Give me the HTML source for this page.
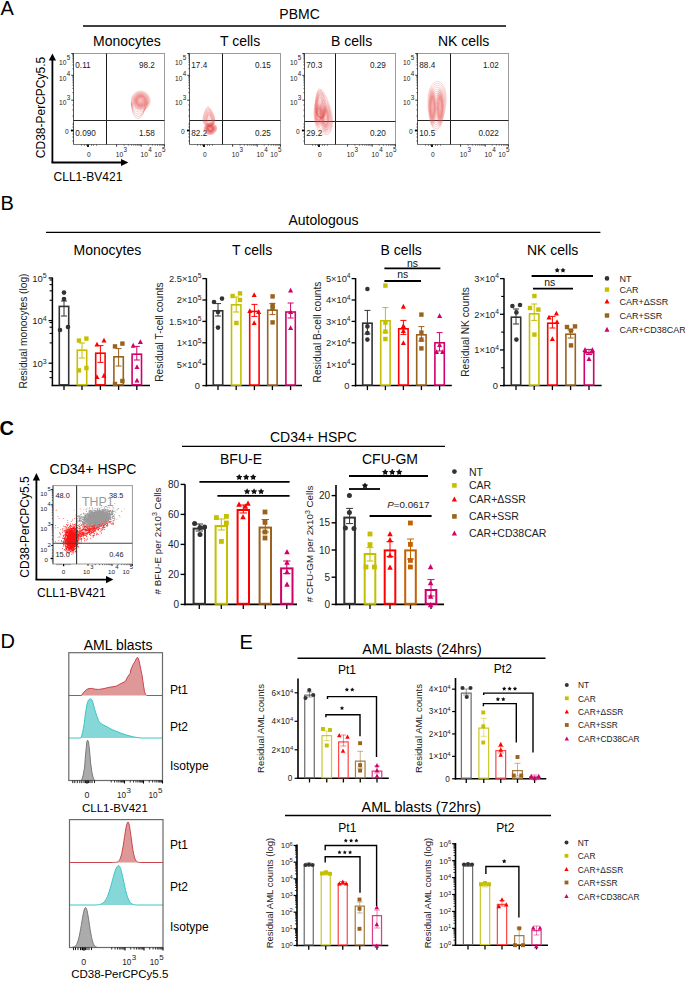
<!DOCTYPE html>
<html><head><meta charset="utf-8"><style>
html,body{margin:0;padding:0;background:#fff;overflow:hidden;}
svg{display:block;}
text{font-family:"Liberation Sans", sans-serif;}
</style></head><body>
<svg width="685" height="981" viewBox="0 0 685 981">
<defs><radialGradient id="cg"><stop offset="0" stop-color="#e04848" stop-opacity="0.9"/><stop offset="0.6" stop-color="#e86060" stop-opacity="0.55"/><stop offset="1" stop-color="#f09090" stop-opacity="0.15"/></radialGradient>
<radialGradient id="dg"><stop offset="0" stop-color="#ffffff" stop-opacity="0.9"/><stop offset="0.12" stop-color="#f07070" stop-opacity="0.25"/><stop offset="0.5" stop-color="#e04848" stop-opacity="0.5"/><stop offset="0.8" stop-color="#e86868" stop-opacity="0.28"/><stop offset="1" stop-color="#f49a9a" stop-opacity="0.06"/></radialGradient></defs>
<rect x="0" y="0" width="685" height="981" fill="#fff"/>
<text x="0.5" y="14.8" font-size="20" text-anchor="start" font-weight="normal" fill="#000">A</text>
<text x="299.6" y="19" font-size="14" text-anchor="middle" font-weight="normal" fill="#000">PBMC</text>
<line x1="83" y1="26" x2="506" y2="26" stroke="#000" stroke-width="1.4"/>
<text x="93" y="45.6" font-size="14" text-anchor="start" font-weight="normal" fill="#000">Monocytes</text>
<text x="220" y="45.6" font-size="14" text-anchor="start" font-weight="normal" fill="#000">T cells</text>
<text x="331" y="45.6" font-size="14" text-anchor="start" font-weight="normal" fill="#000">B cells</text>
<text x="438" y="45.6" font-size="14" text-anchor="start" font-weight="normal" fill="#000">NK cells</text>
<rect x="73.5" y="53.5" width="91" height="91" stroke="#9a9a9a" fill="none" stroke-width="1"/>
<line x1="73.5" y1="53.5" x2="73.5" y2="144.5" stroke="#555" stroke-width="1"/>
<line x1="73.5" y1="144.5" x2="164.5" y2="144.5" stroke="#777" stroke-width="1"/>
<line x1="106.5" y1="53.5" x2="106.5" y2="144.5" stroke="#1a1a1a" stroke-width="1"/>
<line x1="73.5" y1="120.5" x2="164.5" y2="120.5" stroke="#262626" stroke-width="1"/>
<line x1="71.3" y1="100.2" x2="73.5" y2="100.2" stroke="#000" stroke-width="0.8"/>
<line x1="71.3" y1="75.3" x2="73.5" y2="75.3" stroke="#000" stroke-width="0.8"/>
<line x1="71.3" y1="53.5" x2="73.5" y2="53.5" stroke="#000" stroke-width="0.8"/>
<line x1="72.2" y1="92.7" x2="73.5" y2="92.7" stroke="#000" stroke-width="0.5"/>
<line x1="72.2" y1="88.32" x2="73.5" y2="88.32" stroke="#000" stroke-width="0.5"/>
<line x1="72.2" y1="85.21" x2="73.5" y2="85.21" stroke="#000" stroke-width="0.5"/>
<line x1="72.2" y1="82.8" x2="73.5" y2="82.8" stroke="#000" stroke-width="0.5"/>
<line x1="72.2" y1="80.82" x2="73.5" y2="80.82" stroke="#000" stroke-width="0.5"/>
<line x1="72.2" y1="79.16" x2="73.5" y2="79.16" stroke="#000" stroke-width="0.5"/>
<line x1="72.2" y1="77.71" x2="73.5" y2="77.71" stroke="#000" stroke-width="0.5"/>
<line x1="72.2" y1="76.44" x2="73.5" y2="76.44" stroke="#000" stroke-width="0.5"/>
<line x1="72.2" y1="68.74" x2="73.5" y2="68.74" stroke="#000" stroke-width="0.5"/>
<line x1="72.2" y1="64.9" x2="73.5" y2="64.9" stroke="#000" stroke-width="0.5"/>
<line x1="72.2" y1="62.18" x2="73.5" y2="62.18" stroke="#000" stroke-width="0.5"/>
<line x1="72.2" y1="60.06" x2="73.5" y2="60.06" stroke="#000" stroke-width="0.5"/>
<line x1="72.2" y1="58.34" x2="73.5" y2="58.34" stroke="#000" stroke-width="0.5"/>
<line x1="72.2" y1="56.88" x2="73.5" y2="56.88" stroke="#000" stroke-width="0.5"/>
<line x1="72.2" y1="55.61" x2="73.5" y2="55.61" stroke="#000" stroke-width="0.5"/>
<line x1="72.2" y1="54.5" x2="73.5" y2="54.5" stroke="#000" stroke-width="0.5"/>
<line x1="72.2" y1="105" x2="73.5" y2="105" stroke="#000" stroke-width="0.5"/>
<line x1="72.2" y1="110" x2="73.5" y2="110" stroke="#000" stroke-width="0.5"/>
<line x1="72.2" y1="116" x2="73.5" y2="116" stroke="#000" stroke-width="0.5"/>
<line x1="72.2" y1="124" x2="73.5" y2="124" stroke="#000" stroke-width="0.5"/>
<line x1="72.2" y1="127" x2="73.5" y2="127" stroke="#000" stroke-width="0.5"/>
<line x1="72.2" y1="134" x2="73.5" y2="134" stroke="#000" stroke-width="0.5"/>
<line x1="72.2" y1="137" x2="73.5" y2="137" stroke="#000" stroke-width="0.5"/>
<line x1="72.2" y1="141" x2="73.5" y2="141" stroke="#000" stroke-width="0.5"/>
<line x1="70.9" y1="130.5" x2="73.5" y2="130.5" stroke="#000" stroke-width="1.8"/>
<text x="59.1" y="64.8" font-size="6.6" fill="#222">10<tspan font-size="6.27" dx="0.3" dy="-5">5</tspan></text>
<text x="59.1" y="80.6" font-size="6.6" fill="#222">10<tspan font-size="6.27" dx="0.3" dy="-5">4</tspan></text>
<text x="59.1" y="105" font-size="6.6" fill="#222">10<tspan font-size="6.27" dx="0.3" dy="-5">3</tspan></text>
<text x="64.9" y="134.3" font-size="6.6" text-anchor="start" font-weight="normal" fill="#222">0</text>
<line x1="88" y1="144.5" x2="88" y2="146.9" stroke="#000" stroke-width="1.8"/>
<line x1="81.5" y1="144.5" x2="81.5" y2="145.8" stroke="#000" stroke-width="0.5"/>
<line x1="84.5" y1="144.5" x2="84.5" y2="145.8" stroke="#000" stroke-width="0.5"/>
<line x1="86.5" y1="144.5" x2="86.5" y2="145.8" stroke="#000" stroke-width="0.5"/>
<line x1="91.5" y1="144.5" x2="91.5" y2="145.8" stroke="#000" stroke-width="0.5"/>
<line x1="93.5" y1="144.5" x2="93.5" y2="145.8" stroke="#000" stroke-width="0.5"/>
<line x1="96.5" y1="144.5" x2="96.5" y2="145.8" stroke="#000" stroke-width="0.5"/>
<line x1="116.6" y1="144.5" x2="116.6" y2="146.7" stroke="#000" stroke-width="0.8"/>
<line x1="141.2" y1="144.5" x2="141.2" y2="146.7" stroke="#000" stroke-width="0.8"/>
<line x1="164.5" y1="144.5" x2="164.5" y2="146.7" stroke="#000" stroke-width="0.8"/>
<line x1="124.01" y1="144.5" x2="124.01" y2="145.8" stroke="#000" stroke-width="0.5"/>
<line x1="128.34" y1="144.5" x2="128.34" y2="145.8" stroke="#000" stroke-width="0.5"/>
<line x1="131.41" y1="144.5" x2="131.41" y2="145.8" stroke="#000" stroke-width="0.5"/>
<line x1="133.79" y1="144.5" x2="133.79" y2="145.8" stroke="#000" stroke-width="0.5"/>
<line x1="135.74" y1="144.5" x2="135.74" y2="145.8" stroke="#000" stroke-width="0.5"/>
<line x1="137.39" y1="144.5" x2="137.39" y2="145.8" stroke="#000" stroke-width="0.5"/>
<line x1="138.82" y1="144.5" x2="138.82" y2="145.8" stroke="#000" stroke-width="0.5"/>
<line x1="140.07" y1="144.5" x2="140.07" y2="145.8" stroke="#000" stroke-width="0.5"/>
<line x1="148.21" y1="144.5" x2="148.21" y2="145.8" stroke="#000" stroke-width="0.5"/>
<line x1="152.32" y1="144.5" x2="152.32" y2="145.8" stroke="#000" stroke-width="0.5"/>
<line x1="155.23" y1="144.5" x2="155.23" y2="145.8" stroke="#000" stroke-width="0.5"/>
<line x1="157.49" y1="144.5" x2="157.49" y2="145.8" stroke="#000" stroke-width="0.5"/>
<line x1="159.33" y1="144.5" x2="159.33" y2="145.8" stroke="#000" stroke-width="0.5"/>
<line x1="160.89" y1="144.5" x2="160.89" y2="145.8" stroke="#000" stroke-width="0.5"/>
<line x1="162.24" y1="144.5" x2="162.24" y2="145.8" stroke="#000" stroke-width="0.5"/>
<line x1="163.43" y1="144.5" x2="163.43" y2="145.8" stroke="#000" stroke-width="0.5"/>
<text x="88.8" y="156.8" font-size="6.6" text-anchor="middle" font-weight="normal" fill="#222">0</text>
<text x="115.8" y="156.8" font-size="6.6" fill="#222">10<tspan font-size="6.27" dx="0.3" dy="-5">3</tspan></text>
<text x="140.5" y="156.8" font-size="6.6" fill="#222">10<tspan font-size="6.27" dx="0.3" dy="-5">4</tspan></text>
<text x="154.3" y="156.8" font-size="6.6" fill="#222">10<tspan font-size="6.27" dx="0.3" dy="-5">5</tspan></text>
<text x="75.3" y="67.6" font-size="8.2" text-anchor="start" font-weight="normal" fill="#222">0.11</text>
<text x="154.9" y="67.6" font-size="8.2" text-anchor="end" font-weight="normal" fill="#222">98.2</text>
<text x="75.3" y="136.2" font-size="8.2" text-anchor="start" font-weight="normal" fill="#222">0.090</text>
<text x="154.9" y="136.2" font-size="8.2" text-anchor="end" font-weight="normal" fill="#222">1.58</text>
<rect x="189.5" y="53.5" width="91" height="91" stroke="#9a9a9a" fill="none" stroke-width="1"/>
<line x1="189.5" y1="53.5" x2="189.5" y2="144.5" stroke="#555" stroke-width="1"/>
<line x1="189.5" y1="144.5" x2="280.5" y2="144.5" stroke="#777" stroke-width="1"/>
<line x1="222.5" y1="53.5" x2="222.5" y2="144.5" stroke="#1a1a1a" stroke-width="1"/>
<line x1="189.5" y1="120.5" x2="280.5" y2="120.5" stroke="#262626" stroke-width="1"/>
<line x1="187.3" y1="100.2" x2="189.5" y2="100.2" stroke="#000" stroke-width="0.8"/>
<line x1="187.3" y1="75.3" x2="189.5" y2="75.3" stroke="#000" stroke-width="0.8"/>
<line x1="187.3" y1="53.5" x2="189.5" y2="53.5" stroke="#000" stroke-width="0.8"/>
<line x1="188.2" y1="92.7" x2="189.5" y2="92.7" stroke="#000" stroke-width="0.5"/>
<line x1="188.2" y1="88.32" x2="189.5" y2="88.32" stroke="#000" stroke-width="0.5"/>
<line x1="188.2" y1="85.21" x2="189.5" y2="85.21" stroke="#000" stroke-width="0.5"/>
<line x1="188.2" y1="82.8" x2="189.5" y2="82.8" stroke="#000" stroke-width="0.5"/>
<line x1="188.2" y1="80.82" x2="189.5" y2="80.82" stroke="#000" stroke-width="0.5"/>
<line x1="188.2" y1="79.16" x2="189.5" y2="79.16" stroke="#000" stroke-width="0.5"/>
<line x1="188.2" y1="77.71" x2="189.5" y2="77.71" stroke="#000" stroke-width="0.5"/>
<line x1="188.2" y1="76.44" x2="189.5" y2="76.44" stroke="#000" stroke-width="0.5"/>
<line x1="188.2" y1="68.74" x2="189.5" y2="68.74" stroke="#000" stroke-width="0.5"/>
<line x1="188.2" y1="64.9" x2="189.5" y2="64.9" stroke="#000" stroke-width="0.5"/>
<line x1="188.2" y1="62.18" x2="189.5" y2="62.18" stroke="#000" stroke-width="0.5"/>
<line x1="188.2" y1="60.06" x2="189.5" y2="60.06" stroke="#000" stroke-width="0.5"/>
<line x1="188.2" y1="58.34" x2="189.5" y2="58.34" stroke="#000" stroke-width="0.5"/>
<line x1="188.2" y1="56.88" x2="189.5" y2="56.88" stroke="#000" stroke-width="0.5"/>
<line x1="188.2" y1="55.61" x2="189.5" y2="55.61" stroke="#000" stroke-width="0.5"/>
<line x1="188.2" y1="54.5" x2="189.5" y2="54.5" stroke="#000" stroke-width="0.5"/>
<line x1="188.2" y1="105" x2="189.5" y2="105" stroke="#000" stroke-width="0.5"/>
<line x1="188.2" y1="110" x2="189.5" y2="110" stroke="#000" stroke-width="0.5"/>
<line x1="188.2" y1="116" x2="189.5" y2="116" stroke="#000" stroke-width="0.5"/>
<line x1="188.2" y1="124" x2="189.5" y2="124" stroke="#000" stroke-width="0.5"/>
<line x1="188.2" y1="127" x2="189.5" y2="127" stroke="#000" stroke-width="0.5"/>
<line x1="188.2" y1="134" x2="189.5" y2="134" stroke="#000" stroke-width="0.5"/>
<line x1="188.2" y1="137" x2="189.5" y2="137" stroke="#000" stroke-width="0.5"/>
<line x1="188.2" y1="141" x2="189.5" y2="141" stroke="#000" stroke-width="0.5"/>
<line x1="186.9" y1="130.5" x2="189.5" y2="130.5" stroke="#000" stroke-width="1.8"/>
<text x="175.1" y="64.8" font-size="6.6" fill="#222">10<tspan font-size="6.27" dx="0.3" dy="-5">5</tspan></text>
<text x="175.1" y="80.6" font-size="6.6" fill="#222">10<tspan font-size="6.27" dx="0.3" dy="-5">4</tspan></text>
<text x="175.1" y="105" font-size="6.6" fill="#222">10<tspan font-size="6.27" dx="0.3" dy="-5">3</tspan></text>
<text x="180.9" y="134.3" font-size="6.6" text-anchor="start" font-weight="normal" fill="#222">0</text>
<line x1="204" y1="144.5" x2="204" y2="146.9" stroke="#000" stroke-width="1.8"/>
<line x1="197.5" y1="144.5" x2="197.5" y2="145.8" stroke="#000" stroke-width="0.5"/>
<line x1="200.5" y1="144.5" x2="200.5" y2="145.8" stroke="#000" stroke-width="0.5"/>
<line x1="202.5" y1="144.5" x2="202.5" y2="145.8" stroke="#000" stroke-width="0.5"/>
<line x1="207.5" y1="144.5" x2="207.5" y2="145.8" stroke="#000" stroke-width="0.5"/>
<line x1="209.5" y1="144.5" x2="209.5" y2="145.8" stroke="#000" stroke-width="0.5"/>
<line x1="212.5" y1="144.5" x2="212.5" y2="145.8" stroke="#000" stroke-width="0.5"/>
<line x1="232.6" y1="144.5" x2="232.6" y2="146.7" stroke="#000" stroke-width="0.8"/>
<line x1="257.2" y1="144.5" x2="257.2" y2="146.7" stroke="#000" stroke-width="0.8"/>
<line x1="280.5" y1="144.5" x2="280.5" y2="146.7" stroke="#000" stroke-width="0.8"/>
<line x1="240.01" y1="144.5" x2="240.01" y2="145.8" stroke="#000" stroke-width="0.5"/>
<line x1="244.34" y1="144.5" x2="244.34" y2="145.8" stroke="#000" stroke-width="0.5"/>
<line x1="247.41" y1="144.5" x2="247.41" y2="145.8" stroke="#000" stroke-width="0.5"/>
<line x1="249.79" y1="144.5" x2="249.79" y2="145.8" stroke="#000" stroke-width="0.5"/>
<line x1="251.74" y1="144.5" x2="251.74" y2="145.8" stroke="#000" stroke-width="0.5"/>
<line x1="253.39" y1="144.5" x2="253.39" y2="145.8" stroke="#000" stroke-width="0.5"/>
<line x1="254.82" y1="144.5" x2="254.82" y2="145.8" stroke="#000" stroke-width="0.5"/>
<line x1="256.07" y1="144.5" x2="256.07" y2="145.8" stroke="#000" stroke-width="0.5"/>
<line x1="264.21" y1="144.5" x2="264.21" y2="145.8" stroke="#000" stroke-width="0.5"/>
<line x1="268.32" y1="144.5" x2="268.32" y2="145.8" stroke="#000" stroke-width="0.5"/>
<line x1="271.23" y1="144.5" x2="271.23" y2="145.8" stroke="#000" stroke-width="0.5"/>
<line x1="273.49" y1="144.5" x2="273.49" y2="145.8" stroke="#000" stroke-width="0.5"/>
<line x1="275.33" y1="144.5" x2="275.33" y2="145.8" stroke="#000" stroke-width="0.5"/>
<line x1="276.89" y1="144.5" x2="276.89" y2="145.8" stroke="#000" stroke-width="0.5"/>
<line x1="278.24" y1="144.5" x2="278.24" y2="145.8" stroke="#000" stroke-width="0.5"/>
<line x1="279.43" y1="144.5" x2="279.43" y2="145.8" stroke="#000" stroke-width="0.5"/>
<text x="204.8" y="156.8" font-size="6.6" text-anchor="middle" font-weight="normal" fill="#222">0</text>
<text x="231.8" y="156.8" font-size="6.6" fill="#222">10<tspan font-size="6.27" dx="0.3" dy="-5">3</tspan></text>
<text x="256.5" y="156.8" font-size="6.6" fill="#222">10<tspan font-size="6.27" dx="0.3" dy="-5">4</tspan></text>
<text x="270.3" y="156.8" font-size="6.6" fill="#222">10<tspan font-size="6.27" dx="0.3" dy="-5">5</tspan></text>
<text x="191.3" y="67.6" font-size="8.2" text-anchor="start" font-weight="normal" fill="#222">17.4</text>
<text x="270.9" y="67.6" font-size="8.2" text-anchor="end" font-weight="normal" fill="#222">0.15</text>
<text x="191.3" y="136.2" font-size="8.2" text-anchor="start" font-weight="normal" fill="#222">82.2</text>
<text x="270.9" y="136.2" font-size="8.2" text-anchor="end" font-weight="normal" fill="#222">0.25</text>
<rect x="304.5" y="53.5" width="91" height="91" stroke="#9a9a9a" fill="none" stroke-width="1"/>
<line x1="304.5" y1="53.5" x2="304.5" y2="144.5" stroke="#555" stroke-width="1"/>
<line x1="304.5" y1="144.5" x2="395.5" y2="144.5" stroke="#777" stroke-width="1"/>
<line x1="335.5" y1="53.5" x2="335.5" y2="144.5" stroke="#1a1a1a" stroke-width="1"/>
<line x1="304.5" y1="121.5" x2="395.5" y2="121.5" stroke="#262626" stroke-width="1"/>
<line x1="302.3" y1="100.2" x2="304.5" y2="100.2" stroke="#000" stroke-width="0.8"/>
<line x1="302.3" y1="75.3" x2="304.5" y2="75.3" stroke="#000" stroke-width="0.8"/>
<line x1="302.3" y1="53.5" x2="304.5" y2="53.5" stroke="#000" stroke-width="0.8"/>
<line x1="303.2" y1="92.7" x2="304.5" y2="92.7" stroke="#000" stroke-width="0.5"/>
<line x1="303.2" y1="88.32" x2="304.5" y2="88.32" stroke="#000" stroke-width="0.5"/>
<line x1="303.2" y1="85.21" x2="304.5" y2="85.21" stroke="#000" stroke-width="0.5"/>
<line x1="303.2" y1="82.8" x2="304.5" y2="82.8" stroke="#000" stroke-width="0.5"/>
<line x1="303.2" y1="80.82" x2="304.5" y2="80.82" stroke="#000" stroke-width="0.5"/>
<line x1="303.2" y1="79.16" x2="304.5" y2="79.16" stroke="#000" stroke-width="0.5"/>
<line x1="303.2" y1="77.71" x2="304.5" y2="77.71" stroke="#000" stroke-width="0.5"/>
<line x1="303.2" y1="76.44" x2="304.5" y2="76.44" stroke="#000" stroke-width="0.5"/>
<line x1="303.2" y1="68.74" x2="304.5" y2="68.74" stroke="#000" stroke-width="0.5"/>
<line x1="303.2" y1="64.9" x2="304.5" y2="64.9" stroke="#000" stroke-width="0.5"/>
<line x1="303.2" y1="62.18" x2="304.5" y2="62.18" stroke="#000" stroke-width="0.5"/>
<line x1="303.2" y1="60.06" x2="304.5" y2="60.06" stroke="#000" stroke-width="0.5"/>
<line x1="303.2" y1="58.34" x2="304.5" y2="58.34" stroke="#000" stroke-width="0.5"/>
<line x1="303.2" y1="56.88" x2="304.5" y2="56.88" stroke="#000" stroke-width="0.5"/>
<line x1="303.2" y1="55.61" x2="304.5" y2="55.61" stroke="#000" stroke-width="0.5"/>
<line x1="303.2" y1="54.5" x2="304.5" y2="54.5" stroke="#000" stroke-width="0.5"/>
<line x1="303.2" y1="105" x2="304.5" y2="105" stroke="#000" stroke-width="0.5"/>
<line x1="303.2" y1="110" x2="304.5" y2="110" stroke="#000" stroke-width="0.5"/>
<line x1="303.2" y1="116" x2="304.5" y2="116" stroke="#000" stroke-width="0.5"/>
<line x1="303.2" y1="124" x2="304.5" y2="124" stroke="#000" stroke-width="0.5"/>
<line x1="303.2" y1="127" x2="304.5" y2="127" stroke="#000" stroke-width="0.5"/>
<line x1="303.2" y1="134" x2="304.5" y2="134" stroke="#000" stroke-width="0.5"/>
<line x1="303.2" y1="137" x2="304.5" y2="137" stroke="#000" stroke-width="0.5"/>
<line x1="303.2" y1="141" x2="304.5" y2="141" stroke="#000" stroke-width="0.5"/>
<line x1="301.9" y1="130.5" x2="304.5" y2="130.5" stroke="#000" stroke-width="1.8"/>
<text x="290.1" y="64.8" font-size="6.6" fill="#222">10<tspan font-size="6.27" dx="0.3" dy="-5">5</tspan></text>
<text x="290.1" y="80.6" font-size="6.6" fill="#222">10<tspan font-size="6.27" dx="0.3" dy="-5">4</tspan></text>
<text x="290.1" y="105" font-size="6.6" fill="#222">10<tspan font-size="6.27" dx="0.3" dy="-5">3</tspan></text>
<text x="295.9" y="134.3" font-size="6.6" text-anchor="start" font-weight="normal" fill="#222">0</text>
<line x1="319" y1="144.5" x2="319" y2="146.9" stroke="#000" stroke-width="1.8"/>
<line x1="312.5" y1="144.5" x2="312.5" y2="145.8" stroke="#000" stroke-width="0.5"/>
<line x1="315.5" y1="144.5" x2="315.5" y2="145.8" stroke="#000" stroke-width="0.5"/>
<line x1="317.5" y1="144.5" x2="317.5" y2="145.8" stroke="#000" stroke-width="0.5"/>
<line x1="322.5" y1="144.5" x2="322.5" y2="145.8" stroke="#000" stroke-width="0.5"/>
<line x1="324.5" y1="144.5" x2="324.5" y2="145.8" stroke="#000" stroke-width="0.5"/>
<line x1="327.5" y1="144.5" x2="327.5" y2="145.8" stroke="#000" stroke-width="0.5"/>
<line x1="347.6" y1="144.5" x2="347.6" y2="146.7" stroke="#000" stroke-width="0.8"/>
<line x1="372.2" y1="144.5" x2="372.2" y2="146.7" stroke="#000" stroke-width="0.8"/>
<line x1="395.5" y1="144.5" x2="395.5" y2="146.7" stroke="#000" stroke-width="0.8"/>
<line x1="355.01" y1="144.5" x2="355.01" y2="145.8" stroke="#000" stroke-width="0.5"/>
<line x1="359.34" y1="144.5" x2="359.34" y2="145.8" stroke="#000" stroke-width="0.5"/>
<line x1="362.41" y1="144.5" x2="362.41" y2="145.8" stroke="#000" stroke-width="0.5"/>
<line x1="364.79" y1="144.5" x2="364.79" y2="145.8" stroke="#000" stroke-width="0.5"/>
<line x1="366.74" y1="144.5" x2="366.74" y2="145.8" stroke="#000" stroke-width="0.5"/>
<line x1="368.39" y1="144.5" x2="368.39" y2="145.8" stroke="#000" stroke-width="0.5"/>
<line x1="369.82" y1="144.5" x2="369.82" y2="145.8" stroke="#000" stroke-width="0.5"/>
<line x1="371.07" y1="144.5" x2="371.07" y2="145.8" stroke="#000" stroke-width="0.5"/>
<line x1="379.21" y1="144.5" x2="379.21" y2="145.8" stroke="#000" stroke-width="0.5"/>
<line x1="383.32" y1="144.5" x2="383.32" y2="145.8" stroke="#000" stroke-width="0.5"/>
<line x1="386.23" y1="144.5" x2="386.23" y2="145.8" stroke="#000" stroke-width="0.5"/>
<line x1="388.49" y1="144.5" x2="388.49" y2="145.8" stroke="#000" stroke-width="0.5"/>
<line x1="390.33" y1="144.5" x2="390.33" y2="145.8" stroke="#000" stroke-width="0.5"/>
<line x1="391.89" y1="144.5" x2="391.89" y2="145.8" stroke="#000" stroke-width="0.5"/>
<line x1="393.24" y1="144.5" x2="393.24" y2="145.8" stroke="#000" stroke-width="0.5"/>
<line x1="394.43" y1="144.5" x2="394.43" y2="145.8" stroke="#000" stroke-width="0.5"/>
<text x="319.8" y="156.8" font-size="6.6" text-anchor="middle" font-weight="normal" fill="#222">0</text>
<text x="346.8" y="156.8" font-size="6.6" fill="#222">10<tspan font-size="6.27" dx="0.3" dy="-5">3</tspan></text>
<text x="371.5" y="156.8" font-size="6.6" fill="#222">10<tspan font-size="6.27" dx="0.3" dy="-5">4</tspan></text>
<text x="385.3" y="156.8" font-size="6.6" fill="#222">10<tspan font-size="6.27" dx="0.3" dy="-5">5</tspan></text>
<text x="306.3" y="67.6" font-size="8.2" text-anchor="start" font-weight="normal" fill="#222">70.3</text>
<text x="385.9" y="67.6" font-size="8.2" text-anchor="end" font-weight="normal" fill="#222">0.29</text>
<text x="306.3" y="136.2" font-size="8.2" text-anchor="start" font-weight="normal" fill="#222">29.2</text>
<text x="385.9" y="136.2" font-size="8.2" text-anchor="end" font-weight="normal" fill="#222">0.20</text>
<rect x="417.5" y="53.5" width="91" height="91" stroke="#9a9a9a" fill="none" stroke-width="1"/>
<line x1="417.5" y1="53.5" x2="417.5" y2="144.5" stroke="#555" stroke-width="1"/>
<line x1="417.5" y1="144.5" x2="508.5" y2="144.5" stroke="#777" stroke-width="1"/>
<line x1="450.5" y1="53.5" x2="450.5" y2="144.5" stroke="#1a1a1a" stroke-width="1"/>
<line x1="417.5" y1="120.5" x2="508.5" y2="120.5" stroke="#262626" stroke-width="1"/>
<line x1="415.3" y1="100.2" x2="417.5" y2="100.2" stroke="#000" stroke-width="0.8"/>
<line x1="415.3" y1="75.3" x2="417.5" y2="75.3" stroke="#000" stroke-width="0.8"/>
<line x1="415.3" y1="53.5" x2="417.5" y2="53.5" stroke="#000" stroke-width="0.8"/>
<line x1="416.2" y1="92.7" x2="417.5" y2="92.7" stroke="#000" stroke-width="0.5"/>
<line x1="416.2" y1="88.32" x2="417.5" y2="88.32" stroke="#000" stroke-width="0.5"/>
<line x1="416.2" y1="85.21" x2="417.5" y2="85.21" stroke="#000" stroke-width="0.5"/>
<line x1="416.2" y1="82.8" x2="417.5" y2="82.8" stroke="#000" stroke-width="0.5"/>
<line x1="416.2" y1="80.82" x2="417.5" y2="80.82" stroke="#000" stroke-width="0.5"/>
<line x1="416.2" y1="79.16" x2="417.5" y2="79.16" stroke="#000" stroke-width="0.5"/>
<line x1="416.2" y1="77.71" x2="417.5" y2="77.71" stroke="#000" stroke-width="0.5"/>
<line x1="416.2" y1="76.44" x2="417.5" y2="76.44" stroke="#000" stroke-width="0.5"/>
<line x1="416.2" y1="68.74" x2="417.5" y2="68.74" stroke="#000" stroke-width="0.5"/>
<line x1="416.2" y1="64.9" x2="417.5" y2="64.9" stroke="#000" stroke-width="0.5"/>
<line x1="416.2" y1="62.18" x2="417.5" y2="62.18" stroke="#000" stroke-width="0.5"/>
<line x1="416.2" y1="60.06" x2="417.5" y2="60.06" stroke="#000" stroke-width="0.5"/>
<line x1="416.2" y1="58.34" x2="417.5" y2="58.34" stroke="#000" stroke-width="0.5"/>
<line x1="416.2" y1="56.88" x2="417.5" y2="56.88" stroke="#000" stroke-width="0.5"/>
<line x1="416.2" y1="55.61" x2="417.5" y2="55.61" stroke="#000" stroke-width="0.5"/>
<line x1="416.2" y1="54.5" x2="417.5" y2="54.5" stroke="#000" stroke-width="0.5"/>
<line x1="416.2" y1="105" x2="417.5" y2="105" stroke="#000" stroke-width="0.5"/>
<line x1="416.2" y1="110" x2="417.5" y2="110" stroke="#000" stroke-width="0.5"/>
<line x1="416.2" y1="116" x2="417.5" y2="116" stroke="#000" stroke-width="0.5"/>
<line x1="416.2" y1="124" x2="417.5" y2="124" stroke="#000" stroke-width="0.5"/>
<line x1="416.2" y1="127" x2="417.5" y2="127" stroke="#000" stroke-width="0.5"/>
<line x1="416.2" y1="134" x2="417.5" y2="134" stroke="#000" stroke-width="0.5"/>
<line x1="416.2" y1="137" x2="417.5" y2="137" stroke="#000" stroke-width="0.5"/>
<line x1="416.2" y1="141" x2="417.5" y2="141" stroke="#000" stroke-width="0.5"/>
<line x1="414.9" y1="130.5" x2="417.5" y2="130.5" stroke="#000" stroke-width="1.8"/>
<text x="403.1" y="64.8" font-size="6.6" fill="#222">10<tspan font-size="6.27" dx="0.3" dy="-5">5</tspan></text>
<text x="403.1" y="80.6" font-size="6.6" fill="#222">10<tspan font-size="6.27" dx="0.3" dy="-5">4</tspan></text>
<text x="403.1" y="105" font-size="6.6" fill="#222">10<tspan font-size="6.27" dx="0.3" dy="-5">3</tspan></text>
<text x="408.9" y="134.3" font-size="6.6" text-anchor="start" font-weight="normal" fill="#222">0</text>
<line x1="432" y1="144.5" x2="432" y2="146.9" stroke="#000" stroke-width="1.8"/>
<line x1="425.5" y1="144.5" x2="425.5" y2="145.8" stroke="#000" stroke-width="0.5"/>
<line x1="428.5" y1="144.5" x2="428.5" y2="145.8" stroke="#000" stroke-width="0.5"/>
<line x1="430.5" y1="144.5" x2="430.5" y2="145.8" stroke="#000" stroke-width="0.5"/>
<line x1="435.5" y1="144.5" x2="435.5" y2="145.8" stroke="#000" stroke-width="0.5"/>
<line x1="437.5" y1="144.5" x2="437.5" y2="145.8" stroke="#000" stroke-width="0.5"/>
<line x1="440.5" y1="144.5" x2="440.5" y2="145.8" stroke="#000" stroke-width="0.5"/>
<line x1="460.6" y1="144.5" x2="460.6" y2="146.7" stroke="#000" stroke-width="0.8"/>
<line x1="485.2" y1="144.5" x2="485.2" y2="146.7" stroke="#000" stroke-width="0.8"/>
<line x1="508.5" y1="144.5" x2="508.5" y2="146.7" stroke="#000" stroke-width="0.8"/>
<line x1="468.01" y1="144.5" x2="468.01" y2="145.8" stroke="#000" stroke-width="0.5"/>
<line x1="472.34" y1="144.5" x2="472.34" y2="145.8" stroke="#000" stroke-width="0.5"/>
<line x1="475.41" y1="144.5" x2="475.41" y2="145.8" stroke="#000" stroke-width="0.5"/>
<line x1="477.79" y1="144.5" x2="477.79" y2="145.8" stroke="#000" stroke-width="0.5"/>
<line x1="479.74" y1="144.5" x2="479.74" y2="145.8" stroke="#000" stroke-width="0.5"/>
<line x1="481.39" y1="144.5" x2="481.39" y2="145.8" stroke="#000" stroke-width="0.5"/>
<line x1="482.82" y1="144.5" x2="482.82" y2="145.8" stroke="#000" stroke-width="0.5"/>
<line x1="484.07" y1="144.5" x2="484.07" y2="145.8" stroke="#000" stroke-width="0.5"/>
<line x1="492.21" y1="144.5" x2="492.21" y2="145.8" stroke="#000" stroke-width="0.5"/>
<line x1="496.32" y1="144.5" x2="496.32" y2="145.8" stroke="#000" stroke-width="0.5"/>
<line x1="499.23" y1="144.5" x2="499.23" y2="145.8" stroke="#000" stroke-width="0.5"/>
<line x1="501.49" y1="144.5" x2="501.49" y2="145.8" stroke="#000" stroke-width="0.5"/>
<line x1="503.33" y1="144.5" x2="503.33" y2="145.8" stroke="#000" stroke-width="0.5"/>
<line x1="504.89" y1="144.5" x2="504.89" y2="145.8" stroke="#000" stroke-width="0.5"/>
<line x1="506.24" y1="144.5" x2="506.24" y2="145.8" stroke="#000" stroke-width="0.5"/>
<line x1="507.43" y1="144.5" x2="507.43" y2="145.8" stroke="#000" stroke-width="0.5"/>
<text x="432.8" y="156.8" font-size="6.6" text-anchor="middle" font-weight="normal" fill="#222">0</text>
<text x="459.8" y="156.8" font-size="6.6" fill="#222">10<tspan font-size="6.27" dx="0.3" dy="-5">3</tspan></text>
<text x="484.5" y="156.8" font-size="6.6" fill="#222">10<tspan font-size="6.27" dx="0.3" dy="-5">4</tspan></text>
<text x="498.3" y="156.8" font-size="6.6" fill="#222">10<tspan font-size="6.27" dx="0.3" dy="-5">5</tspan></text>
<text x="419.3" y="67.6" font-size="8.2" text-anchor="start" font-weight="normal" fill="#222">88.4</text>
<text x="498.9" y="67.6" font-size="8.2" text-anchor="end" font-weight="normal" fill="#222">1.02</text>
<text x="419.3" y="136.2" font-size="8.2" text-anchor="start" font-weight="normal" fill="#222">10.5</text>
<text x="498.9" y="136.2" font-size="8.2" text-anchor="end" font-weight="normal" fill="#222">0.022</text>
<path d="M131.4 101.5 A8.2 10.7 0 0 0 147.8 101.5" fill="none" stroke="#e23c3c" stroke-opacity="0.5" stroke-width="0.5"/>
<path d="M131.45 102.3 A7.65 12 0 0 0 146.75 102.3" fill="none" stroke="#e23c3c" stroke-opacity="0.5" stroke-width="0.5"/>
<path d="M131.5 103.1 A7.1 13.3 0 0 0 145.7 103.1" fill="none" stroke="#e23c3c" stroke-opacity="0.5" stroke-width="0.5"/>
<path d="M131.55 103.9 A6.55 14.6 0 0 0 144.65 103.9" fill="none" stroke="#e23c3c" stroke-opacity="0.5" stroke-width="0.5"/>
<ellipse cx="140.7" cy="100.7" rx="9.2" ry="9.3" fill="url(#dg)" transform="rotate(0 140.7 100.7)"/>
<path d="M140.7 91.1 L142.33 91.25 L143.91 91.68 L145.4 92.39 L146.74 93.35 L147.9 94.53 L148.84 95.9 L149.53 97.42 L149.96 99.03 L150.1 100.7 L149.96 102.37 L149.53 103.98 L148.84 105.5 L147.9 106.87 L146.74 108.05 L145.4 109.01 L143.91 109.72 L142.33 110.15 L140.7 110.3 L139.07 110.15 L137.49 109.72 L136 109.01 L134.66 108.05 L133.5 106.87 L132.56 105.5 L131.87 103.98 L131.44 102.37 L131.3 100.7 L131.44 99.03 L131.87 97.42 L132.56 95.9 L133.5 94.53 L134.66 93.35 L136 92.39 L137.49 91.68 L139.07 91.25 Z" fill="#e23c3c" fill-opacity="0" stroke="#e23c3c" stroke-opacity="0.45" stroke-width="0.5"/><path d="M140.7 91.96 L142.19 92.1 L143.63 92.49 L144.98 93.13 L146.2 94.01 L147.25 95.08 L148.11 96.33 L148.74 97.71 L149.12 99.18 L149.25 100.7 L149.12 102.22 L148.74 103.69 L148.11 105.07 L147.25 106.32 L146.2 107.39 L144.98 108.27 L143.63 108.91 L142.19 109.3 L140.7 109.44 L139.21 109.3 L137.77 108.91 L136.42 108.27 L135.2 107.39 L134.15 106.32 L133.29 105.07 L132.66 103.69 L132.28 102.22 L132.15 100.7 L132.28 99.18 L132.66 97.71 L133.29 96.33 L134.15 95.08 L135.2 94.01 L136.42 93.13 L137.77 92.49 L139.21 92.1 Z" fill="#e23c3c" fill-opacity="0" stroke="#e23c3c" stroke-opacity="0.45" stroke-width="0.5"/><path d="M140.7 92.83 L142.04 92.95 L143.34 93.3 L144.55 93.88 L145.65 94.67 L146.6 95.64 L147.38 96.76 L147.94 98.01 L148.29 99.33 L148.41 100.7 L148.29 102.07 L147.94 103.39 L147.38 104.64 L146.6 105.76 L145.65 106.73 L144.55 107.52 L143.34 108.1 L142.04 108.45 L140.7 108.57 L139.36 108.45 L138.06 108.1 L136.85 107.52 L135.75 106.73 L134.8 105.76 L134.02 104.64 L133.46 103.39 L133.11 102.07 L132.99 100.7 L133.11 99.33 L133.46 98.01 L134.02 96.76 L134.8 95.64 L135.75 94.67 L136.85 93.88 L138.06 93.3 L139.36 92.95 Z" fill="#e23c3c" fill-opacity="0" stroke="#e23c3c" stroke-opacity="0.45" stroke-width="0.5"/><path d="M140.7 93.69 L141.89 93.8 L143.05 94.11 L144.13 94.63 L145.11 95.33 L145.96 96.2 L146.64 97.2 L147.15 98.3 L147.46 99.48 L147.56 100.7 L147.46 101.92 L147.15 103.1 L146.64 104.2 L145.96 105.2 L145.11 106.07 L144.13 106.77 L143.05 107.29 L141.89 107.6 L140.7 107.71 L139.51 107.6 L138.35 107.29 L137.27 106.77 L136.29 106.07 L135.44 105.2 L134.76 104.2 L134.25 103.1 L133.94 101.92 L133.84 100.7 L133.94 99.48 L134.25 98.3 L134.76 97.2 L135.44 96.2 L136.29 95.33 L137.27 94.63 L138.35 94.11 L139.51 93.8 Z" fill="#e23c3c" fill-opacity="0" stroke="#e23c3c" stroke-opacity="0.45" stroke-width="0.5"/><path d="M140.7 94.56 L141.74 94.65 L142.76 94.93 L143.71 95.38 L144.57 95.99 L145.31 96.75 L145.91 97.63 L146.35 98.6 L146.62 99.63 L146.72 100.7 L146.62 101.77 L146.35 102.8 L145.91 103.77 L145.31 104.65 L144.57 105.41 L143.71 106.02 L142.76 106.47 L141.74 106.75 L140.7 106.84 L139.66 106.75 L138.64 106.47 L137.69 106.02 L136.83 105.41 L136.09 104.65 L135.49 103.77 L135.05 102.8 L134.78 101.77 L134.68 100.7 L134.78 99.63 L135.05 98.6 L135.49 97.63 L136.09 96.75 L136.83 95.99 L137.69 95.38 L138.64 94.93 L139.66 94.65 Z" fill="#e23c3c" fill-opacity="0" stroke="#e23c3c" stroke-opacity="0.45" stroke-width="0.5"/><path d="M140.7 95.42 L141.6 95.5 L142.47 95.74 L143.28 96.13 L144.02 96.66 L144.66 97.31 L145.18 98.06 L145.56 98.89 L145.79 99.78 L145.87 100.7 L145.79 101.62 L145.56 102.51 L145.18 103.34 L144.66 104.09 L144.02 104.74 L143.28 105.27 L142.47 105.66 L141.6 105.9 L140.7 105.98 L139.8 105.9 L138.93 105.66 L138.11 105.27 L137.38 104.74 L136.74 104.09 L136.22 103.34 L135.84 102.51 L135.61 101.62 L135.53 100.7 L135.61 99.78 L135.84 98.89 L136.22 98.06 L136.74 97.31 L137.38 96.66 L138.11 96.13 L138.93 95.74 L139.8 95.5 Z" fill="#e23c3c" fill-opacity="0" stroke="#e23c3c" stroke-opacity="0.45" stroke-width="0.5"/><path d="M140.7 96.28 L141.45 96.35 L142.18 96.55 L142.86 96.88 L143.48 97.32 L144.01 97.86 L144.44 98.49 L144.76 99.19 L144.96 99.93 L145.02 100.7 L144.96 101.47 L144.76 102.21 L144.44 102.91 L144.01 103.54 L143.48 104.08 L142.86 104.52 L142.18 104.85 L141.45 105.05 L140.7 105.12 L139.95 105.05 L139.22 104.85 L138.54 104.52 L137.92 104.08 L137.39 103.54 L136.96 102.91 L136.64 102.21 L136.44 101.47 L136.38 100.7 L136.44 99.93 L136.64 99.19 L136.96 98.49 L137.39 97.86 L137.92 97.32 L138.54 96.88 L139.22 96.55 L139.95 96.35 Z" fill="#e23c3c" fill-opacity="0" stroke="#e23c3c" stroke-opacity="0.45" stroke-width="0.5"/><path d="M140.7 97.15 L141.3 97.2 L141.89 97.36 L142.44 97.62 L142.94 97.98 L143.36 98.42 L143.71 98.92 L143.97 99.49 L144.13 100.08 L144.18 100.7 L144.13 101.32 L143.97 101.91 L143.71 102.48 L143.36 102.98 L142.94 103.42 L142.44 103.78 L141.89 104.04 L141.3 104.2 L140.7 104.25 L140.1 104.2 L139.51 104.04 L138.96 103.78 L138.46 103.42 L138.04 102.98 L137.69 102.48 L137.43 101.91 L137.27 101.32 L137.22 100.7 L137.27 100.08 L137.43 99.49 L137.69 98.92 L138.04 98.42 L138.46 97.98 L138.96 97.62 L139.51 97.36 L140.1 97.2 Z" fill="#e23c3c" fill-opacity="0" stroke="#e23c3c" stroke-opacity="0.45" stroke-width="0.5"/><path d="M140.7 98.01 L141.16 98.05 L141.6 98.17 L142.02 98.37 L142.39 98.64 L142.72 98.97 L142.98 99.36 L143.17 99.78 L143.29 100.23 L143.33 100.7 L143.29 101.17 L143.17 101.62 L142.98 102.04 L142.72 102.43 L142.39 102.76 L142.02 103.03 L141.6 103.23 L141.16 103.35 L140.7 103.39 L140.24 103.35 L139.8 103.23 L139.38 103.03 L139.01 102.76 L138.68 102.43 L138.42 102.04 L138.23 101.62 L138.11 101.17 L138.07 100.7 L138.11 100.23 L138.23 99.78 L138.42 99.36 L138.68 98.97 L139.01 98.64 L139.38 98.37 L139.8 98.17 L140.24 98.05 Z" fill="#e23c3c" fill-opacity="0" stroke="#e23c3c" stroke-opacity="0.45" stroke-width="0.5"/><path d="M140.7 98.88 L141.01 98.9 L141.31 98.99 L141.59 99.12 L141.85 99.3 L142.07 99.53 L142.25 99.79 L142.38 100.08 L142.46 100.38 L142.49 100.7 L142.46 101.02 L142.38 101.32 L142.25 101.61 L142.07 101.87 L141.85 102.1 L141.59 102.28 L141.31 102.41 L141.01 102.5 L140.7 102.52 L140.39 102.5 L140.09 102.41 L139.81 102.28 L139.55 102.1 L139.33 101.87 L139.15 101.61 L139.02 101.32 L138.94 101.02 L138.91 100.7 L138.94 100.38 L139.02 100.08 L139.15 99.79 L139.33 99.53 L139.55 99.3 L139.81 99.12 L140.09 98.99 L140.39 98.9 Z" fill="#e23c3c" fill-opacity="0" stroke="#e23c3c" stroke-opacity="0.45" stroke-width="0.5"/><path d="M140.7 99.74 L140.86 99.75 L141.02 99.8 L141.17 99.87 L141.3 99.96 L141.42 100.08 L141.51 100.22 L141.58 100.37 L141.63 100.53 L141.64 100.7 L141.63 100.87 L141.58 101.03 L141.51 101.18 L141.42 101.32 L141.3 101.44 L141.17 101.53 L141.02 101.6 L140.86 101.65 L140.7 101.66 L140.54 101.65 L140.38 101.6 L140.23 101.53 L140.1 101.44 L139.98 101.32 L139.89 101.18 L139.82 101.03 L139.77 100.87 L139.76 100.7 L139.77 100.53 L139.82 100.37 L139.89 100.22 L139.98 100.08 L140.1 99.96 L140.23 99.87 L140.38 99.8 L140.54 99.75 Z" fill="#e23c3c" fill-opacity="0" stroke="#e23c3c" stroke-opacity="0.45" stroke-width="0.5"/>
<path d="M208.02 107.02 L208.55 107.14 L209.12 107.54 L209.75 108.21 L210.45 109.14 L211.2 110.29 L211.98 111.63 L212.75 113.12 L213.47 114.72 L214.09 116.37 L214.54 118.04 L214.77 119.67 L214.75 121.21 L214.46 122.63 L213.88 123.88 L213.03 124.91 L211.96 125.71 L210.72 126.23 L209.38 126.48 L208.02 126.42 L206.72 126.07 L205.55 125.43 L204.56 124.53 L203.82 123.37 L203.33 122.01 L203.09 120.49 L203.1 118.84 L203.31 117.13 L203.69 115.4 L204.18 113.72 L204.74 112.14 L205.33 110.7 L205.91 109.46 L206.47 108.44 L207 107.68 L207.51 107.21 Z" fill="#e45050" fill-opacity="0.04" stroke="#e23c3c" stroke-opacity="0.6" stroke-width="0.55"/>
<path d="M208.24 108.72 L208.7 108.82 L209.2 109.18 L209.74 109.78 L210.34 110.62 L210.99 111.64 L211.66 112.84 L212.33 114.17 L212.96 115.6 L213.49 117.08 L213.88 118.56 L214.09 120.02 L214.07 121.4 L213.82 122.66 L213.32 123.77 L212.6 124.69 L211.68 125.4 L210.61 125.87 L209.46 126.08 L208.29 126.03 L207.16 125.71 L206.15 125.14 L205.31 124.33 L204.66 123.3 L204.23 122.08 L204.03 120.72 L204.03 119.25 L204.21 117.72 L204.53 116.19 L204.95 114.69 L205.43 113.28 L205.93 112 L206.43 110.89 L206.91 109.98 L207.36 109.31 L207.8 108.88 Z" fill="#e45050" fill-opacity="0.04" stroke="#e23c3c" stroke-opacity="0.6" stroke-width="0.55"/>
<path d="M208.47 110.42 L208.85 110.51 L209.27 110.83 L209.73 111.36 L210.23 112.09 L210.78 113 L211.34 114.05 L211.91 115.22 L212.44 116.48 L212.89 117.78 L213.22 119.09 L213.4 120.37 L213.39 121.58 L213.19 122.69 L212.77 123.66 L212.17 124.47 L211.39 125.09 L210.5 125.5 L209.53 125.68 L208.55 125.63 L207.61 125.35 L206.76 124.85 L206.05 124.13 L205.5 123.22 L205.14 122.15 L204.96 120.96 L204.96 119.66 L205.11 118.32 L205.38 116.97 L205.72 115.66 L206.12 114.42 L206.54 113.29 L206.95 112.32 L207.35 111.52 L207.73 110.93 L208.1 110.56 Z" fill="#e45050" fill-opacity="0.04" stroke="#e23c3c" stroke-opacity="0.6" stroke-width="0.55"/>
<path d="M208.69 112.12 L209 112.19 L209.34 112.47 L209.71 112.93 L210.12 113.56 L210.56 114.35 L211.03 115.26 L211.49 116.27 L211.92 117.36 L212.29 118.48 L212.57 119.61 L212.71 120.71 L212.71 121.76 L212.55 122.72 L212.22 123.55 L211.73 124.25 L211.11 124.78 L210.39 125.13 L209.61 125.28 L208.82 125.24 L208.05 124.99 L207.37 124.55 L206.79 123.93 L206.34 123.15 L206.05 122.23 L205.9 121.19 L205.89 120.08 L206.01 118.92 L206.22 117.76 L206.49 116.62 L206.81 115.56 L207.14 114.59 L207.47 113.75 L207.79 113.07 L208.1 112.56 L208.39 112.24 Z" fill="#e45050" fill-opacity="0.04" stroke="#e23c3c" stroke-opacity="0.6" stroke-width="0.55"/>
<path d="M208.91 113.81 L209.15 113.88 L209.41 114.11 L209.7 114.5 L210.01 115.04 L210.35 115.7 L210.71 116.47 L211.07 117.32 L211.41 118.24 L211.69 119.18 L211.91 120.13 L212.03 121.06 L212.03 121.94 L211.91 122.74 L211.67 123.45 L211.3 124.03 L210.83 124.47 L210.28 124.76 L209.69 124.89 L209.08 124.84 L208.5 124.63 L207.97 124.26 L207.53 123.74 L207.18 123.07 L206.95 122.3 L206.84 121.43 L206.83 120.49 L206.91 119.52 L207.06 118.54 L207.26 117.59 L207.5 116.69 L207.75 115.88 L207.99 115.18 L208.23 114.61 L208.46 114.18 L208.69 113.91 Z" fill="#e45050" fill-opacity="0.04" stroke="#e23c3c" stroke-opacity="0.6" stroke-width="0.55"/>
<ellipse cx="210.3" cy="128.6" rx="6" ry="5.6" fill="url(#dg)" transform="rotate(0 210.3 128.6)"/>
<ellipse cx="210.3" cy="128.6" rx="5" ry="4.6" fill="url(#dg)" transform="rotate(0 210.3 128.6)"/>
<path d="M208.32 123.15 L209.32 122.88 L210.37 122.78 L211.41 122.85 L212.44 123.09 L213.41 123.5 L214.31 124.06 L215.09 124.75 L215.74 125.55 L216.22 126.45 L216.53 127.41 L216.64 128.4 L216.55 129.41 L216.26 130.4 L215.77 131.34 L215.11 132.2 L214.28 132.95 L213.33 133.57 L212.28 134.05 L211.17 134.36 L210.04 134.49 L208.93 134.44 L207.87 134.21 L206.89 133.81 L206.04 133.24 L205.32 132.52 L204.76 131.69 L204.38 130.75 L204.18 129.76 L204.15 128.73 L204.31 127.69 L204.64 126.69 L205.12 125.76 L205.75 124.91 L206.51 124.18 L207.37 123.59 Z" fill="#e23c3c" fill-opacity="0" stroke="#e23c3c" stroke-opacity="0.6" stroke-width="0.5"/><path d="M208.51 123.68 L209.42 123.44 L210.36 123.35 L211.3 123.41 L212.23 123.63 L213.11 124 L213.92 124.5 L214.62 125.12 L215.2 125.85 L215.64 126.66 L215.92 127.52 L216.02 128.42 L215.94 129.33 L215.67 130.22 L215.24 131.07 L214.64 131.84 L213.89 132.52 L213.04 133.09 L212.09 133.52 L211.09 133.8 L210.07 133.92 L209.06 133.87 L208.11 133.66 L207.23 133.3 L206.45 132.78 L205.81 132.14 L205.31 131.39 L204.96 130.54 L204.77 129.64 L204.75 128.71 L204.9 127.78 L205.19 126.88 L205.63 126.03 L206.2 125.27 L206.88 124.61 L207.66 124.08 Z" fill="#e23c3c" fill-opacity="0" stroke="#e23c3c" stroke-opacity="0.6" stroke-width="0.5"/><path d="M208.7 124.22 L209.51 124 L210.35 123.92 L211.2 123.97 L212.02 124.17 L212.81 124.5 L213.52 124.94 L214.15 125.5 L214.67 126.15 L215.06 126.87 L215.31 127.64 L215.4 128.44 L215.33 129.25 L215.09 130.05 L214.7 130.8 L214.17 131.49 L213.5 132.1 L212.74 132.6 L211.9 132.98 L211 133.23 L210.09 133.34 L209.2 133.3 L208.34 133.12 L207.56 132.79 L206.87 132.33 L206.29 131.76 L205.85 131.08 L205.54 130.33 L205.37 129.53 L205.36 128.7 L205.48 127.87 L205.74 127.07 L206.13 126.31 L206.64 125.63 L207.25 125.05 L207.94 124.57 Z" fill="#e23c3c" fill-opacity="0" stroke="#e23c3c" stroke-opacity="0.6" stroke-width="0.5"/><path d="M208.9 124.75 L209.61 124.56 L210.35 124.48 L211.09 124.54 L211.81 124.71 L212.5 125 L213.13 125.39 L213.68 125.88 L214.14 126.44 L214.48 127.08 L214.7 127.76 L214.78 128.46 L214.71 129.17 L214.51 129.87 L214.17 130.53 L213.7 131.14 L213.12 131.67 L212.44 132.12 L211.7 132.45 L210.92 132.67 L210.12 132.76 L209.33 132.73 L208.58 132.57 L207.89 132.28 L207.29 131.88 L206.78 131.37 L206.39 130.78 L206.12 130.12 L205.97 129.42 L205.96 128.69 L206.07 127.96 L206.3 127.25 L206.64 126.59 L207.08 125.99 L207.62 125.48 L208.23 125.06 Z" fill="#e23c3c" fill-opacity="0" stroke="#e23c3c" stroke-opacity="0.6" stroke-width="0.5"/><path d="M209.09 125.28 L209.71 125.12 L210.34 125.05 L210.98 125.1 L211.6 125.25 L212.2 125.49 L212.74 125.83 L213.22 126.25 L213.61 126.74 L213.9 127.29 L214.09 127.87 L214.16 128.48 L214.1 129.09 L213.93 129.7 L213.63 130.27 L213.23 130.79 L212.73 131.25 L212.15 131.63 L211.51 131.92 L210.83 132.11 L210.14 132.19 L209.47 132.16 L208.82 132.02 L208.23 131.77 L207.7 131.42 L207.27 130.99 L206.93 130.48 L206.7 129.91 L206.57 129.3 L206.56 128.68 L206.65 128.05 L206.85 127.44 L207.15 126.87 L207.53 126.35 L207.99 125.91 L208.52 125.55 Z" fill="#e23c3c" fill-opacity="0" stroke="#e23c3c" stroke-opacity="0.6" stroke-width="0.5"/><path d="M209.29 125.81 L209.8 125.67 L210.33 125.62 L210.87 125.66 L211.39 125.79 L211.89 125.99 L212.35 126.28 L212.75 126.63 L213.08 127.04 L213.33 127.5 L213.48 127.99 L213.54 128.5 L213.49 129.02 L213.34 129.52 L213.1 130 L212.76 130.44 L212.34 130.82 L211.85 131.14 L211.31 131.39 L210.75 131.54 L210.17 131.61 L209.6 131.59 L209.06 131.47 L208.56 131.26 L208.12 130.97 L207.75 130.61 L207.47 130.18 L207.27 129.7 L207.17 129.19 L207.16 128.66 L207.24 128.14 L207.4 127.63 L207.65 127.15 L207.97 126.71 L208.36 126.34 L208.8 126.04 Z" fill="#e23c3c" fill-opacity="0" stroke="#e23c3c" stroke-opacity="0.6" stroke-width="0.5"/><path d="M209.48 126.35 L209.9 126.23 L210.33 126.19 L210.76 126.22 L211.18 126.32 L211.59 126.49 L211.96 126.72 L212.28 127.01 L212.55 127.34 L212.75 127.71 L212.87 128.11 L212.92 128.52 L212.88 128.94 L212.76 129.34 L212.56 129.73 L212.29 130.09 L211.95 130.4 L211.55 130.66 L211.12 130.85 L210.66 130.98 L210.19 131.04 L209.73 131.02 L209.29 130.92 L208.89 130.75 L208.54 130.52 L208.24 130.22 L208.01 129.88 L207.85 129.49 L207.77 129.08 L207.76 128.65 L207.82 128.23 L207.96 127.81 L208.16 127.42 L208.42 127.08 L208.73 126.77 L209.09 126.53 Z" fill="#e23c3c" fill-opacity="0" stroke="#e23c3c" stroke-opacity="0.6" stroke-width="0.5"/><path d="M209.67 126.88 L209.99 126.79 L210.32 126.76 L210.65 126.79 L210.98 126.86 L211.28 126.99 L211.56 127.17 L211.81 127.38 L212.02 127.64 L212.17 127.92 L212.26 128.22 L212.3 128.54 L212.27 128.86 L212.18 129.17 L212.03 129.46 L211.82 129.73 L211.56 129.97 L211.26 130.17 L210.93 130.32 L210.58 130.42 L210.22 130.46 L209.87 130.44 L209.53 130.37 L209.23 130.24 L208.95 130.06 L208.73 129.84 L208.55 129.57 L208.43 129.28 L208.37 128.97 L208.36 128.64 L208.41 128.31 L208.51 128 L208.67 127.7 L208.86 127.44 L209.1 127.21 L209.38 127.02 Z" fill="#e23c3c" fill-opacity="0" stroke="#e23c3c" stroke-opacity="0.6" stroke-width="0.5"/><path d="M209.87 127.41 L210.09 127.35 L210.31 127.33 L210.54 127.35 L210.77 127.4 L210.98 127.49 L211.17 127.61 L211.34 127.76 L211.48 127.94 L211.59 128.13 L211.66 128.34 L211.68 128.56 L211.66 128.78 L211.6 128.99 L211.49 129.2 L211.35 129.38 L211.17 129.55 L210.96 129.68 L210.73 129.79 L210.49 129.85 L210.24 129.88 L210 129.87 L209.77 129.82 L209.56 129.73 L209.37 129.61 L209.22 129.45 L209.09 129.27 L209.01 129.07 L208.97 128.85 L208.96 128.63 L209 128.4 L209.07 128.18 L209.17 127.98 L209.31 127.8 L209.47 127.64 L209.66 127.51 Z" fill="#e23c3c" fill-opacity="0" stroke="#e23c3c" stroke-opacity="0.6" stroke-width="0.5"/><path d="M210.06 127.95 L210.18 127.91 L210.31 127.9 L210.43 127.91 L210.56 127.94 L210.67 127.99 L210.78 128.05 L210.87 128.14 L210.95 128.23 L211.01 128.34 L211.05 128.46 L211.06 128.58 L211.05 128.7 L211.01 128.82 L210.96 128.93 L210.88 129.03 L210.78 129.12 L210.66 129.2 L210.54 129.25 L210.4 129.29 L210.27 129.31 L210.14 129.3 L210.01 129.27 L209.89 129.22 L209.79 129.16 L209.7 129.07 L209.64 128.97 L209.59 128.86 L209.57 128.74 L209.56 128.62 L209.58 128.49 L209.62 128.37 L209.68 128.26 L209.75 128.16 L209.84 128.07 L209.95 128 Z" fill="#e23c3c" fill-opacity="0" stroke="#e23c3c" stroke-opacity="0.6" stroke-width="0.5"/>
<path d="M319.39 89.14 L320.04 89.31 L320.73 89.92 L321.45 90.93 L322.2 92.33 L322.96 94.06 L323.71 96.08 L324.43 98.31 L325.07 100.71 L325.59 103.19 L325.95 105.68 L326.12 108.1 L326.07 110.4 L325.79 112.48 L325.27 114.31 L324.54 115.81 L323.62 116.94 L322.56 117.66 L321.41 117.96 L320.23 117.83 L319.07 117.25 L318.01 116.26 L317.07 114.88 L316.31 113.15 L315.74 111.12 L315.37 108.86 L315.2 106.43 L315.21 103.91 L315.38 101.39 L315.68 98.93 L316.08 96.61 L316.54 94.51 L317.06 92.69 L317.61 91.2 L318.18 90.09 L318.77 89.4 Z" fill="#e45050" fill-opacity="0.03" stroke="#e23c3c" stroke-opacity="0.5" stroke-width="0.5"/>
<path d="M319.46 91.13 L320.04 91.3 L320.65 91.86 L321.29 92.81 L321.95 94.11 L322.63 95.73 L323.31 97.61 L323.95 99.69 L324.52 101.92 L324.99 104.23 L325.32 106.55 L325.48 108.81 L325.44 110.94 L325.2 112.88 L324.75 114.57 L324.1 115.97 L323.29 117.02 L322.36 117.69 L321.34 117.97 L320.29 117.84 L319.27 117.3 L318.32 116.37 L317.49 115.08 L316.81 113.47 L316.3 111.58 L315.97 109.47 L315.81 107.21 L315.81 104.87 L315.95 102.52 L316.21 100.23 L316.55 98.08 L316.96 96.12 L317.41 94.43 L317.89 93.05 L318.39 92.02 L318.91 91.38 Z" fill="#e45050" fill-opacity="0.03" stroke="#e23c3c" stroke-opacity="0.5" stroke-width="0.5"/>
<path d="M319.53 93.13 L320.03 93.28 L320.56 93.81 L321.12 94.69 L321.71 95.9 L322.31 97.39 L322.9 99.13 L323.47 101.07 L323.97 103.13 L324.39 105.27 L324.69 107.42 L324.83 109.51 L324.81 111.48 L324.6 113.28 L324.22 114.84 L323.67 116.13 L322.97 117.1 L322.15 117.72 L321.27 117.97 L320.36 117.84 L319.47 117.34 L318.64 116.48 L317.91 115.28 L317.31 113.79 L316.86 112.04 L316.56 110.09 L316.42 108 L316.41 105.83 L316.52 103.65 L316.74 101.54 L317.03 99.55 L317.37 97.74 L317.76 96.17 L318.17 94.9 L318.6 93.95 L319.06 93.35 Z" fill="#e45050" fill-opacity="0.03" stroke="#e23c3c" stroke-opacity="0.5" stroke-width="0.5"/>
<path d="M319.6 95.13 L320.03 95.27 L320.48 95.76 L320.96 96.57 L321.47 97.68 L321.98 99.06 L322.5 100.66 L322.99 102.44 L323.43 104.35 L323.79 106.31 L324.05 108.29 L324.19 110.21 L324.18 112.02 L324.01 113.68 L323.69 115.11 L323.23 116.29 L322.64 117.18 L321.95 117.75 L321.2 117.97 L320.42 117.85 L319.66 117.39 L318.96 116.59 L318.33 115.49 L317.81 114.11 L317.42 112.5 L317.16 110.7 L317.02 108.78 L317.01 106.79 L317.1 104.79 L317.27 102.84 L317.5 101.01 L317.79 99.35 L318.11 97.92 L318.45 96.75 L318.82 95.87 L319.2 95.33 Z" fill="#e45050" fill-opacity="0.03" stroke="#e23c3c" stroke-opacity="0.5" stroke-width="0.5"/>
<path d="M319.67 97.13 L320.02 97.26 L320.4 97.71 L320.8 98.45 L321.22 99.47 L321.66 100.73 L322.09 102.19 L322.51 103.82 L322.88 105.56 L323.19 107.35 L323.42 109.16 L323.54 110.91 L323.55 112.57 L323.42 114.07 L323.17 115.38 L322.79 116.45 L322.31 117.26 L321.75 117.77 L321.13 117.97 L320.49 117.86 L319.86 117.43 L319.27 116.7 L318.75 115.69 L318.32 114.43 L317.98 112.96 L317.76 111.32 L317.63 109.56 L317.61 107.75 L317.67 105.92 L317.8 104.15 L317.98 102.48 L318.2 100.97 L318.46 99.66 L318.73 98.59 L319.03 97.8 L319.34 97.31 Z" fill="#e45050" fill-opacity="0.03" stroke="#e23c3c" stroke-opacity="0.5" stroke-width="0.5"/>
<ellipse cx="318.8" cy="114.5" rx="4.6" ry="12.5" fill="url(#dg)" transform="rotate(0 318.8 114.5)"/>
<ellipse cx="325.6" cy="118" rx="5" ry="15" fill="url(#dg)" transform="rotate(0 325.6 118)"/>
<path d="M318.09 100.02 L318.9 100.18 L319.71 100.75 L320.48 101.7 L321.21 103.02 L321.86 104.65 L322.42 106.55 L322.88 108.66 L323.2 110.92 L323.39 113.26 L323.45 115.6 L323.36 117.88 L323.13 120.03 L322.77 121.98 L322.29 123.67 L321.71 125.05 L321.04 126.09 L320.29 126.73 L319.51 126.98 L318.7 126.82 L317.89 126.25 L317.12 125.3 L316.39 123.98 L315.74 122.35 L315.18 120.45 L314.72 118.34 L314.4 116.08 L314.21 113.74 L314.15 111.4 L314.24 109.12 L314.47 106.97 L314.83 105.02 L315.31 103.33 L315.89 101.95 L316.56 100.91 L317.31 100.27 Z" fill="#e23c3c" fill-opacity="0" stroke="#e23c3c" stroke-opacity="0.35" stroke-width="0.5"/><path d="M318.21 102.31 L318.88 102.45 L319.55 102.92 L320.2 103.71 L320.8 104.8 L321.34 106.15 L321.81 107.73 L322.18 109.49 L322.45 111.36 L322.61 113.3 L322.66 115.25 L322.58 117.14 L322.4 118.92 L322.1 120.54 L321.7 121.94 L321.21 123.09 L320.66 123.95 L320.04 124.48 L319.39 124.69 L318.72 124.55 L318.05 124.08 L317.4 123.29 L316.8 122.2 L316.26 120.85 L315.79 119.27 L315.42 117.51 L315.15 115.64 L314.99 113.7 L314.94 111.75 L315.02 109.86 L315.2 108.08 L315.5 106.46 L315.9 105.06 L316.39 103.91 L316.94 103.05 L317.56 102.52 Z" fill="#e23c3c" fill-opacity="0" stroke="#e23c3c" stroke-opacity="0.35" stroke-width="0.5"/><path d="M318.33 104.6 L318.87 104.71 L319.4 105.08 L319.91 105.71 L320.39 106.58 L320.82 107.66 L321.19 108.91 L321.49 110.31 L321.7 111.8 L321.83 113.34 L321.87 114.89 L321.81 116.39 L321.66 117.81 L321.42 119.1 L321.11 120.21 L320.72 121.13 L320.28 121.81 L319.79 122.24 L319.27 122.4 L318.73 122.29 L318.2 121.92 L317.69 121.29 L317.21 120.42 L316.78 119.34 L316.41 118.09 L316.11 116.69 L315.9 115.2 L315.77 113.66 L315.73 112.11 L315.79 110.61 L315.94 109.19 L316.18 107.9 L316.49 106.79 L316.88 105.87 L317.32 105.19 L317.81 104.76 Z" fill="#e23c3c" fill-opacity="0" stroke="#e23c3c" stroke-opacity="0.35" stroke-width="0.5"/><path d="M318.45 106.89 L318.85 106.97 L319.24 107.25 L319.63 107.72 L319.98 108.36 L320.3 109.16 L320.58 110.09 L320.8 111.13 L320.96 112.24 L321.05 113.38 L321.08 114.53 L321.03 115.65 L320.92 116.7 L320.75 117.66 L320.51 118.48 L320.23 119.16 L319.9 119.67 L319.53 119.99 L319.15 120.11 L318.75 120.03 L318.36 119.75 L317.97 119.28 L317.62 118.64 L317.3 117.84 L317.02 116.91 L316.8 115.87 L316.64 114.76 L316.55 113.62 L316.52 112.47 L316.57 111.35 L316.68 110.3 L316.85 109.34 L317.09 108.52 L317.37 107.84 L317.7 107.33 L318.07 107.01 Z" fill="#e23c3c" fill-opacity="0" stroke="#e23c3c" stroke-opacity="0.35" stroke-width="0.5"/><path d="M318.57 109.19 L318.83 109.24 L319.09 109.42 L319.34 109.73 L319.57 110.15 L319.78 110.67 L319.96 111.28 L320.1 111.95 L320.21 112.67 L320.27 113.42 L320.29 114.17 L320.26 114.9 L320.19 115.59 L320.07 116.21 L319.92 116.76 L319.73 117.2 L319.52 117.53 L319.28 117.74 L319.03 117.81 L318.77 117.76 L318.51 117.58 L318.26 117.27 L318.03 116.85 L317.82 116.33 L317.64 115.72 L317.5 115.05 L317.39 114.33 L317.33 113.58 L317.31 112.83 L317.34 112.1 L317.41 111.41 L317.53 110.79 L317.68 110.24 L317.87 109.8 L318.08 109.47 L318.32 109.26 Z" fill="#e23c3c" fill-opacity="0" stroke="#e23c3c" stroke-opacity="0.35" stroke-width="0.5"/><path d="M318.69 111.48 L318.82 111.5 L318.94 111.59 L319.05 111.73 L319.16 111.93 L319.26 112.17 L319.34 112.46 L319.41 112.77 L319.46 113.11 L319.49 113.46 L319.5 113.82 L319.48 114.16 L319.45 114.48 L319.4 114.77 L319.32 115.03 L319.24 115.23 L319.14 115.39 L319.02 115.49 L318.91 115.52 L318.78 115.5 L318.66 115.41 L318.55 115.27 L318.44 115.07 L318.34 114.83 L318.26 114.54 L318.19 114.23 L318.14 113.89 L318.11 113.54 L318.1 113.18 L318.12 112.84 L318.15 112.52 L318.2 112.23 L318.28 111.97 L318.36 111.77 L318.46 111.61 L318.58 111.51 Z" fill="#e23c3c" fill-opacity="0" stroke="#e23c3c" stroke-opacity="0.35" stroke-width="0.5"/>
<path d="M323.8 100.39 L324.7 100.56 L325.64 101.24 L326.59 102.42 L327.53 104.05 L328.44 106.09 L329.28 108.47 L330.04 111.12 L330.68 113.96 L331.17 116.91 L331.49 119.88 L331.63 122.78 L331.56 125.52 L331.3 128.02 L330.83 130.2 L330.18 132 L329.37 133.36 L328.43 134.23 L327.4 134.61 L326.31 134.46 L325.21 133.79 L324.13 132.63 L323.12 131.01 L322.22 128.97 L321.43 126.59 L320.8 123.92 L320.33 121.06 L320.03 118.09 L319.9 115.1 L319.93 112.18 L320.12 109.43 L320.45 106.92 L320.92 104.74 L321.5 102.95 L322.18 101.61 L322.96 100.75 Z" fill="#e23c3c" fill-opacity="0" stroke="#e23c3c" stroke-opacity="0.35" stroke-width="0.5"/><path d="M324.06 102.82 L324.83 102.96 L325.63 103.55 L326.45 104.56 L327.26 105.95 L328.03 107.7 L328.76 109.75 L329.41 112.02 L329.96 114.46 L330.38 117 L330.66 119.55 L330.77 122.03 L330.72 124.38 L330.49 126.53 L330.09 128.4 L329.53 129.94 L328.84 131.11 L328.03 131.86 L327.14 132.18 L326.21 132.06 L325.26 131.48 L324.34 130.49 L323.47 129.1 L322.69 127.35 L322.02 125.3 L321.48 123.01 L321.08 120.55 L320.82 118 L320.71 115.44 L320.73 112.93 L320.9 110.57 L321.18 108.42 L321.58 106.55 L322.08 105.01 L322.67 103.86 L323.33 103.12 Z" fill="#e23c3c" fill-opacity="0" stroke="#e23c3c" stroke-opacity="0.35" stroke-width="0.5"/><path d="M324.31 105.24 L324.96 105.36 L325.63 105.85 L326.31 106.69 L326.98 107.86 L327.63 109.32 L328.24 111.03 L328.78 112.93 L329.24 114.97 L329.59 117.08 L329.82 119.21 L329.92 121.29 L329.87 123.25 L329.68 125.04 L329.35 126.6 L328.88 127.89 L328.3 128.86 L327.63 129.49 L326.89 129.76 L326.11 129.65 L325.32 129.18 L324.55 128.34 L323.82 127.18 L323.17 125.72 L322.61 124.01 L322.16 122.1 L321.82 120.05 L321.61 117.92 L321.51 115.78 L321.54 113.69 L321.67 111.72 L321.91 109.92 L322.24 108.36 L322.66 107.07 L323.15 106.11 L323.71 105.49 Z" fill="#e23c3c" fill-opacity="0" stroke="#e23c3c" stroke-opacity="0.35" stroke-width="0.5"/><path d="M324.57 107.66 L325.08 107.76 L325.62 108.15 L326.17 108.83 L326.71 109.77 L327.23 110.94 L327.72 112.31 L328.15 113.83 L328.52 115.47 L328.8 117.16 L328.99 118.87 L329.07 120.54 L329.03 122.11 L328.88 123.55 L328.61 124.8 L328.24 125.84 L327.77 126.62 L327.23 127.12 L326.63 127.34 L326.01 127.25 L325.37 126.87 L324.76 126.2 L324.18 125.27 L323.65 124.1 L323.2 122.72 L322.84 121.19 L322.57 119.55 L322.4 117.84 L322.32 116.12 L322.34 114.44 L322.45 112.86 L322.64 111.42 L322.91 110.17 L323.24 109.14 L323.64 108.36 L324.08 107.87 Z" fill="#e23c3c" fill-opacity="0" stroke="#e23c3c" stroke-opacity="0.35" stroke-width="0.5"/><path d="M324.82 110.09 L325.21 110.16 L325.62 110.46 L326.03 110.96 L326.44 111.67 L326.83 112.55 L327.2 113.59 L327.52 114.73 L327.8 115.97 L328.01 117.25 L328.15 118.53 L328.21 119.79 L328.18 120.98 L328.07 122.06 L327.87 123 L327.59 123.78 L327.24 124.37 L326.83 124.75 L326.38 124.91 L325.91 124.85 L325.43 124.56 L324.96 124.06 L324.53 123.35 L324.13 122.47 L323.79 121.44 L323.52 120.28 L323.32 119.04 L323.19 117.75 L323.13 116.46 L323.14 115.19 L323.22 114 L323.37 112.92 L323.57 111.97 L323.82 111.2 L324.12 110.61 L324.45 110.24 Z" fill="#e23c3c" fill-opacity="0" stroke="#e23c3c" stroke-opacity="0.35" stroke-width="0.5"/><path d="M325.08 112.51 L325.34 112.56 L325.61 112.76 L325.89 113.1 L326.16 113.58 L326.43 114.17 L326.67 114.86 L326.89 115.64 L327.08 116.47 L327.22 117.33 L327.32 118.2 L327.36 119.04 L327.34 119.84 L327.26 120.57 L327.13 121.2 L326.94 121.73 L326.7 122.12 L326.43 122.38 L326.12 122.49 L325.81 122.45 L325.48 122.25 L325.17 121.91 L324.88 121.44 L324.61 120.85 L324.39 120.15 L324.2 119.37 L324.06 118.54 L323.98 117.67 L323.94 116.8 L323.95 115.95 L324 115.15 L324.1 114.42 L324.23 113.78 L324.4 113.26 L324.6 112.86 L324.83 112.61 Z" fill="#e23c3c" fill-opacity="0" stroke="#e23c3c" stroke-opacity="0.35" stroke-width="0.5"/><path d="M325.33 114.93 L325.47 114.96 L325.61 115.06 L325.75 115.24 L325.89 115.48 L326.03 115.79 L326.15 116.14 L326.27 116.54 L326.36 116.97 L326.44 117.41 L326.48 117.86 L326.5 118.29 L326.49 118.7 L326.45 119.08 L326.38 119.4 L326.29 119.67 L326.17 119.88 L326.02 120.01 L325.87 120.07 L325.71 120.04 L325.54 119.94 L325.38 119.77 L325.23 119.53 L325.09 119.22 L324.98 118.86 L324.88 118.46 L324.81 118.03 L324.76 117.59 L324.74 117.14 L324.75 116.7 L324.78 116.29 L324.83 115.91 L324.9 115.59 L324.98 115.32 L325.09 115.12 L325.2 114.99 Z" fill="#e23c3c" fill-opacity="0" stroke="#e23c3c" stroke-opacity="0.35" stroke-width="0.5"/>
<path d="M320.42 89.32 L321.43 89.57 L322.52 90.49 L323.72 92.05 L325 94.21 L326.35 96.89 L327.72 100.02 L329.06 103.5 L330.3 107.23 L331.35 111.1 L332.15 115 L332.61 118.81 L332.69 122.42 L332.36 125.73 L331.6 128.64 L330.44 131.05 L328.93 132.9 L327.14 134.12 L325.18 134.68 L323.15 134.54 L321.15 133.72 L319.29 132.22 L317.65 130.1 L316.31 127.42 L315.29 124.25 L314.62 120.7 L314.28 116.88 L314.25 112.9 L314.48 108.89 L314.91 104.99 L315.5 101.3 L316.19 97.96 L316.95 95.05 L317.76 92.68 L318.6 90.9 L319.48 89.77 Z" fill="#e23c3c" fill-opacity="0" stroke="#e23c3c" stroke-opacity="0.3" stroke-width="0.5"/><path d="M320.58 90.84 L321.52 91.06 L322.54 91.92 L323.66 93.38 L324.85 95.39 L326.11 97.9 L327.39 100.82 L328.64 104.07 L329.8 107.55 L330.78 111.16 L331.53 114.8 L331.96 118.36 L332.04 121.73 L331.72 124.82 L331.01 127.53 L329.93 129.78 L328.52 131.51 L326.85 132.65 L325.02 133.16 L323.13 133.04 L321.26 132.27 L319.53 130.87 L318 128.9 L316.74 126.39 L315.79 123.44 L315.16 120.12 L314.85 116.55 L314.82 112.84 L315.03 109.1 L315.44 105.46 L315.98 102.02 L316.63 98.89 L317.34 96.18 L318.09 93.96 L318.88 92.31 L319.7 91.25 Z" fill="#e23c3c" fill-opacity="0" stroke="#e23c3c" stroke-opacity="0.3" stroke-width="0.5"/><path d="M320.73 92.35 L321.61 92.56 L322.56 93.35 L323.59 94.71 L324.7 96.58 L325.87 98.91 L327.06 101.62 L328.23 104.63 L329.3 107.87 L330.21 111.22 L330.9 114.6 L331.31 117.9 L331.38 121.03 L331.08 123.9 L330.42 126.42 L329.42 128.51 L328.11 130.11 L326.56 131.17 L324.87 131.65 L323.1 131.54 L321.37 130.82 L319.76 129.53 L318.34 127.69 L317.17 125.36 L316.29 122.62 L315.71 119.54 L315.42 116.23 L315.39 112.78 L315.59 109.31 L315.96 105.92 L316.47 102.73 L317.07 99.83 L317.73 97.31 L318.43 95.25 L319.16 93.71 L319.92 92.74 Z" fill="#e23c3c" fill-opacity="0" stroke="#e23c3c" stroke-opacity="0.3" stroke-width="0.5"/><path d="M320.89 93.86 L321.7 94.05 L322.58 94.79 L323.53 96.04 L324.56 97.77 L325.64 99.91 L326.74 102.42 L327.81 105.2 L328.8 108.18 L329.64 111.28 L330.28 114.4 L330.65 117.45 L330.72 120.34 L330.45 122.99 L329.84 125.31 L328.91 127.24 L327.7 128.72 L326.28 129.7 L324.71 130.14 L323.08 130.03 L321.48 129.37 L319.99 128.18 L318.68 126.48 L317.6 124.34 L316.79 121.8 L316.25 118.96 L315.98 115.9 L315.96 112.72 L316.14 109.52 L316.49 106.39 L316.96 103.44 L317.51 100.77 L318.12 98.44 L318.76 96.54 L319.44 95.12 L320.14 94.22 Z" fill="#e23c3c" fill-opacity="0" stroke="#e23c3c" stroke-opacity="0.3" stroke-width="0.5"/>
<ellipse cx="432.5" cy="107" rx="4.6" ry="20" fill="url(#dg)" transform="rotate(0 432.5 107)"/>
<ellipse cx="440" cy="107" rx="4.6" ry="20" fill="url(#dg)" transform="rotate(0 440 107)"/>
<path d="M437.66 81.41 L439.55 81.85 L441.32 83.03 L442.89 84.9 L444.19 87.4 L445.17 90.47 L445.8 94.01 L446.06 97.9 L445.99 102.05 L445.59 106.31 L444.94 110.56 L444.06 114.67 L443.04 118.53 L441.9 122 L440.71 124.99 L439.5 127.41 L438.29 129.18 L437.11 130.25 L435.94 130.59 L434.8 130.17 L433.69 129.02 L432.61 127.17 L431.57 124.67 L430.59 121.61 L429.71 118.06 L428.95 114.14 L428.37 109.98 L428.01 105.69 L427.91 101.42 L428.12 97.28 L428.66 93.41 L429.53 89.92 L430.72 86.93 L432.19 84.52 L433.89 82.77 L435.74 81.72 Z" fill="#e23c3c" fill-opacity="0" stroke="#e23c3c" stroke-opacity="0.42" stroke-width="0.5"/><path d="M437.59 83.38 L439.33 83.79 L440.96 84.87 L442.41 86.58 L443.6 88.89 L444.5 91.71 L445.08 94.97 L445.32 98.55 L445.25 102.36 L444.89 106.28 L444.29 110.19 L443.48 113.98 L442.54 117.52 L441.49 120.72 L440.4 123.47 L439.29 125.7 L438.17 127.33 L437.08 128.31 L436.01 128.62 L434.96 128.24 L433.94 127.18 L432.95 125.48 L431.99 123.18 L431.09 120.36 L430.27 117.1 L429.58 113.49 L429.04 109.66 L428.71 105.72 L428.62 101.78 L428.82 97.98 L429.31 94.42 L430.11 91.21 L431.21 88.46 L432.56 86.24 L434.12 84.63 L435.83 83.66 Z" fill="#e23c3c" fill-opacity="0" stroke="#e23c3c" stroke-opacity="0.42" stroke-width="0.5"/><path d="M437.52 85.35 L439.11 85.72 L440.6 86.7 L441.92 88.27 L443.01 90.38 L443.83 92.95 L444.36 95.93 L444.58 99.2 L444.52 102.68 L444.19 106.26 L443.63 109.83 L442.9 113.28 L442.04 116.52 L441.09 119.44 L440.09 121.95 L439.07 123.99 L438.06 125.47 L437.06 126.37 L436.08 126.65 L435.12 126.3 L434.19 125.34 L433.28 123.78 L432.41 121.69 L431.59 119.11 L430.84 116.13 L430.2 112.84 L429.72 109.34 L429.41 105.74 L429.33 102.15 L429.51 98.67 L429.96 95.42 L430.69 92.5 L431.69 89.98 L432.93 87.96 L434.36 86.49 L435.91 85.61 Z" fill="#e23c3c" fill-opacity="0" stroke="#e23c3c" stroke-opacity="0.42" stroke-width="0.5"/><path d="M437.45 87.32 L438.89 87.65 L440.24 88.54 L441.43 89.96 L442.42 91.87 L443.16 94.2 L443.64 96.89 L443.84 99.85 L443.78 103 L443.48 106.23 L442.98 109.46 L442.32 112.59 L441.54 115.52 L440.68 118.16 L439.77 120.43 L438.85 122.27 L437.94 123.62 L437.03 124.43 L436.15 124.68 L435.28 124.37 L434.44 123.5 L433.62 122.09 L432.83 120.19 L432.08 117.86 L431.41 115.17 L430.83 112.19 L430.39 109.02 L430.12 105.77 L430.05 102.52 L430.21 99.37 L430.61 96.43 L431.28 93.78 L432.18 91.51 L433.3 89.68 L434.59 88.34 L436 87.55 Z" fill="#e23c3c" fill-opacity="0" stroke="#e23c3c" stroke-opacity="0.42" stroke-width="0.5"/><path d="M437.38 89.28 L438.67 89.58 L439.87 90.38 L440.94 91.65 L441.83 93.35 L442.49 95.44 L442.92 97.84 L443.1 100.5 L443.05 103.31 L442.78 106.21 L442.33 109.1 L441.74 111.9 L441.04 114.52 L440.27 116.88 L439.46 118.92 L438.64 120.56 L437.82 121.76 L437.01 122.49 L436.22 122.72 L435.44 122.44 L434.69 121.65 L433.95 120.4 L433.24 118.7 L432.58 116.61 L431.98 114.2 L431.46 111.54 L431.06 108.71 L430.82 105.79 L430.76 102.88 L430.9 100.07 L431.27 97.44 L431.86 95.07 L432.67 93.03 L433.67 91.39 L434.82 90.2 L436.08 89.49 Z" fill="#e23c3c" fill-opacity="0" stroke="#e23c3c" stroke-opacity="0.42" stroke-width="0.5"/><path d="M437.32 91.25 L438.45 91.51 L439.51 92.22 L440.46 93.34 L441.24 94.84 L441.82 96.68 L442.2 98.8 L442.36 101.14 L442.31 103.63 L442.08 106.18 L441.68 108.74 L441.16 111.2 L440.54 113.52 L439.86 115.6 L439.15 117.4 L438.42 118.85 L437.7 119.91 L436.98 120.55 L436.28 120.75 L435.6 120.5 L434.94 119.81 L434.29 118.7 L433.66 117.2 L433.08 115.36 L432.54 113.24 L432.09 110.89 L431.74 108.39 L431.52 105.82 L431.47 103.25 L431.59 100.77 L431.92 98.44 L432.44 96.35 L433.15 94.56 L434.04 93.11 L435.06 92.06 L436.17 91.43 Z" fill="#e23c3c" fill-opacity="0" stroke="#e23c3c" stroke-opacity="0.42" stroke-width="0.5"/><path d="M437.25 93.22 L438.23 93.44 L439.15 94.05 L439.97 95.03 L440.64 96.33 L441.15 97.92 L441.48 99.76 L441.62 101.79 L441.58 103.94 L441.37 106.16 L441.03 108.37 L440.58 110.51 L440.04 112.51 L439.45 114.32 L438.83 115.88 L438.2 117.13 L437.58 118.06 L436.96 118.61 L436.35 118.78 L435.76 118.57 L435.18 117.97 L434.62 117.01 L434.08 115.71 L433.57 114.11 L433.11 112.27 L432.72 110.24 L432.41 108.07 L432.23 105.84 L432.18 103.62 L432.29 101.46 L432.57 99.45 L433.02 97.64 L433.64 96.08 L434.4 94.83 L435.29 93.92 L436.25 93.38 Z" fill="#e23c3c" fill-opacity="0" stroke="#e23c3c" stroke-opacity="0.42" stroke-width="0.5"/><path d="M437.18 95.18 L438.01 95.38 L438.79 95.89 L439.48 96.71 L440.05 97.82 L440.48 99.17 L440.76 100.72 L440.88 102.44 L440.84 104.26 L440.67 106.14 L440.38 108.01 L440 109.82 L439.54 111.51 L439.05 113.04 L438.52 114.36 L437.99 115.42 L437.46 116.2 L436.93 116.67 L436.42 116.82 L435.92 116.64 L435.43 116.13 L434.96 115.32 L434.5 114.22 L434.07 112.87 L433.68 111.31 L433.35 109.58 L433.09 107.75 L432.93 105.86 L432.89 103.98 L432.98 102.16 L433.22 100.46 L433.6 98.93 L434.13 97.61 L434.77 96.55 L435.52 95.78 L436.33 95.32 Z" fill="#e23c3c" fill-opacity="0" stroke="#e23c3c" stroke-opacity="0.42" stroke-width="0.5"/><path d="M437.11 97.15 L437.79 97.31 L438.43 97.73 L438.99 98.4 L439.46 99.3 L439.81 100.41 L440.04 101.68 L440.14 103.09 L440.11 104.58 L439.97 106.11 L439.73 107.64 L439.42 109.12 L439.04 110.51 L438.64 111.76 L438.21 112.84 L437.77 113.71 L437.34 114.35 L436.91 114.73 L436.49 114.85 L436.08 114.7 L435.68 114.29 L435.29 113.62 L434.92 112.72 L434.57 111.62 L434.25 110.34 L433.97 108.93 L433.76 107.43 L433.63 105.89 L433.6 104.35 L433.68 102.86 L433.87 101.47 L434.18 100.21 L434.61 99.14 L435.14 98.27 L435.75 97.64 L436.42 97.26 Z" fill="#e23c3c" fill-opacity="0" stroke="#e23c3c" stroke-opacity="0.42" stroke-width="0.5"/><path d="M437.04 99.12 L437.57 99.24 L438.07 99.57 L438.51 100.09 L438.87 100.79 L439.14 101.65 L439.32 102.64 L439.39 103.73 L439.37 104.89 L439.26 106.09 L439.08 107.28 L438.83 108.43 L438.55 109.51 L438.23 110.48 L437.9 111.32 L437.56 112 L437.22 112.49 L436.89 112.79 L436.56 112.88 L436.24 112.77 L435.93 112.45 L435.63 111.93 L435.34 111.23 L435.06 110.37 L434.81 109.38 L434.6 108.28 L434.44 107.11 L434.34 105.91 L434.31 104.72 L434.37 103.56 L434.52 102.47 L434.76 101.5 L435.1 100.66 L435.51 99.99 L435.99 99.5 L436.5 99.2 Z" fill="#e23c3c" fill-opacity="0" stroke="#e23c3c" stroke-opacity="0.42" stroke-width="0.5"/><path d="M436.97 101.08 L437.35 101.17 L437.7 101.41 L438.02 101.78 L438.28 102.28 L438.47 102.89 L438.6 103.6 L438.65 104.38 L438.64 105.21 L438.56 106.06 L438.43 106.91 L438.25 107.73 L438.05 108.51 L437.82 109.2 L437.58 109.8 L437.34 110.28 L437.1 110.64 L436.86 110.85 L436.63 110.92 L436.4 110.83 L436.18 110.6 L435.96 110.23 L435.75 109.73 L435.56 109.12 L435.38 108.41 L435.23 107.63 L435.11 106.8 L435.04 105.94 L435.02 105.08 L435.06 104.26 L435.17 103.48 L435.35 102.78 L435.58 102.19 L435.88 101.7 L436.22 101.35 L436.59 101.14 Z" fill="#e23c3c" fill-opacity="0" stroke="#e23c3c" stroke-opacity="0.42" stroke-width="0.5"/><path d="M436.9 103.05 L437.13 103.1 L437.34 103.24 L437.53 103.47 L437.69 103.77 L437.8 104.14 L437.88 104.56 L437.91 105.03 L437.9 105.53 L437.86 106.04 L437.78 106.55 L437.67 107.04 L437.55 107.5 L437.41 107.92 L437.27 108.28 L437.12 108.57 L436.98 108.78 L436.84 108.91 L436.7 108.95 L436.56 108.9 L436.43 108.76 L436.3 108.54 L436.17 108.24 L436.06 107.87 L435.95 107.45 L435.86 106.98 L435.79 106.48 L435.74 105.96 L435.73 105.45 L435.76 104.95 L435.82 104.49 L435.93 104.07 L436.07 103.71 L436.25 103.42 L436.45 103.21 L436.67 103.09 Z" fill="#e23c3c" fill-opacity="0" stroke="#e23c3c" stroke-opacity="0.42" stroke-width="0.5"/>
<line x1="52.4" y1="60" x2="52.4" y2="162.5" stroke="#000" stroke-width="1.8"/>
<path d="M52.4 53.4 L56 60.5 L48.8 60.5 Z" stroke="none" fill="#000" stroke-width="0"/>
<line x1="51.5" y1="162.5" x2="121.5" y2="162.5" stroke="#000" stroke-width="1.8"/>
<path d="M128.4 162.5 L121 158.9 L121 166.1 Z" stroke="none" fill="#000" stroke-width="0"/>
<text x="45.2" y="107.5" font-size="12" text-anchor="middle" font-weight="normal" fill="#000" transform="rotate(-90 45.2 107.5)">CD38-PerCPCy5.5</text>
<text x="53.6" y="181.3" font-size="12" text-anchor="start" font-weight="normal" fill="#000">CLL1-BV421</text>
<text x="0.6" y="210.2" font-size="20" text-anchor="start" font-weight="normal" fill="#000">B</text>
<text x="288.4" y="225.2" font-size="14" text-anchor="start" font-weight="normal" fill="#000">Autologous</text>
<line x1="46" y1="232.4" x2="600.4" y2="232.4" stroke="#000" stroke-width="1.4"/>
<text x="73.6" y="255.3" font-size="14" text-anchor="start" font-weight="normal" fill="#000">Monocytes</text>
<text x="232" y="255.3" font-size="14" text-anchor="start" font-weight="normal" fill="#000">T cells</text>
<text x="380.6" y="255.3" font-size="14" text-anchor="start" font-weight="normal" fill="#000">B cells</text>
<text x="527" y="255.3" font-size="14" text-anchor="start" font-weight="normal" fill="#000">NK cells</text>
<line x1="52.4" y1="277.5" x2="52.4" y2="386.15" stroke="#000" stroke-width="1.5"/>
<line x1="51.65" y1="385.4" x2="150" y2="385.4" stroke="#000" stroke-width="1.5"/>
<line x1="64" y1="385.4" x2="64" y2="389.9" stroke="#000" stroke-width="1.3"/>
<line x1="82" y1="385.4" x2="82" y2="389.9" stroke="#000" stroke-width="1.3"/>
<line x1="100.4" y1="385.4" x2="100.4" y2="389.9" stroke="#000" stroke-width="1.3"/>
<line x1="118.6" y1="385.4" x2="118.6" y2="389.9" stroke="#000" stroke-width="1.3"/>
<line x1="136.8" y1="385.4" x2="136.8" y2="389.9" stroke="#000" stroke-width="1.3"/>
<rect x="59.3" y="306.4" width="9.4" height="78.45" stroke="#333333" fill="#fff" stroke-width="1.6"/>
<line x1="64" y1="301" x2="64" y2="316" stroke="#333333" stroke-width="1"/>
<line x1="60.98" y1="301" x2="67.03" y2="301" stroke="#333333" stroke-width="1"/>
<line x1="60.98" y1="316" x2="67.03" y2="316" stroke="#333333" stroke-width="1"/>
<circle cx="64" cy="292.6" r="2.3" fill="#333333"/>
<circle cx="64" cy="299" r="2.3" fill="#333333"/>
<circle cx="60" cy="330" r="2.3" fill="#333333"/>
<circle cx="68" cy="327" r="2.3" fill="#333333"/>
<rect x="77.3" y="350.2" width="9.4" height="34.65" stroke="#c4bf00" fill="#fff" stroke-width="1.6"/>
<line x1="82" y1="343" x2="82" y2="358" stroke="#c4bf00" stroke-width="1"/>
<line x1="78.97" y1="343" x2="85.03" y2="343" stroke="#c4bf00" stroke-width="1"/>
<line x1="78.97" y1="358" x2="85.03" y2="358" stroke="#c4bf00" stroke-width="1"/>
<rect x="76.8" y="338.4" width="4.4" height="4.4" fill="#c4bf00"/>
<rect x="84.2" y="336.4" width="4.4" height="4.4" fill="#c4bf00"/>
<rect x="76.8" y="368.2" width="4.4" height="4.4" fill="#c4bf00"/>
<rect x="84.2" y="365.8" width="4.4" height="4.4" fill="#c4bf00"/>
<rect x="95.7" y="353.2" width="9.4" height="31.65" stroke="#ff0000" fill="#fff" stroke-width="1.6"/>
<line x1="100.4" y1="345.6" x2="100.4" y2="362.4" stroke="#ff0000" stroke-width="1"/>
<line x1="97.38" y1="345.6" x2="103.43" y2="345.6" stroke="#ff0000" stroke-width="1"/>
<line x1="97.38" y1="362.4" x2="103.43" y2="362.4" stroke="#ff0000" stroke-width="1"/>
<path d="M97 341.63 L99.53 346.48 L94.47 346.48 Z" fill="#ff0000"/>
<path d="M104 337.63 L106.53 342.48 L101.47 342.48 Z" fill="#ff0000"/>
<path d="M97 374.23 L99.53 379.08 L94.47 379.08 Z" fill="#ff0000"/>
<path d="M104 372.83 L106.53 377.68 L101.47 377.68 Z" fill="#ff0000"/>
<rect x="113.9" y="356.8" width="9.4" height="28.05" stroke="#9a621c" fill="#fff" stroke-width="1.6"/>
<line x1="118.6" y1="348.6" x2="118.6" y2="366" stroke="#9a621c" stroke-width="1"/>
<line x1="115.57" y1="348.6" x2="121.62" y2="348.6" stroke="#9a621c" stroke-width="1"/>
<line x1="115.57" y1="366" x2="121.62" y2="366" stroke="#9a621c" stroke-width="1"/>
<rect x="112.8" y="344.2" width="4.4" height="4.4" fill="#9a621c"/>
<rect x="120.2" y="341.4" width="4.4" height="4.4" fill="#9a621c"/>
<rect x="112.8" y="381.8" width="4.4" height="4.4" fill="#9a621c"/>
<rect x="120.2" y="378.8" width="4.4" height="4.4" fill="#9a621c"/>
<rect x="132.1" y="354.2" width="9.4" height="30.65" stroke="#d1006a" fill="#fff" stroke-width="1.6"/>
<line x1="136.8" y1="346.4" x2="136.8" y2="360" stroke="#d1006a" stroke-width="1"/>
<line x1="133.78" y1="346.4" x2="139.83" y2="346.4" stroke="#d1006a" stroke-width="1"/>
<line x1="133.78" y1="360" x2="139.83" y2="360" stroke="#d1006a" stroke-width="1"/>
<path d="M133.2 342.83 L135.73 347.68 L130.67 347.68 Z" fill="#d1006a"/>
<path d="M140.4 339.23 L142.93 344.08 L137.87 344.08 Z" fill="#d1006a"/>
<path d="M137 364.23 L139.53 369.08 L134.47 369.08 Z" fill="#d1006a"/>
<path d="M137 377.63 L139.53 382.48 L134.47 382.48 Z" fill="#d1006a"/>
<line x1="52.4" y1="278" x2="48.6" y2="278" stroke="#000" stroke-width="1.3"/>
<line x1="52.4" y1="320.6" x2="48.6" y2="320.6" stroke="#000" stroke-width="1.3"/>
<line x1="52.4" y1="363.2" x2="48.6" y2="363.2" stroke="#000" stroke-width="1.3"/>
<line x1="52.4" y1="342.88" x2="49.6" y2="342.88" stroke="#000" stroke-width="1.1"/>
<line x1="52.4" y1="333.42" x2="49.6" y2="333.42" stroke="#000" stroke-width="1.1"/>
<line x1="52.4" y1="327.2" x2="49.6" y2="327.2" stroke="#000" stroke-width="1.1"/>
<line x1="52.4" y1="322.56" x2="49.6" y2="322.56" stroke="#000" stroke-width="1.1"/>
<line x1="52.4" y1="300.28" x2="49.6" y2="300.28" stroke="#000" stroke-width="1.1"/>
<line x1="52.4" y1="290.82" x2="49.6" y2="290.82" stroke="#000" stroke-width="1.1"/>
<line x1="52.4" y1="284.6" x2="49.6" y2="284.6" stroke="#000" stroke-width="1.1"/>
<line x1="52.4" y1="279.96" x2="49.6" y2="279.96" stroke="#000" stroke-width="1.1"/>
<line x1="52.4" y1="371.5" x2="49.6" y2="371.5" stroke="#000" stroke-width="1.1"/>
<line x1="52.4" y1="377.6" x2="49.6" y2="377.6" stroke="#000" stroke-width="1.1"/>
<text x="32.2" y="281.6" font-size="9.5" fill="#222">10<tspan font-size="7" dy="-3.2">5</tspan></text>
<text x="32.2" y="324.2" font-size="9.5" fill="#222">10<tspan font-size="7" dy="-3.2">4</tspan></text>
<text x="32.2" y="366.8" font-size="9.5" fill="#222">10<tspan font-size="7" dy="-3.2">3</tspan></text>
<text x="27" y="331" font-size="10.2" text-anchor="middle" font-weight="normal" fill="#222" transform="rotate(-90 27 331)">Residual monocytes (log)</text>
<line x1="206.4" y1="278.2" x2="206.4" y2="386.35" stroke="#000" stroke-width="1.5"/>
<line x1="205.65" y1="385.6" x2="302" y2="385.6" stroke="#000" stroke-width="1.5"/>
<line x1="218" y1="385.6" x2="218" y2="390.1" stroke="#000" stroke-width="1.3"/>
<line x1="236.2" y1="385.6" x2="236.2" y2="390.1" stroke="#000" stroke-width="1.3"/>
<line x1="254.4" y1="385.6" x2="254.4" y2="390.1" stroke="#000" stroke-width="1.3"/>
<line x1="272.4" y1="385.6" x2="272.4" y2="390.1" stroke="#000" stroke-width="1.3"/>
<line x1="290.6" y1="385.6" x2="290.6" y2="390.1" stroke="#000" stroke-width="1.3"/>
<rect x="213.3" y="310.8" width="9.4" height="74.25" stroke="#333333" fill="#fff" stroke-width="1.6"/>
<line x1="218" y1="303.6" x2="218" y2="316" stroke="#333333" stroke-width="1"/>
<line x1="214.97" y1="303.6" x2="221.03" y2="303.6" stroke="#333333" stroke-width="1"/>
<line x1="214.97" y1="316" x2="221.03" y2="316" stroke="#333333" stroke-width="1"/>
<circle cx="214" cy="302" r="2.3" fill="#333333"/>
<circle cx="222" cy="298.6" r="2.3" fill="#333333"/>
<circle cx="218" cy="312" r="2.3" fill="#333333"/>
<circle cx="218" cy="327.6" r="2.3" fill="#333333"/>
<rect x="231.5" y="304.8" width="9.4" height="80.25" stroke="#c4bf00" fill="#fff" stroke-width="1.6"/>
<line x1="236.2" y1="297" x2="236.2" y2="312" stroke="#c4bf00" stroke-width="1"/>
<line x1="233.17" y1="297" x2="239.22" y2="297" stroke="#c4bf00" stroke-width="1"/>
<line x1="233.17" y1="312" x2="239.22" y2="312" stroke="#c4bf00" stroke-width="1"/>
<rect x="230.4" y="293.8" width="4.4" height="4.4" fill="#c4bf00"/>
<rect x="237.8" y="291.2" width="4.4" height="4.4" fill="#c4bf00"/>
<rect x="237.8" y="297.8" width="4.4" height="4.4" fill="#c4bf00"/>
<rect x="234.2" y="320.8" width="4.4" height="4.4" fill="#c4bf00"/>
<rect x="249.7" y="311.4" width="9.4" height="73.65" stroke="#ff0000" fill="#fff" stroke-width="1.6"/>
<line x1="254.4" y1="304.4" x2="254.4" y2="316.4" stroke="#ff0000" stroke-width="1"/>
<line x1="251.38" y1="304.4" x2="257.43" y2="304.4" stroke="#ff0000" stroke-width="1"/>
<line x1="251.38" y1="316.4" x2="257.43" y2="316.4" stroke="#ff0000" stroke-width="1"/>
<path d="M254.2 292.23 L256.73 297.08 L251.67 297.08 Z" fill="#ff0000"/>
<path d="M254.2 320.23 L256.73 325.08 L251.67 325.08 Z" fill="#ff0000"/>
<path d="M249.8 308.23 L252.33 313.08 L247.27 313.08 Z" fill="#ff0000"/>
<path d="M258.6 309.23 L261.13 314.08 L256.07 314.08 Z" fill="#ff0000"/>
<rect x="267.7" y="310.2" width="9.4" height="74.85" stroke="#9a621c" fill="#fff" stroke-width="1.6"/>
<line x1="272.4" y1="303.6" x2="272.4" y2="314.6" stroke="#9a621c" stroke-width="1"/>
<line x1="269.38" y1="303.6" x2="275.42" y2="303.6" stroke="#9a621c" stroke-width="1"/>
<line x1="269.38" y1="314.6" x2="275.42" y2="314.6" stroke="#9a621c" stroke-width="1"/>
<rect x="270.4" y="294.2" width="4.4" height="4.4" fill="#9a621c"/>
<rect x="270.4" y="302.8" width="4.4" height="4.4" fill="#9a621c"/>
<rect x="270.4" y="305.8" width="4.4" height="4.4" fill="#9a621c"/>
<rect x="270.4" y="320.2" width="4.4" height="4.4" fill="#9a621c"/>
<rect x="285.9" y="312" width="9.4" height="73.05" stroke="#d1006a" fill="#fff" stroke-width="1.6"/>
<line x1="290.6" y1="303" x2="290.6" y2="318" stroke="#d1006a" stroke-width="1"/>
<line x1="287.58" y1="303" x2="293.62" y2="303" stroke="#d1006a" stroke-width="1"/>
<line x1="287.58" y1="318" x2="293.62" y2="318" stroke="#d1006a" stroke-width="1"/>
<path d="M290.6 287.63 L293.13 292.48 L288.07 292.48 Z" fill="#d1006a"/>
<path d="M290.6 309.23 L293.13 314.08 L288.07 314.08 Z" fill="#d1006a"/>
<path d="M290.6 325.23 L293.13 330.08 L288.07 330.08 Z" fill="#d1006a"/>
<line x1="206.4" y1="278.6" x2="202.4" y2="278.6" stroke="#000" stroke-width="1.3"/>
<text x="201.4" y="281.9" font-size="9.3" text-anchor="end" fill="#222">2.5×10<tspan font-size="6.7" dy="-3.53">5</tspan></text>
<line x1="206.4" y1="300" x2="202.4" y2="300" stroke="#000" stroke-width="1.3"/>
<text x="201.4" y="303.3" font-size="9.3" text-anchor="end" fill="#222">2×10<tspan font-size="6.7" dy="-3.53">5</tspan></text>
<line x1="206.4" y1="321.4" x2="202.4" y2="321.4" stroke="#000" stroke-width="1.3"/>
<text x="201.4" y="324.7" font-size="9.3" text-anchor="end" fill="#222">1.5×10<tspan font-size="6.7" dy="-3.53">5</tspan></text>
<line x1="206.4" y1="342.8" x2="202.4" y2="342.8" stroke="#000" stroke-width="1.3"/>
<text x="201.4" y="346.1" font-size="9.3" text-anchor="end" fill="#222">1×10<tspan font-size="6.7" dy="-3.53">5</tspan></text>
<line x1="206.4" y1="364.2" x2="202.4" y2="364.2" stroke="#000" stroke-width="1.3"/>
<text x="201.4" y="367.5" font-size="9.3" text-anchor="end" fill="#222">5×10<tspan font-size="6.7" dy="-3.53">4</tspan></text>
<line x1="206.4" y1="385.6" x2="202.4" y2="385.6" stroke="#000" stroke-width="1.3"/>
<text x="200" y="389" font-size="9.3" text-anchor="end" font-weight="normal" fill="#222">0</text>
<text x="162.8" y="332" font-size="10.2" text-anchor="middle" font-weight="normal" fill="#222" transform="rotate(-90 162.8 332)">Residual T-cell counts</text>
<line x1="355.6" y1="278.2" x2="355.6" y2="386.35" stroke="#000" stroke-width="1.5"/>
<line x1="354.85" y1="385.6" x2="451.8" y2="385.6" stroke="#000" stroke-width="1.5"/>
<line x1="367.4" y1="385.6" x2="367.4" y2="390.1" stroke="#000" stroke-width="1.3"/>
<line x1="385.4" y1="385.6" x2="385.4" y2="390.1" stroke="#000" stroke-width="1.3"/>
<line x1="403.4" y1="385.6" x2="403.4" y2="390.1" stroke="#000" stroke-width="1.3"/>
<line x1="421.4" y1="385.6" x2="421.4" y2="390.1" stroke="#000" stroke-width="1.3"/>
<line x1="439.6" y1="385.6" x2="439.6" y2="390.1" stroke="#000" stroke-width="1.3"/>
<rect x="362.7" y="323.2" width="9.4" height="61.85" stroke="#333333" fill="#fff" stroke-width="1.6"/>
<line x1="367.4" y1="310.4" x2="367.4" y2="334" stroke="#333333" stroke-width="1"/>
<line x1="364.38" y1="310.4" x2="370.42" y2="310.4" stroke="#333333" stroke-width="1"/>
<line x1="364.38" y1="334" x2="370.42" y2="334" stroke="#333333" stroke-width="1"/>
<circle cx="367.4" cy="289" r="2.3" fill="#333333"/>
<circle cx="367.4" cy="326.4" r="2.3" fill="#333333"/>
<circle cx="367.4" cy="333" r="2.3" fill="#333333"/>
<circle cx="367.4" cy="339.6" r="2.3" fill="#333333"/>
<rect x="380.7" y="320.8" width="9.4" height="64.25" stroke="#c4bf00" fill="#fff" stroke-width="1.6"/>
<line x1="385.4" y1="307.6" x2="385.4" y2="332.4" stroke="#c4bf00" stroke-width="1"/>
<line x1="382.38" y1="307.6" x2="388.42" y2="307.6" stroke="#c4bf00" stroke-width="1"/>
<line x1="382.38" y1="332.4" x2="388.42" y2="332.4" stroke="#c4bf00" stroke-width="1"/>
<rect x="383.2" y="283.4" width="4.4" height="4.4" fill="#c4bf00"/>
<rect x="383.2" y="320.4" width="4.4" height="4.4" fill="#c4bf00"/>
<rect x="383.2" y="329.4" width="4.4" height="4.4" fill="#c4bf00"/>
<rect x="383.2" y="336.8" width="4.4" height="4.4" fill="#c4bf00"/>
<rect x="398.7" y="328.8" width="9.4" height="56.25" stroke="#ff0000" fill="#fff" stroke-width="1.6"/>
<line x1="403.4" y1="320.4" x2="403.4" y2="334.4" stroke="#ff0000" stroke-width="1"/>
<line x1="400.38" y1="320.4" x2="406.42" y2="320.4" stroke="#ff0000" stroke-width="1"/>
<line x1="400.38" y1="334.4" x2="406.42" y2="334.4" stroke="#ff0000" stroke-width="1"/>
<path d="M403.4 303.83 L405.93 308.68 L400.87 308.68 Z" fill="#ff0000"/>
<path d="M403.4 328.23 L405.93 333.08 L400.87 333.08 Z" fill="#ff0000"/>
<path d="M403.4 340.23 L405.93 345.08 L400.87 345.08 Z" fill="#ff0000"/>
<path d="M403.4 323.23 L405.93 328.08 L400.87 328.08 Z" fill="#ff0000"/>
<rect x="416.7" y="334.8" width="9.4" height="50.25" stroke="#9a621c" fill="#fff" stroke-width="1.6"/>
<line x1="421.4" y1="326.6" x2="421.4" y2="341" stroke="#9a621c" stroke-width="1"/>
<line x1="418.38" y1="326.6" x2="424.42" y2="326.6" stroke="#9a621c" stroke-width="1"/>
<line x1="418.38" y1="341" x2="424.42" y2="341" stroke="#9a621c" stroke-width="1"/>
<rect x="419.2" y="312.4" width="4.4" height="4.4" fill="#9a621c"/>
<rect x="419.2" y="330.4" width="4.4" height="4.4" fill="#9a621c"/>
<rect x="419.2" y="337.4" width="4.4" height="4.4" fill="#9a621c"/>
<rect x="419.2" y="346.2" width="4.4" height="4.4" fill="#9a621c"/>
<rect x="434.9" y="342.8" width="9.4" height="42.25" stroke="#d1006a" fill="#fff" stroke-width="1.6"/>
<line x1="439.6" y1="332.6" x2="439.6" y2="351" stroke="#d1006a" stroke-width="1"/>
<line x1="436.58" y1="332.6" x2="442.62" y2="332.6" stroke="#d1006a" stroke-width="1"/>
<line x1="436.58" y1="351" x2="442.62" y2="351" stroke="#d1006a" stroke-width="1"/>
<path d="M439.6 313.23 L442.13 318.08 L437.07 318.08 Z" fill="#d1006a"/>
<path d="M439.6 342.23 L442.13 347.08 L437.07 347.08 Z" fill="#d1006a"/>
<path d="M436.6 349.23 L439.13 354.08 L434.07 354.08 Z" fill="#d1006a"/>
<path d="M442.6 349.23 L445.13 354.08 L440.07 354.08 Z" fill="#d1006a"/>
<line x1="355.6" y1="278.6" x2="351.6" y2="278.6" stroke="#000" stroke-width="1.3"/>
<text x="350.6" y="281.9" font-size="9.3" text-anchor="end" fill="#222">5×10<tspan font-size="6.7" dy="-3.53">4</tspan></text>
<line x1="355.6" y1="300" x2="351.6" y2="300" stroke="#000" stroke-width="1.3"/>
<text x="350.6" y="303.3" font-size="9.3" text-anchor="end" fill="#222">4×10<tspan font-size="6.7" dy="-3.53">4</tspan></text>
<line x1="355.6" y1="321.4" x2="351.6" y2="321.4" stroke="#000" stroke-width="1.3"/>
<text x="350.6" y="324.7" font-size="9.3" text-anchor="end" fill="#222">3×10<tspan font-size="6.7" dy="-3.53">4</tspan></text>
<line x1="355.6" y1="342.8" x2="351.6" y2="342.8" stroke="#000" stroke-width="1.3"/>
<text x="350.6" y="346.1" font-size="9.3" text-anchor="end" fill="#222">2×10<tspan font-size="6.7" dy="-3.53">4</tspan></text>
<line x1="355.6" y1="364.2" x2="351.6" y2="364.2" stroke="#000" stroke-width="1.3"/>
<text x="350.6" y="367.5" font-size="9.3" text-anchor="end" fill="#222">1×10<tspan font-size="6.7" dy="-3.53">4</tspan></text>
<line x1="355.6" y1="385.6" x2="351.6" y2="385.6" stroke="#000" stroke-width="1.3"/>
<text x="349.5" y="389" font-size="9.3" text-anchor="end" font-weight="normal" fill="#222">0</text>
<text x="321.4" y="332" font-size="10.2" text-anchor="middle" font-weight="normal" fill="#222" transform="rotate(-90 321.4 332)">Residual B-cell counts</text>
<line x1="384.4" y1="268.4" x2="440.4" y2="268.4" stroke="#000" stroke-width="1.8"/>
<text x="412.4" y="267" font-size="10.4" text-anchor="middle" font-weight="normal" fill="#111">ns</text>
<line x1="384.4" y1="281" x2="421" y2="281" stroke="#000" stroke-width="1.8"/>
<text x="402.7" y="278.2" font-size="10.4" text-anchor="middle" font-weight="normal" fill="#111">ns</text>
<line x1="504" y1="278.2" x2="504" y2="386.35" stroke="#000" stroke-width="1.5"/>
<line x1="503.25" y1="385.6" x2="601.6" y2="385.6" stroke="#000" stroke-width="1.5"/>
<line x1="516" y1="385.6" x2="516" y2="390.1" stroke="#000" stroke-width="1.3"/>
<line x1="534.2" y1="385.6" x2="534.2" y2="390.1" stroke="#000" stroke-width="1.3"/>
<line x1="552.4" y1="385.6" x2="552.4" y2="390.1" stroke="#000" stroke-width="1.3"/>
<line x1="570.6" y1="385.6" x2="570.6" y2="390.1" stroke="#000" stroke-width="1.3"/>
<line x1="589" y1="385.6" x2="589" y2="390.1" stroke="#000" stroke-width="1.3"/>
<rect x="511.3" y="317.2" width="9.4" height="67.85" stroke="#333333" fill="#fff" stroke-width="1.6"/>
<line x1="516" y1="309" x2="516" y2="324" stroke="#333333" stroke-width="1"/>
<line x1="512.98" y1="309" x2="519.02" y2="309" stroke="#333333" stroke-width="1"/>
<line x1="512.98" y1="324" x2="519.02" y2="324" stroke="#333333" stroke-width="1"/>
<circle cx="512.4" cy="306" r="2.3" fill="#333333"/>
<circle cx="520" cy="305" r="2.3" fill="#333333"/>
<circle cx="516.4" cy="312.4" r="2.3" fill="#333333"/>
<circle cx="516.4" cy="339.6" r="2.3" fill="#333333"/>
<rect x="529.5" y="313.8" width="9.4" height="71.25" stroke="#c4bf00" fill="#fff" stroke-width="1.6"/>
<line x1="534.2" y1="304" x2="534.2" y2="320.4" stroke="#c4bf00" stroke-width="1"/>
<line x1="531.18" y1="304" x2="537.23" y2="304" stroke="#c4bf00" stroke-width="1"/>
<line x1="531.18" y1="320.4" x2="537.23" y2="320.4" stroke="#c4bf00" stroke-width="1"/>
<rect x="532.2" y="293.8" width="4.4" height="4.4" fill="#c4bf00"/>
<rect x="527.8" y="305.8" width="4.4" height="4.4" fill="#c4bf00"/>
<rect x="536.2" y="307.4" width="4.4" height="4.4" fill="#c4bf00"/>
<rect x="532.2" y="332.4" width="4.4" height="4.4" fill="#c4bf00"/>
<rect x="547.7" y="323.2" width="9.4" height="61.85" stroke="#ff0000" fill="#fff" stroke-width="1.6"/>
<line x1="552.4" y1="316.4" x2="552.4" y2="328" stroke="#ff0000" stroke-width="1"/>
<line x1="549.38" y1="316.4" x2="555.42" y2="316.4" stroke="#ff0000" stroke-width="1"/>
<line x1="549.38" y1="328" x2="555.42" y2="328" stroke="#ff0000" stroke-width="1"/>
<path d="M549 314.63 L551.53 319.48 L546.47 319.48 Z" fill="#ff0000"/>
<path d="M556.4 310.63 L558.93 315.48 L553.87 315.48 Z" fill="#ff0000"/>
<path d="M557 319.23 L559.53 324.08 L554.47 324.08 Z" fill="#ff0000"/>
<path d="M552.4 336.23 L554.93 341.08 L549.87 341.08 Z" fill="#ff0000"/>
<rect x="565.9" y="334.2" width="9.4" height="50.85" stroke="#9a621c" fill="#fff" stroke-width="1.6"/>
<line x1="570.6" y1="330" x2="570.6" y2="338" stroke="#9a621c" stroke-width="1"/>
<line x1="567.58" y1="330" x2="573.62" y2="330" stroke="#9a621c" stroke-width="1"/>
<line x1="567.58" y1="338" x2="573.62" y2="338" stroke="#9a621c" stroke-width="1"/>
<rect x="564.8" y="324.8" width="4.4" height="4.4" fill="#9a621c"/>
<rect x="572.8" y="324.2" width="4.4" height="4.4" fill="#9a621c"/>
<rect x="568.8" y="328.4" width="4.4" height="4.4" fill="#9a621c"/>
<rect x="568.8" y="343.2" width="4.4" height="4.4" fill="#9a621c"/>
<rect x="584.3" y="352.8" width="9.4" height="32.25" stroke="#d1006a" fill="#fff" stroke-width="1.6"/>
<line x1="589" y1="349.4" x2="589" y2="354.5" stroke="#d1006a" stroke-width="1"/>
<line x1="585.98" y1="349.4" x2="592.02" y2="349.4" stroke="#d1006a" stroke-width="1"/>
<line x1="585.98" y1="354.5" x2="592.02" y2="354.5" stroke="#d1006a" stroke-width="1"/>
<path d="M585 347.03 L587.53 351.88 L582.47 351.88 Z" fill="#d1006a"/>
<path d="M592.4 347.23 L594.93 352.08 L589.87 352.08 Z" fill="#d1006a"/>
<path d="M589 356.23 L591.53 361.08 L586.47 361.08 Z" fill="#d1006a"/>
<line x1="504" y1="278.6" x2="500" y2="278.6" stroke="#000" stroke-width="1.3"/>
<text x="499" y="281.9" font-size="9.3" text-anchor="end" fill="#222">3×10<tspan font-size="6.7" dy="-3.53">4</tspan></text>
<line x1="504" y1="314.27" x2="500" y2="314.27" stroke="#000" stroke-width="1.3"/>
<text x="499" y="317.57" font-size="9.3" text-anchor="end" fill="#222">2×10<tspan font-size="6.7" dy="-3.53">4</tspan></text>
<line x1="504" y1="349.93" x2="500" y2="349.93" stroke="#000" stroke-width="1.3"/>
<text x="499" y="353.23" font-size="9.3" text-anchor="end" fill="#222">1×10<tspan font-size="6.7" dy="-3.53">4</tspan></text>
<line x1="504" y1="296.43" x2="501.2" y2="296.43" stroke="#000" stroke-width="1.1"/>
<line x1="504" y1="332.1" x2="501.2" y2="332.1" stroke="#000" stroke-width="1.1"/>
<line x1="504" y1="367.77" x2="501.2" y2="367.77" stroke="#000" stroke-width="1.1"/>
<line x1="504" y1="385.6" x2="500" y2="385.6" stroke="#000" stroke-width="1.3"/>
<text x="497.8" y="389" font-size="9.3" text-anchor="end" font-weight="normal" fill="#222">0</text>
<text x="469.2" y="332" font-size="10.2" text-anchor="middle" font-weight="normal" fill="#222" transform="rotate(-90 469.2 332)">Residual NK counts</text>
<line x1="531.6" y1="276" x2="593" y2="276" stroke="#000" stroke-width="1.8"/>
<path d="M557.2 267.6 L558.03 269.16 L559.77 269.47 L558.54 270.73 L558.79 272.48 L557.2 271.7 L555.61 272.48 L555.86 270.73 L554.63 269.47 L556.37 269.16ZM563 267.6 L563.83 269.16 L565.57 269.47 L564.34 270.73 L564.59 272.48 L563 271.7 L561.41 272.48 L561.66 270.73 L560.43 269.47 L562.17 269.16Z" fill="#111"/>
<line x1="533" y1="288.6" x2="573" y2="288.6" stroke="#000" stroke-width="1.8"/>
<text x="549.8" y="285.6" font-size="10.4" text-anchor="middle" font-weight="normal" fill="#111">ns</text>
<circle cx="607" cy="278.4" r="2.3" fill="#333333"/>
<text x="619.4" y="281.6" font-size="9" text-anchor="start" font-weight="normal" fill="#222">NT</text>
<rect x="604.8" y="287.4" width="4.4" height="4.4" fill="#c4bf00"/>
<text x="619.4" y="292.8" font-size="9" text-anchor="start" font-weight="normal" fill="#222">CAR</text>
<path d="M607 298.63 L609.53 303.48 L604.47 303.48 Z" fill="#ff0000"/>
<text x="619.4" y="304.6" font-size="9" text-anchor="start" font-weight="normal" fill="#222">CAR+ΔSSR</text>
<rect x="604.8" y="313.3" width="4.4" height="4.4" fill="#9a621c"/>
<text x="619.4" y="318.6" font-size="9" text-anchor="start" font-weight="normal" fill="#222">CAR+SSR</text>
<path d="M607 326.83 L609.53 331.68 L604.47 331.68 Z" fill="#d1006a"/>
<text x="619.4" y="332.6" font-size="9" text-anchor="start" font-weight="normal" fill="#222">CAR+CD38CAR</text>
<text x="-0.5" y="434.5" font-size="20" text-anchor="start" font-weight="bold" fill="#000">C</text>
<text x="49.6" y="473.6" font-size="14" text-anchor="start" font-weight="normal" fill="#000">CD34+ HSPC</text>
<rect x="53" y="485.6" width="79.4" height="78.4" stroke="#9a9a9a" fill="none" stroke-width="1"/>
<line x1="53" y1="485.6" x2="53" y2="564" stroke="#555" stroke-width="1"/>
<path d="M68.95 534.09h0.8v0.8h-0.8zM69.19 527.48h0.8v0.8h-0.8zM63.56 528.29h0.8v0.8h-0.8zM79.9 533.39h0.8v0.8h-0.8zM79.3 531.99h0.8v0.8h-0.8zM74.16 531.48h0.8v0.8h-0.8zM57.67 536.84h0.8v0.8h-0.8zM75.05 533.99h0.8v0.8h-0.8zM57.47 516.05h0.8v0.8h-0.8zM63.88 526.25h0.8v0.8h-0.8zM73.44 529.63h0.8v0.8h-0.8zM75.17 524.86h0.8v0.8h-0.8zM73.47 533.15h0.8v0.8h-0.8zM65.71 543.74h0.8v0.8h-0.8zM75.45 539.58h0.8v0.8h-0.8zM66.04 524.08h0.8v0.8h-0.8zM68.25 529.15h0.8v0.8h-0.8zM76.06 531.99h0.8v0.8h-0.8zM67.42 522.34h0.8v0.8h-0.8zM66.84 539.77h0.8v0.8h-0.8zM64.54 531.96h0.8v0.8h-0.8zM74.41 518.08h0.8v0.8h-0.8zM71.39 540.45h0.8v0.8h-0.8zM54.89 527.43h0.8v0.8h-0.8zM70.15 523.46h0.8v0.8h-0.8zM74.98 529.5h0.8v0.8h-0.8zM59.28 536.62h0.8v0.8h-0.8zM76.35 537.57h0.8v0.8h-0.8zM82.52 532.9h0.8v0.8h-0.8zM71.95 519.61h0.8v0.8h-0.8zM75.92 525.11h0.8v0.8h-0.8zM67.38 519.88h0.8v0.8h-0.8zM63.26 525.75h0.8v0.8h-0.8zM81.31 513.75h0.8v0.8h-0.8zM59.34 531.91h0.8v0.8h-0.8zM82.55 534.63h0.8v0.8h-0.8zM55.8 509.85h0.8v0.8h-0.8zM73.86 524.11h0.8v0.8h-0.8zM62.04 537.82h0.8v0.8h-0.8zM79.81 531.26h0.8v0.8h-0.8zM72.97 533.47h0.8v0.8h-0.8zM83.75 534.95h0.8v0.8h-0.8zM75.15 534.38h0.8v0.8h-0.8zM58.45 540.25h0.8v0.8h-0.8zM78.64 534.24h0.8v0.8h-0.8zM55.21 524.93h0.8v0.8h-0.8zM77.74 515.51h0.8v0.8h-0.8zM69.53 538.16h0.8v0.8h-0.8zM60.51 542.88h0.8v0.8h-0.8zM75.42 528.8h0.8v0.8h-0.8zM73.6 535.2h0.8v0.8h-0.8zM71.96 539.17h0.8v0.8h-0.8zM65.71 526.68h0.8v0.8h-0.8zM79.33 530.21h0.8v0.8h-0.8zM63.96 537.57h0.8v0.8h-0.8zM82.72 526.44h0.8v0.8h-0.8zM59.96 528.92h0.8v0.8h-0.8zM69.81 527.62h0.8v0.8h-0.8zM82.24 521.78h0.8v0.8h-0.8zM81.08 519.85h0.8v0.8h-0.8zM64.7 535.05h0.8v0.8h-0.8zM80.03 536.87h0.8v0.8h-0.8zM73.76 531.14h0.8v0.8h-0.8zM72.22 534.6h0.8v0.8h-0.8zM69.59 532.22h0.8v0.8h-0.8zM75.58 530.01h0.8v0.8h-0.8zM77.11 534.53h0.8v0.8h-0.8zM87.09 532.6h0.8v0.8h-0.8zM67.58 527.02h0.8v0.8h-0.8zM70.9 537.39h0.8v0.8h-0.8zM68.31 533.09h0.8v0.8h-0.8zM85.7 509.48h0.8v0.8h-0.8zM62.01 531.95h0.8v0.8h-0.8zM74.19 531.91h0.8v0.8h-0.8zM67.55 535.24h0.8v0.8h-0.8zM73.26 525.82h0.8v0.8h-0.8zM90.44 532.84h0.8v0.8h-0.8zM66.57 529.2h0.8v0.8h-0.8zM69.2 529.5h0.8v0.8h-0.8zM79.07 520.65h0.8v0.8h-0.8zM70.47 537.63h0.8v0.8h-0.8zM77.85 541.93h0.8v0.8h-0.8zM57.39 527.17h0.8v0.8h-0.8zM68.27 534.99h0.8v0.8h-0.8zM79.73 508.54h0.8v0.8h-0.8zM79.71 518.42h0.8v0.8h-0.8zM76.47 518.06h0.8v0.8h-0.8zM72.41 539.56h0.8v0.8h-0.8zM69.81 531.53h0.8v0.8h-0.8zM77.38 531.13h0.8v0.8h-0.8zM70.29 542.27h0.8v0.8h-0.8zM79.39 527.65h0.8v0.8h-0.8zM92.96 520.83h0.8v0.8h-0.8zM78.32 527.87h0.8v0.8h-0.8zM72.06 535.64h0.8v0.8h-0.8zM72.78 535.11h0.8v0.8h-0.8zM58.78 517.92h0.8v0.8h-0.8zM75.92 522.29h0.8v0.8h-0.8zM62.79 518.24h0.8v0.8h-0.8zM81.13 535.97h0.8v0.8h-0.8zM82.78 522.5h0.8v0.8h-0.8zM71.01 520.88h0.8v0.8h-0.8zM77.13 542.72h0.8v0.8h-0.8zM63.88 542.48h0.8v0.8h-0.8zM78.9 528.58h0.8v0.8h-0.8zM55.22 541.25h0.8v0.8h-0.8zM70.23 525.18h0.8v0.8h-0.8zM74.2 533.28h0.8v0.8h-0.8zM82.98 521.84h0.8v0.8h-0.8z" fill="#ff3a3a"/>
<path d="M100.48 528.26h0.9v0.9h-0.9zM100.53 521.62h0.9v0.9h-0.9zM83.1 535.64h0.9v0.9h-0.9zM89.22 528.84h0.9v0.9h-0.9zM100.14 521.5h0.9v0.9h-0.9zM67.08 538.59h0.9v0.9h-0.9zM72.98 540.23h0.9v0.9h-0.9zM89.79 525.62h0.9v0.9h-0.9zM89.28 531.62h0.9v0.9h-0.9zM90.88 532.73h0.9v0.9h-0.9zM89.17 532.5h0.9v0.9h-0.9zM103.81 526.97h0.9v0.9h-0.9zM83.51 534.87h0.9v0.9h-0.9zM69.66 534.46h0.9v0.9h-0.9zM72.43 541.52h0.9v0.9h-0.9zM77.1 534.74h0.9v0.9h-0.9zM86.26 529.81h0.9v0.9h-0.9zM83.16 532.5h0.9v0.9h-0.9zM103.89 520.73h0.9v0.9h-0.9zM94.33 529.6h0.9v0.9h-0.9zM84.18 526.04h0.9v0.9h-0.9zM84.86 534.93h0.9v0.9h-0.9zM72.48 534.88h0.9v0.9h-0.9zM98.2 526.72h0.9v0.9h-0.9zM89.39 531.45h0.9v0.9h-0.9zM87.53 524.58h0.9v0.9h-0.9zM73.14 534.37h0.9v0.9h-0.9zM95.22 522.92h0.9v0.9h-0.9zM78.77 530.85h0.9v0.9h-0.9zM74.28 535.83h0.9v0.9h-0.9zM78.18 535.66h0.9v0.9h-0.9zM67.7 541.09h0.9v0.9h-0.9zM79.14 526.01h0.9v0.9h-0.9zM93.95 524.75h0.9v0.9h-0.9zM66.87 536.77h0.9v0.9h-0.9zM89.82 526.22h0.9v0.9h-0.9zM96.12 527.65h0.9v0.9h-0.9zM94.42 526.88h0.9v0.9h-0.9zM100.86 524.78h0.9v0.9h-0.9zM88.56 520.44h0.9v0.9h-0.9zM98.07 528.84h0.9v0.9h-0.9zM84.61 528.94h0.9v0.9h-0.9zM102.24 514.46h0.9v0.9h-0.9zM96.12 534.29h0.9v0.9h-0.9zM80.94 535.49h0.9v0.9h-0.9zM104.46 519.77h0.9v0.9h-0.9zM94.44 529.15h0.9v0.9h-0.9zM79.86 532.98h0.9v0.9h-0.9zM91.94 530.18h0.9v0.9h-0.9zM87.37 528.56h0.9v0.9h-0.9zM78.44 532.66h0.9v0.9h-0.9zM96.04 525.13h0.9v0.9h-0.9zM79.09 530.4h0.9v0.9h-0.9zM113.42 520h0.9v0.9h-0.9zM89.37 517.99h0.9v0.9h-0.9zM94.28 527.57h0.9v0.9h-0.9zM103.57 522.42h0.9v0.9h-0.9zM88.26 530.93h0.9v0.9h-0.9zM72.53 541.32h0.9v0.9h-0.9zM89.71 525.31h0.9v0.9h-0.9zM102.68 528.37h0.9v0.9h-0.9zM74.52 533.52h0.9v0.9h-0.9zM90.87 528.2h0.9v0.9h-0.9zM82.88 527.86h0.9v0.9h-0.9zM108.43 522.25h0.9v0.9h-0.9zM75.25 530.45h0.9v0.9h-0.9zM104.66 524.06h0.9v0.9h-0.9zM105.41 522.95h0.9v0.9h-0.9zM80.73 533.9h0.9v0.9h-0.9zM67.7 536.83h0.9v0.9h-0.9zM88.34 530.89h0.9v0.9h-0.9zM81.37 532.03h0.9v0.9h-0.9zM92.67 528.01h0.9v0.9h-0.9zM93.98 526.65h0.9v0.9h-0.9zM86.44 532.96h0.9v0.9h-0.9zM87.08 526.22h0.9v0.9h-0.9zM82.47 531.94h0.9v0.9h-0.9zM87.29 530h0.9v0.9h-0.9zM88.28 529.55h0.9v0.9h-0.9zM84.75 525.74h0.9v0.9h-0.9zM93.45 530.28h0.9v0.9h-0.9zM91.53 526.37h0.9v0.9h-0.9zM90.36 523.92h0.9v0.9h-0.9zM71.36 538.09h0.9v0.9h-0.9zM81 535.65h0.9v0.9h-0.9zM74.11 525.97h0.9v0.9h-0.9zM81.41 538.76h0.9v0.9h-0.9zM82.38 526.56h0.9v0.9h-0.9zM82.12 534.19h0.9v0.9h-0.9zM92.68 527.21h0.9v0.9h-0.9zM102.26 524.22h0.9v0.9h-0.9zM88.8 530.94h0.9v0.9h-0.9zM104.21 524.23h0.9v0.9h-0.9zM95.26 520.85h0.9v0.9h-0.9zM87.89 531.95h0.9v0.9h-0.9zM87.14 533.69h0.9v0.9h-0.9zM94.76 529.01h0.9v0.9h-0.9zM90.31 537.87h0.9v0.9h-0.9zM98.59 522.51h0.9v0.9h-0.9zM93.06 536.59h0.9v0.9h-0.9zM86.41 533.31h0.9v0.9h-0.9zM96.67 524.42h0.9v0.9h-0.9zM78 535.06h0.9v0.9h-0.9zM93.03 530.8h0.9v0.9h-0.9zM94.95 525.4h0.9v0.9h-0.9zM96.42 526.66h0.9v0.9h-0.9zM89.91 528.2h0.9v0.9h-0.9zM86.98 532.26h0.9v0.9h-0.9zM77.66 532.01h0.9v0.9h-0.9zM85.64 524.45h0.9v0.9h-0.9zM80.85 524.84h0.9v0.9h-0.9zM82.9 533.96h0.9v0.9h-0.9zM92.91 526.17h0.9v0.9h-0.9zM83.62 525.71h0.9v0.9h-0.9zM104.99 522.01h0.9v0.9h-0.9zM96.2 521.14h0.9v0.9h-0.9zM83.37 524.25h0.9v0.9h-0.9zM96.43 528.23h0.9v0.9h-0.9zM71.16 537.75h0.9v0.9h-0.9zM90.67 520.6h0.9v0.9h-0.9zM70.13 534.28h0.9v0.9h-0.9zM80.14 527.62h0.9v0.9h-0.9zM88.69 529.62h0.9v0.9h-0.9zM94.75 528.19h0.9v0.9h-0.9zM103.18 525.54h0.9v0.9h-0.9zM75.59 533.6h0.9v0.9h-0.9zM76.87 530.65h0.9v0.9h-0.9zM87.29 529.4h0.9v0.9h-0.9zM89.72 521.79h0.9v0.9h-0.9zM77.03 534.74h0.9v0.9h-0.9zM85.73 528.97h0.9v0.9h-0.9zM86.19 526.95h0.9v0.9h-0.9zM94.77 526.8h0.9v0.9h-0.9zM86.12 527.34h0.9v0.9h-0.9zM81.99 521.41h0.9v0.9h-0.9zM79.4 533.72h0.9v0.9h-0.9zM75.05 536.68h0.9v0.9h-0.9zM87.04 524.05h0.9v0.9h-0.9zM85.27 529.21h0.9v0.9h-0.9zM93.07 528.73h0.9v0.9h-0.9zM86.28 526.54h0.9v0.9h-0.9zM86.62 529.48h0.9v0.9h-0.9zM94.97 526.46h0.9v0.9h-0.9zM79.39 528.21h0.9v0.9h-0.9zM83.49 528.46h0.9v0.9h-0.9zM77.99 533.86h0.9v0.9h-0.9zM83.84 531.63h0.9v0.9h-0.9zM91.94 525.27h0.9v0.9h-0.9zM107.99 517.09h0.9v0.9h-0.9zM97.93 524.2h0.9v0.9h-0.9zM93.95 516.42h0.9v0.9h-0.9zM81.77 533.29h0.9v0.9h-0.9zM97.16 533.39h0.9v0.9h-0.9zM92.95 531.44h0.9v0.9h-0.9zM96.32 528.33h0.9v0.9h-0.9zM92.25 526.12h0.9v0.9h-0.9zM90.72 523.28h0.9v0.9h-0.9zM96.76 520.31h0.9v0.9h-0.9zM93.69 534.38h0.9v0.9h-0.9zM86.06 530.11h0.9v0.9h-0.9zM98.31 523.62h0.9v0.9h-0.9zM81.29 533.59h0.9v0.9h-0.9zM94.31 528.46h0.9v0.9h-0.9zM84.06 538.04h0.9v0.9h-0.9zM102.75 521.23h0.9v0.9h-0.9zM89.67 526.41h0.9v0.9h-0.9zM99.33 520.18h0.9v0.9h-0.9zM93.16 524.35h0.9v0.9h-0.9zM83.05 534.48h0.9v0.9h-0.9zM99.76 522.71h0.9v0.9h-0.9zM83.35 534.69h0.9v0.9h-0.9zM88.07 530.19h0.9v0.9h-0.9zM103.31 525.35h0.9v0.9h-0.9zM87.16 538.5h0.9v0.9h-0.9zM89.32 531.41h0.9v0.9h-0.9zM82.21 531.9h0.9v0.9h-0.9zM75.48 542.74h0.9v0.9h-0.9zM98.06 518.83h0.9v0.9h-0.9zM72.05 531.06h0.9v0.9h-0.9zM97.63 522.06h0.9v0.9h-0.9zM86.95 528.32h0.9v0.9h-0.9zM85.14 526.21h0.9v0.9h-0.9zM85.85 524.44h0.9v0.9h-0.9zM87.88 530.29h0.9v0.9h-0.9zM91.75 526.09h0.9v0.9h-0.9zM80.28 533.74h0.9v0.9h-0.9zM86.29 536.11h0.9v0.9h-0.9zM94.59 525.04h0.9v0.9h-0.9zM82.69 529.04h0.9v0.9h-0.9zM79.14 532.31h0.9v0.9h-0.9zM91.45 529.21h0.9v0.9h-0.9zM96.47 532.81h0.9v0.9h-0.9zM81.8 532.35h0.9v0.9h-0.9zM109.61 510.11h0.9v0.9h-0.9zM83.67 531.97h0.9v0.9h-0.9zM90.03 529.54h0.9v0.9h-0.9zM86.49 531.25h0.9v0.9h-0.9zM89.73 531.14h0.9v0.9h-0.9zM69.84 535.15h0.9v0.9h-0.9zM86.28 525.82h0.9v0.9h-0.9zM79.81 535.84h0.9v0.9h-0.9zM83.3 534.01h0.9v0.9h-0.9zM95.09 526.45h0.9v0.9h-0.9zM92.31 526.29h0.9v0.9h-0.9zM75.51 535.52h0.9v0.9h-0.9zM91.14 525.23h0.9v0.9h-0.9zM88.35 531.78h0.9v0.9h-0.9zM81.3 535.1h0.9v0.9h-0.9zM103.53 518.54h0.9v0.9h-0.9zM89.05 527.85h0.9v0.9h-0.9zM102.12 522.75h0.9v0.9h-0.9zM94.79 522.65h0.9v0.9h-0.9zM87.84 529.05h0.9v0.9h-0.9zM74.69 541.79h0.9v0.9h-0.9zM93.07 519.37h0.9v0.9h-0.9zM94.36 525.1h0.9v0.9h-0.9zM92.56 528.03h0.9v0.9h-0.9zM74.42 535.38h0.9v0.9h-0.9zM100.23 520.22h0.9v0.9h-0.9zM76.73 529.6h0.9v0.9h-0.9zM77.77 535.77h0.9v0.9h-0.9zM103.65 522.38h0.9v0.9h-0.9zM93.84 534.75h0.9v0.9h-0.9zM82.31 529.36h0.9v0.9h-0.9zM93.57 528.21h0.9v0.9h-0.9zM77.12 530.15h0.9v0.9h-0.9zM90.98 528.4h0.9v0.9h-0.9zM76.13 534.51h0.9v0.9h-0.9zM83.96 532.97h0.9v0.9h-0.9zM86.83 529.28h0.9v0.9h-0.9zM86.61 533.92h0.9v0.9h-0.9zM99.68 521.34h0.9v0.9h-0.9zM94.23 522.69h0.9v0.9h-0.9zM89.87 530.98h0.9v0.9h-0.9zM100.74 520.71h0.9v0.9h-0.9zM87.67 529.95h0.9v0.9h-0.9zM74.8 536.08h0.9v0.9h-0.9zM82.64 533.32h0.9v0.9h-0.9zM74.77 528.2h0.9v0.9h-0.9zM88.77 529.63h0.9v0.9h-0.9zM84.61 534.32h0.9v0.9h-0.9zM84.59 528.41h0.9v0.9h-0.9zM89.64 521.91h0.9v0.9h-0.9zM81.98 532.12h0.9v0.9h-0.9zM95.23 524.51h0.9v0.9h-0.9zM89.65 525.53h0.9v0.9h-0.9zM93.4 532.72h0.9v0.9h-0.9zM85.83 539.53h0.9v0.9h-0.9zM82.34 532.08h0.9v0.9h-0.9zM91.21 531.35h0.9v0.9h-0.9zM73.63 528.32h0.9v0.9h-0.9zM94.66 528.61h0.9v0.9h-0.9zM97.83 534.2h0.9v0.9h-0.9zM90.23 528.82h0.9v0.9h-0.9zM96.81 525.78h0.9v0.9h-0.9zM100.65 517.36h0.9v0.9h-0.9zM79.03 520.12h0.9v0.9h-0.9zM94.56 524.04h0.9v0.9h-0.9zM99.7 531.32h0.9v0.9h-0.9zM87.53 528.24h0.9v0.9h-0.9zM82.21 528.76h0.9v0.9h-0.9zM83.48 533.93h0.9v0.9h-0.9zM88.43 529.03h0.9v0.9h-0.9zM87.97 532.64h0.9v0.9h-0.9zM92.13 526.24h0.9v0.9h-0.9zM93.62 525.41h0.9v0.9h-0.9zM80.21 538.91h0.9v0.9h-0.9zM90.54 523.86h0.9v0.9h-0.9zM98.09 525h0.9v0.9h-0.9zM76.83 541.32h0.9v0.9h-0.9zM92.41 530.19h0.9v0.9h-0.9zM89.5 527.61h0.9v0.9h-0.9zM75.93 539.27h0.9v0.9h-0.9zM87.8 527.97h0.9v0.9h-0.9zM91.23 527.59h0.9v0.9h-0.9zM93.36 524.68h0.9v0.9h-0.9zM84.16 522.56h0.9v0.9h-0.9zM85.37 533.08h0.9v0.9h-0.9zM99.2 521.6h0.9v0.9h-0.9zM89.53 534.46h0.9v0.9h-0.9zM86.33 532.8h0.9v0.9h-0.9zM102.88 521.24h0.9v0.9h-0.9zM97.67 521.04h0.9v0.9h-0.9zM89.71 527.79h0.9v0.9h-0.9zM90.87 531.95h0.9v0.9h-0.9zM108.01 515.72h0.9v0.9h-0.9zM83.74 533.24h0.9v0.9h-0.9zM79.5 535.49h0.9v0.9h-0.9zM92.59 525.46h0.9v0.9h-0.9zM90.14 521.72h0.9v0.9h-0.9zM92.17 520.66h0.9v0.9h-0.9zM80.94 530.55h0.9v0.9h-0.9zM85.87 533.54h0.9v0.9h-0.9zM88.07 527.39h0.9v0.9h-0.9zM95.4 531.34h0.9v0.9h-0.9zM88.66 530.1h0.9v0.9h-0.9zM99.39 524.01h0.9v0.9h-0.9zM80.76 542.72h0.9v0.9h-0.9zM104.24 512.5h0.9v0.9h-0.9zM88.34 530.47h0.9v0.9h-0.9zM97.63 526.53h0.9v0.9h-0.9zM83.87 527.02h0.9v0.9h-0.9zM90.61 531.71h0.9v0.9h-0.9zM76.69 530.94h0.9v0.9h-0.9zM84.6 523.13h0.9v0.9h-0.9zM84.98 528.87h0.9v0.9h-0.9zM90.83 524.72h0.9v0.9h-0.9zM79.56 531.92h0.9v0.9h-0.9zM86.47 527.18h0.9v0.9h-0.9zM89.34 531.26h0.9v0.9h-0.9zM101.27 528.7h0.9v0.9h-0.9zM80.39 531.38h0.9v0.9h-0.9zM69.2 546.53h0.9v0.9h-0.9zM81.55 532.3h0.9v0.9h-0.9zM90.38 522.35h0.9v0.9h-0.9zM92.05 526.74h0.9v0.9h-0.9zM72.36 538.48h0.9v0.9h-0.9zM95.48 517.62h0.9v0.9h-0.9zM95.47 525.86h0.9v0.9h-0.9zM92.92 528.14h0.9v0.9h-0.9zM99.15 522.19h0.9v0.9h-0.9zM95.04 523.63h0.9v0.9h-0.9zM93.09 523.07h0.9v0.9h-0.9zM89.89 534.86h0.9v0.9h-0.9zM91.67 526.42h0.9v0.9h-0.9zM76.59 531.93h0.9v0.9h-0.9zM91.25 530.99h0.9v0.9h-0.9zM92.62 528.62h0.9v0.9h-0.9zM89.85 533.37h0.9v0.9h-0.9zM83.65 529.14h0.9v0.9h-0.9zM95.95 525.03h0.9v0.9h-0.9zM84.59 528.53h0.9v0.9h-0.9zM86.76 532.13h0.9v0.9h-0.9zM89.14 523.6h0.9v0.9h-0.9zM92.06 527.55h0.9v0.9h-0.9zM80.44 536.08h0.9v0.9h-0.9zM84.97 529.28h0.9v0.9h-0.9zM97.2 529.35h0.9v0.9h-0.9zM82.64 533.59h0.9v0.9h-0.9zM84.07 540.26h0.9v0.9h-0.9zM85.6 535.01h0.9v0.9h-0.9zM83.62 534.55h0.9v0.9h-0.9zM103.42 510.73h0.9v0.9h-0.9zM84.99 532.59h0.9v0.9h-0.9zM86.08 527.37h0.9v0.9h-0.9zM107.13 519.14h0.9v0.9h-0.9zM74.88 539.36h0.9v0.9h-0.9zM74.69 540.64h0.9v0.9h-0.9zM83.14 532.16h0.9v0.9h-0.9zM99.33 523.44h0.9v0.9h-0.9zM72.93 530.29h0.9v0.9h-0.9zM99.66 525.74h0.9v0.9h-0.9zM82.21 535.49h0.9v0.9h-0.9zM93.45 528.67h0.9v0.9h-0.9zM67.56 538.67h0.9v0.9h-0.9zM97.16 527.04h0.9v0.9h-0.9zM91.74 517.27h0.9v0.9h-0.9zM90.3 529.73h0.9v0.9h-0.9zM108.96 514.07h0.9v0.9h-0.9zM85.15 530.66h0.9v0.9h-0.9zM95.1 523.47h0.9v0.9h-0.9zM96.83 521.18h0.9v0.9h-0.9zM89.49 526.12h0.9v0.9h-0.9zM88.26 526.12h0.9v0.9h-0.9zM75.69 539.88h0.9v0.9h-0.9zM89.76 525.85h0.9v0.9h-0.9zM91.4 531.12h0.9v0.9h-0.9zM79.19 533.25h0.9v0.9h-0.9zM93.63 528.09h0.9v0.9h-0.9zM81.58 524.06h0.9v0.9h-0.9zM99.51 524.18h0.9v0.9h-0.9zM87.66 528.08h0.9v0.9h-0.9zM89.63 526.45h0.9v0.9h-0.9zM77.74 531.52h0.9v0.9h-0.9zM81.72 529.91h0.9v0.9h-0.9zM78.81 536.41h0.9v0.9h-0.9zM77.52 537.19h0.9v0.9h-0.9zM79.62 534.85h0.9v0.9h-0.9zM100.47 523.18h0.9v0.9h-0.9zM81.63 532.58h0.9v0.9h-0.9zM86.46 522.95h0.9v0.9h-0.9zM82.9 532.36h0.9v0.9h-0.9zM83.99 531.45h0.9v0.9h-0.9zM95.74 527.92h0.9v0.9h-0.9zM96.96 526.57h0.9v0.9h-0.9zM85.43 530.29h0.9v0.9h-0.9zM85.09 529.31h0.9v0.9h-0.9zM83.58 524.51h0.9v0.9h-0.9zM85.02 530.49h0.9v0.9h-0.9zM79.36 533.5h0.9v0.9h-0.9zM92.28 526.07h0.9v0.9h-0.9zM102.05 511.2h0.9v0.9h-0.9zM83.18 524.33h0.9v0.9h-0.9zM101.01 532.6h0.9v0.9h-0.9zM66.12 541.14h0.9v0.9h-0.9zM92.09 525.63h0.9v0.9h-0.9zM89.19 519.48h0.9v0.9h-0.9zM96.13 526.15h0.9v0.9h-0.9zM87.24 527.08h0.9v0.9h-0.9zM92.84 524.5h0.9v0.9h-0.9zM89.13 526.38h0.9v0.9h-0.9zM68.11 539.45h0.9v0.9h-0.9zM91.02 530.38h0.9v0.9h-0.9zM80.21 533.01h0.9v0.9h-0.9zM93.69 526.55h0.9v0.9h-0.9zM102.24 529.32h0.9v0.9h-0.9zM76.82 527.33h0.9v0.9h-0.9zM98.08 529.7h0.9v0.9h-0.9zM97.48 527.19h0.9v0.9h-0.9zM81.37 529.7h0.9v0.9h-0.9zM94.35 522.01h0.9v0.9h-0.9zM70.35 534.43h0.9v0.9h-0.9zM113.17 523.24h0.9v0.9h-0.9zM80.74 529.97h0.9v0.9h-0.9zM88.81 525.6h0.9v0.9h-0.9zM99.44 522.61h0.9v0.9h-0.9zM80.56 538.14h0.9v0.9h-0.9zM83.21 532.42h0.9v0.9h-0.9zM87.37 528.09h0.9v0.9h-0.9zM89.73 525.33h0.9v0.9h-0.9zM68.09 530.84h0.9v0.9h-0.9zM75.57 532.6h0.9v0.9h-0.9zM87.89 529.28h0.9v0.9h-0.9zM93.11 526.76h0.9v0.9h-0.9zM79.83 530.53h0.9v0.9h-0.9zM69.01 538.42h0.9v0.9h-0.9zM93.15 528.36h0.9v0.9h-0.9zM86.64 529.03h0.9v0.9h-0.9zM96.29 524.65h0.9v0.9h-0.9zM95.47 527.34h0.9v0.9h-0.9zM92.03 532.04h0.9v0.9h-0.9zM82.35 530.58h0.9v0.9h-0.9zM79.56 530.33h0.9v0.9h-0.9zM104.63 527.13h0.9v0.9h-0.9zM89.14 530.65h0.9v0.9h-0.9zM99.7 525.98h0.9v0.9h-0.9zM96.57 519.44h0.9v0.9h-0.9zM83.1 533.4h0.9v0.9h-0.9zM100.84 522.58h0.9v0.9h-0.9zM79.84 531.93h0.9v0.9h-0.9zM80.76 529.45h0.9v0.9h-0.9zM100.23 520.02h0.9v0.9h-0.9zM91.73 535.59h0.9v0.9h-0.9zM99.01 524.48h0.9v0.9h-0.9zM83.27 533.14h0.9v0.9h-0.9zM103.34 523.31h0.9v0.9h-0.9zM99.3 523.38h0.9v0.9h-0.9zM92.23 525.96h0.9v0.9h-0.9zM93.91 531.01h0.9v0.9h-0.9zM75.26 535.53h0.9v0.9h-0.9zM89.18 526.11h0.9v0.9h-0.9zM86.57 532.88h0.9v0.9h-0.9zM106.71 521.55h0.9v0.9h-0.9zM88.33 522.67h0.9v0.9h-0.9zM105.15 520.19h0.9v0.9h-0.9zM85.86 525.7h0.9v0.9h-0.9zM85.7 525.88h0.9v0.9h-0.9zM89.39 530.11h0.9v0.9h-0.9zM88.74 529.72h0.9v0.9h-0.9zM82.83 537.42h0.9v0.9h-0.9zM79.24 526.45h0.9v0.9h-0.9zM85.09 527.52h0.9v0.9h-0.9zM78.5 532.64h0.9v0.9h-0.9zM88.63 523.98h0.9v0.9h-0.9zM89.13 534.05h0.9v0.9h-0.9zM93.78 525.33h0.9v0.9h-0.9zM88.93 528.03h0.9v0.9h-0.9zM88.78 531.49h0.9v0.9h-0.9zM83.23 522h0.9v0.9h-0.9zM86.35 526.35h0.9v0.9h-0.9zM92.75 524.06h0.9v0.9h-0.9zM92.89 535.03h0.9v0.9h-0.9zM76.91 530.44h0.9v0.9h-0.9zM71.6 528.23h0.9v0.9h-0.9zM72.01 538.95h0.9v0.9h-0.9zM79.3 526.22h0.9v0.9h-0.9zM75.92 537.87h0.9v0.9h-0.9zM80.55 531.51h0.9v0.9h-0.9zM93.15 531.64h0.9v0.9h-0.9zM106.83 523.08h0.9v0.9h-0.9z" fill="#ff2020"/>
<path d="M100.01 523.19h0.9v0.9h-0.9zM110.63 522.92h0.9v0.9h-0.9zM97.79 524.97h0.9v0.9h-0.9zM100.66 522.5h0.9v0.9h-0.9zM94.73 520.43h0.9v0.9h-0.9zM94.29 519.91h0.9v0.9h-0.9zM106.41 521.74h0.9v0.9h-0.9zM93.86 529.59h0.9v0.9h-0.9zM101.82 515.69h0.9v0.9h-0.9zM110.15 521.11h0.9v0.9h-0.9zM109.1 514.94h0.9v0.9h-0.9zM102.43 522.98h0.9v0.9h-0.9zM100.32 523.02h0.9v0.9h-0.9zM103.18 516.48h0.9v0.9h-0.9zM90.52 521.91h0.9v0.9h-0.9zM95.22 522.57h0.9v0.9h-0.9zM101.34 522.92h0.9v0.9h-0.9zM98.41 521.05h0.9v0.9h-0.9zM97.61 526.64h0.9v0.9h-0.9zM103.36 521.56h0.9v0.9h-0.9zM98.95 528.04h0.9v0.9h-0.9zM96.42 526.14h0.9v0.9h-0.9zM105.12 519.67h0.9v0.9h-0.9zM102.34 518.04h0.9v0.9h-0.9zM104.86 521.28h0.9v0.9h-0.9zM90.93 528.43h0.9v0.9h-0.9zM95.48 528.57h0.9v0.9h-0.9zM95.04 524.07h0.9v0.9h-0.9zM100.2 521.44h0.9v0.9h-0.9zM99.82 520.88h0.9v0.9h-0.9zM102.74 521.51h0.9v0.9h-0.9zM97.08 514.87h0.9v0.9h-0.9zM105.5 520.48h0.9v0.9h-0.9zM89.19 527.27h0.9v0.9h-0.9zM102.8 524.93h0.9v0.9h-0.9zM94.72 529.74h0.9v0.9h-0.9zM100.8 530.02h0.9v0.9h-0.9zM98.95 525.22h0.9v0.9h-0.9zM95.71 520.72h0.9v0.9h-0.9zM106.12 523.06h0.9v0.9h-0.9zM108.52 521.93h0.9v0.9h-0.9zM93.94 519.66h0.9v0.9h-0.9zM94.62 522.58h0.9v0.9h-0.9zM95.12 526.45h0.9v0.9h-0.9zM100.52 521.51h0.9v0.9h-0.9zM99.8 522.21h0.9v0.9h-0.9zM101.03 524.61h0.9v0.9h-0.9zM103.57 518.94h0.9v0.9h-0.9zM92.22 530.36h0.9v0.9h-0.9zM100.88 525.82h0.9v0.9h-0.9zM89.49 525.78h0.9v0.9h-0.9zM97.53 518.93h0.9v0.9h-0.9zM96.94 526.17h0.9v0.9h-0.9zM106.79 525.01h0.9v0.9h-0.9zM92.62 521.04h0.9v0.9h-0.9zM102.95 524.45h0.9v0.9h-0.9zM98.61 518.95h0.9v0.9h-0.9zM104.24 523.45h0.9v0.9h-0.9zM101.53 520.4h0.9v0.9h-0.9zM101.58 524.52h0.9v0.9h-0.9zM93.82 519.13h0.9v0.9h-0.9zM101.37 523.6h0.9v0.9h-0.9zM100.07 525.44h0.9v0.9h-0.9zM95.64 524.09h0.9v0.9h-0.9zM97.94 525.28h0.9v0.9h-0.9zM107.59 518.71h0.9v0.9h-0.9zM112.15 522.63h0.9v0.9h-0.9zM104.06 522.86h0.9v0.9h-0.9zM108.65 518.52h0.9v0.9h-0.9zM97.18 520.3h0.9v0.9h-0.9zM103.14 525.68h0.9v0.9h-0.9zM102.44 522.98h0.9v0.9h-0.9zM98.07 523.92h0.9v0.9h-0.9zM92.25 529.12h0.9v0.9h-0.9zM95.48 520.85h0.9v0.9h-0.9zM93.89 522.4h0.9v0.9h-0.9zM104.95 524.02h0.9v0.9h-0.9zM92.49 528.63h0.9v0.9h-0.9zM103.29 519.39h0.9v0.9h-0.9zM89.89 524.27h0.9v0.9h-0.9zM95.86 525.38h0.9v0.9h-0.9zM94.73 518.16h0.9v0.9h-0.9zM98.58 518.21h0.9v0.9h-0.9zM102.68 517.61h0.9v0.9h-0.9zM94.19 522.18h0.9v0.9h-0.9zM97.44 527.83h0.9v0.9h-0.9zM104.42 522.76h0.9v0.9h-0.9zM99.04 517.98h0.9v0.9h-0.9zM95.48 522.64h0.9v0.9h-0.9zM94.13 526.61h0.9v0.9h-0.9zM94.08 522.69h0.9v0.9h-0.9zM90.88 519.62h0.9v0.9h-0.9zM103.81 525.36h0.9v0.9h-0.9zM98.87 519.89h0.9v0.9h-0.9zM84.15 529.56h0.9v0.9h-0.9zM106.1 521.09h0.9v0.9h-0.9zM105.82 525.03h0.9v0.9h-0.9zM104.77 519.24h0.9v0.9h-0.9zM105.73 522.79h0.9v0.9h-0.9zM89.99 525.33h0.9v0.9h-0.9zM90.96 525.9h0.9v0.9h-0.9zM101.02 518.73h0.9v0.9h-0.9zM89.02 531.23h0.9v0.9h-0.9zM102.75 526.25h0.9v0.9h-0.9zM92.83 528.93h0.9v0.9h-0.9zM112.79 523.92h0.9v0.9h-0.9zM98.13 524.22h0.9v0.9h-0.9zM99.27 526.12h0.9v0.9h-0.9zM104.87 520.91h0.9v0.9h-0.9zM92.27 528.12h0.9v0.9h-0.9zM97.09 525.81h0.9v0.9h-0.9zM102.29 526.92h0.9v0.9h-0.9zM104.82 519.19h0.9v0.9h-0.9zM102.92 527.12h0.9v0.9h-0.9zM96.5 525.41h0.9v0.9h-0.9zM107.04 523.82h0.9v0.9h-0.9zM100.4 518.16h0.9v0.9h-0.9zM92.26 526.52h0.9v0.9h-0.9zM104.02 529.22h0.9v0.9h-0.9zM95.49 528.1h0.9v0.9h-0.9zM101.41 516.62h0.9v0.9h-0.9zM94.63 525.3h0.9v0.9h-0.9zM96.08 523.68h0.9v0.9h-0.9zM100.71 519.69h0.9v0.9h-0.9zM100.88 520.18h0.9v0.9h-0.9zM96.57 525.72h0.9v0.9h-0.9zM96.13 525.09h0.9v0.9h-0.9zM107.93 519.48h0.9v0.9h-0.9zM99.01 525.37h0.9v0.9h-0.9zM98.18 526.83h0.9v0.9h-0.9zM92.56 527.6h0.9v0.9h-0.9zM95.25 521.93h0.9v0.9h-0.9zM107.89 516.66h0.9v0.9h-0.9zM109.51 520.88h0.9v0.9h-0.9zM105.99 517.02h0.9v0.9h-0.9zM107.31 524.36h0.9v0.9h-0.9zM98.21 522.9h0.9v0.9h-0.9zM112.86 517.97h0.9v0.9h-0.9zM95.94 522.2h0.9v0.9h-0.9zM101.85 522.92h0.9v0.9h-0.9zM101.92 527.39h0.9v0.9h-0.9zM97.71 525.05h0.9v0.9h-0.9zM105.99 516.93h0.9v0.9h-0.9zM106.84 525.76h0.9v0.9h-0.9zM90.23 522.99h0.9v0.9h-0.9zM91.15 520.2h0.9v0.9h-0.9zM99.43 516.82h0.9v0.9h-0.9zM103.41 525.92h0.9v0.9h-0.9zM89.66 525.75h0.9v0.9h-0.9zM89.21 529.48h0.9v0.9h-0.9zM94.6 523.92h0.9v0.9h-0.9zM99.92 524.39h0.9v0.9h-0.9zM97.09 523.82h0.9v0.9h-0.9zM96.09 524.55h0.9v0.9h-0.9zM92.55 525.81h0.9v0.9h-0.9zM87.7 525.98h0.9v0.9h-0.9zM109.74 518.92h0.9v0.9h-0.9zM92.28 526.55h0.9v0.9h-0.9zM91.73 520.59h0.9v0.9h-0.9zM95.73 526.7h0.9v0.9h-0.9zM101.03 521.87h0.9v0.9h-0.9zM92.63 522.08h0.9v0.9h-0.9zM106.78 520.65h0.9v0.9h-0.9zM91.33 519.27h0.9v0.9h-0.9zM94.16 532.96h0.9v0.9h-0.9zM92.52 525.37h0.9v0.9h-0.9zM99.99 522.09h0.9v0.9h-0.9zM95.91 519.81h0.9v0.9h-0.9zM95.05 530.06h0.9v0.9h-0.9zM95.74 527.05h0.9v0.9h-0.9zM89.27 526.04h0.9v0.9h-0.9zM101.62 525.3h0.9v0.9h-0.9zM93.42 527.18h0.9v0.9h-0.9zM100.32 520.08h0.9v0.9h-0.9zM100.65 519.43h0.9v0.9h-0.9zM94.55 524.74h0.9v0.9h-0.9zM83.78 528.8h0.9v0.9h-0.9zM91.79 521.18h0.9v0.9h-0.9zM97.49 526.08h0.9v0.9h-0.9zM98.17 527.43h0.9v0.9h-0.9zM91.07 521.96h0.9v0.9h-0.9zM108.08 520.62h0.9v0.9h-0.9zM103.33 518.58h0.9v0.9h-0.9zM103.77 521.91h0.9v0.9h-0.9zM102.64 521.61h0.9v0.9h-0.9zM104.98 518.48h0.9v0.9h-0.9zM91.98 521.06h0.9v0.9h-0.9zM104.63 518.34h0.9v0.9h-0.9zM92.14 522.73h0.9v0.9h-0.9zM95.1 520.46h0.9v0.9h-0.9zM96.68 521.91h0.9v0.9h-0.9zM94.85 521.57h0.9v0.9h-0.9zM98.69 521.64h0.9v0.9h-0.9zM99.92 523.44h0.9v0.9h-0.9zM98.43 516.15h0.9v0.9h-0.9zM95.13 521.99h0.9v0.9h-0.9zM101.53 516.87h0.9v0.9h-0.9zM94.7 523.79h0.9v0.9h-0.9zM98.24 526.51h0.9v0.9h-0.9zM97.62 526.68h0.9v0.9h-0.9zM88.81 521.25h0.9v0.9h-0.9zM106.27 521.47h0.9v0.9h-0.9zM101.85 522.25h0.9v0.9h-0.9zM100.33 518.53h0.9v0.9h-0.9zM103.68 519.39h0.9v0.9h-0.9zM104.58 521.03h0.9v0.9h-0.9zM86.57 523.86h0.9v0.9h-0.9zM105.12 520.08h0.9v0.9h-0.9zM97.07 524.56h0.9v0.9h-0.9zM96.02 522.44h0.9v0.9h-0.9zM99.73 523.17h0.9v0.9h-0.9zM107.49 519.72h0.9v0.9h-0.9zM111.48 523.79h0.9v0.9h-0.9zM109.74 522.09h0.9v0.9h-0.9zM99.88 523.09h0.9v0.9h-0.9zM97.39 521.29h0.9v0.9h-0.9zM97.91 521.37h0.9v0.9h-0.9zM108.72 520.8h0.9v0.9h-0.9zM94.36 518.68h0.9v0.9h-0.9zM98.24 521.96h0.9v0.9h-0.9z" fill="#ff2828"/>
<path d="M67.42 531.82h0.9v0.9h-0.9zM63.57 540.34h0.9v0.9h-0.9zM70.78 550.41h0.9v0.9h-0.9zM70.9 536.76h0.9v0.9h-0.9zM75.77 538.17h0.9v0.9h-0.9zM71.55 535.64h0.9v0.9h-0.9zM69 545h0.9v0.9h-0.9zM74.3 546.08h0.9v0.9h-0.9zM69.85 537.65h0.9v0.9h-0.9zM68.09 542.34h0.9v0.9h-0.9zM66.4 540.32h0.9v0.9h-0.9zM74.62 544.56h0.9v0.9h-0.9zM67.9 542.95h0.9v0.9h-0.9zM68.65 533.71h0.9v0.9h-0.9zM66.63 543.28h0.9v0.9h-0.9zM76.44 534.53h0.9v0.9h-0.9zM68.49 535.81h0.9v0.9h-0.9zM79.27 542.52h0.9v0.9h-0.9zM69.21 528.53h0.9v0.9h-0.9zM68.78 543.44h0.9v0.9h-0.9zM77.16 536.17h0.9v0.9h-0.9zM68.72 534.95h0.9v0.9h-0.9zM64.78 542.04h0.9v0.9h-0.9zM67.42 542.82h0.9v0.9h-0.9zM65.36 531.15h0.9v0.9h-0.9zM71.95 533.68h0.9v0.9h-0.9zM73.58 537.54h0.9v0.9h-0.9zM67.12 540.61h0.9v0.9h-0.9zM73.78 527.93h0.9v0.9h-0.9zM77.03 539.99h0.9v0.9h-0.9zM73.51 528.2h0.9v0.9h-0.9zM68.62 535.75h0.9v0.9h-0.9zM74.55 530.2h0.9v0.9h-0.9zM68.08 527.35h0.9v0.9h-0.9zM70.2 539.23h0.9v0.9h-0.9zM65.44 534.54h0.9v0.9h-0.9zM72.68 545.43h0.9v0.9h-0.9zM73.19 535.98h0.9v0.9h-0.9zM67.11 532.82h0.9v0.9h-0.9zM68.81 538.24h0.9v0.9h-0.9zM70.84 545.84h0.9v0.9h-0.9zM71.95 532.14h0.9v0.9h-0.9zM76.1 542.25h0.9v0.9h-0.9zM71.33 533.89h0.9v0.9h-0.9zM64.83 532.39h0.9v0.9h-0.9zM74.01 533.49h0.9v0.9h-0.9zM66.64 538.48h0.9v0.9h-0.9zM71.8 540.53h0.9v0.9h-0.9zM73.16 544.55h0.9v0.9h-0.9zM68.23 542.39h0.9v0.9h-0.9zM67.74 540.97h0.9v0.9h-0.9zM71.59 538.72h0.9v0.9h-0.9zM74.19 537.41h0.9v0.9h-0.9zM74.67 541.88h0.9v0.9h-0.9zM71.45 534.67h0.9v0.9h-0.9zM68.51 534.86h0.9v0.9h-0.9zM70.33 537.38h0.9v0.9h-0.9zM80.84 540.69h0.9v0.9h-0.9zM73.54 533.2h0.9v0.9h-0.9zM68.66 535.9h0.9v0.9h-0.9zM71.63 532.32h0.9v0.9h-0.9zM76.32 534.68h0.9v0.9h-0.9zM74.56 525.82h0.9v0.9h-0.9zM70.98 538.89h0.9v0.9h-0.9zM71.63 540.51h0.9v0.9h-0.9zM71.92 538.31h0.9v0.9h-0.9zM64.75 533.93h0.9v0.9h-0.9zM63.27 540.64h0.9v0.9h-0.9zM72.01 536.52h0.9v0.9h-0.9zM68.29 534.59h0.9v0.9h-0.9zM77.09 546.16h0.9v0.9h-0.9zM70.81 543.94h0.9v0.9h-0.9zM65.76 527.82h0.9v0.9h-0.9zM69.41 533.13h0.9v0.9h-0.9zM69.15 538.44h0.9v0.9h-0.9zM80.98 534.2h0.9v0.9h-0.9zM71.16 538.88h0.9v0.9h-0.9zM70.89 542.15h0.9v0.9h-0.9zM76.86 531.28h0.9v0.9h-0.9zM71.53 536.18h0.9v0.9h-0.9zM72.18 529.84h0.9v0.9h-0.9zM65.2 525.92h0.9v0.9h-0.9zM72.73 538.46h0.9v0.9h-0.9zM71.24 525.67h0.9v0.9h-0.9zM69.77 533.72h0.9v0.9h-0.9zM66.33 532.92h0.9v0.9h-0.9zM73.3 540.22h0.9v0.9h-0.9zM70.93 540.07h0.9v0.9h-0.9zM69.01 537.86h0.9v0.9h-0.9zM71.13 540.27h0.9v0.9h-0.9zM70.77 536.78h0.9v0.9h-0.9zM70.56 534.28h0.9v0.9h-0.9zM78.37 540.07h0.9v0.9h-0.9zM72.42 548.96h0.9v0.9h-0.9zM75.63 529.72h0.9v0.9h-0.9zM73.29 541.69h0.9v0.9h-0.9zM77.22 544.08h0.9v0.9h-0.9zM73.54 531.61h0.9v0.9h-0.9zM68.13 538.84h0.9v0.9h-0.9zM72.67 532.39h0.9v0.9h-0.9zM69.73 535.5h0.9v0.9h-0.9zM71.2 539.18h0.9v0.9h-0.9zM70.05 531.32h0.9v0.9h-0.9zM75.1 545.48h0.9v0.9h-0.9zM70.65 542.62h0.9v0.9h-0.9zM72.47 540.8h0.9v0.9h-0.9zM72.59 533.68h0.9v0.9h-0.9zM72.89 542.55h0.9v0.9h-0.9zM68.04 547.33h0.9v0.9h-0.9zM77.9 546.62h0.9v0.9h-0.9zM77.56 541.21h0.9v0.9h-0.9zM69.88 534.5h0.9v0.9h-0.9zM68.32 538.08h0.9v0.9h-0.9zM70.89 540.85h0.9v0.9h-0.9zM64.33 549.06h0.9v0.9h-0.9zM78.51 537.36h0.9v0.9h-0.9zM73.23 539.88h0.9v0.9h-0.9zM71.9 536.46h0.9v0.9h-0.9zM70.59 533.38h0.9v0.9h-0.9zM71.59 537.38h0.9v0.9h-0.9zM72.06 533.22h0.9v0.9h-0.9zM71.13 537.74h0.9v0.9h-0.9zM72.99 532.18h0.9v0.9h-0.9zM72.38 542.42h0.9v0.9h-0.9zM72.97 535.66h0.9v0.9h-0.9zM69.38 536.32h0.9v0.9h-0.9zM73.41 545.26h0.9v0.9h-0.9zM70.48 534.29h0.9v0.9h-0.9zM72.24 538.52h0.9v0.9h-0.9zM68 533.81h0.9v0.9h-0.9zM70.66 540.86h0.9v0.9h-0.9zM67.06 532.41h0.9v0.9h-0.9zM72.65 531.38h0.9v0.9h-0.9zM71.36 539.26h0.9v0.9h-0.9zM70.63 532.41h0.9v0.9h-0.9zM70.8 535.84h0.9v0.9h-0.9zM72.11 533.31h0.9v0.9h-0.9zM74.6 529.12h0.9v0.9h-0.9zM70.42 537.54h0.9v0.9h-0.9zM74.17 534.46h0.9v0.9h-0.9zM72.8 534.67h0.9v0.9h-0.9zM73.44 546.19h0.9v0.9h-0.9zM69.68 539.71h0.9v0.9h-0.9zM67.94 542.37h0.9v0.9h-0.9zM75 537.68h0.9v0.9h-0.9zM67.26 539.51h0.9v0.9h-0.9zM74.79 542.95h0.9v0.9h-0.9zM73.68 528.35h0.9v0.9h-0.9zM68.76 544.61h0.9v0.9h-0.9zM66.95 543.16h0.9v0.9h-0.9zM77.21 541.31h0.9v0.9h-0.9zM74.7 535.84h0.9v0.9h-0.9zM66.96 536.99h0.9v0.9h-0.9zM70.34 537.26h0.9v0.9h-0.9zM73.3 536.78h0.9v0.9h-0.9zM71.63 539.62h0.9v0.9h-0.9zM70.98 546.72h0.9v0.9h-0.9zM72.46 537.92h0.9v0.9h-0.9zM70.31 534.37h0.9v0.9h-0.9zM75.44 538.25h0.9v0.9h-0.9zM67.44 534.69h0.9v0.9h-0.9zM70.55 535.27h0.9v0.9h-0.9zM74.58 531.69h0.9v0.9h-0.9zM72.62 538.22h0.9v0.9h-0.9zM67.11 537.74h0.9v0.9h-0.9zM70.69 540.01h0.9v0.9h-0.9zM69.51 539.02h0.9v0.9h-0.9zM65.5 532.08h0.9v0.9h-0.9zM73.59 542.71h0.9v0.9h-0.9zM70.96 534.5h0.9v0.9h-0.9zM74.57 527.04h0.9v0.9h-0.9zM68.36 540.86h0.9v0.9h-0.9zM73.15 532.34h0.9v0.9h-0.9zM64.77 544.76h0.9v0.9h-0.9zM71.5 533.02h0.9v0.9h-0.9zM71.18 542.01h0.9v0.9h-0.9zM62.45 543.05h0.9v0.9h-0.9zM73.44 527.09h0.9v0.9h-0.9zM73.54 528.6h0.9v0.9h-0.9zM74.76 539.49h0.9v0.9h-0.9zM78.43 534.45h0.9v0.9h-0.9zM71.02 542.74h0.9v0.9h-0.9zM68.89 533.98h0.9v0.9h-0.9zM69.77 537.14h0.9v0.9h-0.9zM67.43 539.92h0.9v0.9h-0.9zM72.79 537.86h0.9v0.9h-0.9zM76.61 535.86h0.9v0.9h-0.9zM75.31 534.77h0.9v0.9h-0.9zM73.49 527.83h0.9v0.9h-0.9zM71.65 536.62h0.9v0.9h-0.9zM69.37 534.45h0.9v0.9h-0.9zM69.85 533.9h0.9v0.9h-0.9zM63.76 534.52h0.9v0.9h-0.9zM69.19 534.88h0.9v0.9h-0.9zM67.51 536.82h0.9v0.9h-0.9zM73.59 536.25h0.9v0.9h-0.9zM69.37 544.29h0.9v0.9h-0.9zM74.22 542.11h0.9v0.9h-0.9zM74.81 535.86h0.9v0.9h-0.9zM70.57 543.07h0.9v0.9h-0.9zM69.17 536.9h0.9v0.9h-0.9zM72.25 539.36h0.9v0.9h-0.9zM70.09 542.42h0.9v0.9h-0.9zM70.41 541.13h0.9v0.9h-0.9zM74.53 540.8h0.9v0.9h-0.9zM73.42 531.7h0.9v0.9h-0.9zM66.67 534.41h0.9v0.9h-0.9zM72.57 545h0.9v0.9h-0.9zM66.97 539.03h0.9v0.9h-0.9zM68.18 533.84h0.9v0.9h-0.9zM70.09 540.96h0.9v0.9h-0.9zM71.7 543.4h0.9v0.9h-0.9zM67.75 541.95h0.9v0.9h-0.9zM74.07 537.85h0.9v0.9h-0.9zM72.57 534.68h0.9v0.9h-0.9zM67.4 535.47h0.9v0.9h-0.9zM68.88 551.95h0.9v0.9h-0.9zM69.4 545.75h0.9v0.9h-0.9zM71.67 539.06h0.9v0.9h-0.9zM73.45 533.6h0.9v0.9h-0.9zM74.02 539.38h0.9v0.9h-0.9zM66 540.51h0.9v0.9h-0.9zM72.82 539.76h0.9v0.9h-0.9zM76.23 535.43h0.9v0.9h-0.9zM72.69 541.24h0.9v0.9h-0.9zM68.03 543.5h0.9v0.9h-0.9zM66.21 531h0.9v0.9h-0.9zM72.72 532.06h0.9v0.9h-0.9zM70.62 529.28h0.9v0.9h-0.9zM71.23 531.83h0.9v0.9h-0.9zM72.13 529.84h0.9v0.9h-0.9zM72.48 536.17h0.9v0.9h-0.9zM71.21 537.16h0.9v0.9h-0.9zM71.43 530.89h0.9v0.9h-0.9zM62.54 537.67h0.9v0.9h-0.9zM67.91 535.23h0.9v0.9h-0.9zM72.41 527.57h0.9v0.9h-0.9zM68.48 534.45h0.9v0.9h-0.9zM67.51 539.13h0.9v0.9h-0.9zM70.54 533.4h0.9v0.9h-0.9zM67.75 541.54h0.9v0.9h-0.9zM68.82 540.43h0.9v0.9h-0.9zM72.48 528.03h0.9v0.9h-0.9zM67.42 537.52h0.9v0.9h-0.9zM72.13 541.4h0.9v0.9h-0.9zM73.65 542.67h0.9v0.9h-0.9zM69.77 536.45h0.9v0.9h-0.9zM73.56 535.37h0.9v0.9h-0.9zM74.49 529.55h0.9v0.9h-0.9zM73.16 536.63h0.9v0.9h-0.9zM64.51 542.4h0.9v0.9h-0.9zM72.03 537.6h0.9v0.9h-0.9zM67.45 535.17h0.9v0.9h-0.9zM75.99 533.36h0.9v0.9h-0.9zM59.54 533.22h0.9v0.9h-0.9zM67.04 536.84h0.9v0.9h-0.9zM69.7 532.94h0.9v0.9h-0.9zM68.22 542.74h0.9v0.9h-0.9zM66.24 547.28h0.9v0.9h-0.9zM69.2 532.04h0.9v0.9h-0.9zM73.6 540.32h0.9v0.9h-0.9zM67.56 541.24h0.9v0.9h-0.9zM64.93 532.88h0.9v0.9h-0.9zM74.72 536.22h0.9v0.9h-0.9zM66.7 540.07h0.9v0.9h-0.9zM74.03 537.39h0.9v0.9h-0.9zM65.04 535.77h0.9v0.9h-0.9zM72.38 541.34h0.9v0.9h-0.9zM77.12 536.24h0.9v0.9h-0.9zM69.41 537.31h0.9v0.9h-0.9zM74.98 532.79h0.9v0.9h-0.9zM75.31 523.76h0.9v0.9h-0.9zM73.63 534.12h0.9v0.9h-0.9zM72.52 540.94h0.9v0.9h-0.9zM67.1 537.07h0.9v0.9h-0.9zM71.79 540.44h0.9v0.9h-0.9zM67.93 532.54h0.9v0.9h-0.9zM64.65 550.2h0.9v0.9h-0.9zM70.37 536.39h0.9v0.9h-0.9zM66.07 542.15h0.9v0.9h-0.9zM69.24 544.68h0.9v0.9h-0.9zM73.81 537.6h0.9v0.9h-0.9zM73.4 531.94h0.9v0.9h-0.9zM69.93 534.62h0.9v0.9h-0.9zM66.81 537.59h0.9v0.9h-0.9zM70.52 544.68h0.9v0.9h-0.9zM59.94 534.14h0.9v0.9h-0.9zM67.97 535.18h0.9v0.9h-0.9zM72.39 539.52h0.9v0.9h-0.9zM71.09 535.13h0.9v0.9h-0.9zM72.63 539.3h0.9v0.9h-0.9zM64.92 536.19h0.9v0.9h-0.9zM66.46 531.59h0.9v0.9h-0.9zM71.48 537.8h0.9v0.9h-0.9zM71.38 533.12h0.9v0.9h-0.9zM70.34 532.94h0.9v0.9h-0.9zM72.26 540.94h0.9v0.9h-0.9zM76.79 543.83h0.9v0.9h-0.9zM68.34 535.21h0.9v0.9h-0.9zM67.9 539.03h0.9v0.9h-0.9zM77.54 541.04h0.9v0.9h-0.9zM63.74 531.21h0.9v0.9h-0.9zM66.73 540.08h0.9v0.9h-0.9zM71 539h0.9v0.9h-0.9zM76.88 533.36h0.9v0.9h-0.9zM68.2 547.33h0.9v0.9h-0.9zM72.13 533.61h0.9v0.9h-0.9zM64.31 529.88h0.9v0.9h-0.9zM62.93 537.84h0.9v0.9h-0.9zM71.15 542.46h0.9v0.9h-0.9zM70.54 534.03h0.9v0.9h-0.9zM68.55 547.01h0.9v0.9h-0.9zM65.17 538.37h0.9v0.9h-0.9zM71.08 540.58h0.9v0.9h-0.9zM69.66 540h0.9v0.9h-0.9zM73.69 536.76h0.9v0.9h-0.9zM69.49 536.57h0.9v0.9h-0.9zM67.82 536.46h0.9v0.9h-0.9zM70 538.55h0.9v0.9h-0.9zM75.41 544.04h0.9v0.9h-0.9zM69.53 540.51h0.9v0.9h-0.9zM71.97 541.31h0.9v0.9h-0.9zM71.07 538.83h0.9v0.9h-0.9zM69.45 533.58h0.9v0.9h-0.9zM73.88 543.99h0.9v0.9h-0.9zM73.19 539.68h0.9v0.9h-0.9zM71.88 535.25h0.9v0.9h-0.9zM65.12 540.82h0.9v0.9h-0.9zM71.66 534.73h0.9v0.9h-0.9zM67.82 543.89h0.9v0.9h-0.9zM65.05 546.31h0.9v0.9h-0.9zM73.11 549.35h0.9v0.9h-0.9zM68.63 537.39h0.9v0.9h-0.9zM69.33 538.28h0.9v0.9h-0.9zM70.31 533.76h0.9v0.9h-0.9zM74.55 533.58h0.9v0.9h-0.9zM69.32 540.27h0.9v0.9h-0.9zM69.23 535.33h0.9v0.9h-0.9zM72.17 535.66h0.9v0.9h-0.9zM66.89 536.99h0.9v0.9h-0.9zM70.27 546.02h0.9v0.9h-0.9zM67.38 542.35h0.9v0.9h-0.9zM68.41 535.72h0.9v0.9h-0.9zM69.92 538.85h0.9v0.9h-0.9zM73.85 546.25h0.9v0.9h-0.9zM68.9 544.15h0.9v0.9h-0.9zM74.28 541.56h0.9v0.9h-0.9zM68.49 542h0.9v0.9h-0.9zM70.65 539.27h0.9v0.9h-0.9zM70.11 540.82h0.9v0.9h-0.9zM74.68 543.16h0.9v0.9h-0.9zM70.32 542.48h0.9v0.9h-0.9zM75.79 532.82h0.9v0.9h-0.9zM75.86 530.82h0.9v0.9h-0.9zM72.79 540.47h0.9v0.9h-0.9zM75.89 538.89h0.9v0.9h-0.9zM69.41 533.52h0.9v0.9h-0.9zM66.87 541.33h0.9v0.9h-0.9zM70.22 533.91h0.9v0.9h-0.9zM72.76 533.68h0.9v0.9h-0.9zM69.56 535.21h0.9v0.9h-0.9zM76.46 544.81h0.9v0.9h-0.9zM70.48 529.64h0.9v0.9h-0.9zM71.91 537.86h0.9v0.9h-0.9zM72.15 540.33h0.9v0.9h-0.9zM69.94 542.13h0.9v0.9h-0.9zM73.76 538.55h0.9v0.9h-0.9zM69.66 535.1h0.9v0.9h-0.9zM73.29 532h0.9v0.9h-0.9zM70.47 533.75h0.9v0.9h-0.9zM66.4 540.52h0.9v0.9h-0.9zM70.92 537.68h0.9v0.9h-0.9zM73.89 530.03h0.9v0.9h-0.9zM70.78 538.94h0.9v0.9h-0.9zM73.75 532.08h0.9v0.9h-0.9zM73.36 538.6h0.9v0.9h-0.9zM75.47 543.19h0.9v0.9h-0.9zM72.81 548.24h0.9v0.9h-0.9zM71 535.38h0.9v0.9h-0.9zM69.88 532.8h0.9v0.9h-0.9zM70.91 528.11h0.9v0.9h-0.9zM70.72 539.63h0.9v0.9h-0.9zM74.27 535.76h0.9v0.9h-0.9zM75.58 534.24h0.9v0.9h-0.9zM70.56 528.11h0.9v0.9h-0.9zM68.49 533.54h0.9v0.9h-0.9zM75.81 540.09h0.9v0.9h-0.9zM67.44 540.11h0.9v0.9h-0.9zM72.55 536.36h0.9v0.9h-0.9zM71.07 536.01h0.9v0.9h-0.9zM69.25 528.84h0.9v0.9h-0.9zM70.71 543.77h0.9v0.9h-0.9zM75.61 536.14h0.9v0.9h-0.9zM68.59 536.47h0.9v0.9h-0.9zM73.89 539.22h0.9v0.9h-0.9zM69.12 539.27h0.9v0.9h-0.9zM70.34 540.02h0.9v0.9h-0.9zM69.69 530.32h0.9v0.9h-0.9zM71.19 541.21h0.9v0.9h-0.9zM67.44 536.98h0.9v0.9h-0.9zM73.82 535.67h0.9v0.9h-0.9zM68.91 547.4h0.9v0.9h-0.9zM73.67 542.51h0.9v0.9h-0.9zM67.96 545.45h0.9v0.9h-0.9zM65.68 534.98h0.9v0.9h-0.9zM73.38 543.98h0.9v0.9h-0.9zM68.01 534.27h0.9v0.9h-0.9zM71.63 528.12h0.9v0.9h-0.9zM73.05 540.22h0.9v0.9h-0.9zM69.56 540.11h0.9v0.9h-0.9zM73.49 539h0.9v0.9h-0.9zM72.67 544.85h0.9v0.9h-0.9zM69.47 538.29h0.9v0.9h-0.9zM69.33 542.52h0.9v0.9h-0.9zM69.7 539.8h0.9v0.9h-0.9zM71.44 537.82h0.9v0.9h-0.9zM76.49 537.09h0.9v0.9h-0.9zM75.53 541.5h0.9v0.9h-0.9zM75.22 536.7h0.9v0.9h-0.9zM73.96 541.16h0.9v0.9h-0.9zM69.04 538.8h0.9v0.9h-0.9zM70.59 537.33h0.9v0.9h-0.9zM75.15 534.02h0.9v0.9h-0.9zM65.64 529.09h0.9v0.9h-0.9zM69.56 534.39h0.9v0.9h-0.9zM71.05 540.23h0.9v0.9h-0.9zM76.61 538.99h0.9v0.9h-0.9zM72.48 533.95h0.9v0.9h-0.9zM72.85 544.06h0.9v0.9h-0.9zM75.27 528.08h0.9v0.9h-0.9zM73.83 545.14h0.9v0.9h-0.9zM73.63 530.29h0.9v0.9h-0.9zM70.02 540.33h0.9v0.9h-0.9zM72.32 533.59h0.9v0.9h-0.9zM68.17 542.15h0.9v0.9h-0.9zM66.76 544.41h0.9v0.9h-0.9zM71.06 538.95h0.9v0.9h-0.9zM66.76 534.63h0.9v0.9h-0.9zM73.19 530.42h0.9v0.9h-0.9zM77.58 530.74h0.9v0.9h-0.9zM67.12 537.71h0.9v0.9h-0.9zM72.53 541.03h0.9v0.9h-0.9zM69.82 536.5h0.9v0.9h-0.9zM70.25 534.73h0.9v0.9h-0.9zM62.82 542.12h0.9v0.9h-0.9zM71.8 538.26h0.9v0.9h-0.9zM69.01 538.71h0.9v0.9h-0.9zM70.96 537.13h0.9v0.9h-0.9zM74.51 529.23h0.9v0.9h-0.9zM71.8 532.38h0.9v0.9h-0.9zM69.99 544.7h0.9v0.9h-0.9zM67.56 537.02h0.9v0.9h-0.9zM69.12 542.06h0.9v0.9h-0.9zM67.9 529.42h0.9v0.9h-0.9zM72.63 535.8h0.9v0.9h-0.9zM69.99 542.69h0.9v0.9h-0.9zM68.19 535.71h0.9v0.9h-0.9zM71.47 539.49h0.9v0.9h-0.9zM69.36 542.47h0.9v0.9h-0.9zM78.1 535.54h0.9v0.9h-0.9zM76.93 527.37h0.9v0.9h-0.9zM75.46 535.85h0.9v0.9h-0.9zM71.44 535.87h0.9v0.9h-0.9zM68.98 531.37h0.9v0.9h-0.9zM69.75 543.72h0.9v0.9h-0.9zM74.61 535.83h0.9v0.9h-0.9zM69.33 534.13h0.9v0.9h-0.9zM67.2 546.16h0.9v0.9h-0.9zM73.1 538.06h0.9v0.9h-0.9zM69.44 532.59h0.9v0.9h-0.9zM75.17 541.25h0.9v0.9h-0.9zM67.98 542.25h0.9v0.9h-0.9zM67.49 540.58h0.9v0.9h-0.9zM67.96 535.51h0.9v0.9h-0.9zM72.57 539.58h0.9v0.9h-0.9zM74.2 533.48h0.9v0.9h-0.9zM76 543.95h0.9v0.9h-0.9zM70.97 539.73h0.9v0.9h-0.9zM68.53 536.77h0.9v0.9h-0.9zM66.82 537.93h0.9v0.9h-0.9zM71.63 543.95h0.9v0.9h-0.9zM74 541.41h0.9v0.9h-0.9zM69.85 536.42h0.9v0.9h-0.9zM69.92 538.57h0.9v0.9h-0.9zM64.88 541.2h0.9v0.9h-0.9zM66.04 535.03h0.9v0.9h-0.9zM71.07 535.04h0.9v0.9h-0.9zM76.27 537.03h0.9v0.9h-0.9zM75.98 543.13h0.9v0.9h-0.9zM69.43 539.42h0.9v0.9h-0.9zM75.11 535.9h0.9v0.9h-0.9zM71.28 534.82h0.9v0.9h-0.9zM71.19 535.8h0.9v0.9h-0.9zM71.26 542.31h0.9v0.9h-0.9zM75.41 538.14h0.9v0.9h-0.9zM71.64 541.61h0.9v0.9h-0.9zM70.08 532.42h0.9v0.9h-0.9zM74.52 533.01h0.9v0.9h-0.9zM73.95 532.87h0.9v0.9h-0.9zM76.8 532.49h0.9v0.9h-0.9zM73.69 544.7h0.9v0.9h-0.9zM67.96 544.63h0.9v0.9h-0.9zM68.39 529.03h0.9v0.9h-0.9zM73.29 540.87h0.9v0.9h-0.9zM70.36 525.38h0.9v0.9h-0.9zM70.83 536.03h0.9v0.9h-0.9zM69.8 536.11h0.9v0.9h-0.9zM65.33 534.78h0.9v0.9h-0.9zM76.7 544.92h0.9v0.9h-0.9zM69.85 534.08h0.9v0.9h-0.9zM72.26 542.6h0.9v0.9h-0.9zM73.29 531.89h0.9v0.9h-0.9zM71.51 538.17h0.9v0.9h-0.9zM75.56 543.24h0.9v0.9h-0.9zM72.66 543.34h0.9v0.9h-0.9zM69.75 544.88h0.9v0.9h-0.9zM69.65 539.4h0.9v0.9h-0.9zM73.91 533.11h0.9v0.9h-0.9zM68.78 529.06h0.9v0.9h-0.9zM71.52 537.24h0.9v0.9h-0.9zM69.96 539.89h0.9v0.9h-0.9zM64.3 537.39h0.9v0.9h-0.9zM71.28 536.22h0.9v0.9h-0.9zM73.52 545.91h0.9v0.9h-0.9zM69.59 532.99h0.9v0.9h-0.9zM69.09 537.95h0.9v0.9h-0.9zM72.86 533.37h0.9v0.9h-0.9zM74.17 532.58h0.9v0.9h-0.9zM73.62 539.55h0.9v0.9h-0.9zM72.47 547.86h0.9v0.9h-0.9zM70.16 536.71h0.9v0.9h-0.9zM72.51 541.64h0.9v0.9h-0.9zM66.76 538.82h0.9v0.9h-0.9zM68.65 540.53h0.9v0.9h-0.9zM75.34 537.75h0.9v0.9h-0.9zM70.66 538.38h0.9v0.9h-0.9zM61.64 541.2h0.9v0.9h-0.9zM72.78 538.29h0.9v0.9h-0.9zM69.75 533.99h0.9v0.9h-0.9zM70.43 543.32h0.9v0.9h-0.9zM70.68 543.97h0.9v0.9h-0.9zM62.85 535.29h0.9v0.9h-0.9zM71.87 537.44h0.9v0.9h-0.9zM65.74 534.31h0.9v0.9h-0.9zM74.96 531.3h0.9v0.9h-0.9zM67.86 532.23h0.9v0.9h-0.9zM69.25 540.59h0.9v0.9h-0.9zM72.88 527.75h0.9v0.9h-0.9zM75.62 534.66h0.9v0.9h-0.9zM69.14 545.5h0.9v0.9h-0.9zM70.74 531.55h0.9v0.9h-0.9zM68.98 534.01h0.9v0.9h-0.9zM67.8 535.9h0.9v0.9h-0.9zM73.78 539.18h0.9v0.9h-0.9zM66.63 550.88h0.9v0.9h-0.9zM67.86 538.06h0.9v0.9h-0.9zM71.1 541.15h0.9v0.9h-0.9zM69.96 539.69h0.9v0.9h-0.9zM77.67 537.96h0.9v0.9h-0.9zM67.57 539.08h0.9v0.9h-0.9zM68.46 535.72h0.9v0.9h-0.9zM71.6 539.12h0.9v0.9h-0.9zM70.1 541.57h0.9v0.9h-0.9zM70.39 531.24h0.9v0.9h-0.9zM73.78 535.75h0.9v0.9h-0.9zM74.84 534.36h0.9v0.9h-0.9zM72.81 539.01h0.9v0.9h-0.9zM62.46 530.33h0.9v0.9h-0.9zM67.45 544.25h0.9v0.9h-0.9zM65.02 541.89h0.9v0.9h-0.9zM74.46 539.88h0.9v0.9h-0.9zM73.14 535.12h0.9v0.9h-0.9zM70.97 538.58h0.9v0.9h-0.9zM72.33 540.89h0.9v0.9h-0.9zM70.35 534.13h0.9v0.9h-0.9zM69.22 539.47h0.9v0.9h-0.9zM65.74 531.48h0.9v0.9h-0.9zM69.7 534.85h0.9v0.9h-0.9zM70.14 524.72h0.9v0.9h-0.9zM69.92 536.29h0.9v0.9h-0.9zM73.46 528h0.9v0.9h-0.9zM70.03 539.78h0.9v0.9h-0.9zM72.55 543.24h0.9v0.9h-0.9zM74.34 532.46h0.9v0.9h-0.9zM73.02 535.89h0.9v0.9h-0.9zM68.45 544.87h0.9v0.9h-0.9zM69 533.4h0.9v0.9h-0.9zM69.71 533.41h0.9v0.9h-0.9zM74.19 539.33h0.9v0.9h-0.9zM75.44 539.48h0.9v0.9h-0.9zM69.05 542.54h0.9v0.9h-0.9zM68.92 535.28h0.9v0.9h-0.9zM70.47 537.69h0.9v0.9h-0.9zM74.79 534.59h0.9v0.9h-0.9zM72.12 537.37h0.9v0.9h-0.9zM67 532.23h0.9v0.9h-0.9zM70.3 539.45h0.9v0.9h-0.9zM72.02 539.81h0.9v0.9h-0.9zM71.15 535.34h0.9v0.9h-0.9zM72.36 532.67h0.9v0.9h-0.9zM66.73 535.9h0.9v0.9h-0.9zM66.46 535.02h0.9v0.9h-0.9zM68.62 534.83h0.9v0.9h-0.9zM70.86 533.64h0.9v0.9h-0.9zM69.66 529.26h0.9v0.9h-0.9zM71.46 533.26h0.9v0.9h-0.9zM72.29 523.87h0.9v0.9h-0.9zM68.45 538.67h0.9v0.9h-0.9zM63.23 535.76h0.9v0.9h-0.9zM71.3 538h0.9v0.9h-0.9zM66.24 538.61h0.9v0.9h-0.9zM71.47 532.81h0.9v0.9h-0.9zM73.37 537.26h0.9v0.9h-0.9zM71.06 535.33h0.9v0.9h-0.9zM72.74 537.97h0.9v0.9h-0.9zM74.62 539.68h0.9v0.9h-0.9zM69.03 536.42h0.9v0.9h-0.9zM73.93 535.74h0.9v0.9h-0.9zM72.22 540.02h0.9v0.9h-0.9zM70.43 526.25h0.9v0.9h-0.9zM71.42 538.53h0.9v0.9h-0.9zM71.43 533.83h0.9v0.9h-0.9zM74.86 536.85h0.9v0.9h-0.9zM69.01 534.03h0.9v0.9h-0.9zM72.14 532.23h0.9v0.9h-0.9zM67.81 547.17h0.9v0.9h-0.9zM75.18 542.6h0.9v0.9h-0.9zM75.36 540.38h0.9v0.9h-0.9zM65.62 543.28h0.9v0.9h-0.9zM74.95 539.87h0.9v0.9h-0.9zM64.75 543.51h0.9v0.9h-0.9zM75.36 535.12h0.9v0.9h-0.9zM71.41 541.26h0.9v0.9h-0.9zM70.73 542.82h0.9v0.9h-0.9zM71.26 540.85h0.9v0.9h-0.9zM71.27 530.34h0.9v0.9h-0.9zM67.82 552.84h0.9v0.9h-0.9zM71.89 543.85h0.9v0.9h-0.9zM74.64 545.81h0.9v0.9h-0.9zM72.77 534.61h0.9v0.9h-0.9zM71.06 528.2h0.9v0.9h-0.9zM70.4 541.89h0.9v0.9h-0.9zM64.08 538.45h0.9v0.9h-0.9zM73.64 543.94h0.9v0.9h-0.9zM68.04 534.34h0.9v0.9h-0.9zM65 532.56h0.9v0.9h-0.9zM72.71 547.54h0.9v0.9h-0.9zM67.33 544.19h0.9v0.9h-0.9zM72.37 535.1h0.9v0.9h-0.9zM78.03 525.26h0.9v0.9h-0.9zM70.78 538.56h0.9v0.9h-0.9zM77.83 546.23h0.9v0.9h-0.9zM78.26 538.15h0.9v0.9h-0.9zM74.14 544.13h0.9v0.9h-0.9zM72.64 539.25h0.9v0.9h-0.9zM70.41 535.52h0.9v0.9h-0.9zM67.06 546.97h0.9v0.9h-0.9zM69.57 527.39h0.9v0.9h-0.9zM71.85 537.34h0.9v0.9h-0.9zM71.56 546.32h0.9v0.9h-0.9zM70.66 536.21h0.9v0.9h-0.9zM68.61 537.39h0.9v0.9h-0.9zM69.59 538.5h0.9v0.9h-0.9zM81.02 539.41h0.9v0.9h-0.9zM68.25 546.88h0.9v0.9h-0.9zM73.77 541.47h0.9v0.9h-0.9zM73.3 541.49h0.9v0.9h-0.9zM73.17 544.36h0.9v0.9h-0.9zM74.23 544.06h0.9v0.9h-0.9zM69.39 537.49h0.9v0.9h-0.9zM68.66 542.16h0.9v0.9h-0.9zM73.67 535.23h0.9v0.9h-0.9zM72.88 550.28h0.9v0.9h-0.9zM74.97 532.07h0.9v0.9h-0.9zM70.7 540.59h0.9v0.9h-0.9zM70.89 539.38h0.9v0.9h-0.9zM74.79 539.1h0.9v0.9h-0.9zM67.47 540.98h0.9v0.9h-0.9zM70.69 538.05h0.9v0.9h-0.9zM69.18 530.77h0.9v0.9h-0.9zM66.99 535.78h0.9v0.9h-0.9zM67.56 524.28h0.9v0.9h-0.9zM74.69 531.84h0.9v0.9h-0.9zM68.67 540.09h0.9v0.9h-0.9zM63.25 544.03h0.9v0.9h-0.9zM68.53 540.71h0.9v0.9h-0.9zM69.45 538.99h0.9v0.9h-0.9zM71.34 537.49h0.9v0.9h-0.9zM65.13 530.34h0.9v0.9h-0.9zM70.87 544.37h0.9v0.9h-0.9zM69.25 540.09h0.9v0.9h-0.9zM71.52 539.86h0.9v0.9h-0.9zM74.19 530.2h0.9v0.9h-0.9zM71.88 536.63h0.9v0.9h-0.9zM70 533.34h0.9v0.9h-0.9zM68.47 532.49h0.9v0.9h-0.9zM67.47 549.73h0.9v0.9h-0.9zM76.46 537.55h0.9v0.9h-0.9zM73.39 532.75h0.9v0.9h-0.9zM62.06 528.62h0.9v0.9h-0.9zM71.45 544.51h0.9v0.9h-0.9zM70.86 532.62h0.9v0.9h-0.9zM70.22 532.64h0.9v0.9h-0.9zM66.52 536.37h0.9v0.9h-0.9zM69.71 533.54h0.9v0.9h-0.9zM68.15 532.97h0.9v0.9h-0.9zM71.76 544.29h0.9v0.9h-0.9zM70.32 548.39h0.9v0.9h-0.9zM65.8 538.84h0.9v0.9h-0.9zM67.28 536.71h0.9v0.9h-0.9zM71.33 540.22h0.9v0.9h-0.9zM74.63 534.8h0.9v0.9h-0.9zM67 536.58h0.9v0.9h-0.9zM71.94 534.1h0.9v0.9h-0.9zM73.87 545.7h0.9v0.9h-0.9zM66.43 539.27h0.9v0.9h-0.9zM74.27 528.14h0.9v0.9h-0.9zM71.66 536.4h0.9v0.9h-0.9zM66.42 543.91h0.9v0.9h-0.9zM71.7 535.17h0.9v0.9h-0.9zM72.43 540.63h0.9v0.9h-0.9zM73.47 540.33h0.9v0.9h-0.9zM72.31 531.77h0.9v0.9h-0.9zM69.65 538.13h0.9v0.9h-0.9zM62.1 547.89h0.9v0.9h-0.9zM69.78 532.36h0.9v0.9h-0.9zM65.15 538.71h0.9v0.9h-0.9zM71.1 534.65h0.9v0.9h-0.9zM69.66 533.17h0.9v0.9h-0.9zM68.59 537.02h0.9v0.9h-0.9zM68.93 540.81h0.9v0.9h-0.9zM70.54 538.14h0.9v0.9h-0.9zM72.3 543.69h0.9v0.9h-0.9zM72.93 538.61h0.9v0.9h-0.9zM70.47 533.57h0.9v0.9h-0.9zM69.9 540.83h0.9v0.9h-0.9zM71.73 535.61h0.9v0.9h-0.9zM66.72 530.03h0.9v0.9h-0.9zM72.03 542.5h0.9v0.9h-0.9zM72.2 530.81h0.9v0.9h-0.9zM70.32 538.58h0.9v0.9h-0.9zM68.05 539.19h0.9v0.9h-0.9zM70.36 533.43h0.9v0.9h-0.9zM67.01 541.45h0.9v0.9h-0.9zM72.15 533.18h0.9v0.9h-0.9zM67.74 541.84h0.9v0.9h-0.9zM72.92 536.02h0.9v0.9h-0.9zM76.12 536.09h0.9v0.9h-0.9zM67.6 542.82h0.9v0.9h-0.9zM70.39 539.18h0.9v0.9h-0.9zM71.12 532.62h0.9v0.9h-0.9zM67.18 536.55h0.9v0.9h-0.9zM75.52 532.61h0.9v0.9h-0.9zM75.37 538.57h0.9v0.9h-0.9zM67.43 538.8h0.9v0.9h-0.9zM72.82 533.12h0.9v0.9h-0.9zM64.16 539.24h0.9v0.9h-0.9zM67.43 539.65h0.9v0.9h-0.9zM64.86 536.81h0.9v0.9h-0.9zM68.4 530.29h0.9v0.9h-0.9zM70.23 538.33h0.9v0.9h-0.9zM69.21 531.75h0.9v0.9h-0.9zM71.68 528.99h0.9v0.9h-0.9zM72.72 539.89h0.9v0.9h-0.9zM76.39 541.8h0.9v0.9h-0.9zM72.14 538.78h0.9v0.9h-0.9zM71.09 531.06h0.9v0.9h-0.9zM75.69 540.06h0.9v0.9h-0.9zM70.08 531.93h0.9v0.9h-0.9zM75.76 540.09h0.9v0.9h-0.9zM67.2 540.77h0.9v0.9h-0.9zM77.08 537.39h0.9v0.9h-0.9zM72.28 535.48h0.9v0.9h-0.9zM68.98 542.71h0.9v0.9h-0.9zM80.87 538.07h0.9v0.9h-0.9zM70.6 541.35h0.9v0.9h-0.9zM70.02 541.04h0.9v0.9h-0.9zM73.66 532.56h0.9v0.9h-0.9zM67.56 537.14h0.9v0.9h-0.9zM73.67 538.85h0.9v0.9h-0.9zM74.98 530.82h0.9v0.9h-0.9zM72.58 534.48h0.9v0.9h-0.9zM71.32 539.06h0.9v0.9h-0.9zM67.89 536.39h0.9v0.9h-0.9zM67.27 538.79h0.9v0.9h-0.9zM68.28 535.1h0.9v0.9h-0.9zM71.7 534.33h0.9v0.9h-0.9zM74.68 534.41h0.9v0.9h-0.9zM73.72 538.87h0.9v0.9h-0.9zM67.69 536.44h0.9v0.9h-0.9zM68.32 535.75h0.9v0.9h-0.9zM70.13 546.32h0.9v0.9h-0.9zM69.66 545.11h0.9v0.9h-0.9zM72.43 531.16h0.9v0.9h-0.9zM63.6 540.79h0.9v0.9h-0.9zM64.63 540.98h0.9v0.9h-0.9zM74.29 539.39h0.9v0.9h-0.9zM70.33 536.28h0.9v0.9h-0.9zM71.83 536.03h0.9v0.9h-0.9zM69.29 535.71h0.9v0.9h-0.9zM74.74 534.49h0.9v0.9h-0.9zM72.21 531.92h0.9v0.9h-0.9zM68.72 530.85h0.9v0.9h-0.9zM70.37 540.81h0.9v0.9h-0.9zM71.98 535.11h0.9v0.9h-0.9zM72.95 535.82h0.9v0.9h-0.9zM72.19 538.82h0.9v0.9h-0.9zM72.73 525.51h0.9v0.9h-0.9zM66.84 541.25h0.9v0.9h-0.9zM70.66 548.36h0.9v0.9h-0.9zM70.25 534.83h0.9v0.9h-0.9zM75.77 540.19h0.9v0.9h-0.9zM77.06 539.97h0.9v0.9h-0.9zM70.35 541h0.9v0.9h-0.9zM68.48 535.34h0.9v0.9h-0.9zM69.23 536.43h0.9v0.9h-0.9zM73.49 535.17h0.9v0.9h-0.9zM72.03 535.09h0.9v0.9h-0.9zM73.82 524.17h0.9v0.9h-0.9zM70.34 538.32h0.9v0.9h-0.9zM67.56 542.4h0.9v0.9h-0.9zM71.69 543.69h0.9v0.9h-0.9zM74.07 540.6h0.9v0.9h-0.9zM70.52 532.25h0.9v0.9h-0.9zM70.3 535.28h0.9v0.9h-0.9zM71.8 535.25h0.9v0.9h-0.9zM80.75 529.78h0.9v0.9h-0.9zM74.75 535.23h0.9v0.9h-0.9zM70.23 541.97h0.9v0.9h-0.9zM71.01 531.64h0.9v0.9h-0.9zM72.32 536.56h0.9v0.9h-0.9zM64.44 538.46h0.9v0.9h-0.9zM67.64 533.9h0.9v0.9h-0.9zM72.54 538.95h0.9v0.9h-0.9zM70.07 547.98h0.9v0.9h-0.9zM72.34 534.54h0.9v0.9h-0.9zM71.75 536.91h0.9v0.9h-0.9zM63.98 529.89h0.9v0.9h-0.9zM66.57 547.47h0.9v0.9h-0.9zM70.41 536.17h0.9v0.9h-0.9zM69.2 542.24h0.9v0.9h-0.9zM71.09 545.73h0.9v0.9h-0.9zM73.51 545.44h0.9v0.9h-0.9zM70.63 539.31h0.9v0.9h-0.9zM69.62 536.69h0.9v0.9h-0.9zM65.49 534.7h0.9v0.9h-0.9zM67.97 534.36h0.9v0.9h-0.9zM74.87 538.76h0.9v0.9h-0.9zM74.9 541.64h0.9v0.9h-0.9zM73.93 542.34h0.9v0.9h-0.9zM69.07 541.37h0.9v0.9h-0.9zM69.98 534.94h0.9v0.9h-0.9zM74.8 547.93h0.9v0.9h-0.9zM67.89 545.87h0.9v0.9h-0.9zM73.64 533.42h0.9v0.9h-0.9zM71.87 539.29h0.9v0.9h-0.9zM72.19 535.78h0.9v0.9h-0.9zM66.91 537.65h0.9v0.9h-0.9zM73.74 541.28h0.9v0.9h-0.9zM73.1 542.81h0.9v0.9h-0.9zM67.85 537.3h0.9v0.9h-0.9zM72.08 542.31h0.9v0.9h-0.9zM71.5 540h0.9v0.9h-0.9zM71.42 547.61h0.9v0.9h-0.9zM64.06 537.38h0.9v0.9h-0.9zM78.87 538.64h0.9v0.9h-0.9zM65.18 538.14h0.9v0.9h-0.9zM66.44 534.23h0.9v0.9h-0.9zM71.71 545.76h0.9v0.9h-0.9zM72.47 540.72h0.9v0.9h-0.9zM74.24 538.46h0.9v0.9h-0.9zM68.28 537.03h0.9v0.9h-0.9zM72.07 536.17h0.9v0.9h-0.9zM68.88 535.77h0.9v0.9h-0.9zM66.23 532.57h0.9v0.9h-0.9zM70.71 535.76h0.9v0.9h-0.9zM71.12 544.26h0.9v0.9h-0.9zM71.95 537.34h0.9v0.9h-0.9zM67.27 532.31h0.9v0.9h-0.9zM72.19 533.3h0.9v0.9h-0.9zM72.36 532.33h0.9v0.9h-0.9zM71.43 537.15h0.9v0.9h-0.9zM74.16 535.61h0.9v0.9h-0.9zM69.82 538.68h0.9v0.9h-0.9zM71.17 545.63h0.9v0.9h-0.9zM70.18 534.92h0.9v0.9h-0.9zM69.99 539.78h0.9v0.9h-0.9zM71.74 540.84h0.9v0.9h-0.9zM66.61 549.42h0.9v0.9h-0.9zM76.84 537.35h0.9v0.9h-0.9zM67.16 538.24h0.9v0.9h-0.9zM72.32 526.76h0.9v0.9h-0.9zM71.04 530.39h0.9v0.9h-0.9zM72.46 544.15h0.9v0.9h-0.9zM74.28 530.25h0.9v0.9h-0.9zM75.39 541.86h0.9v0.9h-0.9zM69.85 539.92h0.9v0.9h-0.9zM75.82 535.9h0.9v0.9h-0.9zM70.95 534.81h0.9v0.9h-0.9zM74.67 527.14h0.9v0.9h-0.9zM75.51 532.84h0.9v0.9h-0.9zM73.94 529.68h0.9v0.9h-0.9zM68.03 534.62h0.9v0.9h-0.9zM73.63 529.7h0.9v0.9h-0.9zM72.91 534.44h0.9v0.9h-0.9zM74.94 536h0.9v0.9h-0.9zM72.54 536.67h0.9v0.9h-0.9zM76.69 535.77h0.9v0.9h-0.9zM70.92 547.05h0.9v0.9h-0.9zM71.25 540.8h0.9v0.9h-0.9zM68.66 538.46h0.9v0.9h-0.9zM63.8 538.01h0.9v0.9h-0.9zM68.95 530.27h0.9v0.9h-0.9zM66.5 542.99h0.9v0.9h-0.9zM72.35 530.21h0.9v0.9h-0.9zM76.76 534.15h0.9v0.9h-0.9zM69.83 538.69h0.9v0.9h-0.9zM67.39 529.72h0.9v0.9h-0.9zM68.63 543.18h0.9v0.9h-0.9zM74.02 529.9h0.9v0.9h-0.9zM74.82 537.66h0.9v0.9h-0.9zM72.59 537.75h0.9v0.9h-0.9zM72.31 532.69h0.9v0.9h-0.9zM68.11 534.12h0.9v0.9h-0.9zM69.83 540.48h0.9v0.9h-0.9zM67.14 545.17h0.9v0.9h-0.9zM68.99 534.67h0.9v0.9h-0.9zM73.23 539.59h0.9v0.9h-0.9zM69.92 532.35h0.9v0.9h-0.9zM67.82 529.81h0.9v0.9h-0.9zM74.63 542.71h0.9v0.9h-0.9zM76.93 539.9h0.9v0.9h-0.9zM72.06 541.14h0.9v0.9h-0.9zM74.02 536.25h0.9v0.9h-0.9zM72.12 547.86h0.9v0.9h-0.9zM65.62 530.74h0.9v0.9h-0.9zM67.94 541.13h0.9v0.9h-0.9zM74.77 535.87h0.9v0.9h-0.9zM73.13 537.27h0.9v0.9h-0.9zM71.95 534.9h0.9v0.9h-0.9zM70.91 537.48h0.9v0.9h-0.9zM74.59 548.24h0.9v0.9h-0.9zM65.23 540.06h0.9v0.9h-0.9zM70.98 542.16h0.9v0.9h-0.9zM74.37 541.26h0.9v0.9h-0.9zM73.57 532.93h0.9v0.9h-0.9zM65.58 545.54h0.9v0.9h-0.9zM74.84 532.92h0.9v0.9h-0.9zM75.1 540.71h0.9v0.9h-0.9zM63.2 541.83h0.9v0.9h-0.9zM67.86 543.11h0.9v0.9h-0.9zM68.83 533.92h0.9v0.9h-0.9zM66.09 536.46h0.9v0.9h-0.9zM74.23 534.27h0.9v0.9h-0.9zM65.09 547.83h0.9v0.9h-0.9zM76.87 540.82h0.9v0.9h-0.9zM69.29 531.66h0.9v0.9h-0.9zM65.79 540.19h0.9v0.9h-0.9zM75.13 532.39h0.9v0.9h-0.9zM71 536.16h0.9v0.9h-0.9zM70.18 539.92h0.9v0.9h-0.9zM77.65 534.43h0.9v0.9h-0.9zM73.7 542.75h0.9v0.9h-0.9zM70.1 536.78h0.9v0.9h-0.9zM66.73 542.7h0.9v0.9h-0.9zM69.31 534.35h0.9v0.9h-0.9zM71.21 533.36h0.9v0.9h-0.9zM67.68 536.06h0.9v0.9h-0.9zM75.73 536.51h0.9v0.9h-0.9zM72.68 530.43h0.9v0.9h-0.9zM64.8 546.26h0.9v0.9h-0.9zM69.73 530.08h0.9v0.9h-0.9zM70.66 540.43h0.9v0.9h-0.9zM65.51 533.25h0.9v0.9h-0.9zM71.83 533.05h0.9v0.9h-0.9zM73.54 542.14h0.9v0.9h-0.9zM72.41 535.43h0.9v0.9h-0.9zM70.85 534.45h0.9v0.9h-0.9zM70.58 539.03h0.9v0.9h-0.9zM70.04 542.2h0.9v0.9h-0.9zM79.26 534.86h0.9v0.9h-0.9zM72.09 541.47h0.9v0.9h-0.9zM73.05 536.35h0.9v0.9h-0.9zM69.47 542.35h0.9v0.9h-0.9zM72.99 539.94h0.9v0.9h-0.9zM68.44 540.55h0.9v0.9h-0.9zM73.53 536.61h0.9v0.9h-0.9zM73.06 547.99h0.9v0.9h-0.9zM65.02 540.43h0.9v0.9h-0.9zM67.27 530.91h0.9v0.9h-0.9zM70.25 540.14h0.9v0.9h-0.9zM71.17 531.87h0.9v0.9h-0.9zM66.41 534.81h0.9v0.9h-0.9zM71.04 533.49h0.9v0.9h-0.9zM66.2 545.98h0.9v0.9h-0.9zM68.32 536.74h0.9v0.9h-0.9zM69.25 534.67h0.9v0.9h-0.9zM71.13 536.06h0.9v0.9h-0.9zM72.98 531.77h0.9v0.9h-0.9zM66.26 546.93h0.9v0.9h-0.9zM70.76 541.22h0.9v0.9h-0.9zM74.77 540.18h0.9v0.9h-0.9zM71.12 529.97h0.9v0.9h-0.9zM65.89 542.23h0.9v0.9h-0.9zM73.16 540.26h0.9v0.9h-0.9zM65.7 527.18h0.9v0.9h-0.9zM67.62 531.78h0.9v0.9h-0.9zM71.51 532.55h0.9v0.9h-0.9zM76.06 534.49h0.9v0.9h-0.9zM69.2 541.69h0.9v0.9h-0.9zM72.05 533.14h0.9v0.9h-0.9zM73.63 546.82h0.9v0.9h-0.9zM67.07 536.3h0.9v0.9h-0.9zM67.55 528.09h0.9v0.9h-0.9zM73.01 540.88h0.9v0.9h-0.9zM74.12 539.58h0.9v0.9h-0.9zM64.55 537.37h0.9v0.9h-0.9zM68.86 531.79h0.9v0.9h-0.9zM67.46 541.21h0.9v0.9h-0.9zM70.05 547.04h0.9v0.9h-0.9zM72.51 528.23h0.9v0.9h-0.9zM73.87 543.57h0.9v0.9h-0.9zM71.1 531.61h0.9v0.9h-0.9zM76.67 531.12h0.9v0.9h-0.9zM70.73 528.23h0.9v0.9h-0.9zM66.98 529.24h0.9v0.9h-0.9zM74.5 543.23h0.9v0.9h-0.9zM69.7 530.9h0.9v0.9h-0.9zM70.81 539.34h0.9v0.9h-0.9zM66.1 531.86h0.9v0.9h-0.9zM70.67 540.93h0.9v0.9h-0.9zM71.24 539.69h0.9v0.9h-0.9zM66.99 525.37h0.9v0.9h-0.9zM72 533.03h0.9v0.9h-0.9zM70.6 535.66h0.9v0.9h-0.9zM72.55 533.74h0.9v0.9h-0.9zM75.65 537.65h0.9v0.9h-0.9zM72.7 540.57h0.9v0.9h-0.9zM74.34 539.47h0.9v0.9h-0.9zM65.36 534.43h0.9v0.9h-0.9zM77 539.81h0.9v0.9h-0.9zM72.81 539.78h0.9v0.9h-0.9zM68.93 534.19h0.9v0.9h-0.9zM68.91 543.16h0.9v0.9h-0.9zM72.18 546.2h0.9v0.9h-0.9zM72.61 546.75h0.9v0.9h-0.9zM72.48 531.71h0.9v0.9h-0.9zM76.62 539.15h0.9v0.9h-0.9zM74.85 538.55h0.9v0.9h-0.9zM69.94 538.33h0.9v0.9h-0.9zM67.37 531.65h0.9v0.9h-0.9zM68.13 534.93h0.9v0.9h-0.9zM66.61 536.99h0.9v0.9h-0.9zM71.99 547.44h0.9v0.9h-0.9zM76.96 537.26h0.9v0.9h-0.9zM73.86 536.42h0.9v0.9h-0.9zM72.27 537.33h0.9v0.9h-0.9zM69.25 537.87h0.9v0.9h-0.9zM66.21 539.66h0.9v0.9h-0.9zM70.06 532.18h0.9v0.9h-0.9zM69.83 540.22h0.9v0.9h-0.9zM68.8 539.84h0.9v0.9h-0.9zM72.85 545.16h0.9v0.9h-0.9zM67.47 536.95h0.9v0.9h-0.9zM72.66 544.88h0.9v0.9h-0.9zM71.85 541.21h0.9v0.9h-0.9zM66.23 534.63h0.9v0.9h-0.9zM76.4 536.1h0.9v0.9h-0.9zM78.03 533.91h0.9v0.9h-0.9zM70.1 529.65h0.9v0.9h-0.9zM73.07 538.8h0.9v0.9h-0.9zM77.56 538.32h0.9v0.9h-0.9zM70.18 530.56h0.9v0.9h-0.9zM70.73 542.17h0.9v0.9h-0.9zM73.41 543.56h0.9v0.9h-0.9zM73.82 537.27h0.9v0.9h-0.9zM72.97 538.35h0.9v0.9h-0.9zM66.66 545.95h0.9v0.9h-0.9zM72.22 532.31h0.9v0.9h-0.9zM72.26 538.92h0.9v0.9h-0.9zM74.25 544.63h0.9v0.9h-0.9zM61.09 540.24h0.9v0.9h-0.9zM75.99 532.81h0.9v0.9h-0.9zM64.94 538.88h0.9v0.9h-0.9zM72.1 539.23h0.9v0.9h-0.9zM67.38 535.19h0.9v0.9h-0.9zM71.64 541.19h0.9v0.9h-0.9zM78.16 538.95h0.9v0.9h-0.9zM69.03 525.82h0.9v0.9h-0.9zM74.51 536.85h0.9v0.9h-0.9zM70.64 532.61h0.9v0.9h-0.9zM73.4 528.62h0.9v0.9h-0.9zM71.35 538.1h0.9v0.9h-0.9zM71.98 543.97h0.9v0.9h-0.9zM70.68 537.97h0.9v0.9h-0.9zM73.8 529.81h0.9v0.9h-0.9zM70.04 537.84h0.9v0.9h-0.9zM74.13 533.53h0.9v0.9h-0.9zM73.63 539.41h0.9v0.9h-0.9zM66.13 530.16h0.9v0.9h-0.9zM66.31 538.19h0.9v0.9h-0.9zM71.68 541.09h0.9v0.9h-0.9zM73.69 534.76h0.9v0.9h-0.9zM74.5 541.57h0.9v0.9h-0.9zM72.55 539.88h0.9v0.9h-0.9zM66.78 539.3h0.9v0.9h-0.9zM67.61 531.58h0.9v0.9h-0.9zM69.85 538.19h0.9v0.9h-0.9zM70.82 535.86h0.9v0.9h-0.9zM67.72 538.43h0.9v0.9h-0.9zM68.57 530.5h0.9v0.9h-0.9zM71.31 544.73h0.9v0.9h-0.9zM69.67 532.22h0.9v0.9h-0.9zM75.54 546.01h0.9v0.9h-0.9zM70.03 536.45h0.9v0.9h-0.9zM71.7 552.18h0.9v0.9h-0.9zM71.44 542.45h0.9v0.9h-0.9zM72.46 528.45h0.9v0.9h-0.9zM67.38 531.37h0.9v0.9h-0.9zM72.42 538.03h0.9v0.9h-0.9zM76.88 536.16h0.9v0.9h-0.9zM72.01 537.87h0.9v0.9h-0.9zM71.46 549.03h0.9v0.9h-0.9zM71.94 544.83h0.9v0.9h-0.9zM75.26 534.48h0.9v0.9h-0.9zM73.25 535.6h0.9v0.9h-0.9zM71.36 538.29h0.9v0.9h-0.9zM71.07 535.16h0.9v0.9h-0.9zM76.12 536.18h0.9v0.9h-0.9zM73.31 545.87h0.9v0.9h-0.9zM73.06 542.61h0.9v0.9h-0.9zM75.57 542.92h0.9v0.9h-0.9zM76.65 530.38h0.9v0.9h-0.9zM77.44 537.64h0.9v0.9h-0.9zM65.25 534.31h0.9v0.9h-0.9zM66.41 537.39h0.9v0.9h-0.9zM66.1 532.48h0.9v0.9h-0.9zM71.97 538.28h0.9v0.9h-0.9zM68.37 536.33h0.9v0.9h-0.9zM70.67 537.87h0.9v0.9h-0.9zM70.98 536.4h0.9v0.9h-0.9zM73.89 529.49h0.9v0.9h-0.9zM69.37 538.17h0.9v0.9h-0.9zM69.68 534.74h0.9v0.9h-0.9zM69.56 538.54h0.9v0.9h-0.9zM75.1 536.57h0.9v0.9h-0.9zM70.12 539.28h0.9v0.9h-0.9zM70.2 527.84h0.9v0.9h-0.9zM71.88 535.62h0.9v0.9h-0.9zM69.11 540.64h0.9v0.9h-0.9z" fill="#ff1010"/>
<path d="M70.61 543.03h0.9v0.9h-0.9zM65.28 538.98h0.9v0.9h-0.9zM70.53 544.59h0.9v0.9h-0.9zM71.55 545.78h0.9v0.9h-0.9zM69.35 540.58h0.9v0.9h-0.9zM67.87 544.51h0.9v0.9h-0.9zM67.74 547.64h0.9v0.9h-0.9zM67.32 538.73h0.9v0.9h-0.9zM70.04 538.79h0.9v0.9h-0.9zM74.4 541.53h0.9v0.9h-0.9zM70.38 544.15h0.9v0.9h-0.9zM68.53 538.82h0.9v0.9h-0.9zM66.03 548.03h0.9v0.9h-0.9zM72.95 552.57h0.9v0.9h-0.9zM66.99 546.96h0.9v0.9h-0.9zM70.47 547.96h0.9v0.9h-0.9zM69.27 547.52h0.9v0.9h-0.9zM72.65 547.12h0.9v0.9h-0.9zM73.97 544.39h0.9v0.9h-0.9zM74.2 542.55h0.9v0.9h-0.9zM74.5 535.39h0.9v0.9h-0.9zM70.53 542.2h0.9v0.9h-0.9zM70.5 548.61h0.9v0.9h-0.9zM72.22 545.33h0.9v0.9h-0.9zM74.58 539.83h0.9v0.9h-0.9zM68.55 550.28h0.9v0.9h-0.9zM71.29 537.74h0.9v0.9h-0.9zM71.32 540.86h0.9v0.9h-0.9zM74.05 549h0.9v0.9h-0.9zM69.19 549.53h0.9v0.9h-0.9zM68.5 548.22h0.9v0.9h-0.9zM71.89 544.56h0.9v0.9h-0.9zM67.09 544.02h0.9v0.9h-0.9zM65.01 543.03h0.9v0.9h-0.9zM66.06 549.25h0.9v0.9h-0.9zM68.18 536.49h0.9v0.9h-0.9zM71.9 546.29h0.9v0.9h-0.9zM69.28 552.41h0.9v0.9h-0.9zM72.36 545.23h0.9v0.9h-0.9zM68.95 534.66h0.9v0.9h-0.9zM71.65 548.36h0.9v0.9h-0.9zM69.08 540.05h0.9v0.9h-0.9zM70.4 539.15h0.9v0.9h-0.9zM70.52 547.7h0.9v0.9h-0.9zM74.12 545.93h0.9v0.9h-0.9zM70.97 547.62h0.9v0.9h-0.9zM73.86 543.88h0.9v0.9h-0.9zM67.55 542.23h0.9v0.9h-0.9zM67.48 541.89h0.9v0.9h-0.9zM70.21 546.2h0.9v0.9h-0.9zM70.87 545.24h0.9v0.9h-0.9zM69.64 546.48h0.9v0.9h-0.9zM72.63 547.66h0.9v0.9h-0.9zM74.09 543.98h0.9v0.9h-0.9zM69.9 550.93h0.9v0.9h-0.9zM70.98 546.45h0.9v0.9h-0.9zM69.69 548.39h0.9v0.9h-0.9zM69.53 541.47h0.9v0.9h-0.9zM70.35 543.45h0.9v0.9h-0.9zM72.5 543.68h0.9v0.9h-0.9zM70.8 544.24h0.9v0.9h-0.9zM71.32 542.79h0.9v0.9h-0.9zM73.15 540.02h0.9v0.9h-0.9zM69.58 542.52h0.9v0.9h-0.9zM72.05 545.14h0.9v0.9h-0.9zM71.66 543.84h0.9v0.9h-0.9zM68.78 541.08h0.9v0.9h-0.9zM69.7 543.13h0.9v0.9h-0.9zM71.17 546.24h0.9v0.9h-0.9zM72.84 544.63h0.9v0.9h-0.9zM68.7 541.29h0.9v0.9h-0.9zM70.65 546.26h0.9v0.9h-0.9zM75.18 545.64h0.9v0.9h-0.9zM74.72 551.56h0.9v0.9h-0.9zM67.98 549.24h0.9v0.9h-0.9zM73.23 549.71h0.9v0.9h-0.9zM70.48 548.34h0.9v0.9h-0.9zM69.35 544.75h0.9v0.9h-0.9zM70.55 551.24h0.9v0.9h-0.9zM69.98 548.34h0.9v0.9h-0.9zM70.66 542.52h0.9v0.9h-0.9zM71.08 547.31h0.9v0.9h-0.9zM68.79 547.22h0.9v0.9h-0.9zM68.79 541.93h0.9v0.9h-0.9zM71.03 544.18h0.9v0.9h-0.9zM68.14 539.3h0.9v0.9h-0.9zM70.56 545.85h0.9v0.9h-0.9zM69.4 545.66h0.9v0.9h-0.9zM66.83 546.37h0.9v0.9h-0.9zM71.5 545.97h0.9v0.9h-0.9zM69.03 545.28h0.9v0.9h-0.9zM70.81 548.74h0.9v0.9h-0.9zM71.16 545.89h0.9v0.9h-0.9zM68.76 548.02h0.9v0.9h-0.9zM73.31 543.27h0.9v0.9h-0.9zM72.03 546.08h0.9v0.9h-0.9zM70.39 540.5h0.9v0.9h-0.9zM74.72 538.47h0.9v0.9h-0.9zM71.23 543.68h0.9v0.9h-0.9zM73.25 543.52h0.9v0.9h-0.9zM70.59 547.14h0.9v0.9h-0.9zM71.59 543.18h0.9v0.9h-0.9zM72.13 546.37h0.9v0.9h-0.9zM72.87 543.21h0.9v0.9h-0.9zM70.39 543.63h0.9v0.9h-0.9zM68.49 545.89h0.9v0.9h-0.9zM71.48 549.96h0.9v0.9h-0.9zM69.72 546.35h0.9v0.9h-0.9zM73.24 544.6h0.9v0.9h-0.9zM70.65 545.47h0.9v0.9h-0.9zM68.85 541.55h0.9v0.9h-0.9zM73.17 545.6h0.9v0.9h-0.9zM70.32 540.66h0.9v0.9h-0.9zM70.78 549.09h0.9v0.9h-0.9zM67.75 541.89h0.9v0.9h-0.9zM73.15 549.99h0.9v0.9h-0.9zM74.21 543.07h0.9v0.9h-0.9zM71.93 542.38h0.9v0.9h-0.9zM71.74 543.73h0.9v0.9h-0.9zM70.97 549.68h0.9v0.9h-0.9zM71.31 544.16h0.9v0.9h-0.9zM70.63 545.93h0.9v0.9h-0.9zM69.28 545.72h0.9v0.9h-0.9zM71.93 550.43h0.9v0.9h-0.9zM65.58 540.86h0.9v0.9h-0.9zM67.55 548.05h0.9v0.9h-0.9zM76.33 545.67h0.9v0.9h-0.9zM70.79 548.96h0.9v0.9h-0.9zM64.67 544.38h0.9v0.9h-0.9zM63.07 545.54h0.9v0.9h-0.9zM69.29 543.31h0.9v0.9h-0.9zM71.31 542.97h0.9v0.9h-0.9zM73.15 544.99h0.9v0.9h-0.9zM71.41 553.82h0.9v0.9h-0.9zM69.43 548.22h0.9v0.9h-0.9zM68.53 549.34h0.9v0.9h-0.9zM72.8 545.49h0.9v0.9h-0.9zM72.86 550.59h0.9v0.9h-0.9zM73.78 545h0.9v0.9h-0.9zM70.37 548.85h0.9v0.9h-0.9zM67 542.91h0.9v0.9h-0.9zM71.65 546.98h0.9v0.9h-0.9zM74.93 551.11h0.9v0.9h-0.9zM71.27 546.53h0.9v0.9h-0.9zM67.36 544.36h0.9v0.9h-0.9zM71.12 544.22h0.9v0.9h-0.9zM70.64 547.11h0.9v0.9h-0.9zM68.24 543.03h0.9v0.9h-0.9zM66.27 548.97h0.9v0.9h-0.9zM67.99 539.1h0.9v0.9h-0.9zM72.33 544.26h0.9v0.9h-0.9zM72.8 543.72h0.9v0.9h-0.9zM75.55 547.47h0.9v0.9h-0.9zM70.86 545.4h0.9v0.9h-0.9zM70.01 547.8h0.9v0.9h-0.9zM75.25 543.54h0.9v0.9h-0.9zM67.92 547.07h0.9v0.9h-0.9zM73.03 539.84h0.9v0.9h-0.9zM68.86 541.55h0.9v0.9h-0.9zM71.83 546.75h0.9v0.9h-0.9zM68.76 541.1h0.9v0.9h-0.9zM72.12 537.89h0.9v0.9h-0.9zM72.03 544.46h0.9v0.9h-0.9zM75.05 548.43h0.9v0.9h-0.9zM69.13 544.05h0.9v0.9h-0.9zM69.84 542.49h0.9v0.9h-0.9zM70.69 548.33h0.9v0.9h-0.9zM66.93 544.21h0.9v0.9h-0.9zM74.03 547.56h0.9v0.9h-0.9zM68.57 542.22h0.9v0.9h-0.9zM68.48 539.46h0.9v0.9h-0.9zM73.22 545.24h0.9v0.9h-0.9zM68.85 540.05h0.9v0.9h-0.9zM69.59 543.24h0.9v0.9h-0.9zM74.57 543.42h0.9v0.9h-0.9zM70.77 548.69h0.9v0.9h-0.9zM72.08 544.38h0.9v0.9h-0.9zM65.34 549.83h0.9v0.9h-0.9zM71.91 543.5h0.9v0.9h-0.9zM70.29 541.71h0.9v0.9h-0.9zM68.38 539.89h0.9v0.9h-0.9zM71.68 546.78h0.9v0.9h-0.9zM70.91 547.69h0.9v0.9h-0.9zM71.77 545.42h0.9v0.9h-0.9zM68.42 547.03h0.9v0.9h-0.9zM73.3 547.17h0.9v0.9h-0.9zM73.44 543.37h0.9v0.9h-0.9zM68.19 549.3h0.9v0.9h-0.9zM69.12 545.84h0.9v0.9h-0.9zM70.05 545.08h0.9v0.9h-0.9zM69.86 543.15h0.9v0.9h-0.9zM66.3 551.55h0.9v0.9h-0.9zM70.98 538.39h0.9v0.9h-0.9zM68.36 541.13h0.9v0.9h-0.9zM68.75 536.25h0.9v0.9h-0.9zM71.85 550.63h0.9v0.9h-0.9zM69.92 547.55h0.9v0.9h-0.9zM71.91 540.73h0.9v0.9h-0.9zM73.37 539.21h0.9v0.9h-0.9zM69.15 543.77h0.9v0.9h-0.9zM73.46 545.41h0.9v0.9h-0.9zM70.21 542.24h0.9v0.9h-0.9zM70.71 545.15h0.9v0.9h-0.9zM72.22 549.78h0.9v0.9h-0.9zM72.23 545.06h0.9v0.9h-0.9zM70.14 550.49h0.9v0.9h-0.9zM70.97 544.94h0.9v0.9h-0.9zM74.72 550.38h0.9v0.9h-0.9zM71.84 544.63h0.9v0.9h-0.9zM69.01 548.66h0.9v0.9h-0.9zM69.44 548.29h0.9v0.9h-0.9zM68.66 545.36h0.9v0.9h-0.9zM71.45 545.5h0.9v0.9h-0.9zM71.05 546.31h0.9v0.9h-0.9zM67.86 541.2h0.9v0.9h-0.9zM70.15 551.18h0.9v0.9h-0.9zM70.21 541.83h0.9v0.9h-0.9zM68.95 545.12h0.9v0.9h-0.9zM73.28 543.06h0.9v0.9h-0.9zM71.82 545.64h0.9v0.9h-0.9z" fill="#ff1010"/>
<path d="M92.19 513.77h0.8v0.8h-0.8zM94.17 514.33h0.8v0.8h-0.8zM99.03 508.42h0.8v0.8h-0.8zM106.63 518.29h0.8v0.8h-0.8zM102.67 522.61h0.8v0.8h-0.8zM99.64 508.53h0.8v0.8h-0.8zM97.11 519.06h0.8v0.8h-0.8zM89.2 513.6h0.8v0.8h-0.8zM100.42 518.58h0.8v0.8h-0.8zM92.31 516.98h0.8v0.8h-0.8zM91.29 515.72h0.8v0.8h-0.8zM96.79 522.01h0.8v0.8h-0.8zM82.08 518.89h0.8v0.8h-0.8zM110.33 515.4h0.8v0.8h-0.8zM98.36 520.55h0.8v0.8h-0.8zM86.4 513.89h0.8v0.8h-0.8zM80.53 514.1h0.8v0.8h-0.8zM99.19 520.42h0.8v0.8h-0.8zM91.95 515.05h0.8v0.8h-0.8zM100.27 519.08h0.8v0.8h-0.8zM96.47 508.37h0.8v0.8h-0.8zM88.99 507.21h0.8v0.8h-0.8zM97.42 513.01h0.8v0.8h-0.8zM92.11 525.06h0.8v0.8h-0.8zM107.98 516.7h0.8v0.8h-0.8zM98.73 517.41h0.8v0.8h-0.8zM91.15 518.13h0.8v0.8h-0.8zM111.65 509.61h0.8v0.8h-0.8zM90.71 519.21h0.8v0.8h-0.8zM104.66 519.08h0.8v0.8h-0.8zM87.82 518.54h0.8v0.8h-0.8zM92.7 512.34h0.8v0.8h-0.8zM96.38 514.95h0.8v0.8h-0.8zM104.49 517.28h0.8v0.8h-0.8zM89.63 519.09h0.8v0.8h-0.8zM92.52 515.13h0.8v0.8h-0.8zM93.12 522.8h0.8v0.8h-0.8zM90.95 510.54h0.8v0.8h-0.8zM90.41 522.25h0.8v0.8h-0.8zM113.5 508.37h0.8v0.8h-0.8zM92.84 516.47h0.8v0.8h-0.8zM84.6 521.72h0.8v0.8h-0.8zM96.05 518.52h0.8v0.8h-0.8zM115.03 511.63h0.8v0.8h-0.8zM103.81 519.27h0.8v0.8h-0.8zM90.18 515.87h0.8v0.8h-0.8zM110.2 517.25h0.8v0.8h-0.8zM96.32 512.15h0.8v0.8h-0.8zM104.26 517.76h0.8v0.8h-0.8zM116.42 519.3h0.8v0.8h-0.8zM103.33 516.79h0.8v0.8h-0.8zM96.18 514.68h0.8v0.8h-0.8zM99.08 517.66h0.8v0.8h-0.8zM102.85 520.65h0.8v0.8h-0.8zM98.32 514.22h0.8v0.8h-0.8zM104.65 522.38h0.8v0.8h-0.8zM89.51 520.67h0.8v0.8h-0.8zM101.41 518.46h0.8v0.8h-0.8zM100.41 515.81h0.8v0.8h-0.8zM97.03 524.75h0.8v0.8h-0.8zM109.56 507.68h0.8v0.8h-0.8zM75.01 524.1h0.8v0.8h-0.8zM89.93 516.28h0.8v0.8h-0.8zM82.97 521.88h0.8v0.8h-0.8zM95.19 514.96h0.8v0.8h-0.8zM106.31 526.03h0.8v0.8h-0.8zM109.95 519.41h0.8v0.8h-0.8zM93.36 520.88h0.8v0.8h-0.8zM97.04 522.32h0.8v0.8h-0.8zM101.13 515.9h0.8v0.8h-0.8zM100.19 512.99h0.8v0.8h-0.8zM104.47 522.19h0.8v0.8h-0.8zM93.68 520.33h0.8v0.8h-0.8zM82.95 524.56h0.8v0.8h-0.8zM102.65 511.03h0.8v0.8h-0.8zM111.17 514.27h0.8v0.8h-0.8zM80.08 514.64h0.8v0.8h-0.8zM103.38 514.29h0.8v0.8h-0.8zM104.05 508.28h0.8v0.8h-0.8zM96.34 521.65h0.8v0.8h-0.8zM91.11 521.5h0.8v0.8h-0.8zM93.49 519.41h0.8v0.8h-0.8zM101.2 526.29h0.8v0.8h-0.8zM86.44 523.03h0.8v0.8h-0.8zM106.25 509.72h0.8v0.8h-0.8zM99.22 527.1h0.8v0.8h-0.8zM102.17 502.22h0.8v0.8h-0.8zM92.46 510.22h0.8v0.8h-0.8zM98.05 513.44h0.8v0.8h-0.8zM90.58 514.66h0.8v0.8h-0.8zM98.24 514.59h0.8v0.8h-0.8zM88.27 517.99h0.8v0.8h-0.8zM98.8 512.67h0.8v0.8h-0.8zM104 507.79h0.8v0.8h-0.8zM99.28 514.71h0.8v0.8h-0.8zM108.96 511.3h0.8v0.8h-0.8zM89.2 512.66h0.8v0.8h-0.8zM113.74 515.98h0.8v0.8h-0.8zM86.62 517.87h0.8v0.8h-0.8zM89.57 525.72h0.8v0.8h-0.8zM97.72 507.51h0.8v0.8h-0.8zM98.91 520.77h0.8v0.8h-0.8zM96.69 519.26h0.8v0.8h-0.8zM95.47 518.33h0.8v0.8h-0.8zM97.3 513.7h0.8v0.8h-0.8zM99.33 517.24h0.8v0.8h-0.8zM95.19 514.3h0.8v0.8h-0.8zM87.81 520.27h0.8v0.8h-0.8zM100.81 505.05h0.8v0.8h-0.8zM93 524.15h0.8v0.8h-0.8zM103.29 512.29h0.8v0.8h-0.8zM106.73 510.24h0.8v0.8h-0.8zM91.42 527.2h0.8v0.8h-0.8zM92.27 517.12h0.8v0.8h-0.8zM81.13 516.04h0.8v0.8h-0.8zM86.04 518.91h0.8v0.8h-0.8zM81.63 525.44h0.8v0.8h-0.8zM92.56 515.26h0.8v0.8h-0.8zM91.54 521.69h0.8v0.8h-0.8zM108.87 512.4h0.8v0.8h-0.8zM111.58 521.04h0.8v0.8h-0.8zM107.94 515.86h0.8v0.8h-0.8zM84.18 523.07h0.8v0.8h-0.8zM92.91 518.85h0.8v0.8h-0.8zM79.84 519.68h0.8v0.8h-0.8zM97.25 512.66h0.8v0.8h-0.8zM100.39 523.92h0.8v0.8h-0.8zM97.48 513.76h0.8v0.8h-0.8zM114.38 503.11h0.8v0.8h-0.8zM88.77 520.79h0.8v0.8h-0.8zM88.85 508.36h0.8v0.8h-0.8zM99.26 520.31h0.8v0.8h-0.8zM90.89 525.16h0.8v0.8h-0.8zM101.67 521.42h0.8v0.8h-0.8zM83.17 520.2h0.8v0.8h-0.8zM111.89 522.84h0.8v0.8h-0.8zM107.45 514.6h0.8v0.8h-0.8zM97.13 514.1h0.8v0.8h-0.8zM104.88 512h0.8v0.8h-0.8zM95.18 507.94h0.8v0.8h-0.8zM85.14 527.94h0.8v0.8h-0.8zM96.92 518.02h0.8v0.8h-0.8zM77.4 521.39h0.8v0.8h-0.8zM112.39 506.58h0.8v0.8h-0.8zM75.72 521.19h0.8v0.8h-0.8zM91.45 517.33h0.8v0.8h-0.8zM84.08 513.75h0.8v0.8h-0.8zM86.28 522.44h0.8v0.8h-0.8zM96.63 520.89h0.8v0.8h-0.8zM87.57 521.91h0.8v0.8h-0.8zM92.51 518.46h0.8v0.8h-0.8zM104.23 515.5h0.8v0.8h-0.8zM91.51 510.61h0.8v0.8h-0.8zM97.54 520.51h0.8v0.8h-0.8zM90.72 518.16h0.8v0.8h-0.8zM79.69 514.85h0.8v0.8h-0.8zM100.97 522.08h0.8v0.8h-0.8zM91.85 510.48h0.8v0.8h-0.8zM91.36 511.09h0.8v0.8h-0.8zM95.79 526.22h0.8v0.8h-0.8zM98.61 515.94h0.8v0.8h-0.8zM104.72 513.48h0.8v0.8h-0.8zM99.26 517.42h0.8v0.8h-0.8zM98.54 509.86h0.8v0.8h-0.8zM103.2 519.67h0.8v0.8h-0.8zM73.84 509.81h0.8v0.8h-0.8zM90.01 525.53h0.8v0.8h-0.8zM97.07 520.14h0.8v0.8h-0.8zM101.87 520.01h0.8v0.8h-0.8zM90.11 515.89h0.8v0.8h-0.8zM100.05 519.13h0.8v0.8h-0.8zM101.49 517.55h0.8v0.8h-0.8zM93.15 523.03h0.8v0.8h-0.8zM101.34 520.95h0.8v0.8h-0.8zM75.32 526.7h0.8v0.8h-0.8zM75.38 522.99h0.8v0.8h-0.8zM90.59 519.05h0.8v0.8h-0.8zM91.78 516.78h0.8v0.8h-0.8zM98.22 518.34h0.8v0.8h-0.8zM86.73 507.63h0.8v0.8h-0.8zM90.02 521.15h0.8v0.8h-0.8zM89.35 520.77h0.8v0.8h-0.8zM92.05 513.77h0.8v0.8h-0.8zM107.99 522.19h0.8v0.8h-0.8zM95.26 517.18h0.8v0.8h-0.8zM103.13 509.42h0.8v0.8h-0.8zM89.81 523.95h0.8v0.8h-0.8zM103.49 513.22h0.8v0.8h-0.8zM89.83 520.3h0.8v0.8h-0.8zM83.5 517.81h0.8v0.8h-0.8zM91.68 506.77h0.8v0.8h-0.8zM102.1 519.4h0.8v0.8h-0.8zM103.97 508.7h0.8v0.8h-0.8zM84.23 516.16h0.8v0.8h-0.8zM86.98 528.92h0.8v0.8h-0.8zM87.4 517.77h0.8v0.8h-0.8zM98.46 518.81h0.8v0.8h-0.8zM107.68 509.46h0.8v0.8h-0.8zM103.99 516.1h0.8v0.8h-0.8zM86.18 520.22h0.8v0.8h-0.8zM85.68 527.21h0.8v0.8h-0.8zM90.89 523.14h0.8v0.8h-0.8zM106.87 511.84h0.8v0.8h-0.8zM88.53 519.58h0.8v0.8h-0.8zM88 523.31h0.8v0.8h-0.8zM96.94 513.45h0.8v0.8h-0.8zM90.98 521.8h0.8v0.8h-0.8zM85.32 527.63h0.8v0.8h-0.8zM89.16 517.91h0.8v0.8h-0.8zM89.82 526.29h0.8v0.8h-0.8zM104.71 521.34h0.8v0.8h-0.8zM101.98 516.29h0.8v0.8h-0.8zM111.66 516.75h0.8v0.8h-0.8zM100.6 518.89h0.8v0.8h-0.8zM102.91 516.96h0.8v0.8h-0.8zM93.1 510.42h0.8v0.8h-0.8zM112.83 507.25h0.8v0.8h-0.8zM76.66 518.36h0.8v0.8h-0.8zM114.34 518.75h0.8v0.8h-0.8zM91.22 519.6h0.8v0.8h-0.8zM93.94 508.38h0.8v0.8h-0.8zM93.58 519.18h0.8v0.8h-0.8zM105.2 509.46h0.8v0.8h-0.8zM74.85 514.72h0.8v0.8h-0.8zM99.17 516.89h0.8v0.8h-0.8zM97.66 517.56h0.8v0.8h-0.8zM91.59 511.83h0.8v0.8h-0.8zM100.57 518.01h0.8v0.8h-0.8zM102.54 521.61h0.8v0.8h-0.8zM82.94 509.24h0.8v0.8h-0.8zM82.79 530.37h0.8v0.8h-0.8zM88.61 520.83h0.8v0.8h-0.8zM96.82 520.49h0.8v0.8h-0.8zM123.79 508.39h0.8v0.8h-0.8zM94.09 514.87h0.8v0.8h-0.8zM98.89 519.03h0.8v0.8h-0.8zM89.06 525.06h0.8v0.8h-0.8zM106.71 516.87h0.8v0.8h-0.8zM94.99 516.36h0.8v0.8h-0.8zM82.47 523.47h0.8v0.8h-0.8zM87.14 516.92h0.8v0.8h-0.8zM103.98 511.06h0.8v0.8h-0.8zM92.51 522.1h0.8v0.8h-0.8zM111.77 510.35h0.8v0.8h-0.8zM105.2 512.03h0.8v0.8h-0.8zM100.1 518.58h0.8v0.8h-0.8zM87.28 524.1h0.8v0.8h-0.8zM112.03 513.79h0.8v0.8h-0.8zM97.35 511.4h0.8v0.8h-0.8zM111.94 513.86h0.8v0.8h-0.8z" fill="#a6a6a6"/>
<path d="M88.02 521.47h0.9v0.9h-0.9zM85.69 516.78h0.9v0.9h-0.9zM82.61 524.81h0.9v0.9h-0.9zM110.87 511.61h0.9v0.9h-0.9zM91.31 515.97h0.9v0.9h-0.9zM92.73 519.72h0.9v0.9h-0.9zM105.45 511.43h0.9v0.9h-0.9zM97.9 510.19h0.9v0.9h-0.9zM106.57 514.48h0.9v0.9h-0.9zM92.52 523.26h0.9v0.9h-0.9zM96.47 521.84h0.9v0.9h-0.9zM104.76 521.11h0.9v0.9h-0.9zM90.76 518.36h0.9v0.9h-0.9zM98.58 515.8h0.9v0.9h-0.9zM106.11 512.34h0.9v0.9h-0.9zM104.06 520.21h0.9v0.9h-0.9zM82.12 516.52h0.9v0.9h-0.9zM89.62 516.45h0.9v0.9h-0.9zM98.75 515.84h0.9v0.9h-0.9zM96.41 515.31h0.9v0.9h-0.9zM95.99 518.78h0.9v0.9h-0.9zM100.74 513.24h0.9v0.9h-0.9zM94.87 514.56h0.9v0.9h-0.9zM93.93 512.35h0.9v0.9h-0.9zM103.22 517.91h0.9v0.9h-0.9zM94.86 514.84h0.9v0.9h-0.9zM92.59 515.39h0.9v0.9h-0.9zM86.82 524.84h0.9v0.9h-0.9zM117.83 508h0.9v0.9h-0.9zM88.63 520.68h0.9v0.9h-0.9zM99.2 510.73h0.9v0.9h-0.9zM83.44 521.65h0.9v0.9h-0.9zM83.6 524.77h0.9v0.9h-0.9zM92.87 518.01h0.9v0.9h-0.9zM95.77 515.09h0.9v0.9h-0.9zM95.01 516.18h0.9v0.9h-0.9zM104.65 514.87h0.9v0.9h-0.9zM95.6 515.23h0.9v0.9h-0.9zM91.32 515.4h0.9v0.9h-0.9zM97.61 523.27h0.9v0.9h-0.9zM104.01 516.19h0.9v0.9h-0.9zM108.36 518.04h0.9v0.9h-0.9zM97.5 516.14h0.9v0.9h-0.9zM88.87 519.45h0.9v0.9h-0.9zM92.88 512.03h0.9v0.9h-0.9zM88.81 525.5h0.9v0.9h-0.9zM98.03 518.39h0.9v0.9h-0.9zM97.23 515.12h0.9v0.9h-0.9zM100.15 520.04h0.9v0.9h-0.9zM94.46 519.2h0.9v0.9h-0.9zM102.87 513.85h0.9v0.9h-0.9zM96.82 514.22h0.9v0.9h-0.9zM100.06 514.86h0.9v0.9h-0.9zM103.49 512.72h0.9v0.9h-0.9zM107.54 513.48h0.9v0.9h-0.9zM89.79 515.13h0.9v0.9h-0.9zM100.11 513.1h0.9v0.9h-0.9zM109.49 518.76h0.9v0.9h-0.9zM98.71 511.38h0.9v0.9h-0.9zM95.51 514.55h0.9v0.9h-0.9zM84.11 521.09h0.9v0.9h-0.9zM110.88 511.96h0.9v0.9h-0.9zM102.67 520.22h0.9v0.9h-0.9zM89.37 517.23h0.9v0.9h-0.9zM98.38 518.23h0.9v0.9h-0.9zM88.51 519.41h0.9v0.9h-0.9zM96.16 520.41h0.9v0.9h-0.9zM84.85 517.39h0.9v0.9h-0.9zM92.52 516.65h0.9v0.9h-0.9zM100.69 513.8h0.9v0.9h-0.9zM114.43 510.59h0.9v0.9h-0.9zM102.69 519.27h0.9v0.9h-0.9zM102.66 514.9h0.9v0.9h-0.9zM90.33 517.33h0.9v0.9h-0.9zM100.85 516.45h0.9v0.9h-0.9zM100.6 518.12h0.9v0.9h-0.9zM89.47 515.09h0.9v0.9h-0.9zM105.71 513.24h0.9v0.9h-0.9zM86.7 525.67h0.9v0.9h-0.9zM89.81 515.02h0.9v0.9h-0.9zM102 511.72h0.9v0.9h-0.9zM91 521.86h0.9v0.9h-0.9zM92.41 526.78h0.9v0.9h-0.9zM98.82 526.05h0.9v0.9h-0.9zM97.13 517h0.9v0.9h-0.9zM91.65 517.17h0.9v0.9h-0.9zM92.75 517.65h0.9v0.9h-0.9zM100.56 511.52h0.9v0.9h-0.9zM88.39 511.17h0.9v0.9h-0.9zM106.44 514.56h0.9v0.9h-0.9zM96.06 516.82h0.9v0.9h-0.9zM103.31 516.64h0.9v0.9h-0.9zM101.9 515.19h0.9v0.9h-0.9zM95.33 516.99h0.9v0.9h-0.9zM84.24 523.44h0.9v0.9h-0.9zM84.67 515.89h0.9v0.9h-0.9zM100.83 516.21h0.9v0.9h-0.9zM103.01 521.66h0.9v0.9h-0.9zM109.96 519.02h0.9v0.9h-0.9zM96.15 524.34h0.9v0.9h-0.9zM90.11 517.99h0.9v0.9h-0.9zM102.87 514.82h0.9v0.9h-0.9zM95.11 515.97h0.9v0.9h-0.9zM103.75 506.57h0.9v0.9h-0.9zM105.69 518.78h0.9v0.9h-0.9zM96.11 519.03h0.9v0.9h-0.9zM90.38 522.21h0.9v0.9h-0.9zM116.49 509.4h0.9v0.9h-0.9zM105.72 514.78h0.9v0.9h-0.9zM93.53 515.82h0.9v0.9h-0.9zM93.99 512.99h0.9v0.9h-0.9zM88.11 524.67h0.9v0.9h-0.9zM96.48 518.92h0.9v0.9h-0.9zM98.67 518.18h0.9v0.9h-0.9zM85.06 515.97h0.9v0.9h-0.9zM101.26 519.5h0.9v0.9h-0.9zM87.94 516.69h0.9v0.9h-0.9zM89.36 520.79h0.9v0.9h-0.9zM98.58 516.61h0.9v0.9h-0.9zM92 519.12h0.9v0.9h-0.9zM95.88 514.41h0.9v0.9h-0.9zM98 514.24h0.9v0.9h-0.9zM103.17 517.76h0.9v0.9h-0.9zM91.92 520.01h0.9v0.9h-0.9zM96.15 514.49h0.9v0.9h-0.9zM88.73 512.64h0.9v0.9h-0.9zM88.71 519.83h0.9v0.9h-0.9zM104.01 513.09h0.9v0.9h-0.9zM97.54 517.95h0.9v0.9h-0.9zM101.87 517.38h0.9v0.9h-0.9zM105.16 517.84h0.9v0.9h-0.9zM91.27 519.47h0.9v0.9h-0.9zM80.03 519.79h0.9v0.9h-0.9zM96.76 518.95h0.9v0.9h-0.9zM94.74 520.29h0.9v0.9h-0.9zM104.63 512.2h0.9v0.9h-0.9zM92.67 518.68h0.9v0.9h-0.9zM99.66 516.78h0.9v0.9h-0.9zM101.03 511.74h0.9v0.9h-0.9zM102.36 519.86h0.9v0.9h-0.9zM104.11 516.84h0.9v0.9h-0.9zM94.86 518.71h0.9v0.9h-0.9zM94.53 511.68h0.9v0.9h-0.9zM92.03 517.74h0.9v0.9h-0.9zM91.99 514.56h0.9v0.9h-0.9zM94.34 516.07h0.9v0.9h-0.9zM96.64 516.73h0.9v0.9h-0.9zM98.1 520.15h0.9v0.9h-0.9zM97.43 518.19h0.9v0.9h-0.9zM85.69 508.69h0.9v0.9h-0.9zM93.95 519.9h0.9v0.9h-0.9zM93.42 515.36h0.9v0.9h-0.9zM88.36 521.86h0.9v0.9h-0.9zM92.77 518.61h0.9v0.9h-0.9zM104.33 517.19h0.9v0.9h-0.9zM111.46 513.28h0.9v0.9h-0.9zM103.25 517.98h0.9v0.9h-0.9zM91.75 518.12h0.9v0.9h-0.9zM91.59 514.31h0.9v0.9h-0.9zM97.69 513.91h0.9v0.9h-0.9zM107.16 512.02h0.9v0.9h-0.9zM92.54 518.11h0.9v0.9h-0.9zM92.69 517.94h0.9v0.9h-0.9zM91 513.02h0.9v0.9h-0.9zM78.74 516.1h0.9v0.9h-0.9zM106.94 516.31h0.9v0.9h-0.9zM96.91 515.19h0.9v0.9h-0.9zM95.42 518.24h0.9v0.9h-0.9zM86.11 516.29h0.9v0.9h-0.9zM91.02 522.61h0.9v0.9h-0.9zM89.82 522.55h0.9v0.9h-0.9zM95 527.01h0.9v0.9h-0.9zM95.69 517.22h0.9v0.9h-0.9zM106.09 518.03h0.9v0.9h-0.9zM101.85 511.97h0.9v0.9h-0.9zM105.2 521.1h0.9v0.9h-0.9zM95.15 515.49h0.9v0.9h-0.9zM89.47 522.07h0.9v0.9h-0.9zM98.22 516.6h0.9v0.9h-0.9zM88.92 524.35h0.9v0.9h-0.9zM102.18 515.66h0.9v0.9h-0.9zM105.62 511.59h0.9v0.9h-0.9zM101.51 512.3h0.9v0.9h-0.9zM105.66 514h0.9v0.9h-0.9zM104.27 513.8h0.9v0.9h-0.9zM99.76 520.33h0.9v0.9h-0.9zM90.09 518.64h0.9v0.9h-0.9zM91.08 521.14h0.9v0.9h-0.9zM91.8 516.6h0.9v0.9h-0.9zM95.66 521.28h0.9v0.9h-0.9zM89.05 518.43h0.9v0.9h-0.9zM93.55 515.6h0.9v0.9h-0.9zM90.69 517.6h0.9v0.9h-0.9zM96.42 511.42h0.9v0.9h-0.9zM96.94 512.61h0.9v0.9h-0.9zM97.96 524.78h0.9v0.9h-0.9zM89.53 518.18h0.9v0.9h-0.9zM95.17 520.73h0.9v0.9h-0.9zM91.65 511.58h0.9v0.9h-0.9zM85.3 519.95h0.9v0.9h-0.9zM98.71 520.29h0.9v0.9h-0.9zM93.01 520.06h0.9v0.9h-0.9zM89.86 522.98h0.9v0.9h-0.9zM95.22 514.78h0.9v0.9h-0.9zM98.69 522.71h0.9v0.9h-0.9zM89.5 513.99h0.9v0.9h-0.9zM88.41 514.52h0.9v0.9h-0.9zM96.11 518.27h0.9v0.9h-0.9zM95.22 517.91h0.9v0.9h-0.9zM104.1 514.29h0.9v0.9h-0.9zM85.96 511h0.9v0.9h-0.9zM97.36 514.32h0.9v0.9h-0.9zM94.79 518.76h0.9v0.9h-0.9zM98.23 510.96h0.9v0.9h-0.9zM89.7 518.65h0.9v0.9h-0.9zM96.05 521.14h0.9v0.9h-0.9zM91.26 510.66h0.9v0.9h-0.9zM103.02 509.7h0.9v0.9h-0.9zM89.84 519.75h0.9v0.9h-0.9zM90.76 527.06h0.9v0.9h-0.9zM98.22 518.49h0.9v0.9h-0.9zM94.83 525.22h0.9v0.9h-0.9zM99.38 513.76h0.9v0.9h-0.9zM103.56 509.39h0.9v0.9h-0.9zM92.39 518.84h0.9v0.9h-0.9zM96.45 513.52h0.9v0.9h-0.9zM108.09 519.74h0.9v0.9h-0.9zM90.07 519.64h0.9v0.9h-0.9zM91.54 516.44h0.9v0.9h-0.9zM103.05 516h0.9v0.9h-0.9zM95.53 517.51h0.9v0.9h-0.9zM89.06 522.89h0.9v0.9h-0.9zM92.01 522.57h0.9v0.9h-0.9zM92.73 516.11h0.9v0.9h-0.9zM106.51 515.49h0.9v0.9h-0.9zM91.43 516.1h0.9v0.9h-0.9zM101.71 522.52h0.9v0.9h-0.9zM100.12 514.76h0.9v0.9h-0.9zM88.03 516.33h0.9v0.9h-0.9zM95.56 518.01h0.9v0.9h-0.9zM92.64 522.34h0.9v0.9h-0.9zM89.12 515.95h0.9v0.9h-0.9zM99.95 517.92h0.9v0.9h-0.9zM94.23 520.86h0.9v0.9h-0.9zM87.75 524.64h0.9v0.9h-0.9zM112.59 520.5h0.9v0.9h-0.9zM98.45 523.56h0.9v0.9h-0.9zM97.54 521.47h0.9v0.9h-0.9zM94.98 517.95h0.9v0.9h-0.9zM98.52 510.26h0.9v0.9h-0.9zM96.03 523.18h0.9v0.9h-0.9zM76.47 522.57h0.9v0.9h-0.9zM102.75 516.78h0.9v0.9h-0.9zM98.54 521.47h0.9v0.9h-0.9zM97.12 510.03h0.9v0.9h-0.9zM89.52 517.36h0.9v0.9h-0.9zM96.86 515.26h0.9v0.9h-0.9zM96.7 522.86h0.9v0.9h-0.9zM76.96 525.21h0.9v0.9h-0.9zM103.05 517.7h0.9v0.9h-0.9zM96.35 517.2h0.9v0.9h-0.9zM98.87 517.3h0.9v0.9h-0.9zM91.81 520.73h0.9v0.9h-0.9zM90.52 518.06h0.9v0.9h-0.9zM92.91 513.58h0.9v0.9h-0.9zM100.29 515.88h0.9v0.9h-0.9zM88.17 518.43h0.9v0.9h-0.9zM87.82 523.91h0.9v0.9h-0.9zM101.17 523.04h0.9v0.9h-0.9zM92.83 520.24h0.9v0.9h-0.9zM88.96 515.5h0.9v0.9h-0.9zM95.89 518.54h0.9v0.9h-0.9zM102.32 514.74h0.9v0.9h-0.9zM104.43 518.69h0.9v0.9h-0.9zM90.09 517.66h0.9v0.9h-0.9zM91.18 524.15h0.9v0.9h-0.9zM93.08 520.82h0.9v0.9h-0.9zM102.26 514.81h0.9v0.9h-0.9zM93.13 518.88h0.9v0.9h-0.9zM89.99 513.81h0.9v0.9h-0.9zM89.85 519.56h0.9v0.9h-0.9zM98.79 522.73h0.9v0.9h-0.9zM84.1 521.37h0.9v0.9h-0.9zM89.17 522.61h0.9v0.9h-0.9zM101.04 516.42h0.9v0.9h-0.9zM105.98 513.59h0.9v0.9h-0.9zM91.83 514.18h0.9v0.9h-0.9zM91.81 518.34h0.9v0.9h-0.9zM101.71 520.39h0.9v0.9h-0.9zM93.84 514.9h0.9v0.9h-0.9zM93.61 516.02h0.9v0.9h-0.9zM92.72 516.31h0.9v0.9h-0.9zM90.23 518.08h0.9v0.9h-0.9zM92.59 517.17h0.9v0.9h-0.9zM86.88 519.5h0.9v0.9h-0.9zM100.57 518.38h0.9v0.9h-0.9zM91.64 513.92h0.9v0.9h-0.9zM86.5 514.89h0.9v0.9h-0.9zM91.6 516.88h0.9v0.9h-0.9zM84.62 521.84h0.9v0.9h-0.9zM85.24 516.89h0.9v0.9h-0.9zM91.89 520.86h0.9v0.9h-0.9zM108.44 513.14h0.9v0.9h-0.9zM94.05 516.06h0.9v0.9h-0.9zM94.72 516.71h0.9v0.9h-0.9zM112.17 509.74h0.9v0.9h-0.9zM94.89 514.48h0.9v0.9h-0.9zM98.25 514.72h0.9v0.9h-0.9zM99.32 512.51h0.9v0.9h-0.9zM110.67 514.67h0.9v0.9h-0.9zM84.71 521.92h0.9v0.9h-0.9zM92.18 513.77h0.9v0.9h-0.9zM98.82 514.61h0.9v0.9h-0.9zM100.81 514.08h0.9v0.9h-0.9zM102.43 516.2h0.9v0.9h-0.9zM98.74 517.02h0.9v0.9h-0.9zM93.47 516.3h0.9v0.9h-0.9zM99.77 518.75h0.9v0.9h-0.9zM95.04 525.16h0.9v0.9h-0.9zM106.84 510.69h0.9v0.9h-0.9zM103.51 515.2h0.9v0.9h-0.9zM97.21 514h0.9v0.9h-0.9zM106.79 511.84h0.9v0.9h-0.9zM95.13 514.67h0.9v0.9h-0.9zM110.18 518.46h0.9v0.9h-0.9zM86.95 517.38h0.9v0.9h-0.9zM98.36 515.02h0.9v0.9h-0.9zM93.03 513.88h0.9v0.9h-0.9zM97.11 512.96h0.9v0.9h-0.9zM103.55 523.89h0.9v0.9h-0.9zM95.18 523.02h0.9v0.9h-0.9zM98.25 514.21h0.9v0.9h-0.9zM93.18 514.26h0.9v0.9h-0.9zM97.48 519.2h0.9v0.9h-0.9zM102.29 514.73h0.9v0.9h-0.9zM88.09 518.46h0.9v0.9h-0.9zM107.7 515.55h0.9v0.9h-0.9zM94.29 510.1h0.9v0.9h-0.9zM93.67 519.46h0.9v0.9h-0.9zM90.78 522.91h0.9v0.9h-0.9zM91.76 514.89h0.9v0.9h-0.9zM92.22 517.53h0.9v0.9h-0.9zM102.54 513.67h0.9v0.9h-0.9zM84.11 519.3h0.9v0.9h-0.9zM100.83 521.44h0.9v0.9h-0.9zM89.69 523.6h0.9v0.9h-0.9zM101.09 517.57h0.9v0.9h-0.9zM90.4 515.14h0.9v0.9h-0.9zM90.43 521.51h0.9v0.9h-0.9zM98.44 520.28h0.9v0.9h-0.9zM108.47 514.47h0.9v0.9h-0.9zM97.25 523.52h0.9v0.9h-0.9zM87.09 517.37h0.9v0.9h-0.9zM93.44 516.27h0.9v0.9h-0.9zM96.57 513.99h0.9v0.9h-0.9zM103.06 510.77h0.9v0.9h-0.9zM89.51 512.51h0.9v0.9h-0.9zM87.18 520.99h0.9v0.9h-0.9zM100.3 515.45h0.9v0.9h-0.9zM102.33 517.88h0.9v0.9h-0.9zM92.29 517.71h0.9v0.9h-0.9zM100.11 523.23h0.9v0.9h-0.9zM93.5 518.89h0.9v0.9h-0.9zM100.75 520.32h0.9v0.9h-0.9zM99.83 520h0.9v0.9h-0.9zM88.85 517.66h0.9v0.9h-0.9zM83.13 519.62h0.9v0.9h-0.9zM112.08 514.49h0.9v0.9h-0.9zM96.99 517.78h0.9v0.9h-0.9zM96.24 512.37h0.9v0.9h-0.9zM91.42 517.43h0.9v0.9h-0.9zM96.73 513.89h0.9v0.9h-0.9zM94.97 514.71h0.9v0.9h-0.9zM86.86 516.7h0.9v0.9h-0.9zM91.38 520.98h0.9v0.9h-0.9zM105.63 517.04h0.9v0.9h-0.9zM94.38 515.46h0.9v0.9h-0.9zM85.26 517.5h0.9v0.9h-0.9zM107.56 518.64h0.9v0.9h-0.9zM97.54 515.88h0.9v0.9h-0.9zM96.53 518.43h0.9v0.9h-0.9zM96.46 518.46h0.9v0.9h-0.9zM91.05 518.28h0.9v0.9h-0.9zM94.61 521.12h0.9v0.9h-0.9zM88.78 523.13h0.9v0.9h-0.9zM95.27 515.46h0.9v0.9h-0.9zM96.44 517.4h0.9v0.9h-0.9zM94.94 518.77h0.9v0.9h-0.9zM91.12 512.19h0.9v0.9h-0.9zM100.87 515.94h0.9v0.9h-0.9zM107.69 515.93h0.9v0.9h-0.9zM83.62 524.03h0.9v0.9h-0.9zM91.97 519.84h0.9v0.9h-0.9zM111.92 517.49h0.9v0.9h-0.9zM88.78 518.28h0.9v0.9h-0.9zM85.87 521.55h0.9v0.9h-0.9zM99.26 512.79h0.9v0.9h-0.9zM99.92 519.5h0.9v0.9h-0.9zM101.17 513.63h0.9v0.9h-0.9zM90.75 514.27h0.9v0.9h-0.9zM87.74 519.92h0.9v0.9h-0.9zM97.4 521.31h0.9v0.9h-0.9zM97.82 515.56h0.9v0.9h-0.9zM87.71 524.22h0.9v0.9h-0.9zM97.29 516.69h0.9v0.9h-0.9zM88.71 514.97h0.9v0.9h-0.9zM99.78 512.88h0.9v0.9h-0.9zM100.59 518.28h0.9v0.9h-0.9zM92.49 512.17h0.9v0.9h-0.9zM99.97 521.12h0.9v0.9h-0.9zM89.77 514h0.9v0.9h-0.9zM103.63 515.95h0.9v0.9h-0.9zM92.88 522h0.9v0.9h-0.9zM94.67 518.93h0.9v0.9h-0.9zM92.97 515.1h0.9v0.9h-0.9zM97.08 513.86h0.9v0.9h-0.9zM83.9 517.77h0.9v0.9h-0.9zM105.28 518.92h0.9v0.9h-0.9zM111.53 517.23h0.9v0.9h-0.9zM107.23 515.56h0.9v0.9h-0.9zM93.61 519.2h0.9v0.9h-0.9zM90.35 520.83h0.9v0.9h-0.9zM93.38 518.53h0.9v0.9h-0.9zM90.39 517.8h0.9v0.9h-0.9zM102.64 514.91h0.9v0.9h-0.9zM91.88 518.94h0.9v0.9h-0.9zM101.99 515.15h0.9v0.9h-0.9zM87.25 513.52h0.9v0.9h-0.9zM87.96 522.48h0.9v0.9h-0.9zM95.95 518.75h0.9v0.9h-0.9zM103.62 516.45h0.9v0.9h-0.9zM99.09 514.67h0.9v0.9h-0.9zM85.84 521.42h0.9v0.9h-0.9zM95.97 519.08h0.9v0.9h-0.9zM88.95 518.09h0.9v0.9h-0.9zM109.15 511.37h0.9v0.9h-0.9zM97.79 521.24h0.9v0.9h-0.9zM94.74 517.78h0.9v0.9h-0.9zM82.45 522.65h0.9v0.9h-0.9zM94.15 521.93h0.9v0.9h-0.9zM95.34 515.93h0.9v0.9h-0.9zM98.96 515.62h0.9v0.9h-0.9zM93.84 522.88h0.9v0.9h-0.9zM102.88 516h0.9v0.9h-0.9zM102.21 518.62h0.9v0.9h-0.9zM100.14 516.37h0.9v0.9h-0.9zM96.98 518.29h0.9v0.9h-0.9zM100.25 517.41h0.9v0.9h-0.9zM92.46 517.58h0.9v0.9h-0.9zM98.59 513.14h0.9v0.9h-0.9zM96.68 519.55h0.9v0.9h-0.9zM97.14 515.86h0.9v0.9h-0.9zM95.72 515.48h0.9v0.9h-0.9zM102.54 514.4h0.9v0.9h-0.9zM84.2 515.44h0.9v0.9h-0.9zM98.37 517.31h0.9v0.9h-0.9zM92.13 513.4h0.9v0.9h-0.9zM94.62 514.5h0.9v0.9h-0.9zM91.81 517.98h0.9v0.9h-0.9zM91.29 519.16h0.9v0.9h-0.9zM90.93 516.57h0.9v0.9h-0.9zM95.71 522.17h0.9v0.9h-0.9zM107.44 517.9h0.9v0.9h-0.9zM91.28 518.11h0.9v0.9h-0.9zM102.9 518.4h0.9v0.9h-0.9zM85.26 519.19h0.9v0.9h-0.9zM91.78 520.57h0.9v0.9h-0.9zM100.11 514.38h0.9v0.9h-0.9zM110.38 513.09h0.9v0.9h-0.9zM112.46 513.02h0.9v0.9h-0.9zM96.97 523.4h0.9v0.9h-0.9zM92.35 516.25h0.9v0.9h-0.9zM106.07 514.82h0.9v0.9h-0.9zM98.54 512.25h0.9v0.9h-0.9zM108.89 517.72h0.9v0.9h-0.9zM99.1 518.86h0.9v0.9h-0.9zM92.53 516.21h0.9v0.9h-0.9zM85.94 520.5h0.9v0.9h-0.9zM105.1 518.09h0.9v0.9h-0.9zM102.87 518.06h0.9v0.9h-0.9zM89.14 514.1h0.9v0.9h-0.9zM100.62 516.68h0.9v0.9h-0.9zM102.63 514.75h0.9v0.9h-0.9zM90.61 519.76h0.9v0.9h-0.9zM91.34 512.49h0.9v0.9h-0.9zM91.53 515.05h0.9v0.9h-0.9zM88.36 516.84h0.9v0.9h-0.9zM104.2 523.38h0.9v0.9h-0.9zM107.5 513.24h0.9v0.9h-0.9zM103.82 515.19h0.9v0.9h-0.9zM98.44 514.27h0.9v0.9h-0.9zM94.55 511.69h0.9v0.9h-0.9zM107.69 512.01h0.9v0.9h-0.9zM99.73 514.31h0.9v0.9h-0.9zM97.21 512.83h0.9v0.9h-0.9zM94.33 520.57h0.9v0.9h-0.9zM98.85 509.88h0.9v0.9h-0.9zM101.01 511.57h0.9v0.9h-0.9zM98.48 518.34h0.9v0.9h-0.9zM91.69 516.94h0.9v0.9h-0.9zM94.84 518.71h0.9v0.9h-0.9zM103.28 520.19h0.9v0.9h-0.9zM99.78 523.09h0.9v0.9h-0.9zM91.1 524.2h0.9v0.9h-0.9zM94.99 519.93h0.9v0.9h-0.9zM95.43 517.51h0.9v0.9h-0.9zM90.33 519.63h0.9v0.9h-0.9zM109.89 514.66h0.9v0.9h-0.9zM96.07 517.1h0.9v0.9h-0.9zM100.85 515.38h0.9v0.9h-0.9zM96.33 517.77h0.9v0.9h-0.9zM105.6 518.3h0.9v0.9h-0.9zM88.72 516.5h0.9v0.9h-0.9zM96.93 519.78h0.9v0.9h-0.9zM102.56 515h0.9v0.9h-0.9zM110.36 513.5h0.9v0.9h-0.9zM106.62 519.69h0.9v0.9h-0.9zM107.05 515.44h0.9v0.9h-0.9zM99.02 511.27h0.9v0.9h-0.9zM83.86 517.61h0.9v0.9h-0.9zM101.77 519.49h0.9v0.9h-0.9zM96.24 520.58h0.9v0.9h-0.9zM101.14 521.19h0.9v0.9h-0.9zM84.97 516.63h0.9v0.9h-0.9zM89.08 515.02h0.9v0.9h-0.9zM106.62 511.7h0.9v0.9h-0.9zM90.38 516.94h0.9v0.9h-0.9zM101.82 514.3h0.9v0.9h-0.9zM101.53 517.8h0.9v0.9h-0.9zM90.29 510.28h0.9v0.9h-0.9zM89.2 514.31h0.9v0.9h-0.9zM106.68 512.39h0.9v0.9h-0.9zM89.29 519.81h0.9v0.9h-0.9zM95.93 513.93h0.9v0.9h-0.9zM104.19 518.47h0.9v0.9h-0.9zM97.56 514.19h0.9v0.9h-0.9zM88.94 511.63h0.9v0.9h-0.9zM99.05 517.78h0.9v0.9h-0.9zM90.06 518.45h0.9v0.9h-0.9zM117.42 508.71h0.9v0.9h-0.9zM85.18 521.47h0.9v0.9h-0.9zM93.01 516.05h0.9v0.9h-0.9zM100.29 515.74h0.9v0.9h-0.9zM103.24 517.31h0.9v0.9h-0.9zM104.08 515.78h0.9v0.9h-0.9zM82.67 524.54h0.9v0.9h-0.9zM85.51 522.87h0.9v0.9h-0.9zM96.94 512.17h0.9v0.9h-0.9zM97.27 519.82h0.9v0.9h-0.9zM89.38 518.64h0.9v0.9h-0.9zM90.56 514.83h0.9v0.9h-0.9zM92.95 522.07h0.9v0.9h-0.9zM100.8 515.97h0.9v0.9h-0.9zM95.75 517.57h0.9v0.9h-0.9zM98.26 517.23h0.9v0.9h-0.9zM85.31 522.49h0.9v0.9h-0.9zM88.66 509.79h0.9v0.9h-0.9zM100.1 512.11h0.9v0.9h-0.9zM95.19 516.94h0.9v0.9h-0.9zM92.61 519.63h0.9v0.9h-0.9zM94.19 516.52h0.9v0.9h-0.9zM89.6 517.49h0.9v0.9h-0.9zM89.28 518.66h0.9v0.9h-0.9zM105.8 518.43h0.9v0.9h-0.9zM98.14 511.99h0.9v0.9h-0.9zM103.77 518.61h0.9v0.9h-0.9zM108.51 506.77h0.9v0.9h-0.9zM96.09 515.93h0.9v0.9h-0.9zM102.77 511.94h0.9v0.9h-0.9zM95.26 525.13h0.9v0.9h-0.9zM101.52 509.12h0.9v0.9h-0.9zM97.3 521.46h0.9v0.9h-0.9zM92.47 519.86h0.9v0.9h-0.9zM95.86 512.13h0.9v0.9h-0.9zM92.78 521.63h0.9v0.9h-0.9zM103.76 513.38h0.9v0.9h-0.9zM103.29 513.1h0.9v0.9h-0.9zM97.85 516.61h0.9v0.9h-0.9zM88.02 519.87h0.9v0.9h-0.9zM91.69 508.64h0.9v0.9h-0.9zM90.04 515.46h0.9v0.9h-0.9zM89.91 515.04h0.9v0.9h-0.9zM89.87 510.02h0.9v0.9h-0.9zM102.25 515.99h0.9v0.9h-0.9zM97.73 515.79h0.9v0.9h-0.9zM96.45 516.08h0.9v0.9h-0.9zM87.81 513.63h0.9v0.9h-0.9zM97.41 520.24h0.9v0.9h-0.9zM98.9 521.95h0.9v0.9h-0.9zM86.83 518.11h0.9v0.9h-0.9zM92.9 521.93h0.9v0.9h-0.9zM107.26 512.89h0.9v0.9h-0.9zM100.96 515.18h0.9v0.9h-0.9zM89.4 518.09h0.9v0.9h-0.9zM90.27 523.57h0.9v0.9h-0.9zM101.01 520.06h0.9v0.9h-0.9zM96.93 508.56h0.9v0.9h-0.9zM101.67 516.17h0.9v0.9h-0.9zM80.22 520.76h0.9v0.9h-0.9zM104.2 521.16h0.9v0.9h-0.9zM89.86 521.06h0.9v0.9h-0.9zM98.33 515.98h0.9v0.9h-0.9zM94.66 519.15h0.9v0.9h-0.9zM100.55 518.34h0.9v0.9h-0.9zM92.54 513.29h0.9v0.9h-0.9zM105.99 519.38h0.9v0.9h-0.9zM92.38 517.72h0.9v0.9h-0.9zM100.42 510.11h0.9v0.9h-0.9zM101.25 524.22h0.9v0.9h-0.9zM97.54 514.32h0.9v0.9h-0.9zM109.97 514.12h0.9v0.9h-0.9zM97.33 515.32h0.9v0.9h-0.9zM96.17 510.88h0.9v0.9h-0.9zM86.54 514.02h0.9v0.9h-0.9zM102.21 515.42h0.9v0.9h-0.9zM102.55 508.68h0.9v0.9h-0.9zM93.18 522.64h0.9v0.9h-0.9zM89.57 512.04h0.9v0.9h-0.9zM90.94 516.95h0.9v0.9h-0.9zM97.02 521.3h0.9v0.9h-0.9zM106.23 520.2h0.9v0.9h-0.9zM99.77 514.53h0.9v0.9h-0.9zM91.84 512.87h0.9v0.9h-0.9zM105.64 519.3h0.9v0.9h-0.9zM96.18 513.96h0.9v0.9h-0.9zM101.09 517.65h0.9v0.9h-0.9zM96.43 512.98h0.9v0.9h-0.9zM97.42 514.81h0.9v0.9h-0.9zM101.59 517.91h0.9v0.9h-0.9zM98.87 514.98h0.9v0.9h-0.9zM106.99 517.37h0.9v0.9h-0.9zM105.32 517.94h0.9v0.9h-0.9zM100.94 517.34h0.9v0.9h-0.9zM87.74 512.57h0.9v0.9h-0.9zM90.33 520.36h0.9v0.9h-0.9zM102.46 516.3h0.9v0.9h-0.9zM98.08 522.9h0.9v0.9h-0.9zM92.28 511.72h0.9v0.9h-0.9zM85.57 518.16h0.9v0.9h-0.9zM101.42 518.42h0.9v0.9h-0.9zM95.28 520h0.9v0.9h-0.9zM95.37 514.7h0.9v0.9h-0.9zM94.18 520.02h0.9v0.9h-0.9zM101.83 511.95h0.9v0.9h-0.9zM89.64 518.82h0.9v0.9h-0.9zM109.67 510.13h0.9v0.9h-0.9zM88.08 520.17h0.9v0.9h-0.9zM99.2 514.27h0.9v0.9h-0.9zM96.37 518.63h0.9v0.9h-0.9zM84.47 519.42h0.9v0.9h-0.9zM100.88 519.18h0.9v0.9h-0.9zM103.98 515.11h0.9v0.9h-0.9zM87.46 523.47h0.9v0.9h-0.9zM100.94 513.81h0.9v0.9h-0.9zM103.88 518.93h0.9v0.9h-0.9zM93.62 509.46h0.9v0.9h-0.9zM92.53 515.19h0.9v0.9h-0.9zM90.53 517.93h0.9v0.9h-0.9zM89.22 519.82h0.9v0.9h-0.9zM108.05 510.4h0.9v0.9h-0.9zM102.82 513.77h0.9v0.9h-0.9zM99.76 515.81h0.9v0.9h-0.9zM104.32 512.84h0.9v0.9h-0.9zM100.58 513.41h0.9v0.9h-0.9zM97.73 516.63h0.9v0.9h-0.9zM102.41 510.27h0.9v0.9h-0.9zM88.12 523.49h0.9v0.9h-0.9zM99.98 522.02h0.9v0.9h-0.9zM89.44 519.16h0.9v0.9h-0.9zM101.48 521.94h0.9v0.9h-0.9zM95.53 515.61h0.9v0.9h-0.9zM100.93 515.65h0.9v0.9h-0.9zM91.71 520.57h0.9v0.9h-0.9zM82.73 516.39h0.9v0.9h-0.9zM104.98 513.42h0.9v0.9h-0.9zM94.29 518.68h0.9v0.9h-0.9zM104.09 517.14h0.9v0.9h-0.9zM89.35 516.51h0.9v0.9h-0.9zM103.15 515.12h0.9v0.9h-0.9zM92.59 520.77h0.9v0.9h-0.9zM105.37 522.52h0.9v0.9h-0.9zM88.5 516.21h0.9v0.9h-0.9zM91.81 519.15h0.9v0.9h-0.9zM93.79 521.34h0.9v0.9h-0.9zM78.88 523.98h0.9v0.9h-0.9zM91.71 517.01h0.9v0.9h-0.9zM100.15 516.86h0.9v0.9h-0.9zM90.47 523.37h0.9v0.9h-0.9zM99.72 514.57h0.9v0.9h-0.9zM96.83 513.07h0.9v0.9h-0.9zM87.78 517.76h0.9v0.9h-0.9zM98.72 516.82h0.9v0.9h-0.9zM90.05 513.56h0.9v0.9h-0.9zM86.1 524.63h0.9v0.9h-0.9zM98.11 513.85h0.9v0.9h-0.9zM104.51 517.09h0.9v0.9h-0.9zM93.01 515.57h0.9v0.9h-0.9zM104.04 516.46h0.9v0.9h-0.9zM107.38 515.87h0.9v0.9h-0.9zM91.88 515.86h0.9v0.9h-0.9zM91.68 518.83h0.9v0.9h-0.9zM98.32 518.63h0.9v0.9h-0.9zM98.48 512.91h0.9v0.9h-0.9zM94.18 514.2h0.9v0.9h-0.9zM98.5 512h0.9v0.9h-0.9zM91.72 515.01h0.9v0.9h-0.9zM91.9 517.03h0.9v0.9h-0.9zM106.11 514.02h0.9v0.9h-0.9zM86.42 518.04h0.9v0.9h-0.9zM101.58 517.76h0.9v0.9h-0.9zM99.19 523.2h0.9v0.9h-0.9zM103.67 515.73h0.9v0.9h-0.9zM103.38 510.88h0.9v0.9h-0.9zM94.47 514.4h0.9v0.9h-0.9zM98.52 522.06h0.9v0.9h-0.9zM94.01 522.93h0.9v0.9h-0.9zM90.39 523.13h0.9v0.9h-0.9zM84.32 516.61h0.9v0.9h-0.9zM102.79 515.29h0.9v0.9h-0.9zM97.16 516.75h0.9v0.9h-0.9zM97.28 516.16h0.9v0.9h-0.9zM89.48 517.43h0.9v0.9h-0.9zM96.31 513.89h0.9v0.9h-0.9zM100.54 522.13h0.9v0.9h-0.9zM84.9 517.53h0.9v0.9h-0.9zM94.35 517.46h0.9v0.9h-0.9zM96.33 514.48h0.9v0.9h-0.9zM95.98 517.07h0.9v0.9h-0.9zM96.7 522.18h0.9v0.9h-0.9zM96.04 511.97h0.9v0.9h-0.9zM86.19 521.16h0.9v0.9h-0.9zM93.5 515.45h0.9v0.9h-0.9zM86.97 517.9h0.9v0.9h-0.9zM95.12 514.88h0.9v0.9h-0.9zM94.48 520.41h0.9v0.9h-0.9zM101.8 517.69h0.9v0.9h-0.9zM94.1 512.79h0.9v0.9h-0.9zM102.41 520.82h0.9v0.9h-0.9zM105.5 519.02h0.9v0.9h-0.9zM98.31 517.84h0.9v0.9h-0.9zM96.99 521.14h0.9v0.9h-0.9zM95.91 524.43h0.9v0.9h-0.9zM101.15 514.84h0.9v0.9h-0.9zM95.07 511.72h0.9v0.9h-0.9zM91.12 517.05h0.9v0.9h-0.9zM111.92 510.87h0.9v0.9h-0.9zM102.36 515.95h0.9v0.9h-0.9zM94.67 519.47h0.9v0.9h-0.9zM83.61 522.92h0.9v0.9h-0.9zM109.28 515.24h0.9v0.9h-0.9zM95.9 517.61h0.9v0.9h-0.9zM100.27 514.45h0.9v0.9h-0.9zM97.36 518.49h0.9v0.9h-0.9zM94.15 518.77h0.9v0.9h-0.9zM98.92 518.88h0.9v0.9h-0.9zM89.27 516.64h0.9v0.9h-0.9zM94.2 521.54h0.9v0.9h-0.9zM96.71 511.22h0.9v0.9h-0.9zM89.07 525.18h0.9v0.9h-0.9zM97.55 512.27h0.9v0.9h-0.9zM90.25 518.75h0.9v0.9h-0.9zM106.82 520.3h0.9v0.9h-0.9zM93.57 516.53h0.9v0.9h-0.9zM108.28 511.06h0.9v0.9h-0.9zM106.83 515.9h0.9v0.9h-0.9zM97.73 521.1h0.9v0.9h-0.9zM98.83 513.57h0.9v0.9h-0.9zM86.08 519.21h0.9v0.9h-0.9zM100.56 520.77h0.9v0.9h-0.9zM79.77 525.1h0.9v0.9h-0.9zM101.38 521.11h0.9v0.9h-0.9zM101.65 516.58h0.9v0.9h-0.9zM99.35 517.7h0.9v0.9h-0.9zM91.95 517.51h0.9v0.9h-0.9zM96.74 515.34h0.9v0.9h-0.9zM85.45 514.32h0.9v0.9h-0.9zM99.92 518h0.9v0.9h-0.9zM96.11 513h0.9v0.9h-0.9zM101.59 514.51h0.9v0.9h-0.9zM83.5 525.08h0.9v0.9h-0.9zM87.86 526.52h0.9v0.9h-0.9zM99.44 514.8h0.9v0.9h-0.9zM80.08 518.01h0.9v0.9h-0.9zM107 519.38h0.9v0.9h-0.9zM96.73 511h0.9v0.9h-0.9zM93.47 516.61h0.9v0.9h-0.9zM99.19 515.94h0.9v0.9h-0.9zM97.36 511.15h0.9v0.9h-0.9zM92.93 522.65h0.9v0.9h-0.9zM87.19 522.09h0.9v0.9h-0.9zM112.01 515.88h0.9v0.9h-0.9zM87.84 523.06h0.9v0.9h-0.9zM84.11 520.73h0.9v0.9h-0.9zM94.35 521.65h0.9v0.9h-0.9zM104.17 515.96h0.9v0.9h-0.9zM108.8 517.7h0.9v0.9h-0.9zM92.34 514.44h0.9v0.9h-0.9zM112.28 512.19h0.9v0.9h-0.9zM98.86 516.04h0.9v0.9h-0.9zM91.93 512.37h0.9v0.9h-0.9zM95.16 516.83h0.9v0.9h-0.9zM102.37 513.92h0.9v0.9h-0.9zM85.05 515.68h0.9v0.9h-0.9zM96.11 517.88h0.9v0.9h-0.9zM100.75 514.72h0.9v0.9h-0.9zM99.89 516.71h0.9v0.9h-0.9zM107.39 514.43h0.9v0.9h-0.9zM97.56 518.66h0.9v0.9h-0.9zM103.66 512.24h0.9v0.9h-0.9zM92.86 516.76h0.9v0.9h-0.9zM82.94 524.31h0.9v0.9h-0.9zM103.35 515.56h0.9v0.9h-0.9zM119.48 516.43h0.9v0.9h-0.9zM110.75 519.32h0.9v0.9h-0.9zM101.23 511.05h0.9v0.9h-0.9zM106.68 516.22h0.9v0.9h-0.9zM88.28 518.87h0.9v0.9h-0.9zM101.91 519.18h0.9v0.9h-0.9zM97 515.03h0.9v0.9h-0.9zM100.76 513.41h0.9v0.9h-0.9zM96.22 519.63h0.9v0.9h-0.9zM86.89 520.27h0.9v0.9h-0.9zM82.53 516.71h0.9v0.9h-0.9zM87.95 518.44h0.9v0.9h-0.9zM100.92 515.82h0.9v0.9h-0.9zM102.34 516.03h0.9v0.9h-0.9zM95.18 518.91h0.9v0.9h-0.9zM94.71 517.78h0.9v0.9h-0.9zM102.73 513.65h0.9v0.9h-0.9zM103.09 511.72h0.9v0.9h-0.9zM93.53 511.58h0.9v0.9h-0.9zM93.79 522.99h0.9v0.9h-0.9zM99.47 520.69h0.9v0.9h-0.9zM85.72 515.74h0.9v0.9h-0.9zM99.89 519.07h0.9v0.9h-0.9zM100.59 510.29h0.9v0.9h-0.9zM99.55 516.04h0.9v0.9h-0.9zM97.34 518.4h0.9v0.9h-0.9zM93.15 511.81h0.9v0.9h-0.9zM88.07 513.74h0.9v0.9h-0.9zM87.35 518.42h0.9v0.9h-0.9zM104.4 512.79h0.9v0.9h-0.9zM90.31 514.29h0.9v0.9h-0.9zM84.74 519.67h0.9v0.9h-0.9zM92.8 516.89h0.9v0.9h-0.9zM90.14 519.97h0.9v0.9h-0.9zM88.58 520.51h0.9v0.9h-0.9zM92.35 520.54h0.9v0.9h-0.9zM90.6 519.72h0.9v0.9h-0.9zM99.08 516.11h0.9v0.9h-0.9zM107.21 515.27h0.9v0.9h-0.9zM90.77 520.54h0.9v0.9h-0.9zM90.33 516.38h0.9v0.9h-0.9zM96.41 517.58h0.9v0.9h-0.9zM106.34 508.82h0.9v0.9h-0.9zM95.28 521.1h0.9v0.9h-0.9zM95.36 518.29h0.9v0.9h-0.9zM105.51 510.77h0.9v0.9h-0.9zM97.05 519.56h0.9v0.9h-0.9zM91.06 512.04h0.9v0.9h-0.9zM89.68 519.06h0.9v0.9h-0.9zM98.76 522.82h0.9v0.9h-0.9zM103.96 510h0.9v0.9h-0.9zM103.76 518.55h0.9v0.9h-0.9zM106.9 514.2h0.9v0.9h-0.9zM92.59 518.27h0.9v0.9h-0.9zM106.95 516.87h0.9v0.9h-0.9zM108.07 517.2h0.9v0.9h-0.9zM91.57 514.49h0.9v0.9h-0.9zM107.49 509.37h0.9v0.9h-0.9zM93.64 516.45h0.9v0.9h-0.9zM89.72 516.4h0.9v0.9h-0.9zM97.91 524.86h0.9v0.9h-0.9zM95.4 515.36h0.9v0.9h-0.9zM97.69 519.93h0.9v0.9h-0.9zM90.47 516.81h0.9v0.9h-0.9zM85.04 521.8h0.9v0.9h-0.9zM101.8 521h0.9v0.9h-0.9zM89.74 525.9h0.9v0.9h-0.9zM101.83 514.85h0.9v0.9h-0.9zM93.37 516.53h0.9v0.9h-0.9zM88.65 521.27h0.9v0.9h-0.9zM91.64 515.47h0.9v0.9h-0.9zM99.73 516.64h0.9v0.9h-0.9zM92.14 517.05h0.9v0.9h-0.9zM93.87 522.16h0.9v0.9h-0.9zM102.38 513.17h0.9v0.9h-0.9zM96.9 521.6h0.9v0.9h-0.9zM95.54 523.31h0.9v0.9h-0.9zM99.64 518.59h0.9v0.9h-0.9zM82.93 522.76h0.9v0.9h-0.9zM98.88 518.45h0.9v0.9h-0.9zM99.78 518.06h0.9v0.9h-0.9zM93.44 520.71h0.9v0.9h-0.9zM95.88 513.43h0.9v0.9h-0.9zM89.52 518.98h0.9v0.9h-0.9zM96.89 509.21h0.9v0.9h-0.9zM83.16 523.41h0.9v0.9h-0.9zM98.13 526.46h0.9v0.9h-0.9zM85.79 518.35h0.9v0.9h-0.9zM92.59 519.7h0.9v0.9h-0.9zM106.75 520.35h0.9v0.9h-0.9zM90.33 522.53h0.9v0.9h-0.9zM88.3 519.75h0.9v0.9h-0.9zM97.78 518.82h0.9v0.9h-0.9zM91.8 522.57h0.9v0.9h-0.9zM95.73 517.03h0.9v0.9h-0.9zM93.67 513.84h0.9v0.9h-0.9zM101.26 517.09h0.9v0.9h-0.9zM100.56 522.54h0.9v0.9h-0.9zM90.21 517.29h0.9v0.9h-0.9zM96.85 519.83h0.9v0.9h-0.9zM95.67 520.35h0.9v0.9h-0.9zM98.01 510.51h0.9v0.9h-0.9zM90.21 511.23h0.9v0.9h-0.9zM94 516.02h0.9v0.9h-0.9zM100.26 516.73h0.9v0.9h-0.9zM96.66 521.28h0.9v0.9h-0.9zM99.31 512.07h0.9v0.9h-0.9zM91.82 519.07h0.9v0.9h-0.9zM107.44 513.92h0.9v0.9h-0.9zM95.25 518.12h0.9v0.9h-0.9zM101.37 515.59h0.9v0.9h-0.9zM97.87 515.18h0.9v0.9h-0.9zM91.96 515.15h0.9v0.9h-0.9zM100.21 514.22h0.9v0.9h-0.9zM100.16 517.57h0.9v0.9h-0.9zM100.81 506.7h0.9v0.9h-0.9zM88.88 514.32h0.9v0.9h-0.9zM95.67 519.91h0.9v0.9h-0.9zM114.23 518.53h0.9v0.9h-0.9zM105.55 516.34h0.9v0.9h-0.9zM93.99 519.33h0.9v0.9h-0.9zM82.3 523.19h0.9v0.9h-0.9zM96.69 519.04h0.9v0.9h-0.9zM88.54 514.82h0.9v0.9h-0.9zM91.87 517.77h0.9v0.9h-0.9zM98.28 515.32h0.9v0.9h-0.9zM99.02 518.77h0.9v0.9h-0.9zM88.37 518.31h0.9v0.9h-0.9zM85.4 517.39h0.9v0.9h-0.9zM101.75 513.34h0.9v0.9h-0.9zM109.02 516.03h0.9v0.9h-0.9zM102.22 516.08h0.9v0.9h-0.9zM102.76 519.41h0.9v0.9h-0.9zM96.54 515.09h0.9v0.9h-0.9zM93.89 524.2h0.9v0.9h-0.9zM94.65 515.74h0.9v0.9h-0.9zM90.27 512.4h0.9v0.9h-0.9zM93.09 518.79h0.9v0.9h-0.9zM92.41 515.17h0.9v0.9h-0.9zM99.27 517.95h0.9v0.9h-0.9zM93.5 518.65h0.9v0.9h-0.9zM90.3 521.25h0.9v0.9h-0.9zM89.37 517.28h0.9v0.9h-0.9zM96.81 515.41h0.9v0.9h-0.9zM90.03 525.61h0.9v0.9h-0.9zM105.11 509.04h0.9v0.9h-0.9zM96.12 512.61h0.9v0.9h-0.9zM97.36 512.22h0.9v0.9h-0.9zM100.46 517.94h0.9v0.9h-0.9zM108.48 518.58h0.9v0.9h-0.9zM93.81 520.8h0.9v0.9h-0.9zM93.05 517.28h0.9v0.9h-0.9zM91.61 511.84h0.9v0.9h-0.9zM98.8 509.37h0.9v0.9h-0.9zM95 519.09h0.9v0.9h-0.9zM95.85 511.59h0.9v0.9h-0.9zM92.34 520.19h0.9v0.9h-0.9zM104.69 520.75h0.9v0.9h-0.9zM84.39 521.11h0.9v0.9h-0.9zM93.52 520.23h0.9v0.9h-0.9zM84.81 518.93h0.9v0.9h-0.9zM100.48 513.85h0.9v0.9h-0.9zM93.08 514.25h0.9v0.9h-0.9zM102.72 510.99h0.9v0.9h-0.9zM89.86 517.19h0.9v0.9h-0.9zM95.58 524.49h0.9v0.9h-0.9zM97.45 513.84h0.9v0.9h-0.9zM100.33 517.32h0.9v0.9h-0.9zM98.04 516.38h0.9v0.9h-0.9zM98.46 512.44h0.9v0.9h-0.9zM87.86 517.29h0.9v0.9h-0.9zM89.31 520.91h0.9v0.9h-0.9zM110.06 518.36h0.9v0.9h-0.9zM99.43 517.49h0.9v0.9h-0.9zM90.7 513.64h0.9v0.9h-0.9zM98.82 511.29h0.9v0.9h-0.9zM98.12 516.1h0.9v0.9h-0.9zM101.26 516.1h0.9v0.9h-0.9zM96.5 514.91h0.9v0.9h-0.9zM84.44 518.3h0.9v0.9h-0.9zM101.6 519.5h0.9v0.9h-0.9zM104.72 511.72h0.9v0.9h-0.9zM90.43 520.67h0.9v0.9h-0.9zM94.99 526.22h0.9v0.9h-0.9zM97.23 511.49h0.9v0.9h-0.9zM93.6 523.02h0.9v0.9h-0.9zM84.1 520.1h0.9v0.9h-0.9zM88.06 524.31h0.9v0.9h-0.9zM92.48 514.2h0.9v0.9h-0.9zM84.27 517.05h0.9v0.9h-0.9zM78.77 519.05h0.9v0.9h-0.9zM110.86 514.23h0.9v0.9h-0.9zM93.6 513.51h0.9v0.9h-0.9zM98.15 514.94h0.9v0.9h-0.9zM91.51 522.82h0.9v0.9h-0.9zM98.51 513.41h0.9v0.9h-0.9zM106.06 514.71h0.9v0.9h-0.9zM99.67 516.78h0.9v0.9h-0.9zM104.53 517.38h0.9v0.9h-0.9zM94.38 519.89h0.9v0.9h-0.9zM93.68 518h0.9v0.9h-0.9zM106.43 511.13h0.9v0.9h-0.9zM88.99 517.13h0.9v0.9h-0.9zM93.78 522.05h0.9v0.9h-0.9zM87.17 526.92h0.9v0.9h-0.9zM106.49 513.24h0.9v0.9h-0.9zM97.19 515.53h0.9v0.9h-0.9zM101.17 518.25h0.9v0.9h-0.9zM101.78 518.48h0.9v0.9h-0.9zM109.02 513.68h0.9v0.9h-0.9zM100.75 515.38h0.9v0.9h-0.9zM96.62 517.68h0.9v0.9h-0.9zM96.1 518.23h0.9v0.9h-0.9zM90.39 517.7h0.9v0.9h-0.9zM91.32 513.96h0.9v0.9h-0.9zM91.11 516.35h0.9v0.9h-0.9zM94.1 512h0.9v0.9h-0.9zM93.68 513.6h0.9v0.9h-0.9zM90.86 518.8h0.9v0.9h-0.9zM103.83 516.38h0.9v0.9h-0.9zM92.61 516.23h0.9v0.9h-0.9zM104.02 509.67h0.9v0.9h-0.9zM102.77 510.36h0.9v0.9h-0.9zM91.99 518.06h0.9v0.9h-0.9zM95.9 522.87h0.9v0.9h-0.9zM99.48 516.14h0.9v0.9h-0.9zM102.61 515.77h0.9v0.9h-0.9zM91.6 521.9h0.9v0.9h-0.9zM107.15 519.14h0.9v0.9h-0.9zM89.68 525.04h0.9v0.9h-0.9zM93.95 520.16h0.9v0.9h-0.9zM105.88 523.25h0.9v0.9h-0.9zM84.65 515.89h0.9v0.9h-0.9zM104.46 516.97h0.9v0.9h-0.9zM92.03 507.67h0.9v0.9h-0.9zM99.02 515.75h0.9v0.9h-0.9zM80.6 529.67h0.9v0.9h-0.9zM79.04 518.7h0.9v0.9h-0.9zM96.33 517.79h0.9v0.9h-0.9zM101.07 515.04h0.9v0.9h-0.9zM89.93 517.07h0.9v0.9h-0.9zM81.31 516.26h0.9v0.9h-0.9zM108.96 511.89h0.9v0.9h-0.9zM97.01 523.46h0.9v0.9h-0.9zM103.35 515.91h0.9v0.9h-0.9zM100.94 515.05h0.9v0.9h-0.9zM90.84 521.64h0.9v0.9h-0.9zM98.24 522.16h0.9v0.9h-0.9zM94.17 516.12h0.9v0.9h-0.9zM98.38 515.87h0.9v0.9h-0.9zM93.48 514.45h0.9v0.9h-0.9zM98.14 517.72h0.9v0.9h-0.9zM108.46 514.3h0.9v0.9h-0.9zM84.75 521.06h0.9v0.9h-0.9zM111.25 512.26h0.9v0.9h-0.9zM90.71 517.59h0.9v0.9h-0.9zM76.77 519.96h0.9v0.9h-0.9zM93.86 512.21h0.9v0.9h-0.9zM99.45 513.25h0.9v0.9h-0.9zM83.28 517.23h0.9v0.9h-0.9zM101.82 522.53h0.9v0.9h-0.9zM104.74 515.87h0.9v0.9h-0.9zM92.58 516.86h0.9v0.9h-0.9zM102.33 513.88h0.9v0.9h-0.9zM99.69 519.64h0.9v0.9h-0.9zM89.7 516.32h0.9v0.9h-0.9zM99.22 516.39h0.9v0.9h-0.9zM94.99 515.41h0.9v0.9h-0.9zM97.09 523.3h0.9v0.9h-0.9zM104.18 509.66h0.9v0.9h-0.9zM96.59 517.24h0.9v0.9h-0.9zM95.46 512.32h0.9v0.9h-0.9zM95.43 517.68h0.9v0.9h-0.9zM91.84 519.02h0.9v0.9h-0.9zM78.76 515.43h0.9v0.9h-0.9zM97.16 518.16h0.9v0.9h-0.9zM94.76 515.7h0.9v0.9h-0.9zM98.22 520.36h0.9v0.9h-0.9zM102.18 515.45h0.9v0.9h-0.9zM93.83 521.22h0.9v0.9h-0.9zM100.47 519.19h0.9v0.9h-0.9zM93.73 514.51h0.9v0.9h-0.9zM97.01 514.64h0.9v0.9h-0.9zM104.54 518.22h0.9v0.9h-0.9zM82.02 522.35h0.9v0.9h-0.9zM105.89 518.58h0.9v0.9h-0.9zM92.41 514.79h0.9v0.9h-0.9zM103.44 519.01h0.9v0.9h-0.9zM95.78 513.05h0.9v0.9h-0.9zM86.13 520.08h0.9v0.9h-0.9zM90.16 515.9h0.9v0.9h-0.9zM99.93 519.88h0.9v0.9h-0.9zM81.85 517.7h0.9v0.9h-0.9zM104.9 515h0.9v0.9h-0.9zM94.35 519.63h0.9v0.9h-0.9zM87.68 514.53h0.9v0.9h-0.9zM97.46 522.21h0.9v0.9h-0.9zM103.02 515.53h0.9v0.9h-0.9zM102.71 514.18h0.9v0.9h-0.9zM87.08 513.07h0.9v0.9h-0.9zM98.66 519.63h0.9v0.9h-0.9zM98.68 516.34h0.9v0.9h-0.9zM94.28 521.23h0.9v0.9h-0.9zM94.86 512.24h0.9v0.9h-0.9zM104.95 512.87h0.9v0.9h-0.9zM98.84 516.45h0.9v0.9h-0.9zM103.46 516.32h0.9v0.9h-0.9zM104.6 515.95h0.9v0.9h-0.9zM92.74 515.95h0.9v0.9h-0.9zM99.99 513.29h0.9v0.9h-0.9zM102.27 514.87h0.9v0.9h-0.9zM89.34 515.4h0.9v0.9h-0.9zM96.49 523.14h0.9v0.9h-0.9zM101.4 515.96h0.9v0.9h-0.9zM91.47 524.69h0.9v0.9h-0.9zM94.33 517.39h0.9v0.9h-0.9zM94.3 522.08h0.9v0.9h-0.9zM97.06 515.21h0.9v0.9h-0.9zM96.73 513.39h0.9v0.9h-0.9zM89.01 517.96h0.9v0.9h-0.9zM77.69 525.06h0.9v0.9h-0.9zM108.78 510.43h0.9v0.9h-0.9zM94.12 511.91h0.9v0.9h-0.9zM97.51 517.47h0.9v0.9h-0.9zM100.23 511.47h0.9v0.9h-0.9zM91.7 515.69h0.9v0.9h-0.9zM96.18 525.02h0.9v0.9h-0.9zM94.83 517.15h0.9v0.9h-0.9zM93.35 520.4h0.9v0.9h-0.9zM114.27 517.23h0.9v0.9h-0.9zM105.74 511.21h0.9v0.9h-0.9zM103.34 515.58h0.9v0.9h-0.9zM105.37 518.76h0.9v0.9h-0.9zM99.41 510.44h0.9v0.9h-0.9zM96.74 515.13h0.9v0.9h-0.9zM99.24 516.49h0.9v0.9h-0.9zM102.11 510.12h0.9v0.9h-0.9zM91.16 517.81h0.9v0.9h-0.9zM98.07 515.18h0.9v0.9h-0.9zM96.05 517.23h0.9v0.9h-0.9zM103.17 515.12h0.9v0.9h-0.9zM96.53 510.55h0.9v0.9h-0.9zM77.54 515.83h0.9v0.9h-0.9zM96.96 508.75h0.9v0.9h-0.9zM98.89 516.09h0.9v0.9h-0.9zM95.7 514.54h0.9v0.9h-0.9zM93.97 520.39h0.9v0.9h-0.9zM98.59 516.4h0.9v0.9h-0.9zM93.06 518.41h0.9v0.9h-0.9zM104.2 515.23h0.9v0.9h-0.9zM92.89 513.56h0.9v0.9h-0.9zM96.21 513.77h0.9v0.9h-0.9zM87.14 521.98h0.9v0.9h-0.9zM90.55 511.05h0.9v0.9h-0.9zM92.68 524.22h0.9v0.9h-0.9zM94.54 512.7h0.9v0.9h-0.9zM89.29 521h0.9v0.9h-0.9zM99.09 517.14h0.9v0.9h-0.9zM95.23 518.91h0.9v0.9h-0.9zM106.92 516.43h0.9v0.9h-0.9zM94.09 512.53h0.9v0.9h-0.9zM100.32 521.63h0.9v0.9h-0.9zM99.67 511.85h0.9v0.9h-0.9zM98.38 521.11h0.9v0.9h-0.9zM92.28 519.57h0.9v0.9h-0.9zM105.52 520.77h0.9v0.9h-0.9zM84.23 513.4h0.9v0.9h-0.9zM99.23 518.83h0.9v0.9h-0.9zM93.8 517.44h0.9v0.9h-0.9zM94.31 521.62h0.9v0.9h-0.9zM81.47 521.03h0.9v0.9h-0.9zM87.09 516.55h0.9v0.9h-0.9zM85.22 516.13h0.9v0.9h-0.9zM96.06 517.12h0.9v0.9h-0.9zM108.09 513.7h0.9v0.9h-0.9zM98.79 517.7h0.9v0.9h-0.9zM98.99 521.57h0.9v0.9h-0.9zM97.24 517.31h0.9v0.9h-0.9zM95.44 517.18h0.9v0.9h-0.9zM96.54 520.43h0.9v0.9h-0.9zM96.38 517.2h0.9v0.9h-0.9zM96.42 519.62h0.9v0.9h-0.9zM93.69 520.84h0.9v0.9h-0.9zM92.84 520.16h0.9v0.9h-0.9zM109.32 515.03h0.9v0.9h-0.9zM94.77 513.15h0.9v0.9h-0.9zM101.2 515.98h0.9v0.9h-0.9zM101.87 513.48h0.9v0.9h-0.9zM101.01 522.34h0.9v0.9h-0.9zM98.68 515.32h0.9v0.9h-0.9zM87.41 518.84h0.9v0.9h-0.9zM101.08 518.07h0.9v0.9h-0.9zM87.92 515.14h0.9v0.9h-0.9zM88.88 514.96h0.9v0.9h-0.9zM94.53 518.29h0.9v0.9h-0.9zM109.33 514.9h0.9v0.9h-0.9zM104.83 509.34h0.9v0.9h-0.9zM107.19 517.48h0.9v0.9h-0.9zM99.77 519.15h0.9v0.9h-0.9zM101.74 522.57h0.9v0.9h-0.9zM100.39 509.97h0.9v0.9h-0.9zM85.55 524.95h0.9v0.9h-0.9zM96.58 521.58h0.9v0.9h-0.9zM93.42 515.28h0.9v0.9h-0.9zM94.11 518.56h0.9v0.9h-0.9zM97.02 514.64h0.9v0.9h-0.9zM100.27 518.31h0.9v0.9h-0.9zM89.2 514.56h0.9v0.9h-0.9zM82.72 518.78h0.9v0.9h-0.9zM95.77 514.64h0.9v0.9h-0.9zM92.03 517.41h0.9v0.9h-0.9zM96.81 518.89h0.9v0.9h-0.9zM102.14 517.28h0.9v0.9h-0.9zM103.07 512.12h0.9v0.9h-0.9zM100.57 517.39h0.9v0.9h-0.9zM88.66 516.21h0.9v0.9h-0.9zM99.25 516.62h0.9v0.9h-0.9zM87.3 516.94h0.9v0.9h-0.9zM107.12 517.66h0.9v0.9h-0.9zM97.72 521.44h0.9v0.9h-0.9zM89.94 517.73h0.9v0.9h-0.9zM102.44 514.49h0.9v0.9h-0.9zM89.06 520.59h0.9v0.9h-0.9zM105.21 506.12h0.9v0.9h-0.9zM96.35 512.55h0.9v0.9h-0.9zM93.17 512.65h0.9v0.9h-0.9zM113.31 510.96h0.9v0.9h-0.9zM95.99 514.55h0.9v0.9h-0.9zM89.18 516.89h0.9v0.9h-0.9zM98.86 522.63h0.9v0.9h-0.9zM99.27 521.88h0.9v0.9h-0.9zM89.04 518.77h0.9v0.9h-0.9zM92.12 512.33h0.9v0.9h-0.9zM121.25 510.82h0.9v0.9h-0.9zM97.31 514.1h0.9v0.9h-0.9zM91.56 514.33h0.9v0.9h-0.9zM102.85 514.16h0.9v0.9h-0.9zM95.35 517.82h0.9v0.9h-0.9zM88.07 519.55h0.9v0.9h-0.9zM95.36 518.75h0.9v0.9h-0.9zM93.62 517.69h0.9v0.9h-0.9zM100.4 519.52h0.9v0.9h-0.9zM92.24 521.28h0.9v0.9h-0.9zM89.39 517.78h0.9v0.9h-0.9zM97.19 517.3h0.9v0.9h-0.9zM78.6 517.28h0.9v0.9h-0.9zM95.62 520.39h0.9v0.9h-0.9zM92.52 523.12h0.9v0.9h-0.9zM84.06 519.85h0.9v0.9h-0.9zM99.86 516.28h0.9v0.9h-0.9zM98.66 519.78h0.9v0.9h-0.9zM91.17 520.15h0.9v0.9h-0.9zM103.23 514.68h0.9v0.9h-0.9zM79.68 516.3h0.9v0.9h-0.9zM89.66 514.65h0.9v0.9h-0.9zM98.54 513.66h0.9v0.9h-0.9zM113.39 515.36h0.9v0.9h-0.9zM87.16 517.91h0.9v0.9h-0.9zM107.03 517.1h0.9v0.9h-0.9zM90.05 521.97h0.9v0.9h-0.9zM94.58 525.17h0.9v0.9h-0.9zM92.89 519.81h0.9v0.9h-0.9zM99.7 514.69h0.9v0.9h-0.9zM96 521.14h0.9v0.9h-0.9zM99.53 516.08h0.9v0.9h-0.9zM100.46 522.28h0.9v0.9h-0.9zM102.85 517.27h0.9v0.9h-0.9zM97.31 511.24h0.9v0.9h-0.9zM96.77 515.16h0.9v0.9h-0.9zM100.72 513.89h0.9v0.9h-0.9zM98.48 512.8h0.9v0.9h-0.9zM101.73 513.25h0.9v0.9h-0.9zM96.42 519h0.9v0.9h-0.9zM94.02 517.49h0.9v0.9h-0.9zM104.65 521.46h0.9v0.9h-0.9zM83.34 516.54h0.9v0.9h-0.9zM101.45 519.21h0.9v0.9h-0.9zM93.06 518h0.9v0.9h-0.9zM96.53 524.98h0.9v0.9h-0.9zM93.99 513.26h0.9v0.9h-0.9zM84.78 514.92h0.9v0.9h-0.9zM104.74 513.81h0.9v0.9h-0.9zM109.85 516.36h0.9v0.9h-0.9zM99.26 518.63h0.9v0.9h-0.9zM102.21 518.97h0.9v0.9h-0.9zM89.2 516.52h0.9v0.9h-0.9zM92.57 518.14h0.9v0.9h-0.9zM93.62 513.19h0.9v0.9h-0.9zM92.79 524.04h0.9v0.9h-0.9zM109.94 511.05h0.9v0.9h-0.9zM98.75 516.33h0.9v0.9h-0.9zM90.99 520.63h0.9v0.9h-0.9zM96.93 522.74h0.9v0.9h-0.9zM99.07 515.29h0.9v0.9h-0.9zM78.22 520.46h0.9v0.9h-0.9zM101.43 513.37h0.9v0.9h-0.9zM102.67 518.04h0.9v0.9h-0.9zM84.11 518.88h0.9v0.9h-0.9zM98.91 519.09h0.9v0.9h-0.9zM97.24 516.73h0.9v0.9h-0.9zM93.65 516.52h0.9v0.9h-0.9zM95.46 513.4h0.9v0.9h-0.9zM100.31 514.98h0.9v0.9h-0.9zM99.37 514.54h0.9v0.9h-0.9zM99.07 516.84h0.9v0.9h-0.9zM102.56 517.28h0.9v0.9h-0.9zM102.39 515.1h0.9v0.9h-0.9zM95.64 516.2h0.9v0.9h-0.9zM87.63 518.38h0.9v0.9h-0.9zM104.11 518.04h0.9v0.9h-0.9zM90.66 519.24h0.9v0.9h-0.9zM100.31 511.33h0.9v0.9h-0.9zM98.8 517.61h0.9v0.9h-0.9zM101.45 516.79h0.9v0.9h-0.9zM82.98 512.69h0.9v0.9h-0.9zM109.34 512.81h0.9v0.9h-0.9zM105.72 519.44h0.9v0.9h-0.9zM95.97 513.01h0.9v0.9h-0.9zM105.43 514.91h0.9v0.9h-0.9zM100.06 517.87h0.9v0.9h-0.9zM103.38 519.05h0.9v0.9h-0.9zM85.58 514.29h0.9v0.9h-0.9zM97.17 516.83h0.9v0.9h-0.9zM101.36 515.43h0.9v0.9h-0.9zM96.43 524.11h0.9v0.9h-0.9zM106.33 518.94h0.9v0.9h-0.9zM102.65 512.85h0.9v0.9h-0.9zM95.57 516.89h0.9v0.9h-0.9zM88.17 515.64h0.9v0.9h-0.9zM96.42 512.67h0.9v0.9h-0.9zM100.21 517.81h0.9v0.9h-0.9zM94.36 516.2h0.9v0.9h-0.9zM100.62 517.75h0.9v0.9h-0.9zM97.8 512.35h0.9v0.9h-0.9zM86.69 526.24h0.9v0.9h-0.9zM91.52 516.71h0.9v0.9h-0.9zM83.28 516.93h0.9v0.9h-0.9zM91.82 520.74h0.9v0.9h-0.9zM77.32 516.08h0.9v0.9h-0.9zM93.06 515.94h0.9v0.9h-0.9zM90.64 516.63h0.9v0.9h-0.9zM85.72 520.17h0.9v0.9h-0.9zM104.39 515.8h0.9v0.9h-0.9zM93.48 522.03h0.9v0.9h-0.9zM98.76 512.83h0.9v0.9h-0.9zM91.89 515.77h0.9v0.9h-0.9zM96.76 521.15h0.9v0.9h-0.9zM91.33 517.52h0.9v0.9h-0.9zM96.11 512.83h0.9v0.9h-0.9zM93.41 519.75h0.9v0.9h-0.9zM102.52 509.06h0.9v0.9h-0.9zM100.78 515h0.9v0.9h-0.9zM105.37 517.24h0.9v0.9h-0.9zM109.75 515.21h0.9v0.9h-0.9zM92.93 514.77h0.9v0.9h-0.9zM86.91 520.92h0.9v0.9h-0.9zM100.28 519.02h0.9v0.9h-0.9zM97.5 511.46h0.9v0.9h-0.9zM93.28 516.77h0.9v0.9h-0.9zM97.83 519.35h0.9v0.9h-0.9zM106 515.92h0.9v0.9h-0.9zM81.51 516.53h0.9v0.9h-0.9zM81.21 517.5h0.9v0.9h-0.9zM88.26 519.53h0.9v0.9h-0.9zM95.5 521.07h0.9v0.9h-0.9zM103.18 513.92h0.9v0.9h-0.9zM102.61 515.68h0.9v0.9h-0.9zM100.25 520.87h0.9v0.9h-0.9zM88.38 518.43h0.9v0.9h-0.9zM106.07 512.22h0.9v0.9h-0.9zM97.75 517.14h0.9v0.9h-0.9zM92.45 513.2h0.9v0.9h-0.9zM90.86 514.69h0.9v0.9h-0.9zM103.7 516.28h0.9v0.9h-0.9zM100.1 512h0.9v0.9h-0.9zM99.7 516.76h0.9v0.9h-0.9zM102.78 513.07h0.9v0.9h-0.9zM102.67 520.44h0.9v0.9h-0.9zM107.74 511.29h0.9v0.9h-0.9zM87.56 513.7h0.9v0.9h-0.9zM103.14 517.61h0.9v0.9h-0.9zM97.9 513.6h0.9v0.9h-0.9zM105.83 520.59h0.9v0.9h-0.9zM95.88 516.65h0.9v0.9h-0.9zM104.61 516.99h0.9v0.9h-0.9zM105.01 513.71h0.9v0.9h-0.9zM98.26 515.38h0.9v0.9h-0.9zM92.14 516.82h0.9v0.9h-0.9zM94.64 519.1h0.9v0.9h-0.9zM94.2 517.67h0.9v0.9h-0.9zM89.86 514.05h0.9v0.9h-0.9zM105.17 511.65h0.9v0.9h-0.9zM109.15 517.54h0.9v0.9h-0.9zM80.26 518.15h0.9v0.9h-0.9zM93.4 517.67h0.9v0.9h-0.9zM94.57 515.23h0.9v0.9h-0.9zM104.59 514.77h0.9v0.9h-0.9zM102.23 513.32h0.9v0.9h-0.9zM92.49 522.46h0.9v0.9h-0.9zM93.52 513.72h0.9v0.9h-0.9zM95.81 520.77h0.9v0.9h-0.9zM94.61 514.83h0.9v0.9h-0.9zM101.21 519.38h0.9v0.9h-0.9zM94.58 516.23h0.9v0.9h-0.9zM95.67 526.58h0.9v0.9h-0.9zM96.18 523.12h0.9v0.9h-0.9zM95.5 518.57h0.9v0.9h-0.9zM82.56 520.52h0.9v0.9h-0.9zM96.34 515.86h0.9v0.9h-0.9zM92.48 513.02h0.9v0.9h-0.9zM86.26 519.7h0.9v0.9h-0.9zM91.82 517.62h0.9v0.9h-0.9zM94.63 515.56h0.9v0.9h-0.9zM92.61 524.26h0.9v0.9h-0.9zM88.39 516.88h0.9v0.9h-0.9zM93.39 513.56h0.9v0.9h-0.9zM90.34 521.27h0.9v0.9h-0.9zM102.61 516.1h0.9v0.9h-0.9zM118.72 515.11h0.9v0.9h-0.9zM103.97 512.5h0.9v0.9h-0.9zM104.74 521.08h0.9v0.9h-0.9zM94.94 523.6h0.9v0.9h-0.9zM89.96 514.36h0.9v0.9h-0.9zM95.34 514.37h0.9v0.9h-0.9zM99.74 512.39h0.9v0.9h-0.9zM95.39 510.33h0.9v0.9h-0.9zM96.75 520.56h0.9v0.9h-0.9zM94.65 518.42h0.9v0.9h-0.9zM102.81 511.76h0.9v0.9h-0.9zM87.68 519.1h0.9v0.9h-0.9zM97.91 515.7h0.9v0.9h-0.9zM90.53 522.45h0.9v0.9h-0.9zM88.17 517.8h0.9v0.9h-0.9zM96.45 519.48h0.9v0.9h-0.9zM92.61 514.9h0.9v0.9h-0.9zM109.23 511.28h0.9v0.9h-0.9zM101.51 515.34h0.9v0.9h-0.9zM92.97 517.53h0.9v0.9h-0.9zM94.71 518.41h0.9v0.9h-0.9zM79.01 520.56h0.9v0.9h-0.9zM96.02 513.65h0.9v0.9h-0.9zM95.26 525.37h0.9v0.9h-0.9zM109.16 516.49h0.9v0.9h-0.9zM97.58 515.64h0.9v0.9h-0.9zM105.29 513.51h0.9v0.9h-0.9zM91.17 520.49h0.9v0.9h-0.9zM89.13 515.74h0.9v0.9h-0.9zM104.87 509.55h0.9v0.9h-0.9zM95.87 517.49h0.9v0.9h-0.9zM96.94 511.76h0.9v0.9h-0.9zM94.45 516.21h0.9v0.9h-0.9zM109.93 517.59h0.9v0.9h-0.9zM91.74 521h0.9v0.9h-0.9zM100.57 515.68h0.9v0.9h-0.9zM94.39 516.43h0.9v0.9h-0.9zM85.35 517.11h0.9v0.9h-0.9zM103.58 520.48h0.9v0.9h-0.9zM108.49 513.08h0.9v0.9h-0.9zM98.68 508.07h0.9v0.9h-0.9zM93.51 513.16h0.9v0.9h-0.9zM100.61 510.27h0.9v0.9h-0.9zM88.4 514.8h0.9v0.9h-0.9zM99.5 519.23h0.9v0.9h-0.9zM91.3 524.34h0.9v0.9h-0.9zM96.72 513.98h0.9v0.9h-0.9zM98.58 516.45h0.9v0.9h-0.9zM102.09 516.95h0.9v0.9h-0.9zM111.86 517.76h0.9v0.9h-0.9zM92.48 520.54h0.9v0.9h-0.9zM100.66 512.56h0.9v0.9h-0.9zM90.6 515.37h0.9v0.9h-0.9zM80 522.67h0.9v0.9h-0.9zM95.65 521.42h0.9v0.9h-0.9zM92.51 518.05h0.9v0.9h-0.9zM101.82 519.19h0.9v0.9h-0.9zM97.66 513.06h0.9v0.9h-0.9zM111.74 516.73h0.9v0.9h-0.9zM106.58 520.44h0.9v0.9h-0.9zM106.02 516.37h0.9v0.9h-0.9zM99.88 518.42h0.9v0.9h-0.9zM86.66 521.87h0.9v0.9h-0.9zM89.96 519.8h0.9v0.9h-0.9zM89.92 520.83h0.9v0.9h-0.9zM94.72 526h0.9v0.9h-0.9zM97.9 518.42h0.9v0.9h-0.9zM89.92 517.33h0.9v0.9h-0.9zM95.65 516.12h0.9v0.9h-0.9zM92.68 514.7h0.9v0.9h-0.9zM101.12 514.62h0.9v0.9h-0.9zM91 519.38h0.9v0.9h-0.9zM90.64 517.58h0.9v0.9h-0.9zM92.13 514.64h0.9v0.9h-0.9zM94.14 514.57h0.9v0.9h-0.9zM88.04 519.97h0.9v0.9h-0.9zM93.21 512.54h0.9v0.9h-0.9zM93.71 518.18h0.9v0.9h-0.9zM99.4 517.63h0.9v0.9h-0.9zM98.38 518.62h0.9v0.9h-0.9zM92.35 515.04h0.9v0.9h-0.9zM100.1 514.74h0.9v0.9h-0.9zM96.78 519.15h0.9v0.9h-0.9zM103.45 519.73h0.9v0.9h-0.9zM91.35 516.74h0.9v0.9h-0.9zM98.99 511.42h0.9v0.9h-0.9zM88.19 520.82h0.9v0.9h-0.9zM91.46 514.79h0.9v0.9h-0.9zM102.05 517.61h0.9v0.9h-0.9zM102.21 514.57h0.9v0.9h-0.9zM94.07 516.27h0.9v0.9h-0.9zM96.82 509.8h0.9v0.9h-0.9zM92.09 520.34h0.9v0.9h-0.9zM90.95 517.89h0.9v0.9h-0.9zM97.47 518.55h0.9v0.9h-0.9zM92.25 513.9h0.9v0.9h-0.9zM112.58 511.03h0.9v0.9h-0.9zM106.54 508.69h0.9v0.9h-0.9zM96.87 516.18h0.9v0.9h-0.9zM110.47 521.07h0.9v0.9h-0.9zM102.13 512.21h0.9v0.9h-0.9zM90.31 515.64h0.9v0.9h-0.9zM92.96 518.6h0.9v0.9h-0.9zM90.79 517.3h0.9v0.9h-0.9zM107.2 519.68h0.9v0.9h-0.9zM83.05 516.49h0.9v0.9h-0.9zM94.67 521.84h0.9v0.9h-0.9zM95.39 523.82h0.9v0.9h-0.9zM99.74 521.25h0.9v0.9h-0.9zM90.26 517.19h0.9v0.9h-0.9zM103.53 517.43h0.9v0.9h-0.9zM83.5 518.75h0.9v0.9h-0.9zM97.92 518.83h0.9v0.9h-0.9zM93.22 523.69h0.9v0.9h-0.9zM98.31 521.59h0.9v0.9h-0.9zM99.04 516.69h0.9v0.9h-0.9zM93.3 513.57h0.9v0.9h-0.9zM102.62 518.27h0.9v0.9h-0.9zM102.29 514.41h0.9v0.9h-0.9zM89.24 517.17h0.9v0.9h-0.9zM94.16 517.4h0.9v0.9h-0.9zM102.24 512.55h0.9v0.9h-0.9zM93.48 519.98h0.9v0.9h-0.9zM103.91 523.05h0.9v0.9h-0.9zM99.21 513.42h0.9v0.9h-0.9zM88.72 515.85h0.9v0.9h-0.9zM96.93 517.73h0.9v0.9h-0.9zM95.39 515.05h0.9v0.9h-0.9zM94.98 517h0.9v0.9h-0.9zM100.32 516.42h0.9v0.9h-0.9zM90.01 514.26h0.9v0.9h-0.9zM106.18 514.58h0.9v0.9h-0.9zM95.08 517.16h0.9v0.9h-0.9zM103.64 514.34h0.9v0.9h-0.9zM97.29 515.95h0.9v0.9h-0.9zM99.46 512.81h0.9v0.9h-0.9zM98.38 520.11h0.9v0.9h-0.9zM104.68 517.34h0.9v0.9h-0.9zM99.37 521.79h0.9v0.9h-0.9zM102.02 520.62h0.9v0.9h-0.9zM87.44 515.06h0.9v0.9h-0.9zM101.47 514.96h0.9v0.9h-0.9zM92.71 514.46h0.9v0.9h-0.9zM105.42 510.91h0.9v0.9h-0.9zM96.01 512.21h0.9v0.9h-0.9zM96.7 524.69h0.9v0.9h-0.9zM112.29 511.88h0.9v0.9h-0.9zM90.66 523.83h0.9v0.9h-0.9zM89.28 512.3h0.9v0.9h-0.9zM97.87 512.92h0.9v0.9h-0.9zM87.34 522.78h0.9v0.9h-0.9zM90.64 514.5h0.9v0.9h-0.9zM97.29 516.12h0.9v0.9h-0.9zM103.9 515.7h0.9v0.9h-0.9zM107.78 518.49h0.9v0.9h-0.9zM109.03 518.16h0.9v0.9h-0.9zM97.16 518.69h0.9v0.9h-0.9zM95.35 511.8h0.9v0.9h-0.9zM88.93 521.12h0.9v0.9h-0.9zM79.86 517.62h0.9v0.9h-0.9zM87.64 518.61h0.9v0.9h-0.9zM89.52 519.29h0.9v0.9h-0.9zM94.65 515.71h0.9v0.9h-0.9zM89.06 510.83h0.9v0.9h-0.9zM95.89 512.6h0.9v0.9h-0.9zM94.58 518.63h0.9v0.9h-0.9zM103.83 517.82h0.9v0.9h-0.9zM105.22 510.17h0.9v0.9h-0.9zM101.94 521.22h0.9v0.9h-0.9zM98.17 512.75h0.9v0.9h-0.9zM98.61 514.7h0.9v0.9h-0.9zM92.74 521.43h0.9v0.9h-0.9zM94.33 513.53h0.9v0.9h-0.9zM93.16 524.45h0.9v0.9h-0.9zM91.12 520.42h0.9v0.9h-0.9zM98.32 520.6h0.9v0.9h-0.9zM93.77 514.25h0.9v0.9h-0.9zM91.29 514.49h0.9v0.9h-0.9zM113.82 513.94h0.9v0.9h-0.9zM95.05 521.61h0.9v0.9h-0.9zM100.58 515.45h0.9v0.9h-0.9zM100.67 517h0.9v0.9h-0.9zM105.02 520.85h0.9v0.9h-0.9zM94.18 517.32h0.9v0.9h-0.9zM95.95 521.29h0.9v0.9h-0.9zM99.43 519.03h0.9v0.9h-0.9zM101.89 513.6h0.9v0.9h-0.9zM98.15 521.39h0.9v0.9h-0.9zM103.07 518.36h0.9v0.9h-0.9zM94.18 516.19h0.9v0.9h-0.9zM90.39 517.31h0.9v0.9h-0.9zM94.88 512.33h0.9v0.9h-0.9zM103.55 512.8h0.9v0.9h-0.9zM98.42 518.62h0.9v0.9h-0.9zM91.35 511.78h0.9v0.9h-0.9zM103.06 516.97h0.9v0.9h-0.9zM95.42 521.1h0.9v0.9h-0.9zM101.63 512.55h0.9v0.9h-0.9zM94.54 511.27h0.9v0.9h-0.9zM95.55 522.03h0.9v0.9h-0.9zM91.29 520.91h0.9v0.9h-0.9zM86.03 518.15h0.9v0.9h-0.9zM103.82 521.33h0.9v0.9h-0.9zM99.88 518.85h0.9v0.9h-0.9zM106.09 506.46h0.9v0.9h-0.9zM86.23 525.67h0.9v0.9h-0.9zM113.22 515.46h0.9v0.9h-0.9zM96.94 517.75h0.9v0.9h-0.9zM96.08 514.91h0.9v0.9h-0.9zM96.12 516.59h0.9v0.9h-0.9zM101.27 518.29h0.9v0.9h-0.9zM103.28 517.54h0.9v0.9h-0.9zM90.81 522.97h0.9v0.9h-0.9zM78.55 521.16h0.9v0.9h-0.9zM98.15 514.76h0.9v0.9h-0.9zM108.05 510.71h0.9v0.9h-0.9zM88.16 516.97h0.9v0.9h-0.9zM99.67 519.02h0.9v0.9h-0.9zM97.52 519.04h0.9v0.9h-0.9zM91.2 515.98h0.9v0.9h-0.9zM96.24 512.35h0.9v0.9h-0.9zM97.29 515.41h0.9v0.9h-0.9zM100.16 512.67h0.9v0.9h-0.9zM92.39 515.86h0.9v0.9h-0.9zM93.18 514.2h0.9v0.9h-0.9zM93.64 512.88h0.9v0.9h-0.9zM100.36 518.45h0.9v0.9h-0.9zM96.08 516.38h0.9v0.9h-0.9zM89.71 515.07h0.9v0.9h-0.9zM94.22 514.3h0.9v0.9h-0.9zM88.61 519.2h0.9v0.9h-0.9zM95.9 515.67h0.9v0.9h-0.9zM90.87 517.96h0.9v0.9h-0.9zM91.41 516.54h0.9v0.9h-0.9zM98.06 519.1h0.9v0.9h-0.9zM100.91 513.91h0.9v0.9h-0.9zM103.54 511.45h0.9v0.9h-0.9zM96.09 521.54h0.9v0.9h-0.9zM112.18 514.06h0.9v0.9h-0.9zM93.66 516.26h0.9v0.9h-0.9zM88.15 518.22h0.9v0.9h-0.9zM92.97 515.09h0.9v0.9h-0.9zM103.72 512.72h0.9v0.9h-0.9zM108.15 517.38h0.9v0.9h-0.9zM100.15 514.14h0.9v0.9h-0.9zM91.54 511.1h0.9v0.9h-0.9zM97.94 515.71h0.9v0.9h-0.9zM98.42 514.22h0.9v0.9h-0.9zM98.49 511.35h0.9v0.9h-0.9zM82.12 521.64h0.9v0.9h-0.9zM101.23 505.06h0.9v0.9h-0.9zM104.59 514.02h0.9v0.9h-0.9zM94.16 512.13h0.9v0.9h-0.9zM90.18 520.75h0.9v0.9h-0.9zM91.41 517.9h0.9v0.9h-0.9zM96.68 523.79h0.9v0.9h-0.9zM101.28 511.36h0.9v0.9h-0.9zM92.31 513.87h0.9v0.9h-0.9zM86.63 516.68h0.9v0.9h-0.9zM103.64 515.6h0.9v0.9h-0.9zM100.67 515.59h0.9v0.9h-0.9zM93.57 517.85h0.9v0.9h-0.9zM97.16 523.46h0.9v0.9h-0.9zM108.47 515.7h0.9v0.9h-0.9zM98.89 509.55h0.9v0.9h-0.9zM97.17 525.07h0.9v0.9h-0.9zM91.59 520.8h0.9v0.9h-0.9zM104.1 513.95h0.9v0.9h-0.9zM94.49 515.79h0.9v0.9h-0.9zM101.58 515.94h0.9v0.9h-0.9zM107.08 518.8h0.9v0.9h-0.9zM98.06 525.6h0.9v0.9h-0.9zM93.83 515.4h0.9v0.9h-0.9zM94.12 514.41h0.9v0.9h-0.9zM93.47 517.34h0.9v0.9h-0.9zM101.08 510.5h0.9v0.9h-0.9zM86.49 516.4h0.9v0.9h-0.9zM94.61 518.92h0.9v0.9h-0.9zM92.15 523.09h0.9v0.9h-0.9zM92.65 517.01h0.9v0.9h-0.9zM97.48 520.78h0.9v0.9h-0.9zM98.28 516.66h0.9v0.9h-0.9zM92.83 518.31h0.9v0.9h-0.9zM98.71 515.26h0.9v0.9h-0.9zM94.85 510.92h0.9v0.9h-0.9zM93.61 521.65h0.9v0.9h-0.9zM105.63 514.75h0.9v0.9h-0.9zM83.31 526.1h0.9v0.9h-0.9zM96.97 525.74h0.9v0.9h-0.9zM94.27 520.89h0.9v0.9h-0.9zM93.18 522.4h0.9v0.9h-0.9zM103.19 511.83h0.9v0.9h-0.9zM106.86 524.65h0.9v0.9h-0.9zM93.96 513.29h0.9v0.9h-0.9zM97.83 515.27h0.9v0.9h-0.9zM85.65 515.61h0.9v0.9h-0.9zM96.83 511.59h0.9v0.9h-0.9zM103.73 516.96h0.9v0.9h-0.9zM96.09 521.89h0.9v0.9h-0.9zM90.66 520.56h0.9v0.9h-0.9zM87.11 517.81h0.9v0.9h-0.9zM100.13 514.31h0.9v0.9h-0.9zM95.98 519.3h0.9v0.9h-0.9zM107.25 519.17h0.9v0.9h-0.9zM99.12 515.48h0.9v0.9h-0.9zM87.94 524.72h0.9v0.9h-0.9zM107.13 507.2h0.9v0.9h-0.9zM101.99 515.63h0.9v0.9h-0.9zM101.17 517.04h0.9v0.9h-0.9zM95 517.25h0.9v0.9h-0.9zM96.85 520.91h0.9v0.9h-0.9zM94.17 515.55h0.9v0.9h-0.9zM101.04 518.21h0.9v0.9h-0.9zM99.34 517.32h0.9v0.9h-0.9zM106.78 518.63h0.9v0.9h-0.9zM97.52 515.99h0.9v0.9h-0.9zM99.3 509.85h0.9v0.9h-0.9zM92.33 515.37h0.9v0.9h-0.9zM97.13 515.47h0.9v0.9h-0.9zM113.03 515.99h0.9v0.9h-0.9zM100.52 523.9h0.9v0.9h-0.9zM96.03 515.93h0.9v0.9h-0.9zM104.97 518.02h0.9v0.9h-0.9zM103.22 519.72h0.9v0.9h-0.9zM93.41 515.3h0.9v0.9h-0.9zM91.6 518.34h0.9v0.9h-0.9zM102.13 512.09h0.9v0.9h-0.9zM91.8 513.29h0.9v0.9h-0.9zM110.01 516.85h0.9v0.9h-0.9zM96.85 512.63h0.9v0.9h-0.9zM89.03 516.28h0.9v0.9h-0.9zM95.59 512.72h0.9v0.9h-0.9zM95.63 521.37h0.9v0.9h-0.9zM96.42 517.3h0.9v0.9h-0.9zM82.28 519.01h0.9v0.9h-0.9zM94.81 514.89h0.9v0.9h-0.9zM87.1 518.69h0.9v0.9h-0.9zM89.14 516.6h0.9v0.9h-0.9zM85.7 518.91h0.9v0.9h-0.9zM101.66 512.91h0.9v0.9h-0.9zM97.33 511.48h0.9v0.9h-0.9zM100.46 517.99h0.9v0.9h-0.9zM94.34 520.48h0.9v0.9h-0.9zM90.52 518.37h0.9v0.9h-0.9zM107.33 514.56h0.9v0.9h-0.9zM89.69 522.4h0.9v0.9h-0.9zM99.6 515.32h0.9v0.9h-0.9zM82.97 513.26h0.9v0.9h-0.9zM87.31 524.06h0.9v0.9h-0.9zM97.59 513.74h0.9v0.9h-0.9zM104.88 520.26h0.9v0.9h-0.9zM91.06 519.77h0.9v0.9h-0.9zM85.7 520.53h0.9v0.9h-0.9zM107.21 509.74h0.9v0.9h-0.9zM96.19 514.79h0.9v0.9h-0.9zM95.71 517.41h0.9v0.9h-0.9zM98.74 519.57h0.9v0.9h-0.9zM100.38 519.76h0.9v0.9h-0.9zM103.72 519.24h0.9v0.9h-0.9zM92.12 519.3h0.9v0.9h-0.9zM93.21 514.7h0.9v0.9h-0.9zM109.33 515.23h0.9v0.9h-0.9zM95.07 509.9h0.9v0.9h-0.9zM95.29 519.89h0.9v0.9h-0.9zM94.54 515.45h0.9v0.9h-0.9zM105.73 513.89h0.9v0.9h-0.9zM94 517.12h0.9v0.9h-0.9zM95.46 520.83h0.9v0.9h-0.9zM99.95 515.96h0.9v0.9h-0.9zM93.73 516.74h0.9v0.9h-0.9zM107.15 513.61h0.9v0.9h-0.9zM99.43 510.81h0.9v0.9h-0.9zM98.86 518.84h0.9v0.9h-0.9zM104.83 516.27h0.9v0.9h-0.9zM100.29 517.26h0.9v0.9h-0.9zM104.72 522.34h0.9v0.9h-0.9zM97 513.98h0.9v0.9h-0.9zM100.09 515.79h0.9v0.9h-0.9zM101.01 518.69h0.9v0.9h-0.9zM96.96 515.31h0.9v0.9h-0.9zM97.39 512.4h0.9v0.9h-0.9zM97.43 513.65h0.9v0.9h-0.9zM99.3 516.77h0.9v0.9h-0.9zM93.98 513.28h0.9v0.9h-0.9zM96.11 514.65h0.9v0.9h-0.9zM95.83 519.5h0.9v0.9h-0.9zM101.6 511.36h0.9v0.9h-0.9zM103.36 520.23h0.9v0.9h-0.9zM103.85 516.34h0.9v0.9h-0.9zM96.91 522.93h0.9v0.9h-0.9zM93.09 512.34h0.9v0.9h-0.9zM97.06 517.82h0.9v0.9h-0.9zM88.62 514.36h0.9v0.9h-0.9zM109.33 514.61h0.9v0.9h-0.9zM100.97 513.95h0.9v0.9h-0.9zM86.21 518.5h0.9v0.9h-0.9zM104.58 512.89h0.9v0.9h-0.9zM84.42 518.9h0.9v0.9h-0.9zM94.45 517.43h0.9v0.9h-0.9zM89.21 517.4h0.9v0.9h-0.9zM93.33 520.69h0.9v0.9h-0.9zM97.89 519.69h0.9v0.9h-0.9zM94.42 509.93h0.9v0.9h-0.9zM83.84 521.5h0.9v0.9h-0.9zM102.63 518.69h0.9v0.9h-0.9zM94.52 511.12h0.9v0.9h-0.9zM93.33 519.02h0.9v0.9h-0.9zM105.06 513.92h0.9v0.9h-0.9zM92.04 515.18h0.9v0.9h-0.9zM103.56 518.47h0.9v0.9h-0.9zM85.18 523.58h0.9v0.9h-0.9zM89.2 513.35h0.9v0.9h-0.9zM85.32 516.78h0.9v0.9h-0.9zM113.27 522.29h0.9v0.9h-0.9zM87.65 516.47h0.9v0.9h-0.9zM97.6 518.15h0.9v0.9h-0.9zM92.02 512.35h0.9v0.9h-0.9zM93.09 515.28h0.9v0.9h-0.9zM84.64 519.96h0.9v0.9h-0.9zM85.44 513.22h0.9v0.9h-0.9zM106.88 518.02h0.9v0.9h-0.9zM105.84 515.37h0.9v0.9h-0.9zM93.51 517.27h0.9v0.9h-0.9zM87.85 521.37h0.9v0.9h-0.9zM97.83 515.59h0.9v0.9h-0.9zM83.95 519.22h0.9v0.9h-0.9zM107.97 519.56h0.9v0.9h-0.9zM101.76 514.59h0.9v0.9h-0.9zM97.58 518.65h0.9v0.9h-0.9zM98.3 520.21h0.9v0.9h-0.9zM90.26 510.16h0.9v0.9h-0.9zM79.74 517.32h0.9v0.9h-0.9zM87.69 521.13h0.9v0.9h-0.9zM103.33 515.49h0.9v0.9h-0.9zM99.86 516.49h0.9v0.9h-0.9zM97.08 515.17h0.9v0.9h-0.9zM94.48 521.53h0.9v0.9h-0.9zM94.49 517.22h0.9v0.9h-0.9zM104.81 518.61h0.9v0.9h-0.9zM93.89 518.38h0.9v0.9h-0.9zM89.74 518.84h0.9v0.9h-0.9zM98.35 516.54h0.9v0.9h-0.9zM97.61 517.98h0.9v0.9h-0.9zM79.1 517.75h0.9v0.9h-0.9zM96.43 515.23h0.9v0.9h-0.9zM89.78 517.53h0.9v0.9h-0.9zM106.66 513.98h0.9v0.9h-0.9zM91.68 516.28h0.9v0.9h-0.9zM88.83 520.26h0.9v0.9h-0.9zM90.47 521.4h0.9v0.9h-0.9zM102.65 517.63h0.9v0.9h-0.9zM103.03 515.25h0.9v0.9h-0.9zM84.7 519.22h0.9v0.9h-0.9zM99.37 510.93h0.9v0.9h-0.9zM89.05 522.35h0.9v0.9h-0.9zM100.11 520.88h0.9v0.9h-0.9zM100.7 516.28h0.9v0.9h-0.9zM99.7 519.23h0.9v0.9h-0.9zM95.95 516.32h0.9v0.9h-0.9zM98.12 515.49h0.9v0.9h-0.9zM111.56 511.06h0.9v0.9h-0.9zM85.41 514.77h0.9v0.9h-0.9zM102.87 514.17h0.9v0.9h-0.9zM97.17 516.04h0.9v0.9h-0.9zM97.07 511.74h0.9v0.9h-0.9zM96.44 514.94h0.9v0.9h-0.9zM103.86 517.55h0.9v0.9h-0.9zM87.32 515.51h0.9v0.9h-0.9zM100.87 520.19h0.9v0.9h-0.9zM101.22 515.4h0.9v0.9h-0.9z" fill="#999999"/>
<line x1="76.6" y1="485.6" x2="76.6" y2="564" stroke="#333" stroke-width="1.1"/>
<line x1="53" y1="543.2" x2="132.4" y2="543.2" stroke="#444" stroke-width="1.1"/>
<line x1="51" y1="545.5" x2="53" y2="545.5" stroke="#000" stroke-width="0.8"/>
<line x1="51" y1="524.5" x2="53" y2="524.5" stroke="#000" stroke-width="0.8"/>
<line x1="51" y1="504.8" x2="53" y2="504.8" stroke="#000" stroke-width="0.8"/>
<line x1="51" y1="489.5" x2="53" y2="489.5" stroke="#000" stroke-width="0.8"/>
<line x1="51.8" y1="539.18" x2="53" y2="539.18" stroke="#000" stroke-width="0.5"/>
<line x1="51.8" y1="535.48" x2="53" y2="535.48" stroke="#000" stroke-width="0.5"/>
<line x1="51.8" y1="532.86" x2="53" y2="532.86" stroke="#000" stroke-width="0.5"/>
<line x1="51.8" y1="530.82" x2="53" y2="530.82" stroke="#000" stroke-width="0.5"/>
<line x1="51.8" y1="529.16" x2="53" y2="529.16" stroke="#000" stroke-width="0.5"/>
<line x1="51.8" y1="527.75" x2="53" y2="527.75" stroke="#000" stroke-width="0.5"/>
<line x1="51.8" y1="526.54" x2="53" y2="526.54" stroke="#000" stroke-width="0.5"/>
<line x1="51.8" y1="525.46" x2="53" y2="525.46" stroke="#000" stroke-width="0.5"/>
<line x1="51.8" y1="518.57" x2="53" y2="518.57" stroke="#000" stroke-width="0.5"/>
<line x1="51.8" y1="515.1" x2="53" y2="515.1" stroke="#000" stroke-width="0.5"/>
<line x1="51.8" y1="512.64" x2="53" y2="512.64" stroke="#000" stroke-width="0.5"/>
<line x1="51.8" y1="510.73" x2="53" y2="510.73" stroke="#000" stroke-width="0.5"/>
<line x1="51.8" y1="509.17" x2="53" y2="509.17" stroke="#000" stroke-width="0.5"/>
<line x1="51.8" y1="507.85" x2="53" y2="507.85" stroke="#000" stroke-width="0.5"/>
<line x1="51.8" y1="506.71" x2="53" y2="506.71" stroke="#000" stroke-width="0.5"/>
<line x1="51.8" y1="505.7" x2="53" y2="505.7" stroke="#000" stroke-width="0.5"/>
<line x1="51.8" y1="500.19" x2="53" y2="500.19" stroke="#000" stroke-width="0.5"/>
<line x1="51.8" y1="497.5" x2="53" y2="497.5" stroke="#000" stroke-width="0.5"/>
<line x1="51.8" y1="495.59" x2="53" y2="495.59" stroke="#000" stroke-width="0.5"/>
<line x1="51.8" y1="494.11" x2="53" y2="494.11" stroke="#000" stroke-width="0.5"/>
<line x1="51.8" y1="492.89" x2="53" y2="492.89" stroke="#000" stroke-width="0.5"/>
<line x1="51.8" y1="491.87" x2="53" y2="491.87" stroke="#000" stroke-width="0.5"/>
<line x1="51.8" y1="490.98" x2="53" y2="490.98" stroke="#000" stroke-width="0.5"/>
<line x1="51.8" y1="490.2" x2="53" y2="490.2" stroke="#000" stroke-width="0.5"/>
<line x1="51.8" y1="550" x2="53" y2="550" stroke="#000" stroke-width="0.5"/>
<line x1="51.8" y1="553" x2="53" y2="553" stroke="#000" stroke-width="0.5"/>
<line x1="51.8" y1="556" x2="53" y2="556" stroke="#000" stroke-width="0.5"/>
<line x1="51.8" y1="561" x2="53" y2="561" stroke="#000" stroke-width="0.5"/>
<line x1="50.6" y1="558.5" x2="53" y2="558.5" stroke="#000" stroke-width="1.4"/>
<text x="40.2" y="495.5" font-size="6.2" fill="#222">10<tspan font-size="5.89" dx="0.3" dy="-5">5</tspan></text>
<text x="40.2" y="510.8" font-size="6.2" fill="#222">10<tspan font-size="5.89" dx="0.3" dy="-5">4</tspan></text>
<text x="40.2" y="530.5" font-size="6.2" fill="#222">10<tspan font-size="5.89" dx="0.3" dy="-5">3</tspan></text>
<text x="40.2" y="551.5" font-size="6.2" fill="#222">10<tspan font-size="5.89" dx="0.3" dy="-5">2</tspan></text>
<text x="44.6" y="561.6" font-size="6.2" text-anchor="start" font-weight="normal" fill="#222">0</text>
<line x1="63.6" y1="564" x2="63.6" y2="566.2" stroke="#000" stroke-width="1.4"/>
<line x1="57" y1="564" x2="57" y2="565.2" stroke="#000" stroke-width="0.5"/>
<line x1="59" y1="564" x2="59" y2="565.2" stroke="#000" stroke-width="0.5"/>
<line x1="61" y1="564" x2="61" y2="565.2" stroke="#000" stroke-width="0.5"/>
<line x1="66" y1="564" x2="66" y2="565.2" stroke="#000" stroke-width="0.5"/>
<line x1="68" y1="564" x2="68" y2="565.2" stroke="#000" stroke-width="0.5"/>
<line x1="70" y1="564" x2="70" y2="565.2" stroke="#000" stroke-width="0.5"/>
<line x1="88" y1="564" x2="88" y2="566" stroke="#000" stroke-width="0.8"/>
<line x1="112" y1="564" x2="112" y2="566" stroke="#000" stroke-width="0.8"/>
<line x1="132.4" y1="564" x2="132.4" y2="566" stroke="#000" stroke-width="0.8"/>
<line x1="95.22" y1="564" x2="95.22" y2="565.2" stroke="#000" stroke-width="0.5"/>
<line x1="99.45" y1="564" x2="99.45" y2="565.2" stroke="#000" stroke-width="0.5"/>
<line x1="102.45" y1="564" x2="102.45" y2="565.2" stroke="#000" stroke-width="0.5"/>
<line x1="104.78" y1="564" x2="104.78" y2="565.2" stroke="#000" stroke-width="0.5"/>
<line x1="106.68" y1="564" x2="106.68" y2="565.2" stroke="#000" stroke-width="0.5"/>
<line x1="108.28" y1="564" x2="108.28" y2="565.2" stroke="#000" stroke-width="0.5"/>
<line x1="109.67" y1="564" x2="109.67" y2="565.2" stroke="#000" stroke-width="0.5"/>
<line x1="110.9" y1="564" x2="110.9" y2="565.2" stroke="#000" stroke-width="0.5"/>
<line x1="118.14" y1="564" x2="118.14" y2="565.2" stroke="#000" stroke-width="0.5"/>
<line x1="121.73" y1="564" x2="121.73" y2="565.2" stroke="#000" stroke-width="0.5"/>
<line x1="124.28" y1="564" x2="124.28" y2="565.2" stroke="#000" stroke-width="0.5"/>
<line x1="126.26" y1="564" x2="126.26" y2="565.2" stroke="#000" stroke-width="0.5"/>
<line x1="127.87" y1="564" x2="127.87" y2="565.2" stroke="#000" stroke-width="0.5"/>
<line x1="129.24" y1="564" x2="129.24" y2="565.2" stroke="#000" stroke-width="0.5"/>
<line x1="130.42" y1="564" x2="130.42" y2="565.2" stroke="#000" stroke-width="0.5"/>
<line x1="131.47" y1="564" x2="131.47" y2="565.2" stroke="#000" stroke-width="0.5"/>
<text x="63.6" y="574.2" font-size="6.2" text-anchor="middle" font-weight="normal" fill="#222">0</text>
<text x="83" y="574.2" font-size="6.2" fill="#222">10<tspan font-size="5.89" dx="0.3" dy="-5">3</tspan></text>
<text x="108" y="574.2" font-size="6.2" fill="#222">10<tspan font-size="5.89" dx="0.3" dy="-5">4</tspan></text>
<text x="122.6" y="574.2" font-size="6.2" fill="#222">10<tspan font-size="5.89" dx="0.3" dy="-5">5</tspan></text>
<text x="55.4" y="498" font-size="7.4" text-anchor="start" font-weight="normal" fill="#222">48.0</text>
<text x="123.4" y="498" font-size="7.4" text-anchor="end" font-weight="normal" fill="#222">38.5</text>
<text x="55.4" y="557" font-size="7.4" text-anchor="start" font-weight="normal" fill="#222">15.0</text>
<text x="123.6" y="557" font-size="7.4" text-anchor="end" font-weight="normal" fill="#222">0.46</text>
<text x="82" y="506.2" font-size="12.4" text-anchor="start" font-weight="normal" fill="#9b9b9b">THP1</text>
<line x1="36.4" y1="480" x2="36.4" y2="579.6" stroke="#000" stroke-width="1.8"/>
<path d="M36.4 473 L40 480.5 L32.8 480.5 Z" stroke="none" fill="#000" stroke-width="0"/>
<line x1="35.5" y1="579.6" x2="106.5" y2="579.6" stroke="#000" stroke-width="1.8"/>
<path d="M113.4 579.6 L106 576 L106 583.2 Z" stroke="none" fill="#000" stroke-width="0"/>
<text x="29.4" y="527" font-size="12" text-anchor="middle" font-weight="normal" fill="#000" transform="rotate(-90 29.4 527)">CD38-PerCPCy5.5</text>
<text x="37" y="597.2" font-size="12" text-anchor="start" font-weight="normal" fill="#000">CLL1-BV421</text>
<text x="270" y="442.2" font-size="14" text-anchor="start" font-weight="normal" fill="#000">CD34+ HSPC</text>
<line x1="182" y1="446.4" x2="445" y2="446.4" stroke="#000" stroke-width="1.4"/>
<text x="220" y="464.2" font-size="14" text-anchor="start" font-weight="normal" fill="#000">BFU-E</text>
<text x="362" y="464.2" font-size="14" text-anchor="start" font-weight="normal" fill="#000">CFU-GM</text>
<line x1="185" y1="484.2" x2="185" y2="605.2" stroke="#000" stroke-width="1.6"/>
<line x1="184.2" y1="604.4" x2="297" y2="604.4" stroke="#000" stroke-width="1.6"/>
<line x1="199.3" y1="604.4" x2="199.3" y2="608.9" stroke="#000" stroke-width="1.3"/>
<line x1="221.3" y1="604.4" x2="221.3" y2="608.9" stroke="#000" stroke-width="1.3"/>
<line x1="243.3" y1="604.4" x2="243.3" y2="608.9" stroke="#000" stroke-width="1.3"/>
<line x1="265.3" y1="604.4" x2="265.3" y2="608.9" stroke="#000" stroke-width="1.3"/>
<line x1="286.8" y1="604.4" x2="286.8" y2="608.9" stroke="#000" stroke-width="1.3"/>
<rect x="193.6" y="528.6" width="11.4" height="75.2" stroke="#333333" fill="#fff" stroke-width="2"/>
<line x1="199.3" y1="524" x2="199.3" y2="531" stroke="#333333" stroke-width="1"/>
<line x1="195.62" y1="524" x2="202.99" y2="524" stroke="#333333" stroke-width="1"/>
<line x1="195.62" y1="531" x2="202.99" y2="531" stroke="#333333" stroke-width="1"/>
<circle cx="194.6" cy="523.6" r="2.5" fill="#333333"/>
<circle cx="200" cy="527.6" r="2.5" fill="#333333"/>
<circle cx="204.6" cy="527" r="2.5" fill="#333333"/>
<circle cx="200" cy="534.4" r="2.5" fill="#333333"/>
<rect x="215.6" y="526" width="11.4" height="77.8" stroke="#c4bf00" fill="#fff" stroke-width="2"/>
<line x1="221.3" y1="519" x2="221.3" y2="530" stroke="#c4bf00" stroke-width="1"/>
<line x1="217.62" y1="519" x2="224.99" y2="519" stroke="#c4bf00" stroke-width="1"/>
<line x1="217.62" y1="530" x2="224.99" y2="530" stroke="#c4bf00" stroke-width="1"/>
<rect x="214" y="515.2" width="4.8" height="4.8" fill="#c4bf00"/>
<rect x="224" y="514" width="4.8" height="4.8" fill="#c4bf00"/>
<rect x="224" y="520.6" width="4.8" height="4.8" fill="#c4bf00"/>
<rect x="219" y="539" width="4.8" height="4.8" fill="#c4bf00"/>
<rect x="237.6" y="510" width="11.4" height="93.8" stroke="#ff0000" fill="#fff" stroke-width="2"/>
<line x1="243.3" y1="505" x2="243.3" y2="513" stroke="#ff0000" stroke-width="1"/>
<line x1="239.62" y1="505" x2="246.99" y2="505" stroke="#ff0000" stroke-width="1"/>
<line x1="239.62" y1="513" x2="246.99" y2="513" stroke="#ff0000" stroke-width="1"/>
<path d="M239 501.38 L241.76 506.67 L236.24 506.67 Z" fill="#ff0000"/>
<path d="M248 500.38 L250.76 505.67 L245.24 505.67 Z" fill="#ff0000"/>
<path d="M243 513.98 L245.76 519.27 L240.24 519.27 Z" fill="#ff0000"/>
<path d="M245.4 503.38 L248.16 508.67 L242.64 508.67 Z" fill="#ff0000"/>
<rect x="259.6" y="527.6" width="11.4" height="76.2" stroke="#9a621c" fill="#fff" stroke-width="2"/>
<line x1="265.3" y1="519.5" x2="265.3" y2="532" stroke="#9a621c" stroke-width="1"/>
<line x1="261.62" y1="519.5" x2="268.99" y2="519.5" stroke="#9a621c" stroke-width="1"/>
<line x1="261.62" y1="532" x2="268.99" y2="532" stroke="#9a621c" stroke-width="1"/>
<rect x="262.6" y="509.6" width="4.8" height="4.8" fill="#9a621c"/>
<rect x="262.6" y="520" width="4.8" height="4.8" fill="#9a621c"/>
<rect x="262.6" y="529.6" width="4.8" height="4.8" fill="#9a621c"/>
<rect x="262.6" y="535.6" width="4.8" height="4.8" fill="#9a621c"/>
<rect x="281.1" y="568.4" width="11.4" height="35.4" stroke="#d1006a" fill="#fff" stroke-width="2"/>
<line x1="286.8" y1="561" x2="286.8" y2="573.6" stroke="#d1006a" stroke-width="1"/>
<line x1="283.12" y1="561" x2="290.49" y2="561" stroke="#d1006a" stroke-width="1"/>
<line x1="283.12" y1="573.6" x2="290.49" y2="573.6" stroke="#d1006a" stroke-width="1"/>
<path d="M287 548.98 L289.76 554.27 L284.24 554.27 Z" fill="#d1006a"/>
<path d="M287 559.38 L289.76 564.67 L284.24 564.67 Z" fill="#d1006a"/>
<path d="M287 568.98 L289.76 574.27 L284.24 574.27 Z" fill="#d1006a"/>
<path d="M287 581.38 L289.76 586.67 L284.24 586.67 Z" fill="#d1006a"/>
<line x1="185" y1="484.4" x2="180.6" y2="484.4" stroke="#000" stroke-width="1.4"/>
<text x="179" y="487.9" font-size="10" text-anchor="end" font-weight="normal" fill="#222">80</text>
<line x1="185" y1="514.4" x2="180.6" y2="514.4" stroke="#000" stroke-width="1.4"/>
<text x="179" y="517.9" font-size="10" text-anchor="end" font-weight="normal" fill="#222">60</text>
<line x1="185" y1="544.4" x2="180.6" y2="544.4" stroke="#000" stroke-width="1.4"/>
<text x="179" y="547.9" font-size="10" text-anchor="end" font-weight="normal" fill="#222">40</text>
<line x1="185" y1="574.4" x2="180.6" y2="574.4" stroke="#000" stroke-width="1.4"/>
<text x="179" y="577.9" font-size="10" text-anchor="end" font-weight="normal" fill="#222">20</text>
<line x1="185" y1="604.4" x2="180.6" y2="604.4" stroke="#000" stroke-width="1.4"/>
<text x="179" y="607.9" font-size="10" text-anchor="end" font-weight="normal" fill="#222">0</text>
<text x="160.6" y="541" font-size="9.8" text-anchor="middle" fill="#222" transform="rotate(-90 160.6 541)"># BFU-E per 2x10<tspan font-size="7" dy="-3.4">3</tspan><tspan dy="3.4"> Cells</tspan></text>
<line x1="199.4" y1="481.8" x2="289.6" y2="481.8" stroke="#000" stroke-width="1.8"/>
<path d="M239.2 473.9 L240.24 475.87 L242.43 476.25 L240.88 477.85 L241.2 480.05 L239.2 479.07 L237.2 480.05 L237.52 477.85 L235.97 476.25 L238.16 475.87ZM246.2 473.9 L247.24 475.87 L249.43 476.25 L247.88 477.85 L248.2 480.05 L246.2 479.07 L244.2 480.05 L244.52 477.85 L242.97 476.25 L245.16 475.87ZM253.2 473.9 L254.24 475.87 L256.43 476.25 L254.88 477.85 L255.2 480.05 L253.2 479.07 L251.2 480.05 L251.52 477.85 L249.97 476.25 L252.16 475.87Z" fill="#111"/>
<line x1="217.4" y1="495.9" x2="289.6" y2="495.9" stroke="#000" stroke-width="1.8"/>
<path d="M247.1 488.2 L248.14 490.17 L250.33 490.55 L248.78 492.15 L249.1 494.35 L247.1 493.37 L245.1 494.35 L245.42 492.15 L243.87 490.55 L246.06 490.17ZM254.1 488.2 L255.14 490.17 L257.33 490.55 L255.78 492.15 L256.1 494.35 L254.1 493.37 L252.1 494.35 L252.42 492.15 L250.87 490.55 L253.06 490.17ZM261.1 488.2 L262.14 490.17 L264.33 490.55 L262.78 492.15 L263.1 494.35 L261.1 493.37 L259.1 494.35 L259.42 492.15 L257.87 490.55 L260.06 490.17Z" fill="#111"/>
<line x1="336" y1="485" x2="336" y2="605.2" stroke="#000" stroke-width="1.6"/>
<line x1="335.2" y1="604.4" x2="444" y2="604.4" stroke="#000" stroke-width="1.6"/>
<line x1="349.6" y1="604.4" x2="349.6" y2="608.9" stroke="#000" stroke-width="1.3"/>
<line x1="370" y1="604.4" x2="370" y2="608.9" stroke="#000" stroke-width="1.3"/>
<line x1="390" y1="604.4" x2="390" y2="608.9" stroke="#000" stroke-width="1.3"/>
<line x1="410.5" y1="604.4" x2="410.5" y2="608.9" stroke="#000" stroke-width="1.3"/>
<line x1="431" y1="604.4" x2="431" y2="608.9" stroke="#000" stroke-width="1.3"/>
<rect x="344.3" y="517.6" width="10.6" height="86.2" stroke="#333333" fill="#fff" stroke-width="2"/>
<line x1="349.6" y1="508.4" x2="349.6" y2="523.6" stroke="#333333" stroke-width="1"/>
<line x1="346.14" y1="508.4" x2="353.06" y2="508.4" stroke="#333333" stroke-width="1"/>
<line x1="346.14" y1="523.6" x2="353.06" y2="523.6" stroke="#333333" stroke-width="1"/>
<circle cx="349.4" cy="495.6" r="2.5" fill="#333333"/>
<circle cx="349.4" cy="512.4" r="2.5" fill="#333333"/>
<circle cx="345.4" cy="528" r="2.5" fill="#333333"/>
<circle cx="354" cy="528.4" r="2.5" fill="#333333"/>
<rect x="364.7" y="554" width="10.6" height="49.8" stroke="#c4bf00" fill="#fff" stroke-width="2"/>
<line x1="370" y1="547.6" x2="370" y2="561" stroke="#c4bf00" stroke-width="1"/>
<line x1="366.54" y1="547.6" x2="373.46" y2="547.6" stroke="#c4bf00" stroke-width="1"/>
<line x1="366.54" y1="561" x2="373.46" y2="561" stroke="#c4bf00" stroke-width="1"/>
<rect x="367.6" y="531.6" width="4.8" height="4.8" fill="#c4bf00"/>
<rect x="367.6" y="542.2" width="4.8" height="4.8" fill="#c4bf00"/>
<rect x="363.6" y="564.6" width="4.8" height="4.8" fill="#c4bf00"/>
<rect x="372" y="564.6" width="4.8" height="4.8" fill="#c4bf00"/>
<rect x="384.7" y="550.4" width="10.6" height="53.4" stroke="#ff0000" fill="#fff" stroke-width="2"/>
<line x1="390" y1="541.6" x2="390" y2="556.4" stroke="#ff0000" stroke-width="1"/>
<line x1="386.54" y1="541.6" x2="393.46" y2="541.6" stroke="#ff0000" stroke-width="1"/>
<line x1="386.54" y1="556.4" x2="393.46" y2="556.4" stroke="#ff0000" stroke-width="1"/>
<path d="M390 530.98 L392.76 536.27 L387.24 536.27 Z" fill="#ff0000"/>
<path d="M390 536.98 L392.76 542.27 L387.24 542.27 Z" fill="#ff0000"/>
<path d="M390 552.58 L392.76 557.87 L387.24 557.87 Z" fill="#ff0000"/>
<path d="M390 564.38 L392.76 569.67 L387.24 569.67 Z" fill="#ff0000"/>
<rect x="405.2" y="550.4" width="10.6" height="53.4" stroke="#c46200" fill="#fff" stroke-width="2"/>
<line x1="410.5" y1="539" x2="410.5" y2="559" stroke="#c46200" stroke-width="1"/>
<line x1="407.04" y1="539" x2="413.96" y2="539" stroke="#c46200" stroke-width="1"/>
<line x1="407.04" y1="559" x2="413.96" y2="559" stroke="#c46200" stroke-width="1"/>
<rect x="408" y="520.6" width="4.8" height="4.8" fill="#c46200"/>
<rect x="408" y="542" width="4.8" height="4.8" fill="#c46200"/>
<rect x="408" y="558" width="4.8" height="4.8" fill="#c46200"/>
<rect x="408" y="564.6" width="4.8" height="4.8" fill="#c46200"/>
<rect x="425.7" y="590" width="10.6" height="13.8" stroke="#d1006a" fill="#fff" stroke-width="2"/>
<line x1="431" y1="579.6" x2="431" y2="596" stroke="#d1006a" stroke-width="1"/>
<line x1="427.54" y1="579.6" x2="434.46" y2="579.6" stroke="#d1006a" stroke-width="1"/>
<line x1="427.54" y1="596" x2="434.46" y2="596" stroke="#d1006a" stroke-width="1"/>
<path d="M430.6 563.98 L433.36 569.27 L427.84 569.27 Z" fill="#d1006a"/>
<path d="M430.6 579.98 L433.36 585.27 L427.84 585.27 Z" fill="#d1006a"/>
<path d="M430.6 593.38 L433.36 598.67 L427.84 598.67 Z" fill="#d1006a"/>
<path d="M430.6 601.98 L433.36 607.27 L427.84 607.27 Z" fill="#d1006a"/>
<line x1="336" y1="495.6" x2="331.6" y2="495.6" stroke="#000" stroke-width="1.4"/>
<text x="330" y="499.1" font-size="10" text-anchor="end" font-weight="normal" fill="#222">20</text>
<line x1="336" y1="522.8" x2="331.6" y2="522.8" stroke="#000" stroke-width="1.4"/>
<text x="330" y="526.3" font-size="10" text-anchor="end" font-weight="normal" fill="#222">15</text>
<line x1="336" y1="550" x2="331.6" y2="550" stroke="#000" stroke-width="1.4"/>
<text x="330" y="553.5" font-size="10" text-anchor="end" font-weight="normal" fill="#222">10</text>
<line x1="336" y1="577.2" x2="331.6" y2="577.2" stroke="#000" stroke-width="1.4"/>
<text x="330" y="580.7" font-size="10" text-anchor="end" font-weight="normal" fill="#222">5</text>
<line x1="336" y1="604.4" x2="331.6" y2="604.4" stroke="#000" stroke-width="1.4"/>
<text x="330" y="607.9" font-size="10" text-anchor="end" font-weight="normal" fill="#222">0</text>
<text x="313.2" y="544" font-size="9.8" text-anchor="middle" fill="#222" transform="rotate(-90 313.2 544)"># CFU-GM per 2x10<tspan font-size="7" dy="-3.4">3</tspan><tspan dy="3.4"> Cells</tspan></text>
<line x1="349" y1="476" x2="428" y2="476" stroke="#000" stroke-width="1.8"/>
<path d="M385.2 468.8 L386.24 470.77 L388.43 471.15 L386.88 472.75 L387.2 474.95 L385.2 473.97 L383.2 474.95 L383.52 472.75 L381.97 471.15 L384.16 470.77ZM392.2 468.8 L393.24 470.77 L395.43 471.15 L393.88 472.75 L394.2 474.95 L392.2 473.97 L390.2 474.95 L390.52 472.75 L388.97 471.15 L391.16 470.77ZM399.2 468.8 L400.24 470.77 L402.43 471.15 L400.88 472.75 L401.2 474.95 L399.2 473.97 L397.2 474.95 L397.52 472.75 L395.97 471.15 L398.16 470.77Z" fill="#111"/>
<line x1="349" y1="489" x2="380" y2="489" stroke="#000" stroke-width="1.8"/>
<path d="M365 482.4 L366.04 484.37 L368.23 484.75 L366.68 486.35 L367 488.55 L365 487.57 L363 488.55 L363.32 486.35 L361.77 484.75 L363.96 484.37Z" fill="#111"/>
<line x1="369.6" y1="516" x2="431.6" y2="516" stroke="#000" stroke-width="1.8"/>
<text x="387.2" y="508.2" font-size="9.8" fill="#222"><tspan font-style="italic">P</tspan>=0.0617</text>
<circle cx="454.4" cy="471.6" r="2.4" fill="#333333"/>
<text x="469" y="475.6" font-size="10.5" text-anchor="start" font-weight="normal" fill="#222">NT</text>
<rect x="452.1" y="483.1" width="4.6" height="4.6" fill="#c4bf00"/>
<text x="469" y="489" font-size="10.5" text-anchor="start" font-weight="normal" fill="#222">CAR</text>
<path d="M454.4 496.5 L457.04 501.57 L451.75 501.57 Z" fill="#ff0000"/>
<text x="469" y="503" font-size="10.5" text-anchor="start" font-weight="normal" fill="#222">CAR+ΔSSR</text>
<rect x="452.1" y="514.1" width="4.6" height="4.6" fill="#9a621c"/>
<text x="469" y="520" font-size="10.5" text-anchor="start" font-weight="normal" fill="#222">CAR+SSR</text>
<path d="M454.4 530.5 L457.04 535.57 L451.75 535.57 Z" fill="#d1006a"/>
<text x="469" y="536.6" font-size="10.5" text-anchor="start" font-weight="normal" fill="#222">CAR+CD38CAR</text>
<text x="0.6" y="648.2" font-size="20" text-anchor="start" font-weight="normal" fill="#000">D</text>
<text x="83.75" y="650" font-size="14" text-anchor="start" font-weight="normal" fill="#000">AML blasts</text>
<path d="M81.5 695.5 L81.5 695.5 L83.5 692.5 L86.7 689.4 L89 688.6 L91.5 688.4 L95 689.2 L98.7 689.4 L103 688.8 L109.2 687.3 L113 686.8 L116.4 686.1 L118.5 684.8 L120.8 683.6 L123 682.6 L125.5 681.2 L127.6 676.9 L130.2 673.4 L130.8 669.9 L133.1 664.6 L134.9 661.7 L136.6 658.2 L137.4 657.3 L138.6 659 L140.1 665.8 L141 670.5 L141.9 674.5 L142.8 680.5 L143.6 686.2 L144.5 691.5 L145.4 694.4 L146.8 695.5 L146.8 695.5 Z" fill="#de9898" stroke="none"/>
<path d="M68.8 695.5 L81.5 695.5 L81.5 695.5 L83.5 692.5 L86.7 689.4 L89 688.6 L91.5 688.4 L95 689.2 L98.7 689.4 L103 688.8 L109.2 687.3 L113 686.8 L116.4 686.1 L118.5 684.8 L120.8 683.6 L123 682.6 L125.5 681.2 L127.6 676.9 L130.2 673.4 L130.8 669.9 L133.1 664.6 L134.9 661.7 L136.6 658.2 L137.4 657.3 L138.6 659 L140.1 665.8 L141 670.5 L141.9 674.5 L142.8 680.5 L143.6 686.2 L144.5 691.5 L145.4 694.4 L146.8 695.5 L146.8 695.5 L162.5 695.5" fill="none" stroke="#c9444c" stroke-width="1.0" stroke-linejoin="round"/>
<path d="M81 738 L81 738 L82.5 733 L84 725 L85.5 713 L87 704 L88.5 700 L90 698.7 L91.3 699.2 L92.5 701 L94 707 L95.5 712 L97 716.5 L98.5 720.5 L99.5 722.5 L101.5 723.8 L104 725.3 L107 726.8 L110 728.5 L113 730 L116 731.2 L120 732.8 L125 734.6 L130 736 L135 737.2 L140 737.9 L141 738 L141 738 Z" fill="#86d8d8" stroke="none"/>
<path d="M68.8 738 L81 738 L81 738 L82.5 733 L84 725 L85.5 713 L87 704 L88.5 700 L90 698.7 L91.3 699.2 L92.5 701 L94 707 L95.5 712 L97 716.5 L98.5 720.5 L99.5 722.5 L101.5 723.8 L104 725.3 L107 726.8 L110 728.5 L113 730 L116 731.2 L120 732.8 L125 734.6 L130 736 L135 737.2 L140 737.9 L141 738 L141 738 L162.5 738" fill="none" stroke="#3cc6c6" stroke-width="1.0" stroke-linejoin="round"/>
<path d="M81.5 780.5 L81.5 780.5 L83 776 L84.5 768 L85.8 752 L86.8 742 L87.6 740.2 L88.5 742 L89.5 750 L90.6 763 L92 773 L93.5 779 L95 780.5 L95 780.5 Z" fill="#ababab" stroke="none"/>
<path d="M68.8 780.5 L81.5 780.5 L81.5 780.5 L83 776 L84.5 768 L85.8 752 L86.8 742 L87.6 740.2 L88.5 742 L89.5 750 L90.6 763 L92 773 L93.5 779 L95 780.5 L95 780.5 L162.5 780.5" fill="none" stroke="#7a7a7a" stroke-width="1.0" stroke-linejoin="round"/>
<rect x="68.8" y="652.7" width="93.7" height="127.8" stroke="#6a6a6a" fill="none" stroke-width="1.2"/>
<line x1="87" y1="780.5" x2="87" y2="783.5" stroke="#000" stroke-width="1.6"/>
<line x1="72.8" y1="780.5" x2="72.8" y2="783.1" stroke="#000" stroke-width="0.9"/>
<line x1="74.8" y1="780.5" x2="74.8" y2="783.1" stroke="#000" stroke-width="0.9"/>
<line x1="77.3" y1="780.5" x2="77.3" y2="783.1" stroke="#000" stroke-width="0.9"/>
<line x1="79.8" y1="780.5" x2="79.8" y2="783.1" stroke="#000" stroke-width="0.9"/>
<line x1="81.8" y1="780.5" x2="81.8" y2="783.1" stroke="#000" stroke-width="0.9"/>
<line x1="84" y1="780.5" x2="84" y2="783.1" stroke="#000" stroke-width="0.9"/>
<line x1="85.5" y1="780.5" x2="85.5" y2="783.1" stroke="#000" stroke-width="0.9"/>
<line x1="88.5" y1="780.5" x2="88.5" y2="783.1" stroke="#000" stroke-width="0.9"/>
<line x1="90" y1="780.5" x2="90" y2="783.1" stroke="#000" stroke-width="0.9"/>
<line x1="92" y1="780.5" x2="92" y2="783.1" stroke="#000" stroke-width="0.9"/>
<line x1="94.5" y1="780.5" x2="94.5" y2="783.1" stroke="#000" stroke-width="0.9"/>
<line x1="124.5" y1="780.5" x2="124.5" y2="783.5" stroke="#000" stroke-width="1.1"/>
<line x1="143.5" y1="780.5" x2="143.5" y2="783.5" stroke="#000" stroke-width="1.1"/>
<line x1="162.5" y1="780.5" x2="162.5" y2="783.5" stroke="#000" stroke-width="1.1"/>
<line x1="130.22" y1="780.5" x2="130.22" y2="782.5" stroke="#000" stroke-width="0.8"/>
<line x1="133.57" y1="780.5" x2="133.57" y2="782.5" stroke="#000" stroke-width="0.8"/>
<line x1="135.94" y1="780.5" x2="135.94" y2="782.5" stroke="#000" stroke-width="0.8"/>
<line x1="137.78" y1="780.5" x2="137.78" y2="782.5" stroke="#000" stroke-width="0.8"/>
<line x1="139.28" y1="780.5" x2="139.28" y2="782.5" stroke="#000" stroke-width="0.8"/>
<line x1="140.56" y1="780.5" x2="140.56" y2="782.5" stroke="#000" stroke-width="0.8"/>
<line x1="141.66" y1="780.5" x2="141.66" y2="782.5" stroke="#000" stroke-width="0.8"/>
<line x1="142.63" y1="780.5" x2="142.63" y2="782.5" stroke="#000" stroke-width="0.8"/>
<line x1="149.22" y1="780.5" x2="149.22" y2="782.5" stroke="#000" stroke-width="0.8"/>
<line x1="152.57" y1="780.5" x2="152.57" y2="782.5" stroke="#000" stroke-width="0.8"/>
<line x1="154.94" y1="780.5" x2="154.94" y2="782.5" stroke="#000" stroke-width="0.8"/>
<line x1="156.78" y1="780.5" x2="156.78" y2="782.5" stroke="#000" stroke-width="0.8"/>
<line x1="158.28" y1="780.5" x2="158.28" y2="782.5" stroke="#000" stroke-width="0.8"/>
<line x1="159.56" y1="780.5" x2="159.56" y2="782.5" stroke="#000" stroke-width="0.8"/>
<line x1="160.66" y1="780.5" x2="160.66" y2="782.5" stroke="#000" stroke-width="0.8"/>
<line x1="161.63" y1="780.5" x2="161.63" y2="782.5" stroke="#000" stroke-width="0.8"/>
<line x1="111.22" y1="780.5" x2="111.22" y2="782.5" stroke="#000" stroke-width="0.8"/>
<line x1="114.57" y1="780.5" x2="114.57" y2="782.5" stroke="#000" stroke-width="0.8"/>
<line x1="116.94" y1="780.5" x2="116.94" y2="782.5" stroke="#000" stroke-width="0.8"/>
<line x1="118.78" y1="780.5" x2="118.78" y2="782.5" stroke="#000" stroke-width="0.8"/>
<line x1="120.28" y1="780.5" x2="120.28" y2="782.5" stroke="#000" stroke-width="0.8"/>
<line x1="121.56" y1="780.5" x2="121.56" y2="782.5" stroke="#000" stroke-width="0.8"/>
<line x1="122.66" y1="780.5" x2="122.66" y2="782.5" stroke="#000" stroke-width="0.8"/>
<line x1="123.63" y1="780.5" x2="123.63" y2="782.5" stroke="#000" stroke-width="0.8"/>
<text x="87" y="798.4" font-size="8.8" text-anchor="middle" font-weight="normal" fill="#222">0</text>
<text x="117.0" y="798.4" font-size="8.2" fill="#222">10<tspan font-size="8" dx="0.4" dy="-5.6">3</tspan></text>
<text x="148.4" y="798.4" font-size="8.2" fill="#222">10<tspan font-size="8" dx="0.4" dy="-5.6">5</tspan></text>
<text x="170" y="694" font-size="12" text-anchor="start" font-weight="normal" fill="#000">Pt1</text>
<text x="170" y="731.2" font-size="12" text-anchor="start" font-weight="normal" fill="#000">Pt2</text>
<text x="170" y="770.2" font-size="12" text-anchor="start" font-weight="normal" fill="#000">Isotype</text>
<text x="82" y="812.2" font-size="11.5" text-anchor="start" font-weight="normal" fill="#000">CLL1-BV421</text>
<path d="M112 862.5 L112 862.5 L112.7 862.5 L113.4 862.49 L114.1 862.48 L114.8 862.45 L115.5 862.4 L116.2 862.31 L116.9 862.15 L117.6 861.88 L118.3 861.43 L119 860.72 L119.7 859.66 L120.4 858.14 L121.1 856.05 L121.8 853.31 L122.5 849.89 L123.2 845.85 L123.9 841.33 L124.6 836.57 L125.3 831.93 L126 827.79 L126.7 824.56 L127.4 822.56 L128.1 822.02 L128.8 823.25 L129.5 826.21 L130.2 830.52 L130.9 835.64 L131.6 840.99 L132.3 846.08 L133 850.55 L133.7 854.21 L134.4 857.02 L135.1 859.04 L135.8 860.42 L136.5 861.31 L137.2 861.85 L137.9 862.16 L138.6 862.33 L139.3 862.42 L140 862.46 L140 862.5 Z" fill="#de9898" stroke="none"/>
<path d="M69.5 862.5 L112 862.5 L112 862.5 L112.7 862.5 L113.4 862.49 L114.1 862.48 L114.8 862.45 L115.5 862.4 L116.2 862.31 L116.9 862.15 L117.6 861.88 L118.3 861.43 L119 860.72 L119.7 859.66 L120.4 858.14 L121.1 856.05 L121.8 853.31 L122.5 849.89 L123.2 845.85 L123.9 841.33 L124.6 836.57 L125.3 831.93 L126 827.79 L126.7 824.56 L127.4 822.56 L128.1 822.02 L128.8 823.25 L129.5 826.21 L130.2 830.52 L130.9 835.64 L131.6 840.99 L132.3 846.08 L133 850.55 L133.7 854.21 L134.4 857.02 L135.1 859.04 L135.8 860.42 L136.5 861.31 L137.2 861.85 L137.9 862.16 L138.6 862.33 L139.3 862.42 L140 862.46 L140 862.5 L163 862.5" fill="none" stroke="#c9444c" stroke-width="1.0" stroke-linejoin="round"/>
<path d="M96 905 L96 904.92 L96.88 904.88 L97.75 904.8 L98.62 904.7 L99.5 904.54 L100.38 904.31 L101.25 904 L102.12 903.56 L103 902.97 L103.88 902.2 L104.75 901.2 L105.62 899.94 L106.5 898.39 L107.38 896.52 L108.25 894.32 L109.12 891.8 L110 888.99 L110.88 885.94 L111.75 882.72 L112.62 879.45 L113.5 876.25 L114.38 873.23 L115.25 870.56 L116.12 868.35 L117 866.72 L117.88 865.75 L118.75 865.52 L119.62 866.32 L120.5 868.25 L121.38 871.14 L122.25 874.74 L123.12 878.77 L124 882.95 L124.88 887.03 L125.75 890.79 L126.62 894.11 L127.5 896.9 L128.38 899.16 L129.25 900.91 L130.12 902.23 L131 903.18 L131.88 903.84 L132.75 904.28 L133.62 904.57 L134.5 904.75 L135.38 904.86 L136.25 904.92 L137.12 904.96 L138 904.98 L138 905 Z" fill="#86d8d8" stroke="none"/>
<path d="M69.5 905 L96 905 L96 904.92 L96.88 904.88 L97.75 904.8 L98.62 904.7 L99.5 904.54 L100.38 904.31 L101.25 904 L102.12 903.56 L103 902.97 L103.88 902.2 L104.75 901.2 L105.62 899.94 L106.5 898.39 L107.38 896.52 L108.25 894.32 L109.12 891.8 L110 888.99 L110.88 885.94 L111.75 882.72 L112.62 879.45 L113.5 876.25 L114.38 873.23 L115.25 870.56 L116.12 868.35 L117 866.72 L117.88 865.75 L118.75 865.52 L119.62 866.32 L120.5 868.25 L121.38 871.14 L122.25 874.74 L123.12 878.77 L124 882.95 L124.88 887.03 L125.75 890.79 L126.62 894.11 L127.5 896.9 L128.38 899.16 L129.25 900.91 L130.12 902.23 L131 903.18 L131.88 903.84 L132.75 904.28 L133.62 904.57 L134.5 904.75 L135.38 904.86 L136.25 904.92 L137.12 904.96 L138 904.98 L138 905 L163 905" fill="none" stroke="#3cc6c6" stroke-width="1.0" stroke-linejoin="round"/>
<path d="M72 947.5 L72 947.38 L72.62 947.29 L73.25 947.16 L73.88 946.96 L74.5 946.65 L75.12 946.2 L75.75 945.57 L76.38 944.7 L77 943.53 L77.62 942.02 L78.25 940.11 L78.88 937.77 L79.5 935 L80.12 931.82 L80.75 928.32 L81.38 924.6 L82 920.82 L82.62 917.17 L83.25 913.84 L83.88 911.05 L84.5 908.98 L85.12 907.78 L85.75 907.53 L86.38 908.42 L87 910.41 L87.62 913.35 L88.25 916.99 L88.88 921.05 L89.5 925.26 L90.12 929.35 L90.75 933.12 L91.38 936.45 L92 939.26 L92.62 941.54 L93.25 943.32 L93.88 944.65 L94.5 945.62 L95.12 946.29 L95.75 946.75 L96.38 947.05 L97 947.23 L97 947.5 Z" fill="#ababab" stroke="none"/>
<path d="M69.5 947.5 L72 947.5 L72 947.38 L72.62 947.29 L73.25 947.16 L73.88 946.96 L74.5 946.65 L75.12 946.2 L75.75 945.57 L76.38 944.7 L77 943.53 L77.62 942.02 L78.25 940.11 L78.88 937.77 L79.5 935 L80.12 931.82 L80.75 928.32 L81.38 924.6 L82 920.82 L82.62 917.17 L83.25 913.84 L83.88 911.05 L84.5 908.98 L85.12 907.78 L85.75 907.53 L86.38 908.42 L87 910.41 L87.62 913.35 L88.25 916.99 L88.88 921.05 L89.5 925.26 L90.12 929.35 L90.75 933.12 L91.38 936.45 L92 939.26 L92.62 941.54 L93.25 943.32 L93.88 944.65 L94.5 945.62 L95.12 946.29 L95.75 946.75 L96.38 947.05 L97 947.23 L97 947.5 L163 947.5" fill="none" stroke="#7a7a7a" stroke-width="1.0" stroke-linejoin="round"/>
<rect x="69.5" y="819.6" width="93.5" height="127.9" stroke="#6a6a6a" fill="none" stroke-width="1.2"/>
<line x1="84" y1="947.5" x2="84" y2="950.5" stroke="#000" stroke-width="1.6"/>
<line x1="73.5" y1="947.5" x2="73.5" y2="950.1" stroke="#000" stroke-width="0.9"/>
<line x1="75.5" y1="947.5" x2="75.5" y2="950.1" stroke="#000" stroke-width="0.9"/>
<line x1="78" y1="947.5" x2="78" y2="950.1" stroke="#000" stroke-width="0.9"/>
<line x1="80.5" y1="947.5" x2="80.5" y2="950.1" stroke="#000" stroke-width="0.9"/>
<line x1="82.5" y1="947.5" x2="82.5" y2="950.1" stroke="#000" stroke-width="0.9"/>
<line x1="81" y1="947.5" x2="81" y2="950.1" stroke="#000" stroke-width="0.9"/>
<line x1="82.5" y1="947.5" x2="82.5" y2="950.1" stroke="#000" stroke-width="0.9"/>
<line x1="85.5" y1="947.5" x2="85.5" y2="950.1" stroke="#000" stroke-width="0.9"/>
<line x1="87" y1="947.5" x2="87" y2="950.1" stroke="#000" stroke-width="0.9"/>
<line x1="89" y1="947.5" x2="89" y2="950.1" stroke="#000" stroke-width="0.9"/>
<line x1="91.5" y1="947.5" x2="91.5" y2="950.1" stroke="#000" stroke-width="0.9"/>
<line x1="125" y1="947.5" x2="125" y2="950.5" stroke="#000" stroke-width="1.1"/>
<line x1="144" y1="947.5" x2="144" y2="950.5" stroke="#000" stroke-width="1.1"/>
<line x1="163" y1="947.5" x2="163" y2="950.5" stroke="#000" stroke-width="1.1"/>
<line x1="130.72" y1="947.5" x2="130.72" y2="949.5" stroke="#000" stroke-width="0.8"/>
<line x1="134.07" y1="947.5" x2="134.07" y2="949.5" stroke="#000" stroke-width="0.8"/>
<line x1="136.44" y1="947.5" x2="136.44" y2="949.5" stroke="#000" stroke-width="0.8"/>
<line x1="138.28" y1="947.5" x2="138.28" y2="949.5" stroke="#000" stroke-width="0.8"/>
<line x1="139.78" y1="947.5" x2="139.78" y2="949.5" stroke="#000" stroke-width="0.8"/>
<line x1="141.06" y1="947.5" x2="141.06" y2="949.5" stroke="#000" stroke-width="0.8"/>
<line x1="142.16" y1="947.5" x2="142.16" y2="949.5" stroke="#000" stroke-width="0.8"/>
<line x1="143.13" y1="947.5" x2="143.13" y2="949.5" stroke="#000" stroke-width="0.8"/>
<line x1="149.72" y1="947.5" x2="149.72" y2="949.5" stroke="#000" stroke-width="0.8"/>
<line x1="153.07" y1="947.5" x2="153.07" y2="949.5" stroke="#000" stroke-width="0.8"/>
<line x1="155.44" y1="947.5" x2="155.44" y2="949.5" stroke="#000" stroke-width="0.8"/>
<line x1="157.28" y1="947.5" x2="157.28" y2="949.5" stroke="#000" stroke-width="0.8"/>
<line x1="158.78" y1="947.5" x2="158.78" y2="949.5" stroke="#000" stroke-width="0.8"/>
<line x1="160.06" y1="947.5" x2="160.06" y2="949.5" stroke="#000" stroke-width="0.8"/>
<line x1="161.16" y1="947.5" x2="161.16" y2="949.5" stroke="#000" stroke-width="0.8"/>
<line x1="162.13" y1="947.5" x2="162.13" y2="949.5" stroke="#000" stroke-width="0.8"/>
<line x1="111.72" y1="947.5" x2="111.72" y2="949.5" stroke="#000" stroke-width="0.8"/>
<line x1="115.07" y1="947.5" x2="115.07" y2="949.5" stroke="#000" stroke-width="0.8"/>
<line x1="117.44" y1="947.5" x2="117.44" y2="949.5" stroke="#000" stroke-width="0.8"/>
<line x1="119.28" y1="947.5" x2="119.28" y2="949.5" stroke="#000" stroke-width="0.8"/>
<line x1="120.78" y1="947.5" x2="120.78" y2="949.5" stroke="#000" stroke-width="0.8"/>
<line x1="122.06" y1="947.5" x2="122.06" y2="949.5" stroke="#000" stroke-width="0.8"/>
<line x1="123.16" y1="947.5" x2="123.16" y2="949.5" stroke="#000" stroke-width="0.8"/>
<line x1="124.13" y1="947.5" x2="124.13" y2="949.5" stroke="#000" stroke-width="0.8"/>
<text x="83.8" y="965.4" font-size="8.8" text-anchor="middle" font-weight="normal" fill="#222">0</text>
<text x="122.2" y="965.4" font-size="8.2" fill="#222">10<tspan font-size="8" dx="0.4" dy="-5.6">3</tspan></text>
<text x="149.8" y="965.4" font-size="8.2" fill="#222">10<tspan font-size="8" dx="0.4" dy="-5.6">5</tspan></text>
<text x="170" y="849.2" font-size="12" text-anchor="start" font-weight="normal" fill="#000">Pt1</text>
<text x="170" y="891.2" font-size="12" text-anchor="start" font-weight="normal" fill="#000">Pt2</text>
<text x="170" y="931.2" font-size="12" text-anchor="start" font-weight="normal" fill="#000">Isotype</text>
<text x="71.2" y="978.2" font-size="11.5" text-anchor="start" font-weight="normal" fill="#000">CD38-PerCPCy5.5</text>
<text x="239.4" y="648.7" font-size="20" text-anchor="start" font-weight="normal" fill="#000">E</text>
<text x="362.3" y="653.8" font-size="14.3" text-anchor="start" font-weight="normal" fill="#000">AML blasts (24hrs)</text>
<line x1="297.5" y1="658.3" x2="545.5" y2="658.3" stroke="#000" stroke-width="1.4"/>
<text x="338" y="673.7" font-size="12" text-anchor="start" font-weight="normal" fill="#000">Pt1</text>
<text x="493.8" y="673.2" font-size="12" text-anchor="start" font-weight="normal" fill="#000">Pt2</text>
<line x1="298" y1="678.5" x2="298" y2="779.1" stroke="#000" stroke-width="1.6"/>
<line x1="297.2" y1="778.3" x2="388.8" y2="778.3" stroke="#000" stroke-width="1.6"/>
<line x1="309.5" y1="778.3" x2="309.5" y2="782.5" stroke="#000" stroke-width="1.3"/>
<line x1="326.75" y1="778.3" x2="326.75" y2="782.5" stroke="#000" stroke-width="1.3"/>
<line x1="343.4" y1="778.3" x2="343.4" y2="782.5" stroke="#000" stroke-width="1.3"/>
<line x1="360.25" y1="778.3" x2="360.25" y2="782.5" stroke="#000" stroke-width="1.3"/>
<line x1="377" y1="778.3" x2="377" y2="782.5" stroke="#000" stroke-width="1.3"/>
<rect x="304.73" y="695.12" width="9.55" height="82.57" stroke="#6e6e6e" fill="#fff" stroke-width="1.25"/>
<line x1="309.5" y1="692" x2="309.5" y2="697" stroke="#333333" stroke-width="0.9" stroke-opacity="0.55"/>
<line x1="306.53" y1="692" x2="312.47" y2="692" stroke="#333333" stroke-width="0.9" stroke-opacity="0.55"/>
<line x1="306.53" y1="697" x2="312.47" y2="697" stroke="#333333" stroke-width="0.9" stroke-opacity="0.55"/>
<circle cx="309.25" cy="690" r="2.05" fill="#333333"/>
<circle cx="305.5" cy="698" r="2.05" fill="#333333"/>
<circle cx="313.25" cy="695" r="2.05" fill="#333333"/>
<rect x="321.98" y="735.62" width="9.55" height="42.07" stroke="#cdc935" fill="#fff" stroke-width="1.25"/>
<line x1="326.75" y1="731" x2="326.75" y2="740.5" stroke="#c4bf00" stroke-width="0.9" stroke-opacity="0.55"/>
<line x1="323.78" y1="731" x2="329.72" y2="731" stroke="#c4bf00" stroke-width="0.9" stroke-opacity="0.55"/>
<line x1="323.78" y1="740.5" x2="329.72" y2="740.5" stroke="#c4bf00" stroke-width="0.9" stroke-opacity="0.55"/>
<rect x="321.05" y="727.05" width="3.9" height="3.9" fill="#c4bf00"/>
<rect x="328.05" y="728.05" width="3.9" height="3.9" fill="#c4bf00"/>
<rect x="324.8" y="743.55" width="3.9" height="3.9" fill="#c4bf00"/>
<rect x="338.62" y="741.92" width="9.55" height="35.78" stroke="#ff4a4a" fill="#fff" stroke-width="1.25"/>
<line x1="343.4" y1="735" x2="343.4" y2="746" stroke="#ff0000" stroke-width="0.9" stroke-opacity="0.55"/>
<line x1="340.43" y1="735" x2="346.37" y2="735" stroke="#ff0000" stroke-width="0.9" stroke-opacity="0.55"/>
<line x1="340.43" y1="746" x2="346.37" y2="746" stroke="#ff0000" stroke-width="0.9" stroke-opacity="0.55"/>
<path d="M339.25 733.04 L341.49 737.34 L337.01 737.34 Z" fill="#ff0000"/>
<path d="M347.5 734.54 L349.74 738.84 L345.26 738.84 Z" fill="#ff0000"/>
<path d="M343 748.54 L345.24 752.84 L340.76 752.84 Z" fill="#ff0000"/>
<rect x="355.48" y="761.12" width="9.55" height="16.57" stroke="#a67c45" fill="#fff" stroke-width="1.25"/>
<line x1="360.25" y1="751.3" x2="360.25" y2="768" stroke="#9a621c" stroke-width="0.9" stroke-opacity="0.55"/>
<line x1="357.28" y1="751.3" x2="363.22" y2="751.3" stroke="#9a621c" stroke-width="0.9" stroke-opacity="0.55"/>
<line x1="357.28" y1="768" x2="363.22" y2="768" stroke="#9a621c" stroke-width="0.9" stroke-opacity="0.55"/>
<rect x="358.15" y="741.25" width="3.9" height="3.9" fill="#9a621c"/>
<rect x="358.15" y="763.15" width="3.9" height="3.9" fill="#9a621c"/>
<rect x="358.15" y="768.65" width="3.9" height="3.9" fill="#9a621c"/>
<rect x="372.23" y="771.12" width="9.55" height="6.57" stroke="#d8408c" fill="#fff" stroke-width="1.25"/>
<line x1="377" y1="766" x2="377" y2="773" stroke="#d1006a" stroke-width="0.9" stroke-opacity="0.55"/>
<line x1="374.03" y1="766" x2="379.97" y2="766" stroke="#d1006a" stroke-width="0.9" stroke-opacity="0.55"/>
<line x1="374.03" y1="773" x2="379.97" y2="773" stroke="#d1006a" stroke-width="0.9" stroke-opacity="0.55"/>
<path d="M377 763.04 L379.24 767.34 L374.76 767.34 Z" fill="#d1006a"/>
<path d="M377 768.04 L379.24 772.34 L374.76 772.34 Z" fill="#d1006a"/>
<path d="M377 773.54 L379.24 777.84 L374.76 777.84 Z" fill="#d1006a"/>
<line x1="298" y1="692.8" x2="294.6" y2="692.8" stroke="#000" stroke-width="1.2"/>
<text x="293.2" y="695.7" font-size="8.2" text-anchor="end" fill="#222">6×10<tspan font-size="5.9" dy="-3.12">4</tspan></text>
<line x1="298" y1="721.3" x2="294.6" y2="721.3" stroke="#000" stroke-width="1.2"/>
<text x="293.2" y="724.2" font-size="8.2" text-anchor="end" fill="#222">4×10<tspan font-size="5.9" dy="-3.12">4</tspan></text>
<line x1="298" y1="749.8" x2="294.6" y2="749.8" stroke="#000" stroke-width="1.2"/>
<text x="293.2" y="752.7" font-size="8.2" text-anchor="end" fill="#222">2×10<tspan font-size="5.9" dy="-3.12">4</tspan></text>
<line x1="298" y1="778.3" x2="294.6" y2="778.3" stroke="#000" stroke-width="1.2"/>
<text x="292.3" y="781.3" font-size="8.2" text-anchor="end" font-weight="normal" fill="#222">0</text>
<text x="263.8" y="728.5" font-size="9.5" text-anchor="middle" font-weight="normal" fill="#222" transform="rotate(-90 263.8 728.5)">Residual AML counts</text>
<path d="M327.5 698.9 L327.5 696.6 L376.5 696.6 L376.5 757" stroke="#000" fill="none" stroke-width="1.4"/>
<path d="M346.9 687.4 L347.57 688.67 L348.99 688.92 L347.99 689.95 L348.19 691.38 L346.9 690.74 L345.61 691.38 L345.81 689.95 L344.81 688.92 L346.23 688.67ZM352.3 687.4 L352.97 688.67 L354.39 688.92 L353.39 689.95 L353.59 691.38 L352.3 690.74 L351.01 691.38 L351.21 689.95 L350.21 688.92 L351.63 688.67Z" fill="#111"/>
<path d="M325.9 717.3 L325.9 714.7 L360 714.7 L360 736.2" stroke="#000" fill="none" stroke-width="1.4"/>
<path d="M342 706 L342.67 707.27 L344.09 707.52 L343.09 708.55 L343.29 709.98 L342 709.34 L340.71 709.98 L340.91 708.55 L339.91 707.52 L341.33 707.27Z" fill="#111"/>
<line x1="455.5" y1="678" x2="455.5" y2="779.55" stroke="#000" stroke-width="1.6"/>
<line x1="454.7" y1="778.75" x2="546.3" y2="778.75" stroke="#000" stroke-width="1.6"/>
<line x1="466.25" y1="778.75" x2="466.25" y2="782.95" stroke="#000" stroke-width="1.3"/>
<line x1="483.75" y1="778.75" x2="483.75" y2="782.95" stroke="#000" stroke-width="1.3"/>
<line x1="500.75" y1="778.75" x2="500.75" y2="782.95" stroke="#000" stroke-width="1.3"/>
<line x1="517.5" y1="778.75" x2="517.5" y2="782.95" stroke="#000" stroke-width="1.3"/>
<line x1="534.6" y1="778.75" x2="534.6" y2="782.95" stroke="#000" stroke-width="1.3"/>
<rect x="461.38" y="693.12" width="9.75" height="85.03" stroke="#6e6e6e" fill="#fff" stroke-width="1.25"/>
<line x1="466.25" y1="689" x2="466.25" y2="695" stroke="#333333" stroke-width="0.9" stroke-opacity="0.55"/>
<line x1="463.23" y1="689" x2="469.27" y2="689" stroke="#333333" stroke-width="0.9" stroke-opacity="0.55"/>
<line x1="463.23" y1="695" x2="469.27" y2="695" stroke="#333333" stroke-width="0.9" stroke-opacity="0.55"/>
<circle cx="462.5" cy="688" r="2.05" fill="#333333"/>
<circle cx="470.5" cy="688" r="2.05" fill="#333333"/>
<circle cx="466.75" cy="697" r="2.05" fill="#333333"/>
<rect x="478.88" y="728.12" width="9.75" height="50.03" stroke="#cdc935" fill="#fff" stroke-width="1.25"/>
<line x1="483.75" y1="718.3" x2="483.75" y2="736.3" stroke="#c4bf00" stroke-width="0.9" stroke-opacity="0.55"/>
<line x1="480.73" y1="718.3" x2="486.77" y2="718.3" stroke="#c4bf00" stroke-width="0.9" stroke-opacity="0.55"/>
<line x1="480.73" y1="736.3" x2="486.77" y2="736.3" stroke="#c4bf00" stroke-width="0.9" stroke-opacity="0.55"/>
<rect x="481.3" y="710.55" width="3.9" height="3.9" fill="#c4bf00"/>
<rect x="481.3" y="724.35" width="3.9" height="3.9" fill="#c4bf00"/>
<rect x="481.3" y="740.55" width="3.9" height="3.9" fill="#c4bf00"/>
<rect x="495.88" y="750.62" width="9.75" height="27.52" stroke="#ff4a4a" fill="#fff" stroke-width="1.25"/>
<line x1="500.75" y1="746.5" x2="500.75" y2="753" stroke="#ff0000" stroke-width="0.9" stroke-opacity="0.55"/>
<line x1="497.73" y1="746.5" x2="503.77" y2="746.5" stroke="#ff0000" stroke-width="0.9" stroke-opacity="0.55"/>
<line x1="497.73" y1="753" x2="503.77" y2="753" stroke="#ff0000" stroke-width="0.9" stroke-opacity="0.55"/>
<path d="M500.75 741.84 L502.99 746.14 L498.51 746.14 Z" fill="#ff0000"/>
<path d="M500.75 747.54 L502.99 751.84 L498.51 751.84 Z" fill="#ff0000"/>
<path d="M500.75 752.54 L502.99 756.84 L498.51 756.84 Z" fill="#ff0000"/>
<rect x="512.62" y="770.62" width="9.75" height="7.53" stroke="#a67c45" fill="#fff" stroke-width="1.25"/>
<line x1="517.5" y1="763.3" x2="517.5" y2="776" stroke="#9a621c" stroke-width="0.9" stroke-opacity="0.55"/>
<line x1="514.48" y1="763.3" x2="520.52" y2="763.3" stroke="#9a621c" stroke-width="0.9" stroke-opacity="0.55"/>
<line x1="514.48" y1="776" x2="520.52" y2="776" stroke="#9a621c" stroke-width="0.9" stroke-opacity="0.55"/>
<rect x="515.55" y="755.05" width="3.9" height="3.9" fill="#9a621c"/>
<rect x="511.8" y="773.55" width="3.9" height="3.9" fill="#9a621c"/>
<rect x="519.3" y="773.55" width="3.9" height="3.9" fill="#9a621c"/>
<rect x="529.73" y="776.92" width="9.75" height="1.23" stroke="#d8408c" fill="#fff" stroke-width="1.25"/>
<line x1="534.6" y1="775" x2="534.6" y2="777.5" stroke="#d1006a" stroke-width="0.9" stroke-opacity="0.55"/>
<line x1="531.58" y1="775" x2="537.62" y2="775" stroke="#d1006a" stroke-width="0.9" stroke-opacity="0.55"/>
<line x1="531.58" y1="777.5" x2="537.62" y2="777.5" stroke="#d1006a" stroke-width="0.9" stroke-opacity="0.55"/>
<path d="M531.25 773.84 L533.49 778.14 L529.01 778.14 Z" fill="#d1006a"/>
<path d="M538.75 773.84 L540.99 778.14 L536.51 778.14 Z" fill="#d1006a"/>
<path d="M534.6 776.04 L536.84 780.34 L532.36 780.34 Z" fill="#d1006a"/>
<line x1="455.5" y1="689.15" x2="452.1" y2="689.15" stroke="#000" stroke-width="1.2"/>
<text x="450.6" y="692.05" font-size="8.2" text-anchor="end" fill="#222">4×10<tspan font-size="5.9" dy="-3.12">4</tspan></text>
<line x1="455.5" y1="711.55" x2="452.1" y2="711.55" stroke="#000" stroke-width="1.2"/>
<text x="450.6" y="714.45" font-size="8.2" text-anchor="end" fill="#222">3×10<tspan font-size="5.9" dy="-3.12">4</tspan></text>
<line x1="455.5" y1="733.95" x2="452.1" y2="733.95" stroke="#000" stroke-width="1.2"/>
<text x="450.6" y="736.85" font-size="8.2" text-anchor="end" fill="#222">2×10<tspan font-size="5.9" dy="-3.12">4</tspan></text>
<line x1="455.5" y1="756.35" x2="452.1" y2="756.35" stroke="#000" stroke-width="1.2"/>
<text x="450.6" y="759.25" font-size="8.2" text-anchor="end" fill="#222">1×10<tspan font-size="5.9" dy="-3.12">4</tspan></text>
<line x1="455.5" y1="778.75" x2="452.1" y2="778.75" stroke="#000" stroke-width="1.2"/>
<text x="449.7" y="781.8" font-size="8.2" text-anchor="end" font-weight="normal" fill="#222">0</text>
<text x="422" y="728.5" font-size="9.5" text-anchor="middle" font-weight="normal" fill="#222" transform="rotate(-90 422 728.5)">Residual AML counts</text>
<path d="M483.7 694.9 L483.7 693.1 L533 693.1 L533 752.5" stroke="#000" fill="none" stroke-width="1.4"/>
<path d="M504.2 686.6 L504.87 687.87 L506.29 688.12 L505.29 689.15 L505.49 690.58 L504.2 689.94 L502.91 690.58 L503.11 689.15 L502.11 688.12 L503.53 687.87ZM509.6 686.6 L510.27 687.87 L511.69 688.12 L510.69 689.15 L510.89 690.58 L509.6 689.94 L508.31 690.58 L508.51 689.15 L507.51 688.12 L508.93 687.87ZM515 686.6 L515.67 687.87 L517.09 688.12 L516.09 689.15 L516.29 690.58 L515 689.94 L513.71 690.58 L513.91 689.15 L512.91 688.12 L514.33 687.87Z" fill="#111"/>
<path d="M483.4 706.3 L483.4 703.6 L516.3 703.6 L516.3 742.5" stroke="#000" fill="none" stroke-width="1.4"/>
<path d="M497.9 697.1 L498.57 698.37 L499.99 698.62 L498.99 699.65 L499.19 701.08 L497.9 700.44 L496.61 701.08 L496.81 699.65 L495.81 698.62 L497.23 698.37ZM503.3 697.1 L503.97 698.37 L505.39 698.62 L504.39 699.65 L504.59 701.08 L503.3 700.44 L502.01 701.08 L502.21 699.65 L501.21 698.62 L502.63 698.37Z" fill="#111"/>
<circle cx="566.8" cy="685" r="2" fill="#333333"/>
<text x="578" y="688.3" font-size="8.4" text-anchor="start" font-weight="normal" fill="#222">NT</text>
<rect x="564.9" y="696.4" width="3.8" height="3.8" fill="#c4bf00"/>
<text x="578" y="701.5" font-size="8.4" text-anchor="start" font-weight="normal" fill="#222">CAR</text>
<path d="M566.8 709.41 L568.98 713.6 L564.62 713.6 Z" fill="#ff0000"/>
<text x="578" y="715" font-size="8.4" text-anchor="start" font-weight="normal" fill="#222">CAR+ΔSSR</text>
<rect x="564.9" y="723.1" width="3.8" height="3.8" fill="#9a621c"/>
<text x="578" y="728.3" font-size="8.4" text-anchor="start" font-weight="normal" fill="#222">CAR+SSR</text>
<path d="M566.8 736.41 L568.98 740.6 L564.62 740.6 Z" fill="#d1006a"/>
<text x="578" y="742" font-size="8.4" text-anchor="start" font-weight="normal" fill="#222">CAR+CD38CAR</text>
<text x="361.6" y="812" font-size="14.3" text-anchor="start" font-weight="normal" fill="#000">AML blasts (72hrs)</text>
<line x1="285" y1="815.5" x2="551" y2="815.5" stroke="#000" stroke-width="1.4"/>
<text x="338.3" y="832" font-size="12" text-anchor="start" font-weight="normal" fill="#000">Pt1</text>
<text x="496.3" y="832.3" font-size="12" text-anchor="start" font-weight="normal" fill="#000">Pt2</text>
<line x1="297" y1="844.6" x2="297" y2="946.3" stroke="#000" stroke-width="1.6"/>
<line x1="296.2" y1="945.5" x2="388.3" y2="945.5" stroke="#000" stroke-width="1.6"/>
<line x1="308.75" y1="945.5" x2="308.75" y2="949.7" stroke="#000" stroke-width="1.3"/>
<line x1="325.75" y1="945.5" x2="325.75" y2="949.7" stroke="#000" stroke-width="1.3"/>
<line x1="342.75" y1="945.5" x2="342.75" y2="949.7" stroke="#000" stroke-width="1.3"/>
<line x1="359.75" y1="945.5" x2="359.75" y2="949.7" stroke="#000" stroke-width="1.3"/>
<line x1="377" y1="945.5" x2="377" y2="949.7" stroke="#000" stroke-width="1.3"/>
<rect x="304.23" y="865.12" width="9.05" height="79.78" stroke="#6e6e6e" fill="#fff" stroke-width="1.25"/>
<line x1="308.75" y1="863" x2="308.75" y2="866" stroke="#333333" stroke-width="0.9" stroke-opacity="0.55"/>
<line x1="305.92" y1="863" x2="311.58" y2="863" stroke="#333333" stroke-width="0.9" stroke-opacity="0.55"/>
<line x1="305.92" y1="866" x2="311.58" y2="866" stroke="#333333" stroke-width="0.9" stroke-opacity="0.55"/>
<circle cx="305.5" cy="865" r="2.05" fill="#333333"/>
<circle cx="309" cy="864.6" r="2.05" fill="#333333"/>
<circle cx="312.6" cy="865" r="2.05" fill="#333333"/>
<rect x="321.23" y="874.42" width="9.05" height="70.48" stroke="#cdc935" fill="#fff" stroke-width="1.25"/>
<line x1="325.75" y1="871.5" x2="325.75" y2="875" stroke="#c4bf00" stroke-width="0.9" stroke-opacity="0.55"/>
<line x1="322.92" y1="871.5" x2="328.58" y2="871.5" stroke="#c4bf00" stroke-width="0.9" stroke-opacity="0.55"/>
<line x1="322.92" y1="875" x2="328.58" y2="875" stroke="#c4bf00" stroke-width="0.9" stroke-opacity="0.55"/>
<rect x="320.05" y="871.45" width="3.9" height="3.9" fill="#c4bf00"/>
<rect x="324.05" y="870.25" width="3.9" height="3.9" fill="#c4bf00"/>
<rect x="328.05" y="871.85" width="3.9" height="3.9" fill="#c4bf00"/>
<rect x="338.23" y="883.62" width="9.05" height="61.28" stroke="#ff4a4a" fill="#fff" stroke-width="1.25"/>
<line x1="342.75" y1="881.5" x2="342.75" y2="884.5" stroke="#ff0000" stroke-width="0.9" stroke-opacity="0.55"/>
<line x1="339.92" y1="881.5" x2="345.58" y2="881.5" stroke="#ff0000" stroke-width="0.9" stroke-opacity="0.55"/>
<line x1="339.92" y1="884.5" x2="345.58" y2="884.5" stroke="#ff0000" stroke-width="0.9" stroke-opacity="0.55"/>
<path d="M339.4 881.14 L341.64 885.44 L337.16 885.44 Z" fill="#ff0000"/>
<path d="M342.8 879.54 L345.04 883.84 L340.56 883.84 Z" fill="#ff0000"/>
<path d="M346.2 881.14 L348.44 885.44 L343.96 885.44 Z" fill="#ff0000"/>
<rect x="355.23" y="906.12" width="9.05" height="38.78" stroke="#a67c45" fill="#fff" stroke-width="1.25"/>
<line x1="359.75" y1="902" x2="359.75" y2="913" stroke="#9a621c" stroke-width="0.9" stroke-opacity="0.55"/>
<line x1="356.92" y1="902" x2="362.58" y2="902" stroke="#9a621c" stroke-width="0.9" stroke-opacity="0.55"/>
<line x1="356.92" y1="913" x2="362.58" y2="913" stroke="#9a621c" stroke-width="0.9" stroke-opacity="0.55"/>
<rect x="357.55" y="897.55" width="3.9" height="3.9" fill="#9a621c"/>
<rect x="357.55" y="906.85" width="3.9" height="3.9" fill="#9a621c"/>
<rect x="357.55" y="926.85" width="3.9" height="3.9" fill="#9a621c"/>
<rect x="372.48" y="915.62" width="9.05" height="29.27" stroke="#d8408c" fill="#fff" stroke-width="1.25"/>
<line x1="377" y1="910" x2="377" y2="928" stroke="#d1006a" stroke-width="0.9" stroke-opacity="0.55"/>
<line x1="374.17" y1="910" x2="379.83" y2="910" stroke="#d1006a" stroke-width="0.9" stroke-opacity="0.55"/>
<line x1="374.17" y1="928" x2="379.83" y2="928" stroke="#d1006a" stroke-width="0.9" stroke-opacity="0.55"/>
<path d="M376.75 905.04 L378.99 909.34 L374.51 909.34 Z" fill="#d1006a"/>
<path d="M376.75 922.04 L378.99 926.34 L374.51 926.34 Z" fill="#d1006a"/>
<path d="M376.75 943.54 L378.99 947.84 L374.51 947.84 Z" fill="#d1006a"/>
<line x1="297" y1="945.5" x2="293.6" y2="945.5" stroke="#000" stroke-width="1.2"/>
<text x="292.8" y="948.4" font-size="8" text-anchor="end" fill="#222">10<tspan font-size="5.76" dy="-2.8">0</tspan></text>
<line x1="297" y1="928.83" x2="293.6" y2="928.83" stroke="#000" stroke-width="1.2"/>
<text x="292.8" y="931.73" font-size="8" text-anchor="end" fill="#222">10<tspan font-size="5.76" dy="-2.8">1</tspan></text>
<line x1="297" y1="912.16" x2="293.6" y2="912.16" stroke="#000" stroke-width="1.2"/>
<text x="292.8" y="915.06" font-size="8" text-anchor="end" fill="#222">10<tspan font-size="5.76" dy="-2.8">2</tspan></text>
<line x1="297" y1="895.49" x2="293.6" y2="895.49" stroke="#000" stroke-width="1.2"/>
<text x="292.8" y="898.39" font-size="8" text-anchor="end" fill="#222">10<tspan font-size="5.76" dy="-2.8">3</tspan></text>
<line x1="297" y1="878.82" x2="293.6" y2="878.82" stroke="#000" stroke-width="1.2"/>
<text x="292.8" y="881.72" font-size="8" text-anchor="end" fill="#222">10<tspan font-size="5.76" dy="-2.8">4</tspan></text>
<line x1="297" y1="862.15" x2="293.6" y2="862.15" stroke="#000" stroke-width="1.2"/>
<text x="292.8" y="865.05" font-size="8" text-anchor="end" fill="#222">10<tspan font-size="5.76" dy="-2.8">5</tspan></text>
<line x1="297" y1="845.48" x2="293.6" y2="845.48" stroke="#000" stroke-width="1.2"/>
<text x="292.8" y="848.38" font-size="8" text-anchor="end" fill="#222">10<tspan font-size="5.76" dy="-2.8">6</tspan></text>
<line x1="297" y1="940.48" x2="295" y2="940.48" stroke="#000" stroke-width="0.8"/>
<line x1="297" y1="937.55" x2="295" y2="937.55" stroke="#000" stroke-width="0.8"/>
<line x1="297" y1="935.46" x2="295" y2="935.46" stroke="#000" stroke-width="0.8"/>
<line x1="297" y1="933.85" x2="295" y2="933.85" stroke="#000" stroke-width="0.8"/>
<line x1="297" y1="932.53" x2="295" y2="932.53" stroke="#000" stroke-width="0.8"/>
<line x1="297" y1="931.41" x2="295" y2="931.41" stroke="#000" stroke-width="0.8"/>
<line x1="297" y1="930.45" x2="295" y2="930.45" stroke="#000" stroke-width="0.8"/>
<line x1="297" y1="929.59" x2="295" y2="929.59" stroke="#000" stroke-width="0.8"/>
<line x1="297" y1="923.81" x2="295" y2="923.81" stroke="#000" stroke-width="0.8"/>
<line x1="297" y1="920.88" x2="295" y2="920.88" stroke="#000" stroke-width="0.8"/>
<line x1="297" y1="918.79" x2="295" y2="918.79" stroke="#000" stroke-width="0.8"/>
<line x1="297" y1="917.18" x2="295" y2="917.18" stroke="#000" stroke-width="0.8"/>
<line x1="297" y1="915.86" x2="295" y2="915.86" stroke="#000" stroke-width="0.8"/>
<line x1="297" y1="914.74" x2="295" y2="914.74" stroke="#000" stroke-width="0.8"/>
<line x1="297" y1="913.78" x2="295" y2="913.78" stroke="#000" stroke-width="0.8"/>
<line x1="297" y1="912.92" x2="295" y2="912.92" stroke="#000" stroke-width="0.8"/>
<line x1="297" y1="907.14" x2="295" y2="907.14" stroke="#000" stroke-width="0.8"/>
<line x1="297" y1="904.21" x2="295" y2="904.21" stroke="#000" stroke-width="0.8"/>
<line x1="297" y1="902.12" x2="295" y2="902.12" stroke="#000" stroke-width="0.8"/>
<line x1="297" y1="900.51" x2="295" y2="900.51" stroke="#000" stroke-width="0.8"/>
<line x1="297" y1="899.19" x2="295" y2="899.19" stroke="#000" stroke-width="0.8"/>
<line x1="297" y1="898.07" x2="295" y2="898.07" stroke="#000" stroke-width="0.8"/>
<line x1="297" y1="897.11" x2="295" y2="897.11" stroke="#000" stroke-width="0.8"/>
<line x1="297" y1="896.25" x2="295" y2="896.25" stroke="#000" stroke-width="0.8"/>
<line x1="297" y1="890.47" x2="295" y2="890.47" stroke="#000" stroke-width="0.8"/>
<line x1="297" y1="887.54" x2="295" y2="887.54" stroke="#000" stroke-width="0.8"/>
<line x1="297" y1="885.45" x2="295" y2="885.45" stroke="#000" stroke-width="0.8"/>
<line x1="297" y1="883.84" x2="295" y2="883.84" stroke="#000" stroke-width="0.8"/>
<line x1="297" y1="882.52" x2="295" y2="882.52" stroke="#000" stroke-width="0.8"/>
<line x1="297" y1="881.4" x2="295" y2="881.4" stroke="#000" stroke-width="0.8"/>
<line x1="297" y1="880.44" x2="295" y2="880.44" stroke="#000" stroke-width="0.8"/>
<line x1="297" y1="879.58" x2="295" y2="879.58" stroke="#000" stroke-width="0.8"/>
<line x1="297" y1="873.8" x2="295" y2="873.8" stroke="#000" stroke-width="0.8"/>
<line x1="297" y1="870.87" x2="295" y2="870.87" stroke="#000" stroke-width="0.8"/>
<line x1="297" y1="868.78" x2="295" y2="868.78" stroke="#000" stroke-width="0.8"/>
<line x1="297" y1="867.17" x2="295" y2="867.17" stroke="#000" stroke-width="0.8"/>
<line x1="297" y1="865.85" x2="295" y2="865.85" stroke="#000" stroke-width="0.8"/>
<line x1="297" y1="864.73" x2="295" y2="864.73" stroke="#000" stroke-width="0.8"/>
<line x1="297" y1="863.77" x2="295" y2="863.77" stroke="#000" stroke-width="0.8"/>
<line x1="297" y1="862.91" x2="295" y2="862.91" stroke="#000" stroke-width="0.8"/>
<line x1="297" y1="857.13" x2="295" y2="857.13" stroke="#000" stroke-width="0.8"/>
<line x1="297" y1="854.2" x2="295" y2="854.2" stroke="#000" stroke-width="0.8"/>
<line x1="297" y1="852.11" x2="295" y2="852.11" stroke="#000" stroke-width="0.8"/>
<line x1="297" y1="850.5" x2="295" y2="850.5" stroke="#000" stroke-width="0.8"/>
<line x1="297" y1="849.18" x2="295" y2="849.18" stroke="#000" stroke-width="0.8"/>
<line x1="297" y1="848.06" x2="295" y2="848.06" stroke="#000" stroke-width="0.8"/>
<line x1="297" y1="847.1" x2="295" y2="847.1" stroke="#000" stroke-width="0.8"/>
<line x1="297" y1="846.24" x2="295" y2="846.24" stroke="#000" stroke-width="0.8"/>
<text x="273.4" y="893" font-size="9.5" text-anchor="middle" font-weight="normal" fill="#222" transform="rotate(-90 273.4 893)">Residual AML counts (log)</text>
<path d="M325.2 850.3 L325.2 845.5 L376.6 845.5 L376.6 906" stroke="#000" fill="none" stroke-width="1.4"/>
<path d="M345.8 838.6 L346.44 839.82 L347.8 840.05 L346.84 841.04 L347.03 842.4 L345.8 841.79 L344.57 842.4 L344.76 841.04 L343.8 840.05 L345.16 839.82ZM351.1 838.6 L351.74 839.82 L353.1 840.05 L352.14 841.04 L352.33 842.4 L351.1 841.79 L349.87 842.4 L350.06 841.04 L349.1 840.05 L350.46 839.82ZM356.4 838.6 L357.04 839.82 L358.4 840.05 L357.44 841.04 L357.63 842.4 L356.4 841.79 L355.17 842.4 L355.36 841.04 L354.4 840.05 L355.76 839.82Z" fill="#111"/>
<path d="M325.2 862.6 L325.2 856.8 L360 856.8 L360 892.7" stroke="#000" fill="none" stroke-width="1.4"/>
<path d="M339.5 850.3 L340.14 851.52 L341.5 851.75 L340.54 852.74 L340.73 854.1 L339.5 853.49 L338.27 854.1 L338.46 852.74 L337.5 851.75 L338.86 851.52ZM344.8 850.3 L345.44 851.52 L346.8 851.75 L345.84 852.74 L346.03 854.1 L344.8 853.49 L343.57 854.1 L343.76 852.74 L342.8 851.75 L344.16 851.52ZM350.1 850.3 L350.74 851.52 L352.1 851.75 L351.14 852.74 L351.33 854.1 L350.1 853.49 L348.87 854.1 L349.06 852.74 L348.1 851.75 L349.46 851.52Z" fill="#111"/>
<line x1="455.5" y1="843" x2="455.5" y2="946.05" stroke="#000" stroke-width="1.6"/>
<line x1="454.7" y1="945.25" x2="548" y2="945.25" stroke="#000" stroke-width="1.6"/>
<line x1="468" y1="945.25" x2="468" y2="949.45" stroke="#000" stroke-width="1.3"/>
<line x1="485" y1="945.25" x2="485" y2="949.45" stroke="#000" stroke-width="1.3"/>
<line x1="502" y1="945.25" x2="502" y2="949.45" stroke="#000" stroke-width="1.3"/>
<line x1="519.25" y1="945.25" x2="519.25" y2="949.45" stroke="#000" stroke-width="1.3"/>
<line x1="536.5" y1="945.25" x2="536.5" y2="949.45" stroke="#000" stroke-width="1.3"/>
<rect x="463.38" y="865.62" width="9.25" height="79.03" stroke="#6e6e6e" fill="#fff" stroke-width="1.25"/>
<line x1="468" y1="863.5" x2="468" y2="866.5" stroke="#333333" stroke-width="0.9" stroke-opacity="0.55"/>
<line x1="465.11" y1="863.5" x2="470.89" y2="863.5" stroke="#333333" stroke-width="0.9" stroke-opacity="0.55"/>
<line x1="465.11" y1="866.5" x2="470.89" y2="866.5" stroke="#333333" stroke-width="0.9" stroke-opacity="0.55"/>
<circle cx="464" cy="864.6" r="2.05" fill="#333333"/>
<circle cx="468" cy="864" r="2.05" fill="#333333"/>
<circle cx="472" cy="864.6" r="2.05" fill="#333333"/>
<rect x="480.38" y="885.62" width="9.25" height="59.03" stroke="#cdc935" fill="#fff" stroke-width="1.25"/>
<line x1="485" y1="883" x2="485" y2="887" stroke="#c4bf00" stroke-width="0.9" stroke-opacity="0.55"/>
<line x1="482.11" y1="883" x2="487.89" y2="883" stroke="#c4bf00" stroke-width="0.9" stroke-opacity="0.55"/>
<line x1="482.11" y1="887" x2="487.89" y2="887" stroke="#c4bf00" stroke-width="0.9" stroke-opacity="0.55"/>
<rect x="479.05" y="882.25" width="3.9" height="3.9" fill="#c4bf00"/>
<rect x="483.05" y="881.05" width="3.9" height="3.9" fill="#c4bf00"/>
<rect x="487.05" y="882.25" width="3.9" height="3.9" fill="#c4bf00"/>
<rect x="497.38" y="904.42" width="9.25" height="40.23" stroke="#ff4a4a" fill="#fff" stroke-width="1.25"/>
<line x1="502" y1="900.5" x2="502" y2="906" stroke="#ff0000" stroke-width="0.9" stroke-opacity="0.55"/>
<line x1="499.11" y1="900.5" x2="504.89" y2="900.5" stroke="#ff0000" stroke-width="0.9" stroke-opacity="0.55"/>
<line x1="499.11" y1="906" x2="504.89" y2="906" stroke="#ff0000" stroke-width="0.9" stroke-opacity="0.55"/>
<path d="M502 897.14 L504.24 901.44 L499.76 901.44 Z" fill="#ff0000"/>
<path d="M498.8 903.84 L501.04 908.14 L496.56 908.14 Z" fill="#ff0000"/>
<path d="M506.3 902.14 L508.54 906.44 L504.06 906.44 Z" fill="#ff0000"/>
<rect x="514.62" y="935.62" width="9.25" height="9.02" stroke="#a67c45" fill="#fff" stroke-width="1.25"/>
<line x1="519.25" y1="928" x2="519.25" y2="945" stroke="#9a621c" stroke-width="0.9" stroke-opacity="0.55"/>
<line x1="516.36" y1="928" x2="522.14" y2="928" stroke="#9a621c" stroke-width="0.9" stroke-opacity="0.55"/>
<line x1="516.36" y1="945" x2="522.14" y2="945" stroke="#9a621c" stroke-width="0.9" stroke-opacity="0.55"/>
<rect x="517.3" y="926.35" width="3.9" height="3.9" fill="#9a621c"/>
<rect x="513.05" y="943.25" width="3.9" height="3.9" fill="#9a621c"/>
<rect x="521.05" y="943.25" width="3.9" height="3.9" fill="#9a621c"/>
<rect x="531.88" y="930.62" width="9.25" height="14.02" stroke="#d8408c" fill="#fff" stroke-width="1.25"/>
<line x1="536.5" y1="926" x2="536.5" y2="935" stroke="#d1006a" stroke-width="0.9" stroke-opacity="0.55"/>
<line x1="533.61" y1="926" x2="539.39" y2="926" stroke="#d1006a" stroke-width="0.9" stroke-opacity="0.55"/>
<line x1="533.61" y1="935" x2="539.39" y2="935" stroke="#d1006a" stroke-width="0.9" stroke-opacity="0.55"/>
<path d="M533.25 925.54 L535.49 929.84 L531.01 929.84 Z" fill="#d1006a"/>
<path d="M540 925.54 L542.24 929.84 L537.76 929.84 Z" fill="#d1006a"/>
<path d="M536.25 944.04 L538.49 948.34 L534.01 948.34 Z" fill="#d1006a"/>
<line x1="455.5" y1="945.25" x2="452.1" y2="945.25" stroke="#000" stroke-width="1.2"/>
<text x="451.2" y="948.15" font-size="8" text-anchor="end" fill="#222">10<tspan font-size="5.76" dy="-2.8">0</tspan></text>
<line x1="455.5" y1="928.33" x2="452.1" y2="928.33" stroke="#000" stroke-width="1.2"/>
<text x="451.2" y="931.23" font-size="8" text-anchor="end" fill="#222">10<tspan font-size="5.76" dy="-2.8">1</tspan></text>
<line x1="455.5" y1="911.41" x2="452.1" y2="911.41" stroke="#000" stroke-width="1.2"/>
<text x="451.2" y="914.31" font-size="8" text-anchor="end" fill="#222">10<tspan font-size="5.76" dy="-2.8">2</tspan></text>
<line x1="455.5" y1="894.49" x2="452.1" y2="894.49" stroke="#000" stroke-width="1.2"/>
<text x="451.2" y="897.39" font-size="8" text-anchor="end" fill="#222">10<tspan font-size="5.76" dy="-2.8">3</tspan></text>
<line x1="455.5" y1="877.57" x2="452.1" y2="877.57" stroke="#000" stroke-width="1.2"/>
<text x="451.2" y="880.47" font-size="8" text-anchor="end" fill="#222">10<tspan font-size="5.76" dy="-2.8">4</tspan></text>
<line x1="455.5" y1="860.65" x2="452.1" y2="860.65" stroke="#000" stroke-width="1.2"/>
<text x="451.2" y="863.55" font-size="8" text-anchor="end" fill="#222">10<tspan font-size="5.76" dy="-2.8">5</tspan></text>
<line x1="455.5" y1="843.73" x2="452.1" y2="843.73" stroke="#000" stroke-width="1.2"/>
<text x="451.2" y="846.63" font-size="8" text-anchor="end" fill="#222">10<tspan font-size="5.76" dy="-2.8">6</tspan></text>
<line x1="455.5" y1="940.16" x2="453.5" y2="940.16" stroke="#000" stroke-width="0.8"/>
<line x1="455.5" y1="937.18" x2="453.5" y2="937.18" stroke="#000" stroke-width="0.8"/>
<line x1="455.5" y1="935.06" x2="453.5" y2="935.06" stroke="#000" stroke-width="0.8"/>
<line x1="455.5" y1="933.42" x2="453.5" y2="933.42" stroke="#000" stroke-width="0.8"/>
<line x1="455.5" y1="932.08" x2="453.5" y2="932.08" stroke="#000" stroke-width="0.8"/>
<line x1="455.5" y1="930.95" x2="453.5" y2="930.95" stroke="#000" stroke-width="0.8"/>
<line x1="455.5" y1="929.97" x2="453.5" y2="929.97" stroke="#000" stroke-width="0.8"/>
<line x1="455.5" y1="929.1" x2="453.5" y2="929.1" stroke="#000" stroke-width="0.8"/>
<line x1="455.5" y1="923.24" x2="453.5" y2="923.24" stroke="#000" stroke-width="0.8"/>
<line x1="455.5" y1="920.26" x2="453.5" y2="920.26" stroke="#000" stroke-width="0.8"/>
<line x1="455.5" y1="918.14" x2="453.5" y2="918.14" stroke="#000" stroke-width="0.8"/>
<line x1="455.5" y1="916.5" x2="453.5" y2="916.5" stroke="#000" stroke-width="0.8"/>
<line x1="455.5" y1="915.16" x2="453.5" y2="915.16" stroke="#000" stroke-width="0.8"/>
<line x1="455.5" y1="914.03" x2="453.5" y2="914.03" stroke="#000" stroke-width="0.8"/>
<line x1="455.5" y1="913.05" x2="453.5" y2="913.05" stroke="#000" stroke-width="0.8"/>
<line x1="455.5" y1="912.18" x2="453.5" y2="912.18" stroke="#000" stroke-width="0.8"/>
<line x1="455.5" y1="906.32" x2="453.5" y2="906.32" stroke="#000" stroke-width="0.8"/>
<line x1="455.5" y1="903.34" x2="453.5" y2="903.34" stroke="#000" stroke-width="0.8"/>
<line x1="455.5" y1="901.22" x2="453.5" y2="901.22" stroke="#000" stroke-width="0.8"/>
<line x1="455.5" y1="899.58" x2="453.5" y2="899.58" stroke="#000" stroke-width="0.8"/>
<line x1="455.5" y1="898.24" x2="453.5" y2="898.24" stroke="#000" stroke-width="0.8"/>
<line x1="455.5" y1="897.11" x2="453.5" y2="897.11" stroke="#000" stroke-width="0.8"/>
<line x1="455.5" y1="896.13" x2="453.5" y2="896.13" stroke="#000" stroke-width="0.8"/>
<line x1="455.5" y1="895.26" x2="453.5" y2="895.26" stroke="#000" stroke-width="0.8"/>
<line x1="455.5" y1="889.4" x2="453.5" y2="889.4" stroke="#000" stroke-width="0.8"/>
<line x1="455.5" y1="886.42" x2="453.5" y2="886.42" stroke="#000" stroke-width="0.8"/>
<line x1="455.5" y1="884.3" x2="453.5" y2="884.3" stroke="#000" stroke-width="0.8"/>
<line x1="455.5" y1="882.66" x2="453.5" y2="882.66" stroke="#000" stroke-width="0.8"/>
<line x1="455.5" y1="881.32" x2="453.5" y2="881.32" stroke="#000" stroke-width="0.8"/>
<line x1="455.5" y1="880.19" x2="453.5" y2="880.19" stroke="#000" stroke-width="0.8"/>
<line x1="455.5" y1="879.21" x2="453.5" y2="879.21" stroke="#000" stroke-width="0.8"/>
<line x1="455.5" y1="878.34" x2="453.5" y2="878.34" stroke="#000" stroke-width="0.8"/>
<line x1="455.5" y1="872.48" x2="453.5" y2="872.48" stroke="#000" stroke-width="0.8"/>
<line x1="455.5" y1="869.5" x2="453.5" y2="869.5" stroke="#000" stroke-width="0.8"/>
<line x1="455.5" y1="867.38" x2="453.5" y2="867.38" stroke="#000" stroke-width="0.8"/>
<line x1="455.5" y1="865.74" x2="453.5" y2="865.74" stroke="#000" stroke-width="0.8"/>
<line x1="455.5" y1="864.4" x2="453.5" y2="864.4" stroke="#000" stroke-width="0.8"/>
<line x1="455.5" y1="863.27" x2="453.5" y2="863.27" stroke="#000" stroke-width="0.8"/>
<line x1="455.5" y1="862.29" x2="453.5" y2="862.29" stroke="#000" stroke-width="0.8"/>
<line x1="455.5" y1="861.42" x2="453.5" y2="861.42" stroke="#000" stroke-width="0.8"/>
<line x1="455.5" y1="855.56" x2="453.5" y2="855.56" stroke="#000" stroke-width="0.8"/>
<line x1="455.5" y1="852.58" x2="453.5" y2="852.58" stroke="#000" stroke-width="0.8"/>
<line x1="455.5" y1="850.46" x2="453.5" y2="850.46" stroke="#000" stroke-width="0.8"/>
<line x1="455.5" y1="848.82" x2="453.5" y2="848.82" stroke="#000" stroke-width="0.8"/>
<line x1="455.5" y1="847.48" x2="453.5" y2="847.48" stroke="#000" stroke-width="0.8"/>
<line x1="455.5" y1="846.35" x2="453.5" y2="846.35" stroke="#000" stroke-width="0.8"/>
<line x1="455.5" y1="845.37" x2="453.5" y2="845.37" stroke="#000" stroke-width="0.8"/>
<line x1="455.5" y1="844.5" x2="453.5" y2="844.5" stroke="#000" stroke-width="0.8"/>
<text x="431.4" y="893" font-size="9.5" text-anchor="middle" font-weight="normal" fill="#222" transform="rotate(-90 431.4 893)">Residual AML counts (log)</text>
<path d="M485.9 874.1 L485.9 866.5 L518.9 866.5 L518.9 917.5" stroke="#000" fill="none" stroke-width="1.4"/>
<path d="M504.2 859 L504.9 860.33 L506.39 860.59 L505.34 861.67 L505.55 863.16 L504.2 862.5 L502.85 863.16 L503.06 861.67 L502.01 860.59 L503.5 860.33Z" fill="#111"/>
<circle cx="566.5" cy="842.5" r="2" fill="#333333"/>
<text x="577.8" y="845.8" font-size="8.4" text-anchor="start" font-weight="normal" fill="#222">NT</text>
<rect x="564.6" y="853.9" width="3.8" height="3.8" fill="#c4bf00"/>
<text x="577.8" y="859" font-size="8.4" text-anchor="start" font-weight="normal" fill="#222">CAR</text>
<path d="M566.5 866.91 L568.68 871.1 L564.32 871.1 Z" fill="#ff0000"/>
<text x="577.8" y="872.5" font-size="8.4" text-anchor="start" font-weight="normal" fill="#222">CAR+ΔSSR</text>
<rect x="564.6" y="880.6" width="3.8" height="3.8" fill="#9a621c"/>
<text x="577.8" y="885.8" font-size="8.4" text-anchor="start" font-weight="normal" fill="#222">CAR+SSR</text>
<path d="M566.5 893.91 L568.68 898.1 L564.32 898.1 Z" fill="#d1006a"/>
<text x="577.8" y="899.5" font-size="8.4" text-anchor="start" font-weight="normal" fill="#222">CAR+CD38CAR</text>
</svg></body></html>
